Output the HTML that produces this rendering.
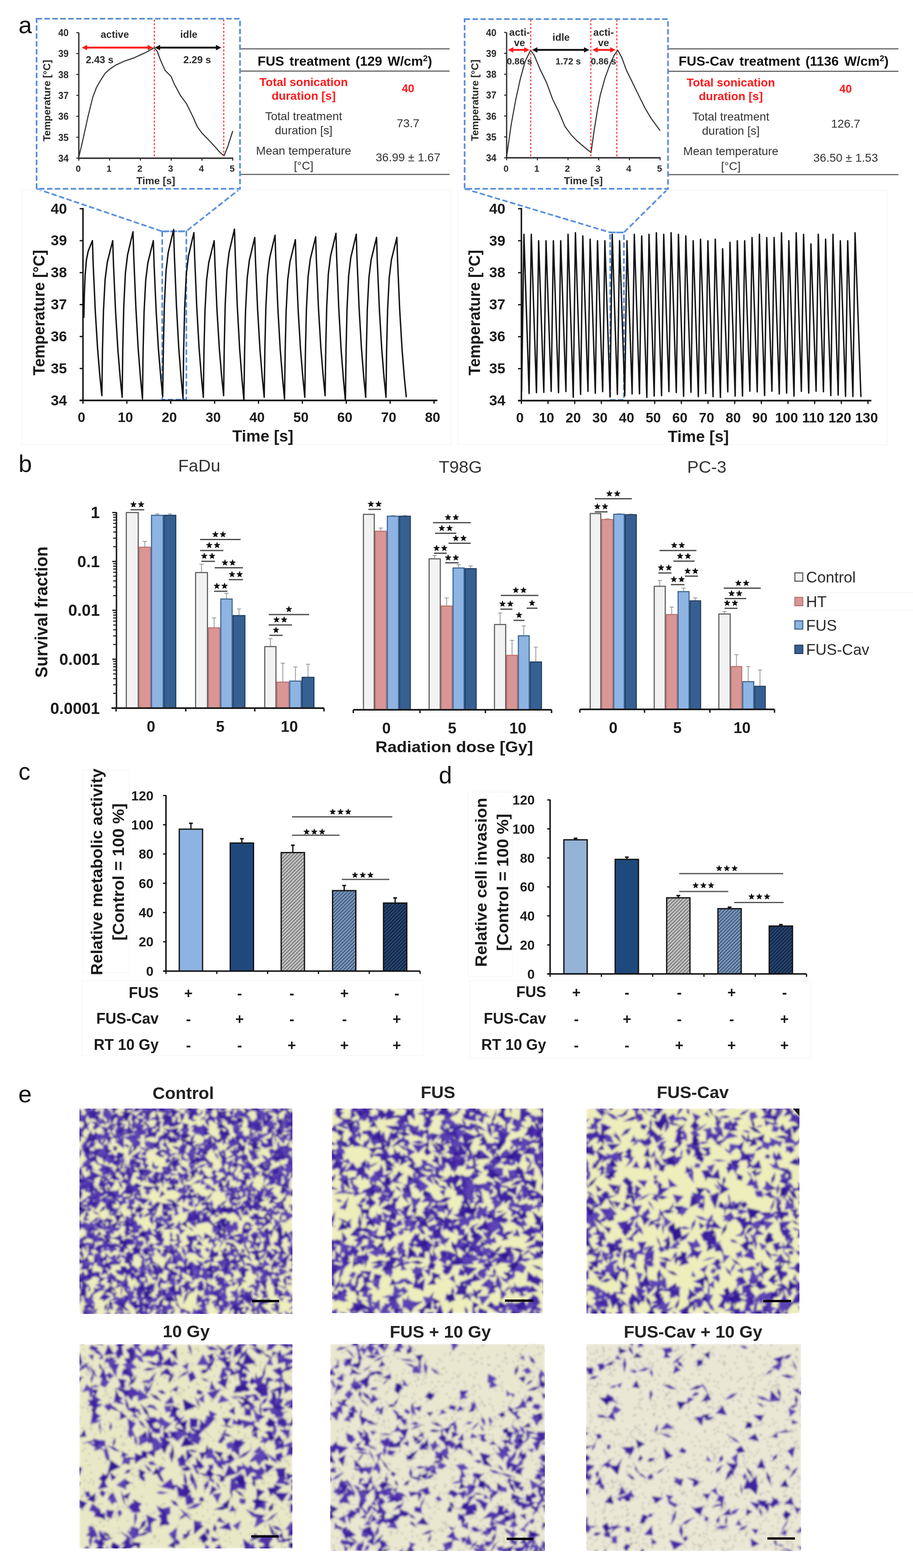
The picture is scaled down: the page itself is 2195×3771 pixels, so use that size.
<!DOCTYPE html>
<html><head><meta charset="utf-8"><title>Figure</title>
<style>html,body{margin:0;padding:0;background:#fff;} svg{display:block;} text{font-family:'Liberation Sans', Arial, sans-serif;}</style>
</head><body>
<svg width="2195" height="3771" viewBox="0 0 2195 3771">
<rect width="2195" height="3771" fill="#fff"/>
<text x="44.5" y="80.0" font-size="58" font-weight="normal" text-anchor="start" fill="#111" >a</text>
<line x1="189.5" y1="78.5" x2="189.5" y2="381.4" stroke="#2a2a2a" stroke-width="3" />
<line x1="183.5" y1="380.4" x2="189.5" y2="380.4" stroke="#2a2a2a" stroke-width="2.5" />
<text x="165.0" y="388.9" font-size="23.5" font-weight="bold" text-anchor="end" fill="#2a2a2a" textLength="25" lengthAdjust="spacingAndGlyphs">34</text>
<line x1="183.5" y1="330.1" x2="189.5" y2="330.1" stroke="#2a2a2a" stroke-width="2.5" />
<text x="165.0" y="338.6" font-size="23.5" font-weight="bold" text-anchor="end" fill="#2a2a2a" textLength="25" lengthAdjust="spacingAndGlyphs">35</text>
<line x1="183.5" y1="279.8" x2="189.5" y2="279.8" stroke="#2a2a2a" stroke-width="2.5" />
<text x="165.0" y="288.3" font-size="23.5" font-weight="bold" text-anchor="end" fill="#2a2a2a" textLength="25" lengthAdjust="spacingAndGlyphs">36</text>
<line x1="183.5" y1="229.4" x2="189.5" y2="229.4" stroke="#2a2a2a" stroke-width="2.5" />
<text x="165.0" y="237.9" font-size="23.5" font-weight="bold" text-anchor="end" fill="#2a2a2a" textLength="25" lengthAdjust="spacingAndGlyphs">37</text>
<line x1="183.5" y1="179.1" x2="189.5" y2="179.1" stroke="#2a2a2a" stroke-width="2.5" />
<text x="165.0" y="187.6" font-size="23.5" font-weight="bold" text-anchor="end" fill="#2a2a2a" textLength="25" lengthAdjust="spacingAndGlyphs">38</text>
<line x1="183.5" y1="128.8" x2="189.5" y2="128.8" stroke="#2a2a2a" stroke-width="2.5" />
<text x="165.0" y="137.3" font-size="23.5" font-weight="bold" text-anchor="end" fill="#2a2a2a" textLength="25" lengthAdjust="spacingAndGlyphs">39</text>
<line x1="183.5" y1="78.5" x2="189.5" y2="78.5" stroke="#2a2a2a" stroke-width="2.5" />
<text x="165.0" y="87.0" font-size="23.5" font-weight="bold" text-anchor="end" fill="#2a2a2a" textLength="25" lengthAdjust="spacingAndGlyphs">40</text>
<line x1="187.5" y1="380.4" x2="560.5" y2="380.4" stroke="#2a2a2a" stroke-width="3.5" />
<line x1="189.5" y1="380.4" x2="189.5" y2="386.4" stroke="#2a2a2a" stroke-width="2.5" />
<text x="188.0" y="413.4" font-size="22" font-weight="bold" text-anchor="middle" fill="#2a2a2a" >0</text>
<line x1="263.5" y1="380.4" x2="263.5" y2="386.4" stroke="#2a2a2a" stroke-width="2.5" />
<text x="262.0" y="413.4" font-size="22" font-weight="bold" text-anchor="middle" fill="#2a2a2a" >1</text>
<line x1="337.5" y1="380.4" x2="337.5" y2="386.4" stroke="#2a2a2a" stroke-width="2.5" />
<text x="336.0" y="413.4" font-size="22" font-weight="bold" text-anchor="middle" fill="#2a2a2a" >2</text>
<line x1="411.5" y1="380.4" x2="411.5" y2="386.4" stroke="#2a2a2a" stroke-width="2.5" />
<text x="410.0" y="413.4" font-size="22" font-weight="bold" text-anchor="middle" fill="#2a2a2a" >3</text>
<line x1="485.5" y1="380.4" x2="485.5" y2="386.4" stroke="#2a2a2a" stroke-width="2.5" />
<text x="484.0" y="413.4" font-size="22" font-weight="bold" text-anchor="middle" fill="#2a2a2a" >4</text>
<line x1="559.5" y1="380.4" x2="559.5" y2="386.4" stroke="#2a2a2a" stroke-width="2.5" />
<text x="558.0" y="413.4" font-size="22" font-weight="bold" text-anchor="middle" fill="#2a2a2a" >5</text>
<text x="374.5" y="443.4" font-size="24.5" font-weight="bold" text-anchor="middle" fill="#2a2a2a" >Time [s]</text>
<text x="121" y="241.95" font-size="24" font-weight="bold" text-anchor="middle" fill="#2a2a2a" transform="rotate(-90 121 241.95)" textLength="196" lengthAdjust="spacingAndGlyphs">Temperature [°C]</text>
<polyline points="189.5,377.9 198.4,340.1 211.7,279.8 222.8,234.5 232.4,209.3 242.8,191.7 252.4,176.6 263.5,166.6 278.3,156.5 300.5,146.4 322.7,138.9 344.9,128.8 359.7,121.3 370.8,114.7 378.2,123.8 385.6,143.9 396.7,169.1 411.5,184.2 418.9,201.8 433.7,229.4 448.5,249.6 463.3,279.8 474.4,304.9 485.5,320.0 500.3,335.1 518.8,355.2 529.9,367.8 538.8,374.4 548.4,350.2 559.5,315.0" fill="none" stroke="#333" stroke-width="2.6" stroke-linejoin="round" />
<line x1="371.0" y1="47.0" x2="371.0" y2="380.0" stroke="#ff1a1a" stroke-width="2.2" stroke-dasharray="5 4"/>
<line x1="538.0" y1="47.0" x2="538.0" y2="380.0" stroke="#ff1a1a" stroke-width="2.2" stroke-dasharray="5 4"/>
<line x1="208.5" y1="114.5" x2="356.0" y2="114.5" stroke="#ff1a1a" stroke-width="4.5" />
<polygon points="196.5,114.5 209.5,108.0 209.5,121.0" fill="#ff1a1a"/>
<polygon points="368,114.5 355,108.0 355,121.0" fill="#ff1a1a"/>
<line x1="384.0" y1="114.5" x2="520.0" y2="114.5" stroke="#111" stroke-width="4.5" />
<polygon points="372,114.5 385,108.0 385,121.0" fill="#111"/>
<polygon points="532,114.5 519,108.0 519,121.0" fill="#111"/>
<text x="276.0" y="91.0" font-size="24" font-weight="bold" text-anchor="middle" fill="#2a2a2a" >active</text>
<text x="454.0" y="91.0" font-size="24" font-weight="bold" text-anchor="middle" fill="#2a2a2a" >idle</text>
<text x="239.5" y="151.5" font-size="24" font-weight="bold" text-anchor="middle" fill="#2a2a2a" >2.43 s</text>
<text x="474.0" y="151.5" font-size="24" font-weight="bold" text-anchor="middle" fill="#2a2a2a" >2.29 s</text>
<line x1="1218.0" y1="78.0" x2="1218.0" y2="380.5" stroke="#2a2a2a" stroke-width="3" />
<line x1="1212.0" y1="379.5" x2="1218.0" y2="379.5" stroke="#2a2a2a" stroke-width="2.5" />
<text x="1193.5" y="388.0" font-size="23.5" font-weight="bold" text-anchor="end" fill="#2a2a2a" textLength="25" lengthAdjust="spacingAndGlyphs">34</text>
<line x1="1212.0" y1="329.2" x2="1218.0" y2="329.2" stroke="#2a2a2a" stroke-width="2.5" />
<text x="1193.5" y="337.8" font-size="23.5" font-weight="bold" text-anchor="end" fill="#2a2a2a" textLength="25" lengthAdjust="spacingAndGlyphs">35</text>
<line x1="1212.0" y1="279.0" x2="1218.0" y2="279.0" stroke="#2a2a2a" stroke-width="2.5" />
<text x="1193.5" y="287.5" font-size="23.5" font-weight="bold" text-anchor="end" fill="#2a2a2a" textLength="25" lengthAdjust="spacingAndGlyphs">36</text>
<line x1="1212.0" y1="228.8" x2="1218.0" y2="228.8" stroke="#2a2a2a" stroke-width="2.5" />
<text x="1193.5" y="237.2" font-size="23.5" font-weight="bold" text-anchor="end" fill="#2a2a2a" textLength="25" lengthAdjust="spacingAndGlyphs">37</text>
<line x1="1212.0" y1="178.5" x2="1218.0" y2="178.5" stroke="#2a2a2a" stroke-width="2.5" />
<text x="1193.5" y="187.0" font-size="23.5" font-weight="bold" text-anchor="end" fill="#2a2a2a" textLength="25" lengthAdjust="spacingAndGlyphs">38</text>
<line x1="1212.0" y1="128.2" x2="1218.0" y2="128.2" stroke="#2a2a2a" stroke-width="2.5" />
<text x="1193.5" y="136.8" font-size="23.5" font-weight="bold" text-anchor="end" fill="#2a2a2a" textLength="25" lengthAdjust="spacingAndGlyphs">39</text>
<line x1="1212.0" y1="78.0" x2="1218.0" y2="78.0" stroke="#2a2a2a" stroke-width="2.5" />
<text x="1193.5" y="86.5" font-size="23.5" font-weight="bold" text-anchor="end" fill="#2a2a2a" textLength="25" lengthAdjust="spacingAndGlyphs">40</text>
<line x1="1216.0" y1="379.5" x2="1588.0" y2="379.5" stroke="#2a2a2a" stroke-width="3.5" />
<line x1="1218.0" y1="379.5" x2="1218.0" y2="385.5" stroke="#2a2a2a" stroke-width="2.5" />
<text x="1216.5" y="412.5" font-size="22" font-weight="bold" text-anchor="middle" fill="#2a2a2a" >0</text>
<line x1="1291.8" y1="379.5" x2="1291.8" y2="385.5" stroke="#2a2a2a" stroke-width="2.5" />
<text x="1290.3" y="412.5" font-size="22" font-weight="bold" text-anchor="middle" fill="#2a2a2a" >1</text>
<line x1="1365.6" y1="379.5" x2="1365.6" y2="385.5" stroke="#2a2a2a" stroke-width="2.5" />
<text x="1364.1" y="412.5" font-size="22" font-weight="bold" text-anchor="middle" fill="#2a2a2a" >2</text>
<line x1="1439.4" y1="379.5" x2="1439.4" y2="385.5" stroke="#2a2a2a" stroke-width="2.5" />
<text x="1437.9" y="412.5" font-size="22" font-weight="bold" text-anchor="middle" fill="#2a2a2a" >3</text>
<line x1="1513.2" y1="379.5" x2="1513.2" y2="385.5" stroke="#2a2a2a" stroke-width="2.5" />
<text x="1511.7" y="412.5" font-size="22" font-weight="bold" text-anchor="middle" fill="#2a2a2a" >4</text>
<line x1="1587.0" y1="379.5" x2="1587.0" y2="385.5" stroke="#2a2a2a" stroke-width="2.5" />
<text x="1585.5" y="412.5" font-size="22" font-weight="bold" text-anchor="middle" fill="#2a2a2a" >5</text>
<text x="1402.5" y="442.5" font-size="24.5" font-weight="bold" text-anchor="middle" fill="#2a2a2a" >Time [s]</text>
<text x="1150" y="241.25" font-size="24" font-weight="bold" text-anchor="middle" fill="#2a2a2a" transform="rotate(-90 1150 241.25)" textLength="196" lengthAdjust="spacingAndGlyphs">Temperature [°C]</text>
<polyline points="1218.0,377.0 1229.1,299.1 1240.1,238.8 1251.2,188.6 1262.3,148.3 1275.6,120.7 1284.4,133.3 1299.2,168.4 1313.9,198.6 1328.7,238.8 1343.5,268.9 1358.2,304.1 1373.0,324.2 1387.7,339.3 1402.5,351.9 1421.0,366.9 1428.3,314.2 1435.7,268.9 1443.1,228.8 1454.2,188.6 1465.2,158.4 1476.3,133.3 1485.2,120.7 1494.8,138.3 1505.8,168.4 1520.6,198.6 1535.3,228.8 1550.1,258.9 1564.9,284.0 1575.9,299.1 1587.0,314.2" fill="none" stroke="#333" stroke-width="2.6" stroke-linejoin="round" />
<line x1="1276.0" y1="47.0" x2="1276.0" y2="380.0" stroke="#ff1a1a" stroke-width="2.2" stroke-dasharray="5 4"/>
<line x1="1420.5" y1="47.0" x2="1420.5" y2="380.0" stroke="#ff1a1a" stroke-width="2.2" stroke-dasharray="5 4"/>
<line x1="1483.0" y1="47.0" x2="1483.0" y2="380.0" stroke="#ff1a1a" stroke-width="2.2" stroke-dasharray="5 4"/>
<line x1="1233.0" y1="120.0" x2="1261.0" y2="120.0" stroke="#ff1a1a" stroke-width="4.5" />
<polygon points="1221,120 1234,113.5 1234,126.5" fill="#ff1a1a"/>
<polygon points="1273,120 1260,113.5 1260,126.5" fill="#ff1a1a"/>
<line x1="1291.0" y1="120.0" x2="1405.0" y2="120.0" stroke="#111" stroke-width="4.5" />
<polygon points="1279,120 1292,113.5 1292,126.5" fill="#111"/>
<polygon points="1417,120 1404,113.5 1404,126.5" fill="#111"/>
<line x1="1436.0" y1="120.0" x2="1468.0" y2="120.0" stroke="#ff1a1a" stroke-width="4.5" />
<polygon points="1424,120 1437,113.5 1437,126.5" fill="#ff1a1a"/>
<polygon points="1480,120 1467,113.5 1467,126.5" fill="#ff1a1a"/>
<text x="1249.0" y="86.0" font-size="24" font-weight="bold" text-anchor="middle" fill="#2a2a2a" >acti-</text>
<text x="1249.0" y="111.0" font-size="24" font-weight="bold" text-anchor="middle" fill="#2a2a2a" >ve</text>
<text x="1349.0" y="98.0" font-size="24" font-weight="bold" text-anchor="middle" fill="#2a2a2a" >idle</text>
<text x="1451.0" y="86.0" font-size="24" font-weight="bold" text-anchor="middle" fill="#2a2a2a" >acti-</text>
<text x="1451.0" y="111.0" font-size="24" font-weight="bold" text-anchor="middle" fill="#2a2a2a" >ve</text>
<text x="1249.0" y="155.0" font-size="22" font-weight="bold" text-anchor="middle" fill="#2a2a2a" >0.86 s</text>
<text x="1366.0" y="155.0" font-size="22" font-weight="bold" text-anchor="middle" fill="#2a2a2a" >1.72 s</text>
<text x="1451.0" y="155.0" font-size="22" font-weight="bold" text-anchor="middle" fill="#2a2a2a" >0.86 s</text>
<line x1="577.0" y1="117.5" x2="1081.0" y2="117.5" stroke="#555" stroke-width="2.5" />
<line x1="577.0" y1="171.0" x2="1081.0" y2="171.0" stroke="#555" stroke-width="2.5" />
<line x1="577.0" y1="419.5" x2="1081.0" y2="419.5" stroke="#555" stroke-width="2.5" />
<text x="829" y="157.5" font-size="32" font-weight="bold" text-anchor="middle" fill="#111" word-spacing="4">FUS treatment (129 W/cm<tspan font-size="20" dy="-11">2</tspan><tspan dy="11">)</tspan></text>
<text x="730.0" y="207.0" font-size="28" font-weight="bold" text-anchor="middle" fill="#ff1a1a" >Total sonication</text>
<text x="730.0" y="240.0" font-size="28" font-weight="bold" text-anchor="middle" fill="#ff1a1a" >duration [s]</text>
<text x="981.0" y="222.0" font-size="27" font-weight="bold" text-anchor="middle" fill="#ff1a1a" >40</text>
<text x="730.0" y="289.0" font-size="28" font-weight="normal" text-anchor="middle" fill="#333" >Total treatment</text>
<text x="730.0" y="323.0" font-size="28" font-weight="normal" text-anchor="middle" fill="#333" >duration [s]</text>
<text x="981.0" y="306.0" font-size="28" font-weight="normal" text-anchor="middle" fill="#333" >73.7</text>
<text x="730.0" y="372.0" font-size="28" font-weight="normal" text-anchor="middle" fill="#333" >Mean temperature</text>
<text x="730.0" y="408.0" font-size="28" font-weight="normal" text-anchor="middle" fill="#333" >[°C]</text>
<text x="981.0" y="388.0" font-size="28" font-weight="normal" text-anchor="middle" fill="#333" >36.99 ± 1.67</text>
<line x1="1606.0" y1="117.5" x2="2160.0" y2="117.5" stroke="#555" stroke-width="2.5" />
<line x1="1606.0" y1="171.5" x2="2160.0" y2="171.5" stroke="#555" stroke-width="2.5" />
<line x1="1606.0" y1="420.0" x2="2160.0" y2="420.0" stroke="#555" stroke-width="2.5" />
<text x="1884" y="157.5" font-size="32" font-weight="bold" text-anchor="middle" fill="#111" word-spacing="4">FUS-Cav treatment (1136 W/cm<tspan font-size="20" dy="-11">2</tspan><tspan dy="11">)</tspan></text>
<text x="1757.0" y="207.5" font-size="28" font-weight="bold" text-anchor="middle" fill="#ff1a1a" >Total sonication</text>
<text x="1757.0" y="240.5" font-size="28" font-weight="bold" text-anchor="middle" fill="#ff1a1a" >duration [s]</text>
<text x="2033.0" y="222.5" font-size="27" font-weight="bold" text-anchor="middle" fill="#ff1a1a" >40</text>
<text x="1757.0" y="289.5" font-size="28" font-weight="normal" text-anchor="middle" fill="#333" >Total treatment</text>
<text x="1757.0" y="323.5" font-size="28" font-weight="normal" text-anchor="middle" fill="#333" >duration [s]</text>
<text x="2033.0" y="306.5" font-size="28" font-weight="normal" text-anchor="middle" fill="#333" >126.7</text>
<text x="1757.0" y="372.5" font-size="28" font-weight="normal" text-anchor="middle" fill="#333" >Mean temperature</text>
<text x="1757.0" y="408.5" font-size="28" font-weight="normal" text-anchor="middle" fill="#333" >[°C]</text>
<text x="2033.0" y="388.5" font-size="28" font-weight="normal" text-anchor="middle" fill="#333" >36.50 ± 1.53</text>
<rect x="88" y="45" width="489" height="409" stroke="#5a90dc" stroke-width="4" stroke-dasharray="13 6" fill="none"/>
<polyline points="88,454 390,556.5 448,556 577,454" stroke="#5a90dc" stroke-width="4" stroke-dasharray="13 6" fill="none"/>
<rect x="390" y="556.5" width="58" height="404.5" stroke="#5a90dc" stroke-width="4" stroke-dasharray="13 6" fill="none"/>
<rect x="1117" y="46" width="489" height="408" stroke="#5a90dc" stroke-width="4" stroke-dasharray="13 6" fill="none"/>
<polyline points="1117,454 1467,559 1500,559 1606,454" stroke="#5a90dc" stroke-width="4" stroke-dasharray="13 6" fill="none"/>
<rect x="1467" y="559" width="33" height="403" stroke="#5a90dc" stroke-width="4" stroke-dasharray="13 6" fill="none"/>
<rect x="52" y="457" width="1033" height="612" fill="none" stroke="#f5f5f5" stroke-width="1.5"/>
<rect x="1101" y="458" width="1032" height="611" fill="none" stroke="#f5f5f5" stroke-width="1.5"/>
<polyline points="199.5,732.5 201.6,763.2 202.8,707.9 204.7,661.8 207.8,624.9 211.9,604.6 217.0,591.7 222.2,578.8 224.0,634.7 229.0,746.5 234.7,839.7 240.3,906.8 244.9,951.5 244.9,951.5 246.4,839.7 248.8,746.5 252.7,672.0 257.9,631.0 264.4,604.9 271.0,578.8 272.8,635.3 277.8,748.3 283.5,842.4 289.1,910.1 293.7,955.3 293.7,955.3 295.2,835.9 297.6,736.4 301.5,656.8 306.7,613.0 313.2,585.2 319.8,557.3 321.6,617.6 326.6,738.1 332.2,838.6 337.9,910.9 342.5,959.2 342.5,959.2 344.0,845.1 346.4,750.0 350.3,673.9 355.5,632.1 362.0,605.5 368.6,578.8 370.4,635.1 375.4,747.6 381.0,841.3 386.7,908.8 391.2,953.8 391.2,953.8 392.8,833.2 395.2,732.8 399.1,652.4 404.3,608.2 410.8,580.1 417.4,551.9 419.2,613.0 424.2,735.2 429.8,837.0 435.5,910.3 440.0,959.2 440.0,959.2 441.6,839.3 444.0,739.4 447.9,659.5 453.1,615.6 459.6,587.6 466.2,559.6 468.0,619.0 473.0,737.7 478.6,836.6 484.3,907.8 488.8,955.3 488.8,955.3 490.4,842.4 492.8,748.3 496.7,673.0 501.9,631.5 508.4,605.2 514.9,578.8 516.8,634.7 521.7,746.5 527.4,839.7 533.1,906.8 537.6,951.5 537.6,951.5 539.2,831.4 541.5,731.3 545.5,651.2 550.7,607.2 557.2,579.2 563.7,551.2 565.6,612.9 570.5,736.5 576.2,839.5 581.9,913.6 586.4,963.0 586.4,963.0 588.0,845.4 590.3,747.5 594.3,669.1 599.5,626.0 606.0,598.6 612.5,571.1 614.3,628.8 619.3,744.0 625.0,840.1 630.7,909.2 635.2,955.3 635.2,955.3 636.8,838.5 639.1,741.1 643.0,663.2 648.3,620.3 654.8,593.0 661.3,565.8 663.1,624.8 668.1,742.8 673.8,841.1 679.5,912.0 684.0,959.2 684.0,959.2 685.6,844.4 687.9,748.7 691.8,672.2 697.1,630.1 703.6,603.3 710.1,576.5 711.9,633.3 716.9,747.0 722.6,841.7 728.3,909.9 732.8,955.3 732.8,955.3 734.4,839.6 736.7,743.2 740.6,666.0 745.9,623.6 752.4,596.6 758.9,569.6 760.7,626.9 765.7,741.5 771.4,836.9 777.1,905.7 781.6,951.5 781.6,951.5 783.2,834.4 785.5,736.8 789.4,658.7 794.7,615.8 801.2,588.5 807.7,561.2 809.5,621.4 814.5,742.0 820.2,842.4 825.9,914.8 830.4,963.0 830.4,963.0 832.0,843.1 834.3,743.3 838.2,663.3 843.4,619.4 850.0,591.4 856.5,563.5 858.3,622.2 863.3,739.8 869.0,837.8 874.6,908.3 879.2,955.3 879.2,955.3 880.8,840.1 883.1,744.0 887.0,667.2 892.2,624.9 898.8,598.0 905.3,571.1 907.1,628.8 912.1,744.0 917.8,840.1 923.4,909.2 928.0,955.3 928.0,955.3 929.5,840.1 931.9,744.0 935.8,667.2 941.0,624.9 947.6,598.0 954.1,571.1 955.9,628.8 960.9,744.0 966.6,840.1 972.2,909.2 976.8,955.3" fill="none" stroke="#151515" stroke-width="3.4" stroke-linejoin="round" />
<line x1="199.5" y1="500.0" x2="199.5" y2="964.5" stroke="#111" stroke-width="3.5" />
<line x1="191.5" y1="963.0" x2="199.5" y2="963.0" stroke="#111" stroke-width="3" />
<text x="161.0" y="974.6" font-size="35" font-weight="bold" text-anchor="end" fill="#1a1a1a" >34</text>
<line x1="191.5" y1="886.2" x2="199.5" y2="886.2" stroke="#111" stroke-width="3" />
<text x="161.0" y="897.8" font-size="35" font-weight="bold" text-anchor="end" fill="#1a1a1a" >35</text>
<line x1="191.5" y1="809.3" x2="199.5" y2="809.3" stroke="#111" stroke-width="3" />
<text x="161.0" y="820.9" font-size="35" font-weight="bold" text-anchor="end" fill="#1a1a1a" >36</text>
<line x1="191.5" y1="732.5" x2="199.5" y2="732.5" stroke="#111" stroke-width="3" />
<text x="161.0" y="744.1" font-size="35" font-weight="bold" text-anchor="end" fill="#1a1a1a" >37</text>
<line x1="191.5" y1="655.7" x2="199.5" y2="655.7" stroke="#111" stroke-width="3" />
<text x="161.0" y="667.3" font-size="35" font-weight="bold" text-anchor="end" fill="#1a1a1a" >38</text>
<line x1="191.5" y1="578.8" x2="199.5" y2="578.8" stroke="#111" stroke-width="3" />
<text x="161.0" y="590.4" font-size="35" font-weight="bold" text-anchor="end" fill="#1a1a1a" >39</text>
<line x1="191.5" y1="502.0" x2="199.5" y2="502.0" stroke="#111" stroke-width="3" />
<text x="161.0" y="513.6" font-size="35" font-weight="bold" text-anchor="end" fill="#1a1a1a" >40</text>
<line x1="191.5" y1="963.0" x2="1051.5" y2="963.0" stroke="#111" stroke-width="4" />
<line x1="199.5" y1="963.0" x2="199.5" y2="971.0" stroke="#111" stroke-width="3" />
<text x="196.0" y="1015.0" font-size="33" font-weight="bold" text-anchor="middle" fill="#1a1a1a" >0</text>
<line x1="305.0" y1="963.0" x2="305.0" y2="971.0" stroke="#111" stroke-width="3" />
<text x="301.5" y="1015.0" font-size="33" font-weight="bold" text-anchor="middle" fill="#1a1a1a" >10</text>
<line x1="410.5" y1="963.0" x2="410.5" y2="971.0" stroke="#111" stroke-width="3" />
<text x="407.0" y="1015.0" font-size="33" font-weight="bold" text-anchor="middle" fill="#1a1a1a" >20</text>
<line x1="516.0" y1="963.0" x2="516.0" y2="971.0" stroke="#111" stroke-width="3" />
<text x="512.5" y="1015.0" font-size="33" font-weight="bold" text-anchor="middle" fill="#1a1a1a" >30</text>
<line x1="621.5" y1="963.0" x2="621.5" y2="971.0" stroke="#111" stroke-width="3" />
<text x="618.0" y="1015.0" font-size="33" font-weight="bold" text-anchor="middle" fill="#1a1a1a" >40</text>
<line x1="727.0" y1="963.0" x2="727.0" y2="971.0" stroke="#111" stroke-width="3" />
<text x="723.5" y="1015.0" font-size="33" font-weight="bold" text-anchor="middle" fill="#1a1a1a" >50</text>
<line x1="832.5" y1="963.0" x2="832.5" y2="971.0" stroke="#111" stroke-width="3" />
<text x="829.0" y="1015.0" font-size="33" font-weight="bold" text-anchor="middle" fill="#1a1a1a" >60</text>
<line x1="938.0" y1="963.0" x2="938.0" y2="971.0" stroke="#111" stroke-width="3" />
<text x="934.5" y="1015.0" font-size="33" font-weight="bold" text-anchor="middle" fill="#1a1a1a" >70</text>
<line x1="1043.5" y1="963.0" x2="1043.5" y2="971.0" stroke="#111" stroke-width="3" />
<text x="1040.0" y="1015.0" font-size="33" font-weight="bold" text-anchor="middle" fill="#1a1a1a" >80</text>
<text x="632.0" y="1062.0" font-size="38.5" font-weight="bold" text-anchor="middle" fill="#1a1a1a" >Time [s]</text>
<text x="107" y="752" font-size="38" font-weight="bold" text-anchor="middle" fill="#1a1a1a" transform="rotate(-90 107 752)" textLength="302" lengthAdjust="spacingAndGlyphs">Temperature [°C]</text>
<polyline points="1253.5,578.9 1254.1,940.4 1259.6,563.5 1272.0,946.2 1277.3,563.5 1289.7,944.4 1295.0,578.9 1307.4,943.6 1312.7,578.9 1325.1,941.3 1330.4,578.9 1342.8,944.4 1348.0,578.9 1360.5,941.6 1365.7,563.5 1378.2,955.4 1383.4,559.7 1395.9,948.6 1401.1,567.4 1413.6,941.3 1418.8,575.1 1431.2,945.8 1436.5,578.9 1448.9,941.9 1454.2,578.9 1466.6,954.1 1471.9,563.5 1484.3,948.6 1489.6,578.9 1502.0,952.0 1507.3,578.9 1519.7,947.4 1525.0,563.5 1537.4,947.0 1542.7,567.4 1555.1,955.6 1560.3,563.5 1572.8,952.5 1578.0,559.7 1590.5,951.5 1595.7,563.5 1608.2,941.7 1613.4,559.7 1625.9,944.0 1631.1,563.5 1643.5,953.4 1648.8,567.4 1661.2,943.5 1666.5,578.9 1678.9,953.7 1684.2,575.1 1696.6,946.3 1701.9,578.9 1714.3,953.9 1719.6,575.1 1732.0,955.8 1737.3,598.1 1749.7,942.4 1755.0,582.8 1767.4,952.6 1772.6,578.9 1785.1,952.5 1790.3,578.9 1802.8,940.7 1808.0,571.2 1820.5,942.4 1825.7,563.5 1838.2,951.4 1843.4,571.2 1855.8,941.0 1861.1,571.2 1873.5,947.5 1878.8,559.7 1891.2,945.4 1896.5,578.9 1908.9,952.7 1914.2,559.7 1926.6,941.3 1931.9,563.5 1944.3,945.2 1949.6,586.6 1962.0,940.9 1967.3,563.5 1979.7,942.1 1984.9,575.1 1997.4,951.2 2002.6,563.5 2015.1,950.3 2020.3,578.9 2032.8,953.3 2038.0,578.9 2050.5,953.6 2055.7,559.7 2069.8,954.8" fill="none" stroke="#151515" stroke-width="3.4" stroke-linejoin="round" />
<line x1="1253.5" y1="500.0" x2="1253.5" y2="965.0" stroke="#111" stroke-width="3.5" />
<line x1="1245.5" y1="963.5" x2="1253.5" y2="963.5" stroke="#111" stroke-width="3" />
<text x="1215.0" y="975.1" font-size="35" font-weight="bold" text-anchor="end" fill="#1a1a1a" >34</text>
<line x1="1245.5" y1="886.6" x2="1253.5" y2="886.6" stroke="#111" stroke-width="3" />
<text x="1215.0" y="898.2" font-size="35" font-weight="bold" text-anchor="end" fill="#1a1a1a" >35</text>
<line x1="1245.5" y1="809.7" x2="1253.5" y2="809.7" stroke="#111" stroke-width="3" />
<text x="1215.0" y="821.3" font-size="35" font-weight="bold" text-anchor="end" fill="#1a1a1a" >36</text>
<line x1="1245.5" y1="732.8" x2="1253.5" y2="732.8" stroke="#111" stroke-width="3" />
<text x="1215.0" y="744.4" font-size="35" font-weight="bold" text-anchor="end" fill="#1a1a1a" >37</text>
<line x1="1245.5" y1="655.8" x2="1253.5" y2="655.8" stroke="#111" stroke-width="3" />
<text x="1215.0" y="667.4" font-size="35" font-weight="bold" text-anchor="end" fill="#1a1a1a" >38</text>
<line x1="1245.5" y1="578.9" x2="1253.5" y2="578.9" stroke="#111" stroke-width="3" />
<text x="1215.0" y="590.5" font-size="35" font-weight="bold" text-anchor="end" fill="#1a1a1a" >39</text>
<line x1="1245.5" y1="502.0" x2="1253.5" y2="502.0" stroke="#111" stroke-width="3" />
<text x="1215.0" y="513.6" font-size="35" font-weight="bold" text-anchor="end" fill="#1a1a1a" >40</text>
<line x1="1245.5" y1="963.5" x2="2094.8" y2="963.5" stroke="#111" stroke-width="4" />
<line x1="1253.5" y1="963.5" x2="1253.5" y2="971.5" stroke="#111" stroke-width="3" />
<text x="1250.0" y="1015.5" font-size="33" font-weight="bold" text-anchor="middle" fill="#1a1a1a" >0</text>
<line x1="1317.6" y1="963.5" x2="1317.6" y2="971.5" stroke="#111" stroke-width="3" />
<text x="1314.1" y="1015.5" font-size="33" font-weight="bold" text-anchor="middle" fill="#1a1a1a" >10</text>
<line x1="1381.7" y1="963.5" x2="1381.7" y2="971.5" stroke="#111" stroke-width="3" />
<text x="1378.2" y="1015.5" font-size="33" font-weight="bold" text-anchor="middle" fill="#1a1a1a" >20</text>
<line x1="1445.8" y1="963.5" x2="1445.8" y2="971.5" stroke="#111" stroke-width="3" />
<text x="1442.3" y="1015.5" font-size="33" font-weight="bold" text-anchor="middle" fill="#1a1a1a" >30</text>
<line x1="1509.9" y1="963.5" x2="1509.9" y2="971.5" stroke="#111" stroke-width="3" />
<text x="1506.4" y="1015.5" font-size="33" font-weight="bold" text-anchor="middle" fill="#1a1a1a" >40</text>
<line x1="1574.0" y1="963.5" x2="1574.0" y2="971.5" stroke="#111" stroke-width="3" />
<text x="1570.5" y="1015.5" font-size="33" font-weight="bold" text-anchor="middle" fill="#1a1a1a" >50</text>
<line x1="1638.1" y1="963.5" x2="1638.1" y2="971.5" stroke="#111" stroke-width="3" />
<text x="1634.6" y="1015.5" font-size="33" font-weight="bold" text-anchor="middle" fill="#1a1a1a" >60</text>
<line x1="1702.2" y1="963.5" x2="1702.2" y2="971.5" stroke="#111" stroke-width="3" />
<text x="1698.7" y="1015.5" font-size="33" font-weight="bold" text-anchor="middle" fill="#1a1a1a" >70</text>
<line x1="1766.3" y1="963.5" x2="1766.3" y2="971.5" stroke="#111" stroke-width="3" />
<text x="1762.8" y="1015.5" font-size="33" font-weight="bold" text-anchor="middle" fill="#1a1a1a" >80</text>
<line x1="1830.4" y1="963.5" x2="1830.4" y2="971.5" stroke="#111" stroke-width="3" />
<text x="1826.9" y="1015.5" font-size="33" font-weight="bold" text-anchor="middle" fill="#1a1a1a" >90</text>
<line x1="1894.5" y1="963.5" x2="1894.5" y2="971.5" stroke="#111" stroke-width="3" />
<text x="1891.0" y="1015.5" font-size="33" font-weight="bold" text-anchor="middle" fill="#1a1a1a" >100</text>
<line x1="1958.6" y1="963.5" x2="1958.6" y2="971.5" stroke="#111" stroke-width="3" />
<text x="1955.1" y="1015.5" font-size="33" font-weight="bold" text-anchor="middle" fill="#1a1a1a" >110</text>
<line x1="2022.7" y1="963.5" x2="2022.7" y2="971.5" stroke="#111" stroke-width="3" />
<text x="2019.2" y="1015.5" font-size="33" font-weight="bold" text-anchor="middle" fill="#1a1a1a" >120</text>
<line x1="2086.8" y1="963.5" x2="2086.8" y2="971.5" stroke="#111" stroke-width="3" />
<text x="2083.3" y="1015.5" font-size="33" font-weight="bold" text-anchor="middle" fill="#1a1a1a" >130</text>
<text x="1679.0" y="1062.5" font-size="38.5" font-weight="bold" text-anchor="middle" fill="#1a1a1a" >Time [s]</text>
<text x="1153.5" y="752" font-size="38" font-weight="bold" text-anchor="middle" fill="#1a1a1a" transform="rotate(-90 1153.5 752)" textLength="302" lengthAdjust="spacingAndGlyphs">Temperature [°C]</text>
<text x="44.5" y="1134.5" font-size="58" font-weight="normal" text-anchor="start" fill="#111" >b</text>
<text x="479.0" y="1134.2" font-size="41.5" font-weight="normal" text-anchor="middle" fill="#333" >FaDu</text>
<text x="1106.8" y="1136.5" font-size="41.5" font-weight="normal" text-anchor="middle" fill="#333" >T98G</text>
<text x="1699.3" y="1136.5" font-size="41.5" font-weight="normal" text-anchor="middle" fill="#333" >PC-3</text>
<rect x="303.7" y="1232.7" width="28.6" height="470.3" fill="#f2f2f2" stroke="#5a5a5a" stroke-width="2.6"/>
<line x1="348.2" y1="1302.0" x2="348.2" y2="1316.0" stroke="#9a9a9a" stroke-width="2" />
<line x1="343.2" y1="1302.0" x2="353.2" y2="1302.0" stroke="#9a9a9a" stroke-width="2" />
<rect x="334.7" y="1316.0" width="27.1" height="387.0" fill="#d99694" stroke="#b87573" stroke-width="2.6"/>
<line x1="378.2" y1="1236.0" x2="378.2" y2="1239.3" stroke="#9a9a9a" stroke-width="2" />
<line x1="373.2" y1="1236.0" x2="383.2" y2="1236.0" stroke="#9a9a9a" stroke-width="2" />
<rect x="364.2" y="1239.3" width="28.1" height="463.7" fill="#8db4e2" stroke="#3d6591" stroke-width="2.6"/>
<line x1="408.6" y1="1236.0" x2="408.6" y2="1239.3" stroke="#9a9a9a" stroke-width="2" />
<line x1="403.6" y1="1236.0" x2="413.6" y2="1236.0" stroke="#9a9a9a" stroke-width="2" />
<rect x="394.7" y="1239.3" width="27.9" height="463.7" fill="#376092" stroke="#223f63" stroke-width="2.6"/>
<line x1="484.5" y1="1357.0" x2="484.5" y2="1377.0" stroke="#9a9a9a" stroke-width="2" />
<line x1="479.5" y1="1357.0" x2="489.5" y2="1357.0" stroke="#9a9a9a" stroke-width="2" />
<rect x="470.2" y="1377.0" width="28.6" height="326.0" fill="#f2f2f2" stroke="#5a5a5a" stroke-width="2.6"/>
<line x1="514.8" y1="1486.0" x2="514.8" y2="1510.0" stroke="#9a9a9a" stroke-width="2" />
<line x1="509.8" y1="1486.0" x2="519.8" y2="1486.0" stroke="#9a9a9a" stroke-width="2" />
<rect x="501.2" y="1510.0" width="27.2" height="193.0" fill="#d99694" stroke="#b87573" stroke-width="2.6"/>
<line x1="544.5" y1="1427.0" x2="544.5" y2="1440.6" stroke="#9a9a9a" stroke-width="2" />
<line x1="539.5" y1="1427.0" x2="549.5" y2="1427.0" stroke="#9a9a9a" stroke-width="2" />
<rect x="530.8" y="1440.6" width="27.3" height="262.4" fill="#8db4e2" stroke="#3d6591" stroke-width="2.6"/>
<line x1="574.6" y1="1464.5" x2="574.6" y2="1480.5" stroke="#9a9a9a" stroke-width="2" />
<line x1="569.6" y1="1464.5" x2="579.6" y2="1464.5" stroke="#9a9a9a" stroke-width="2" />
<rect x="560.5" y="1480.5" width="28.3" height="222.5" fill="#376092" stroke="#223f63" stroke-width="2.6"/>
<line x1="650.0" y1="1536.0" x2="650.0" y2="1555.0" stroke="#9a9a9a" stroke-width="2" />
<line x1="645.0" y1="1536.0" x2="655.0" y2="1536.0" stroke="#9a9a9a" stroke-width="2" />
<rect x="636.6" y="1555.0" width="26.8" height="148.0" fill="#f2f2f2" stroke="#5a5a5a" stroke-width="2.6"/>
<line x1="680.0" y1="1595.0" x2="680.0" y2="1640.5" stroke="#9a9a9a" stroke-width="2" />
<line x1="675.0" y1="1595.0" x2="685.0" y2="1595.0" stroke="#9a9a9a" stroke-width="2" />
<rect x="665.8" y="1640.5" width="28.4" height="62.5" fill="#d99694" stroke="#b87573" stroke-width="2.6"/>
<line x1="710.3" y1="1604.0" x2="710.3" y2="1638.0" stroke="#9a9a9a" stroke-width="2" />
<line x1="705.3" y1="1604.0" x2="715.3" y2="1604.0" stroke="#9a9a9a" stroke-width="2" />
<rect x="696.6" y="1638.0" width="27.4" height="65.0" fill="#8db4e2" stroke="#3d6591" stroke-width="2.6"/>
<line x1="740.6" y1="1597.5" x2="740.6" y2="1629.0" stroke="#9a9a9a" stroke-width="2" />
<line x1="735.6" y1="1597.5" x2="745.6" y2="1597.5" stroke="#9a9a9a" stroke-width="2" />
<rect x="726.4" y="1629.0" width="28.4" height="74.0" fill="#376092" stroke="#223f63" stroke-width="2.6"/>
<line x1="280.0" y1="1231.7" x2="280.0" y2="1703.0" stroke="#1a1a1a" stroke-width="3.5" />
<line x1="270.0" y1="1232.7" x2="280.0" y2="1232.7" stroke="#1a1a1a" stroke-width="3" />
<line x1="272.0" y1="1314.9" x2="280.0" y2="1314.9" stroke="#1a1a1a" stroke-width="2.5" />
<line x1="272.0" y1="1294.2" x2="280.0" y2="1294.2" stroke="#1a1a1a" stroke-width="2.5" />
<line x1="272.0" y1="1279.5" x2="280.0" y2="1279.5" stroke="#1a1a1a" stroke-width="2.5" />
<line x1="272.0" y1="1268.1" x2="280.0" y2="1268.1" stroke="#1a1a1a" stroke-width="2.5" />
<line x1="272.0" y1="1258.8" x2="280.0" y2="1258.8" stroke="#1a1a1a" stroke-width="2.5" />
<line x1="272.0" y1="1250.9" x2="280.0" y2="1250.9" stroke="#1a1a1a" stroke-width="2.5" />
<line x1="272.0" y1="1244.1" x2="280.0" y2="1244.1" stroke="#1a1a1a" stroke-width="2.5" />
<line x1="272.0" y1="1238.1" x2="280.0" y2="1238.1" stroke="#1a1a1a" stroke-width="2.5" />
<line x1="270.0" y1="1350.3" x2="280.0" y2="1350.3" stroke="#1a1a1a" stroke-width="3" />
<line x1="272.0" y1="1432.5" x2="280.0" y2="1432.5" stroke="#1a1a1a" stroke-width="2.5" />
<line x1="272.0" y1="1411.8" x2="280.0" y2="1411.8" stroke="#1a1a1a" stroke-width="2.5" />
<line x1="272.0" y1="1397.1" x2="280.0" y2="1397.1" stroke="#1a1a1a" stroke-width="2.5" />
<line x1="272.0" y1="1385.7" x2="280.0" y2="1385.7" stroke="#1a1a1a" stroke-width="2.5" />
<line x1="272.0" y1="1376.4" x2="280.0" y2="1376.4" stroke="#1a1a1a" stroke-width="2.5" />
<line x1="272.0" y1="1368.5" x2="280.0" y2="1368.5" stroke="#1a1a1a" stroke-width="2.5" />
<line x1="272.0" y1="1361.7" x2="280.0" y2="1361.7" stroke="#1a1a1a" stroke-width="2.5" />
<line x1="272.0" y1="1355.7" x2="280.0" y2="1355.7" stroke="#1a1a1a" stroke-width="2.5" />
<line x1="270.0" y1="1467.8" x2="280.0" y2="1467.8" stroke="#1a1a1a" stroke-width="3" />
<line x1="272.0" y1="1550.0" x2="280.0" y2="1550.0" stroke="#1a1a1a" stroke-width="2.5" />
<line x1="272.0" y1="1529.3" x2="280.0" y2="1529.3" stroke="#1a1a1a" stroke-width="2.5" />
<line x1="272.0" y1="1514.6" x2="280.0" y2="1514.6" stroke="#1a1a1a" stroke-width="2.5" />
<line x1="272.0" y1="1503.2" x2="280.0" y2="1503.2" stroke="#1a1a1a" stroke-width="2.5" />
<line x1="272.0" y1="1493.9" x2="280.0" y2="1493.9" stroke="#1a1a1a" stroke-width="2.5" />
<line x1="272.0" y1="1486.1" x2="280.0" y2="1486.1" stroke="#1a1a1a" stroke-width="2.5" />
<line x1="272.0" y1="1479.2" x2="280.0" y2="1479.2" stroke="#1a1a1a" stroke-width="2.5" />
<line x1="272.0" y1="1473.2" x2="280.0" y2="1473.2" stroke="#1a1a1a" stroke-width="2.5" />
<line x1="270.0" y1="1585.4" x2="280.0" y2="1585.4" stroke="#1a1a1a" stroke-width="3" />
<line x1="272.0" y1="1667.6" x2="280.0" y2="1667.6" stroke="#1a1a1a" stroke-width="2.5" />
<line x1="272.0" y1="1646.9" x2="280.0" y2="1646.9" stroke="#1a1a1a" stroke-width="2.5" />
<line x1="272.0" y1="1632.2" x2="280.0" y2="1632.2" stroke="#1a1a1a" stroke-width="2.5" />
<line x1="272.0" y1="1620.8" x2="280.0" y2="1620.8" stroke="#1a1a1a" stroke-width="2.5" />
<line x1="272.0" y1="1611.5" x2="280.0" y2="1611.5" stroke="#1a1a1a" stroke-width="2.5" />
<line x1="272.0" y1="1603.6" x2="280.0" y2="1603.6" stroke="#1a1a1a" stroke-width="2.5" />
<line x1="272.0" y1="1596.8" x2="280.0" y2="1596.8" stroke="#1a1a1a" stroke-width="2.5" />
<line x1="272.0" y1="1590.8" x2="280.0" y2="1590.8" stroke="#1a1a1a" stroke-width="2.5" />
<line x1="270.0" y1="1703.0" x2="280.0" y2="1703.0" stroke="#1a1a1a" stroke-width="3" />
<text x="240.0" y="1246.2" font-size="39" font-weight="bold" text-anchor="end" fill="#1a1a1a" >1</text>
<text x="240.0" y="1363.8" font-size="39" font-weight="bold" text-anchor="end" fill="#1a1a1a" >0.1</text>
<text x="240.0" y="1481.3" font-size="39" font-weight="bold" text-anchor="end" fill="#1a1a1a" >0.01</text>
<text x="240.0" y="1598.9" font-size="39" font-weight="bold" text-anchor="end" fill="#1a1a1a" >0.001</text>
<text x="240.0" y="1716.5" font-size="39" font-weight="bold" text-anchor="end" fill="#1a1a1a" >0.0001</text>
<text x="114" y="1472" font-size="42" font-weight="bold" text-anchor="middle" fill="#1a1a1a" transform="rotate(-90 114 1472)" textLength="316" lengthAdjust="spacingAndGlyphs">Survival fraction</text>
<line x1="268.0" y1="1703.0" x2="779.0" y2="1703.0" stroke="#1a1a1a" stroke-width="4" />
<line x1="279.0" y1="1703.0" x2="279.0" y2="1711.0" stroke="#1a1a1a" stroke-width="3.5" />
<line x1="446.6" y1="1703.0" x2="446.6" y2="1711.0" stroke="#1a1a1a" stroke-width="3.5" />
<line x1="612.5" y1="1703.0" x2="612.5" y2="1711.0" stroke="#1a1a1a" stroke-width="3.5" />
<line x1="779.0" y1="1703.0" x2="779.0" y2="1711.0" stroke="#1a1a1a" stroke-width="3.5" />
<text x="363.0" y="1760.0" font-size="37" font-weight="bold" text-anchor="middle" fill="#1a1a1a" >0</text>
<text x="529.5" y="1760.0" font-size="37" font-weight="bold" text-anchor="middle" fill="#1a1a1a" >5</text>
<text x="695.7" y="1760.0" font-size="37" font-weight="bold" text-anchor="middle" fill="#1a1a1a" >10</text>
<line x1="313.7" y1="1226.0" x2="346.7" y2="1226.0" stroke="#4a4a4a" stroke-width="3" />
<text x="320.9" y="1219.1" font-size="17.5" text-anchor="middle" fill="#111" stroke="#111" stroke-width="1.4" stroke-linejoin="round" style="font-family:'DejaVu Sans',sans-serif">★</text>
<text x="339.4" y="1219.1" font-size="17.5" text-anchor="middle" fill="#111" stroke="#111" stroke-width="1.4" stroke-linejoin="round" style="font-family:'DejaVu Sans',sans-serif">★</text>
<line x1="481.0" y1="1297.6" x2="578.5" y2="1297.6" stroke="#4a4a4a" stroke-width="3" />
<text x="517.8" y="1290.7" font-size="17.5" text-anchor="middle" fill="#111" stroke="#111" stroke-width="1.4" stroke-linejoin="round" style="font-family:'DejaVu Sans',sans-serif">★</text>
<text x="536.2" y="1290.7" font-size="17.5" text-anchor="middle" fill="#111" stroke="#111" stroke-width="1.4" stroke-linejoin="round" style="font-family:'DejaVu Sans',sans-serif">★</text>
<line x1="481.0" y1="1324.0" x2="537.0" y2="1324.0" stroke="#4a4a4a" stroke-width="3" />
<text x="503.2" y="1317.1" font-size="17.5" text-anchor="middle" fill="#111" stroke="#111" stroke-width="1.4" stroke-linejoin="round" style="font-family:'DejaVu Sans',sans-serif">★</text>
<text x="521.8" y="1317.1" font-size="17.5" text-anchor="middle" fill="#111" stroke="#111" stroke-width="1.4" stroke-linejoin="round" style="font-family:'DejaVu Sans',sans-serif">★</text>
<line x1="484.0" y1="1350.0" x2="517.0" y2="1350.0" stroke="#4a4a4a" stroke-width="3" />
<text x="491.2" y="1343.1" font-size="17.5" text-anchor="middle" fill="#111" stroke="#111" stroke-width="1.4" stroke-linejoin="round" style="font-family:'DejaVu Sans',sans-serif">★</text>
<text x="509.8" y="1343.1" font-size="17.5" text-anchor="middle" fill="#111" stroke="#111" stroke-width="1.4" stroke-linejoin="round" style="font-family:'DejaVu Sans',sans-serif">★</text>
<line x1="516.0" y1="1365.6" x2="584.0" y2="1365.6" stroke="#4a4a4a" stroke-width="3" />
<text x="540.8" y="1358.7" font-size="17.5" text-anchor="middle" fill="#111" stroke="#111" stroke-width="1.4" stroke-linejoin="round" style="font-family:'DejaVu Sans',sans-serif">★</text>
<text x="559.2" y="1358.7" font-size="17.5" text-anchor="middle" fill="#111" stroke="#111" stroke-width="1.4" stroke-linejoin="round" style="font-family:'DejaVu Sans',sans-serif">★</text>
<line x1="550.0" y1="1394.0" x2="584.0" y2="1394.0" stroke="#4a4a4a" stroke-width="3" />
<text x="557.8" y="1387.1" font-size="17.5" text-anchor="middle" fill="#111" stroke="#111" stroke-width="1.4" stroke-linejoin="round" style="font-family:'DejaVu Sans',sans-serif">★</text>
<text x="576.2" y="1387.1" font-size="17.5" text-anchor="middle" fill="#111" stroke="#111" stroke-width="1.4" stroke-linejoin="round" style="font-family:'DejaVu Sans',sans-serif">★</text>
<line x1="514.7" y1="1422.0" x2="546.6" y2="1422.0" stroke="#4a4a4a" stroke-width="3" />
<text x="521.4" y="1415.1" font-size="17.5" text-anchor="middle" fill="#111" stroke="#111" stroke-width="1.4" stroke-linejoin="round" style="font-family:'DejaVu Sans',sans-serif">★</text>
<text x="539.9" y="1415.1" font-size="17.5" text-anchor="middle" fill="#111" stroke="#111" stroke-width="1.4" stroke-linejoin="round" style="font-family:'DejaVu Sans',sans-serif">★</text>
<line x1="646.0" y1="1478.0" x2="743.0" y2="1478.0" stroke="#4a4a4a" stroke-width="3" />
<text x="694.5" y="1471.1" font-size="17.5" text-anchor="middle" fill="#111" stroke="#111" stroke-width="1.4" stroke-linejoin="round" style="font-family:'DejaVu Sans',sans-serif">★</text>
<line x1="646.0" y1="1503.0" x2="702.0" y2="1503.0" stroke="#4a4a4a" stroke-width="3" />
<text x="664.8" y="1496.1" font-size="17.5" text-anchor="middle" fill="#111" stroke="#111" stroke-width="1.4" stroke-linejoin="round" style="font-family:'DejaVu Sans',sans-serif">★</text>
<text x="683.2" y="1496.1" font-size="17.5" text-anchor="middle" fill="#111" stroke="#111" stroke-width="1.4" stroke-linejoin="round" style="font-family:'DejaVu Sans',sans-serif">★</text>
<line x1="647.6" y1="1528.0" x2="679.5" y2="1528.0" stroke="#4a4a4a" stroke-width="3" />
<text x="663.5" y="1521.1" font-size="17.5" text-anchor="middle" fill="#111" stroke="#111" stroke-width="1.4" stroke-linejoin="round" style="font-family:'DejaVu Sans',sans-serif">★</text>
<rect x="873.8" y="1237.0" width="26.0" height="470.0" fill="#f2f2f2" stroke="#5a5a5a" stroke-width="2.6"/>
<line x1="915.5" y1="1270.0" x2="915.5" y2="1277.7" stroke="#9a9a9a" stroke-width="2" />
<line x1="910.5" y1="1270.0" x2="920.5" y2="1270.0" stroke="#9a9a9a" stroke-width="2" />
<rect x="902.2" y="1277.7" width="26.6" height="429.3" fill="#d99694" stroke="#b87573" stroke-width="2.6"/>
<line x1="944.7" y1="1240.0" x2="944.7" y2="1241.5" stroke="#9a9a9a" stroke-width="2" />
<line x1="939.7" y1="1240.0" x2="949.7" y2="1240.0" stroke="#9a9a9a" stroke-width="2" />
<rect x="931.2" y="1241.5" width="27.0" height="465.5" fill="#8db4e2" stroke="#3d6591" stroke-width="2.6"/>
<line x1="973.5" y1="1240.0" x2="973.5" y2="1241.5" stroke="#9a9a9a" stroke-width="2" />
<line x1="968.5" y1="1240.0" x2="978.5" y2="1240.0" stroke="#9a9a9a" stroke-width="2" />
<rect x="960.6" y="1241.5" width="25.9" height="465.5" fill="#376092" stroke="#223f63" stroke-width="2.6"/>
<line x1="1045.1" y1="1336.0" x2="1045.1" y2="1344.0" stroke="#9a9a9a" stroke-width="2" />
<line x1="1040.1" y1="1336.0" x2="1050.1" y2="1336.0" stroke="#9a9a9a" stroke-width="2" />
<rect x="1031.7" y="1344.0" width="26.8" height="363.0" fill="#f2f2f2" stroke="#5a5a5a" stroke-width="2.6"/>
<line x1="1073.8" y1="1438.0" x2="1073.8" y2="1457.5" stroke="#9a9a9a" stroke-width="2" />
<line x1="1068.8" y1="1438.0" x2="1078.8" y2="1438.0" stroke="#9a9a9a" stroke-width="2" />
<rect x="1060.9" y="1457.5" width="25.9" height="249.5" fill="#d99694" stroke="#b87573" stroke-width="2.6"/>
<line x1="1102.5" y1="1358.0" x2="1102.5" y2="1366.0" stroke="#9a9a9a" stroke-width="2" />
<line x1="1097.5" y1="1358.0" x2="1107.5" y2="1358.0" stroke="#9a9a9a" stroke-width="2" />
<rect x="1089.2" y="1366.0" width="26.6" height="341.0" fill="#8db4e2" stroke="#3d6591" stroke-width="2.6"/>
<line x1="1131.5" y1="1361.0" x2="1131.5" y2="1367.6" stroke="#9a9a9a" stroke-width="2" />
<line x1="1126.5" y1="1361.0" x2="1136.5" y2="1361.0" stroke="#9a9a9a" stroke-width="2" />
<rect x="1118.2" y="1367.6" width="26.6" height="339.4" fill="#376092" stroke="#223f63" stroke-width="2.6"/>
<line x1="1202.3" y1="1474.5" x2="1202.3" y2="1502.0" stroke="#9a9a9a" stroke-width="2" />
<line x1="1197.3" y1="1474.5" x2="1207.3" y2="1474.5" stroke="#9a9a9a" stroke-width="2" />
<rect x="1188.8" y="1502.0" width="27.0" height="205.0" fill="#f2f2f2" stroke="#5a5a5a" stroke-width="2.6"/>
<line x1="1231.0" y1="1540.0" x2="1231.0" y2="1576.0" stroke="#9a9a9a" stroke-width="2" />
<line x1="1226.0" y1="1540.0" x2="1236.0" y2="1540.0" stroke="#9a9a9a" stroke-width="2" />
<rect x="1218.2" y="1576.0" width="25.6" height="131.0" fill="#d99694" stroke="#b87573" stroke-width="2.6"/>
<line x1="1259.2" y1="1505.4" x2="1259.2" y2="1529.0" stroke="#9a9a9a" stroke-width="2" />
<line x1="1254.2" y1="1505.4" x2="1264.2" y2="1505.4" stroke="#9a9a9a" stroke-width="2" />
<rect x="1246.2" y="1529.0" width="26.1" height="178.0" fill="#8db4e2" stroke="#3d6591" stroke-width="2.6"/>
<line x1="1288.2" y1="1556.5" x2="1288.2" y2="1592.0" stroke="#9a9a9a" stroke-width="2" />
<line x1="1283.2" y1="1556.5" x2="1293.2" y2="1556.5" stroke="#9a9a9a" stroke-width="2" />
<rect x="1274.7" y="1592.0" width="27.1" height="115.0" fill="#376092" stroke="#223f63" stroke-width="2.6"/>
<line x1="849.4" y1="1707.0" x2="1326.0" y2="1707.0" stroke="#1a1a1a" stroke-width="4" />
<line x1="849.4" y1="1707.0" x2="849.4" y2="1715.0" stroke="#1a1a1a" stroke-width="3.5" />
<line x1="1009.6" y1="1707.0" x2="1009.6" y2="1715.0" stroke="#1a1a1a" stroke-width="3.5" />
<line x1="1167.0" y1="1707.0" x2="1167.0" y2="1715.0" stroke="#1a1a1a" stroke-width="3.5" />
<line x1="1326.0" y1="1707.0" x2="1326.0" y2="1715.0" stroke="#1a1a1a" stroke-width="3.5" />
<text x="929.0" y="1763.5" font-size="37" font-weight="bold" text-anchor="middle" fill="#1a1a1a" >0</text>
<text x="1087.0" y="1763.5" font-size="37" font-weight="bold" text-anchor="middle" fill="#1a1a1a" >5</text>
<text x="1245.0" y="1763.5" font-size="37" font-weight="bold" text-anchor="middle" fill="#1a1a1a" >10</text>
<line x1="885.6" y1="1225.0" x2="916.0" y2="1225.0" stroke="#4a4a4a" stroke-width="3" />
<text x="891.5" y="1218.1" font-size="17.5" text-anchor="middle" fill="#111" stroke="#111" stroke-width="1.4" stroke-linejoin="round" style="font-family:'DejaVu Sans',sans-serif">★</text>
<text x="910.0" y="1218.1" font-size="17.5" text-anchor="middle" fill="#111" stroke="#111" stroke-width="1.4" stroke-linejoin="round" style="font-family:'DejaVu Sans',sans-serif">★</text>
<line x1="1041.0" y1="1257.0" x2="1132.0" y2="1257.0" stroke="#4a4a4a" stroke-width="3" />
<text x="1077.2" y="1250.1" font-size="17.5" text-anchor="middle" fill="#111" stroke="#111" stroke-width="1.4" stroke-linejoin="round" style="font-family:'DejaVu Sans',sans-serif">★</text>
<text x="1095.8" y="1250.1" font-size="17.5" text-anchor="middle" fill="#111" stroke="#111" stroke-width="1.4" stroke-linejoin="round" style="font-family:'DejaVu Sans',sans-serif">★</text>
<line x1="1046.0" y1="1282.5" x2="1097.0" y2="1282.5" stroke="#4a4a4a" stroke-width="3" />
<text x="1062.2" y="1275.6" font-size="17.5" text-anchor="middle" fill="#111" stroke="#111" stroke-width="1.4" stroke-linejoin="round" style="font-family:'DejaVu Sans',sans-serif">★</text>
<text x="1080.8" y="1275.6" font-size="17.5" text-anchor="middle" fill="#111" stroke="#111" stroke-width="1.4" stroke-linejoin="round" style="font-family:'DejaVu Sans',sans-serif">★</text>
<line x1="1078.5" y1="1306.5" x2="1131.7" y2="1306.5" stroke="#4a4a4a" stroke-width="3" />
<text x="1095.8" y="1299.6" font-size="17.5" text-anchor="middle" fill="#111" stroke="#111" stroke-width="1.4" stroke-linejoin="round" style="font-family:'DejaVu Sans',sans-serif">★</text>
<text x="1114.3" y="1299.6" font-size="17.5" text-anchor="middle" fill="#111" stroke="#111" stroke-width="1.4" stroke-linejoin="round" style="font-family:'DejaVu Sans',sans-serif">★</text>
<line x1="1043.6" y1="1330.5" x2="1074.0" y2="1330.5" stroke="#4a4a4a" stroke-width="3" />
<text x="1049.5" y="1323.6" font-size="17.5" text-anchor="middle" fill="#111" stroke="#111" stroke-width="1.4" stroke-linejoin="round" style="font-family:'DejaVu Sans',sans-serif">★</text>
<text x="1068.0" y="1323.6" font-size="17.5" text-anchor="middle" fill="#111" stroke="#111" stroke-width="1.4" stroke-linejoin="round" style="font-family:'DejaVu Sans',sans-serif">★</text>
<line x1="1070.6" y1="1353.6" x2="1102.5" y2="1353.6" stroke="#4a4a4a" stroke-width="3" />
<text x="1077.3" y="1346.7" font-size="17.5" text-anchor="middle" fill="#111" stroke="#111" stroke-width="1.4" stroke-linejoin="round" style="font-family:'DejaVu Sans',sans-serif">★</text>
<text x="1095.8" y="1346.7" font-size="17.5" text-anchor="middle" fill="#111" stroke="#111" stroke-width="1.4" stroke-linejoin="round" style="font-family:'DejaVu Sans',sans-serif">★</text>
<line x1="1204.0" y1="1432.0" x2="1294.5" y2="1432.0" stroke="#4a4a4a" stroke-width="3" />
<text x="1240.0" y="1425.1" font-size="17.5" text-anchor="middle" fill="#111" stroke="#111" stroke-width="1.4" stroke-linejoin="round" style="font-family:'DejaVu Sans',sans-serif">★</text>
<text x="1258.5" y="1425.1" font-size="17.5" text-anchor="middle" fill="#111" stroke="#111" stroke-width="1.4" stroke-linejoin="round" style="font-family:'DejaVu Sans',sans-serif">★</text>
<line x1="1203.0" y1="1465.0" x2="1232.0" y2="1465.0" stroke="#4a4a4a" stroke-width="3" />
<text x="1208.2" y="1458.1" font-size="17.5" text-anchor="middle" fill="#111" stroke="#111" stroke-width="1.4" stroke-linejoin="round" style="font-family:'DejaVu Sans',sans-serif">★</text>
<text x="1226.8" y="1458.1" font-size="17.5" text-anchor="middle" fill="#111" stroke="#111" stroke-width="1.4" stroke-linejoin="round" style="font-family:'DejaVu Sans',sans-serif">★</text>
<line x1="1266.0" y1="1462.7" x2="1292.0" y2="1462.7" stroke="#4a4a4a" stroke-width="3" />
<text x="1279.0" y="1455.8" font-size="17.5" text-anchor="middle" fill="#111" stroke="#111" stroke-width="1.4" stroke-linejoin="round" style="font-family:'DejaVu Sans',sans-serif">★</text>
<line x1="1234.7" y1="1492.0" x2="1261.0" y2="1492.0" stroke="#4a4a4a" stroke-width="3" />
<text x="1247.8" y="1485.1" font-size="17.5" text-anchor="middle" fill="#111" stroke="#111" stroke-width="1.4" stroke-linejoin="round" style="font-family:'DejaVu Sans',sans-serif">★</text>
<text x="1092.0" y="1809.0" font-size="36" font-weight="bold" text-anchor="middle" fill="#1a1a1a" textLength="379" lengthAdjust="spacingAndGlyphs">Radiation dose [Gy]</text>
<rect x="1419.0" y="1235.0" width="25.4" height="471.0" fill="#f2f2f2" stroke="#5a5a5a" stroke-width="2.6"/>
<line x1="1460.0" y1="1248.0" x2="1460.0" y2="1249.4" stroke="#9a9a9a" stroke-width="2" />
<line x1="1455.0" y1="1248.0" x2="1465.0" y2="1248.0" stroke="#9a9a9a" stroke-width="2" />
<rect x="1446.8" y="1249.4" width="26.4" height="456.6" fill="#d99694" stroke="#b87573" stroke-width="2.6"/>
<line x1="1488.2" y1="1235.5" x2="1488.2" y2="1236.7" stroke="#9a9a9a" stroke-width="2" />
<line x1="1483.2" y1="1235.5" x2="1493.2" y2="1235.5" stroke="#9a9a9a" stroke-width="2" />
<rect x="1475.6" y="1236.7" width="25.2" height="469.3" fill="#8db4e2" stroke="#3d6591" stroke-width="2.6"/>
<line x1="1516.5" y1="1236.5" x2="1516.5" y2="1237.8" stroke="#9a9a9a" stroke-width="2" />
<line x1="1511.5" y1="1236.5" x2="1521.5" y2="1236.5" stroke="#9a9a9a" stroke-width="2" />
<rect x="1503.2" y="1237.8" width="26.6" height="468.2" fill="#376092" stroke="#223f63" stroke-width="2.6"/>
<line x1="1586.2" y1="1396.0" x2="1586.2" y2="1410.0" stroke="#9a9a9a" stroke-width="2" />
<line x1="1581.2" y1="1396.0" x2="1591.2" y2="1396.0" stroke="#9a9a9a" stroke-width="2" />
<rect x="1572.9" y="1410.0" width="26.5" height="296.0" fill="#f2f2f2" stroke="#5a5a5a" stroke-width="2.6"/>
<line x1="1614.8" y1="1460.0" x2="1614.8" y2="1478.0" stroke="#9a9a9a" stroke-width="2" />
<line x1="1609.8" y1="1460.0" x2="1619.8" y2="1460.0" stroke="#9a9a9a" stroke-width="2" />
<rect x="1601.8" y="1478.0" width="26.0" height="228.0" fill="#d99694" stroke="#b87573" stroke-width="2.6"/>
<line x1="1643.4" y1="1414.4" x2="1643.4" y2="1422.8" stroke="#9a9a9a" stroke-width="2" />
<line x1="1638.4" y1="1414.4" x2="1648.4" y2="1414.4" stroke="#9a9a9a" stroke-width="2" />
<rect x="1630.2" y="1422.8" width="26.4" height="283.2" fill="#8db4e2" stroke="#3d6591" stroke-width="2.6"/>
<line x1="1671.7" y1="1437.8" x2="1671.7" y2="1445.0" stroke="#9a9a9a" stroke-width="2" />
<line x1="1666.7" y1="1437.8" x2="1676.7" y2="1437.8" stroke="#9a9a9a" stroke-width="2" />
<rect x="1659.0" y="1445.0" width="25.4" height="261.0" fill="#376092" stroke="#223f63" stroke-width="2.6"/>
<line x1="1741.8" y1="1471.0" x2="1741.8" y2="1476.7" stroke="#9a9a9a" stroke-width="2" />
<line x1="1736.8" y1="1471.0" x2="1746.8" y2="1471.0" stroke="#9a9a9a" stroke-width="2" />
<rect x="1728.2" y="1476.7" width="27.3" height="229.3" fill="#f2f2f2" stroke="#5a5a5a" stroke-width="2.6"/>
<line x1="1770.6" y1="1574.4" x2="1770.6" y2="1603.0" stroke="#9a9a9a" stroke-width="2" />
<line x1="1765.6" y1="1574.4" x2="1775.6" y2="1574.4" stroke="#9a9a9a" stroke-width="2" />
<rect x="1757.9" y="1603.0" width="25.3" height="103.0" fill="#d99694" stroke="#b87573" stroke-width="2.6"/>
<line x1="1798.8" y1="1603.0" x2="1798.8" y2="1639.4" stroke="#9a9a9a" stroke-width="2" />
<line x1="1793.8" y1="1603.0" x2="1803.8" y2="1603.0" stroke="#9a9a9a" stroke-width="2" />
<rect x="1785.6" y="1639.4" width="26.5" height="66.6" fill="#8db4e2" stroke="#3d6591" stroke-width="2.6"/>
<line x1="1827.2" y1="1611.7" x2="1827.2" y2="1650.6" stroke="#9a9a9a" stroke-width="2" />
<line x1="1822.2" y1="1611.7" x2="1832.2" y2="1611.7" stroke="#9a9a9a" stroke-width="2" />
<rect x="1814.5" y="1650.6" width="25.3" height="55.4" fill="#376092" stroke="#223f63" stroke-width="2.6"/>
<line x1="1394.0" y1="1706.0" x2="1862.0" y2="1706.0" stroke="#1a1a1a" stroke-width="4" />
<line x1="1394.0" y1="1706.0" x2="1394.0" y2="1714.0" stroke="#1a1a1a" stroke-width="3.5" />
<line x1="1549.5" y1="1706.0" x2="1549.5" y2="1714.0" stroke="#1a1a1a" stroke-width="3.5" />
<line x1="1706.7" y1="1706.0" x2="1706.7" y2="1714.0" stroke="#1a1a1a" stroke-width="3.5" />
<line x1="1862.0" y1="1706.0" x2="1862.0" y2="1714.0" stroke="#1a1a1a" stroke-width="3.5" />
<text x="1474.4" y="1763.0" font-size="37" font-weight="bold" text-anchor="middle" fill="#1a1a1a" >0</text>
<text x="1628.6" y="1763.0" font-size="37" font-weight="bold" text-anchor="middle" fill="#1a1a1a" >5</text>
<text x="1784.0" y="1763.0" font-size="37" font-weight="bold" text-anchor="middle" fill="#1a1a1a" >10</text>
<line x1="1430.0" y1="1199.4" x2="1519.0" y2="1199.4" stroke="#4a4a4a" stroke-width="3" />
<text x="1465.2" y="1192.5" font-size="17.5" text-anchor="middle" fill="#111" stroke="#111" stroke-width="1.4" stroke-linejoin="round" style="font-family:'DejaVu Sans',sans-serif">★</text>
<text x="1483.8" y="1192.5" font-size="17.5" text-anchor="middle" fill="#111" stroke="#111" stroke-width="1.4" stroke-linejoin="round" style="font-family:'DejaVu Sans',sans-serif">★</text>
<line x1="1430.0" y1="1231.0" x2="1460.6" y2="1231.0" stroke="#4a4a4a" stroke-width="3" />
<text x="1436.0" y="1224.1" font-size="17.5" text-anchor="middle" fill="#111" stroke="#111" stroke-width="1.4" stroke-linejoin="round" style="font-family:'DejaVu Sans',sans-serif">★</text>
<text x="1454.5" y="1224.1" font-size="17.5" text-anchor="middle" fill="#111" stroke="#111" stroke-width="1.4" stroke-linejoin="round" style="font-family:'DejaVu Sans',sans-serif">★</text>
<line x1="1585.6" y1="1324.0" x2="1674.4" y2="1324.0" stroke="#4a4a4a" stroke-width="3" />
<text x="1620.8" y="1317.1" font-size="17.5" text-anchor="middle" fill="#111" stroke="#111" stroke-width="1.4" stroke-linejoin="round" style="font-family:'DejaVu Sans',sans-serif">★</text>
<text x="1639.2" y="1317.1" font-size="17.5" text-anchor="middle" fill="#111" stroke="#111" stroke-width="1.4" stroke-linejoin="round" style="font-family:'DejaVu Sans',sans-serif">★</text>
<line x1="1619.0" y1="1349.4" x2="1670.0" y2="1349.4" stroke="#4a4a4a" stroke-width="3" />
<text x="1635.2" y="1342.5" font-size="17.5" text-anchor="middle" fill="#111" stroke="#111" stroke-width="1.4" stroke-linejoin="round" style="font-family:'DejaVu Sans',sans-serif">★</text>
<text x="1653.8" y="1342.5" font-size="17.5" text-anchor="middle" fill="#111" stroke="#111" stroke-width="1.4" stroke-linejoin="round" style="font-family:'DejaVu Sans',sans-serif">★</text>
<line x1="1582.8" y1="1378.0" x2="1614.4" y2="1378.0" stroke="#4a4a4a" stroke-width="3" />
<text x="1589.3" y="1371.1" font-size="17.5" text-anchor="middle" fill="#111" stroke="#111" stroke-width="1.4" stroke-linejoin="round" style="font-family:'DejaVu Sans',sans-serif">★</text>
<text x="1607.8" y="1371.1" font-size="17.5" text-anchor="middle" fill="#111" stroke="#111" stroke-width="1.4" stroke-linejoin="round" style="font-family:'DejaVu Sans',sans-serif">★</text>
<line x1="1646.7" y1="1385.6" x2="1678.0" y2="1385.6" stroke="#4a4a4a" stroke-width="3" />
<text x="1653.1" y="1378.7" font-size="17.5" text-anchor="middle" fill="#111" stroke="#111" stroke-width="1.4" stroke-linejoin="round" style="font-family:'DejaVu Sans',sans-serif">★</text>
<text x="1671.6" y="1378.7" font-size="17.5" text-anchor="middle" fill="#111" stroke="#111" stroke-width="1.4" stroke-linejoin="round" style="font-family:'DejaVu Sans',sans-serif">★</text>
<line x1="1613.0" y1="1406.0" x2="1645.6" y2="1406.0" stroke="#4a4a4a" stroke-width="3" />
<text x="1620.0" y="1399.1" font-size="17.5" text-anchor="middle" fill="#111" stroke="#111" stroke-width="1.4" stroke-linejoin="round" style="font-family:'DejaVu Sans',sans-serif">★</text>
<text x="1638.5" y="1399.1" font-size="17.5" text-anchor="middle" fill="#111" stroke="#111" stroke-width="1.4" stroke-linejoin="round" style="font-family:'DejaVu Sans',sans-serif">★</text>
<line x1="1740.0" y1="1414.4" x2="1829.0" y2="1414.4" stroke="#4a4a4a" stroke-width="3" />
<text x="1775.2" y="1407.5" font-size="17.5" text-anchor="middle" fill="#111" stroke="#111" stroke-width="1.4" stroke-linejoin="round" style="font-family:'DejaVu Sans',sans-serif">★</text>
<text x="1793.8" y="1407.5" font-size="17.5" text-anchor="middle" fill="#111" stroke="#111" stroke-width="1.4" stroke-linejoin="round" style="font-family:'DejaVu Sans',sans-serif">★</text>
<line x1="1742.0" y1="1439.4" x2="1794.0" y2="1439.4" stroke="#4a4a4a" stroke-width="3" />
<text x="1758.8" y="1432.5" font-size="17.5" text-anchor="middle" fill="#111" stroke="#111" stroke-width="1.4" stroke-linejoin="round" style="font-family:'DejaVu Sans',sans-serif">★</text>
<text x="1777.2" y="1432.5" font-size="17.5" text-anchor="middle" fill="#111" stroke="#111" stroke-width="1.4" stroke-linejoin="round" style="font-family:'DejaVu Sans',sans-serif">★</text>
<line x1="1742.0" y1="1463.0" x2="1773.0" y2="1463.0" stroke="#4a4a4a" stroke-width="3" />
<text x="1748.2" y="1456.1" font-size="17.5" text-anchor="middle" fill="#111" stroke="#111" stroke-width="1.4" stroke-linejoin="round" style="font-family:'DejaVu Sans',sans-serif">★</text>
<text x="1766.8" y="1456.1" font-size="17.5" text-anchor="middle" fill="#111" stroke="#111" stroke-width="1.4" stroke-linejoin="round" style="font-family:'DejaVu Sans',sans-serif">★</text>
<rect x="1911" y="1377.8" width="19" height="20" fill="#f2f2f2" stroke="#5a5a5a" stroke-width="2.6"/>
<text x="1938.0" y="1401.3" font-size="37" font-weight="normal" text-anchor="start" fill="#2a2a2a" >Control</text>
<rect x="1911" y="1436.7" width="19" height="20" fill="#d99694" stroke="#b87573" stroke-width="2.6"/>
<text x="1938.0" y="1460.2" font-size="37" font-weight="normal" text-anchor="start" fill="#2a2a2a" >HT</text>
<rect x="1911" y="1493.0" width="19" height="20" fill="#8db4e2" stroke="#3d6591" stroke-width="2.6"/>
<text x="1938.0" y="1516.5" font-size="37" font-weight="normal" text-anchor="start" fill="#2a2a2a" >FUS</text>
<rect x="1911" y="1551.7" width="19" height="20" fill="#376092" stroke="#223f63" stroke-width="2.6"/>
<text x="1938.0" y="1575.2" font-size="37" font-weight="normal" text-anchor="start" fill="#2a2a2a" >FUS-Cav</text>
<line x1="1935.0" y1="1425.6" x2="2195.0" y2="1425.6" stroke="#f2f2f2" stroke-width="1.5" />
<line x1="1935.0" y1="1467.0" x2="2195.0" y2="1467.0" stroke="#f4f4f4" stroke-width="1.5" />
<defs>
<pattern id="hg" patternUnits="userSpaceOnUse" width="6" height="6" patternTransform="rotate(45)"><rect width="6" height="6" fill="#c8c8c8"/><rect width="2.6" height="6" fill="#7a7a7a"/></pattern>
<pattern id="hb" patternUnits="userSpaceOnUse" width="6" height="6" patternTransform="rotate(45)"><rect width="6" height="6" fill="#7f98bb"/><rect width="2.6" height="6" fill="#3f5a80"/></pattern>
<pattern id="hn" patternUnits="userSpaceOnUse" width="6" height="6" patternTransform="rotate(45)"><rect width="6" height="6" fill="#2a4670"/><rect width="2.6" height="6" fill="#0f2445"/></pattern>
</defs>
<rect x="200" y="1852" width="111" height="487" fill="none" stroke="#f6f6f6" stroke-width="1.5"/>
<rect x="198" y="2358" width="818" height="181" fill="none" stroke="#f6f6f6" stroke-width="1.5"/>
<rect x="1126" y="1905" width="106" height="444" fill="none" stroke="#f6f6f6" stroke-width="1.5"/>
<rect x="1129" y="2359" width="820" height="186" fill="none" stroke="#f6f6f6" stroke-width="1.5"/>
<text x="44.5" y="1875.0" font-size="57" font-weight="normal" text-anchor="start" fill="#111" >c</text>
<line x1="459.0" y1="1980.0" x2="459.0" y2="1994.1" stroke="#111" stroke-width="3" />
<line x1="454.5" y1="1980.0" x2="463.5" y2="1980.0" stroke="#111" stroke-width="3.5" />
<rect x="431.0" y="1994.1" width="56.0" height="341.3" fill="#8db3e2" stroke="#111" stroke-width="3"/>
<line x1="581.5" y1="2017.0" x2="581.5" y2="2027.5" stroke="#111" stroke-width="3" />
<line x1="577.0" y1="2017.0" x2="586.0" y2="2017.0" stroke="#111" stroke-width="3.5" />
<rect x="553.5" y="2027.5" width="56.0" height="307.9" fill="#1f497d" stroke="#111" stroke-width="3"/>
<line x1="704.0" y1="2032.8" x2="704.0" y2="2050.4" stroke="#111" stroke-width="3" />
<line x1="699.5" y1="2032.8" x2="708.5" y2="2032.8" stroke="#111" stroke-width="3.5" />
<rect x="676.0" y="2050.4" width="56.0" height="285.0" fill="url(#hg)" stroke="#111" stroke-width="3"/>
<line x1="827.5" y1="2129.6" x2="827.5" y2="2141.9" stroke="#111" stroke-width="3" />
<line x1="823.0" y1="2129.6" x2="832.0" y2="2129.6" stroke="#111" stroke-width="3.5" />
<rect x="799.5" y="2141.9" width="56.0" height="193.5" fill="url(#hb)" stroke="#111" stroke-width="3"/>
<line x1="950.0" y1="2159.5" x2="950.0" y2="2171.8" stroke="#111" stroke-width="3" />
<line x1="945.5" y1="2159.5" x2="954.5" y2="2159.5" stroke="#111" stroke-width="3.5" />
<rect x="922.0" y="2171.8" width="56.0" height="163.6" fill="url(#hn)" stroke="#111" stroke-width="3"/>
<line x1="399.0" y1="1912.2" x2="399.0" y2="2336.9" stroke="#111" stroke-width="3.5" />
<line x1="392.0" y1="2335.4" x2="399.0" y2="2335.4" stroke="#111" stroke-width="3" />
<text x="369.0" y="2346.7" font-size="32" font-weight="bold" text-anchor="end" fill="#1a1a1a" >0</text>
<line x1="392.0" y1="2265.0" x2="399.0" y2="2265.0" stroke="#111" stroke-width="3" />
<text x="369.0" y="2276.3" font-size="32" font-weight="bold" text-anchor="end" fill="#1a1a1a" >20</text>
<line x1="392.0" y1="2194.7" x2="399.0" y2="2194.7" stroke="#111" stroke-width="3" />
<text x="369.0" y="2206.0" font-size="32" font-weight="bold" text-anchor="end" fill="#1a1a1a" >40</text>
<line x1="392.0" y1="2124.3" x2="399.0" y2="2124.3" stroke="#111" stroke-width="3" />
<text x="369.0" y="2135.6" font-size="32" font-weight="bold" text-anchor="end" fill="#1a1a1a" >60</text>
<line x1="392.0" y1="2053.9" x2="399.0" y2="2053.9" stroke="#111" stroke-width="3" />
<text x="369.0" y="2065.2" font-size="32" font-weight="bold" text-anchor="end" fill="#1a1a1a" >80</text>
<line x1="392.0" y1="1983.6" x2="399.0" y2="1983.6" stroke="#111" stroke-width="3" />
<text x="369.0" y="1994.9" font-size="32" font-weight="bold" text-anchor="end" fill="#1a1a1a" >100</text>
<line x1="392.0" y1="1913.2" x2="399.0" y2="1913.2" stroke="#111" stroke-width="3" />
<text x="369.0" y="1924.5" font-size="32" font-weight="bold" text-anchor="end" fill="#1a1a1a" >120</text>
<line x1="392.0" y1="2335.4" x2="1010.0" y2="2335.4" stroke="#111" stroke-width="3.5" />
<line x1="399.0" y1="2335.4" x2="399.0" y2="2342.4" stroke="#111" stroke-width="3" />
<line x1="521.2" y1="2335.4" x2="521.2" y2="2342.4" stroke="#111" stroke-width="3" />
<line x1="643.4" y1="2335.4" x2="643.4" y2="2342.4" stroke="#111" stroke-width="3" />
<line x1="765.6" y1="2335.4" x2="765.6" y2="2342.4" stroke="#111" stroke-width="3" />
<line x1="887.8" y1="2335.4" x2="887.8" y2="2342.4" stroke="#111" stroke-width="3" />
<line x1="1010.0" y1="2335.4" x2="1010.0" y2="2342.4" stroke="#111" stroke-width="3" />
<text x="246" y="2097" font-size="38" font-weight="bold" text-anchor="middle" fill="#1a1a1a" transform="rotate(-90 246 2097)" textLength="497" lengthAdjust="spacingAndGlyphs">Relative metabolic activity</text>
<text x="298" y="2097" font-size="38" font-weight="bold" text-anchor="middle" fill="#1a1a1a" transform="rotate(-90 298 2097)" textLength="330" lengthAdjust="spacingAndGlyphs">[Control = 100 %]</text>
<text x="381.5" y="2399.5" font-size="36" font-weight="bold" text-anchor="end" fill="#1a1a1a" >FUS</text>
<text x="453.0" y="2401.0" font-size="35" font-weight="bold" text-anchor="middle" fill="#1a1a1a" >+</text>
<text x="576.0" y="2401.0" font-size="35" font-weight="bold" text-anchor="middle" fill="#1a1a1a" >-</text>
<text x="701.5" y="2401.0" font-size="35" font-weight="bold" text-anchor="middle" fill="#1a1a1a" >-</text>
<text x="828.0" y="2401.0" font-size="35" font-weight="bold" text-anchor="middle" fill="#1a1a1a" >+</text>
<text x="954.0" y="2401.0" font-size="35" font-weight="bold" text-anchor="middle" fill="#1a1a1a" >-</text>
<text x="381.5" y="2461.5" font-size="36" font-weight="bold" text-anchor="end" fill="#1a1a1a" >FUS-Cav</text>
<text x="453.0" y="2463.0" font-size="35" font-weight="bold" text-anchor="middle" fill="#1a1a1a" >-</text>
<text x="576.0" y="2463.0" font-size="35" font-weight="bold" text-anchor="middle" fill="#1a1a1a" >+</text>
<text x="701.5" y="2463.0" font-size="35" font-weight="bold" text-anchor="middle" fill="#1a1a1a" >-</text>
<text x="828.0" y="2463.0" font-size="35" font-weight="bold" text-anchor="middle" fill="#1a1a1a" >-</text>
<text x="954.0" y="2463.0" font-size="35" font-weight="bold" text-anchor="middle" fill="#1a1a1a" >+</text>
<text x="381.5" y="2524.5" font-size="36" font-weight="bold" text-anchor="end" fill="#1a1a1a" >RT 10 Gy</text>
<text x="453.0" y="2526.0" font-size="35" font-weight="bold" text-anchor="middle" fill="#1a1a1a" >-</text>
<text x="576.0" y="2526.0" font-size="35" font-weight="bold" text-anchor="middle" fill="#1a1a1a" >-</text>
<text x="701.5" y="2526.0" font-size="35" font-weight="bold" text-anchor="middle" fill="#1a1a1a" >+</text>
<text x="828.0" y="2526.0" font-size="35" font-weight="bold" text-anchor="middle" fill="#1a1a1a" >+</text>
<text x="954.0" y="2526.0" font-size="35" font-weight="bold" text-anchor="middle" fill="#1a1a1a" >+</text>
<line x1="702.0" y1="1964.4" x2="943.0" y2="1964.4" stroke="#555" stroke-width="3" />
<text x="799.9" y="1957.5" font-size="17" text-anchor="middle" fill="#111" stroke="#111" stroke-width="1.4" stroke-linejoin="round" style="font-family:'DejaVu Sans',sans-serif">★</text>
<text x="818.5" y="1957.5" font-size="17" text-anchor="middle" fill="#111" stroke="#111" stroke-width="1.4" stroke-linejoin="round" style="font-family:'DejaVu Sans',sans-serif">★</text>
<text x="837.1" y="1957.5" font-size="17" text-anchor="middle" fill="#111" stroke="#111" stroke-width="1.4" stroke-linejoin="round" style="font-family:'DejaVu Sans',sans-serif">★</text>
<line x1="702.0" y1="2008.7" x2="816.4" y2="2008.7" stroke="#555" stroke-width="3" />
<text x="737.1" y="2005.5" font-size="17" text-anchor="middle" fill="#111" stroke="#111" stroke-width="1.4" stroke-linejoin="round" style="font-family:'DejaVu Sans',sans-serif">★</text>
<text x="755.7" y="2005.5" font-size="17" text-anchor="middle" fill="#111" stroke="#111" stroke-width="1.4" stroke-linejoin="round" style="font-family:'DejaVu Sans',sans-serif">★</text>
<text x="774.3" y="2005.5" font-size="17" text-anchor="middle" fill="#111" stroke="#111" stroke-width="1.4" stroke-linejoin="round" style="font-family:'DejaVu Sans',sans-serif">★</text>
<line x1="821.8" y1="2115.0" x2="936.0" y2="2115.0" stroke="#555" stroke-width="3" />
<text x="853.4" y="2109.9" font-size="17" text-anchor="middle" fill="#111" stroke="#111" stroke-width="1.4" stroke-linejoin="round" style="font-family:'DejaVu Sans',sans-serif">★</text>
<text x="872.0" y="2109.9" font-size="17" text-anchor="middle" fill="#111" stroke="#111" stroke-width="1.4" stroke-linejoin="round" style="font-family:'DejaVu Sans',sans-serif">★</text>
<text x="890.6" y="2109.9" font-size="17" text-anchor="middle" fill="#111" stroke="#111" stroke-width="1.4" stroke-linejoin="round" style="font-family:'DejaVu Sans',sans-serif">★</text>
<text x="1055.0" y="1883.5" font-size="57" font-weight="normal" text-anchor="start" fill="#111" >d</text>
<line x1="1383.7" y1="2016.2" x2="1383.7" y2="2019.7" stroke="#111" stroke-width="3" />
<line x1="1379.2" y1="2016.2" x2="1388.2" y2="2016.2" stroke="#111" stroke-width="3.5" />
<rect x="1355.7" y="2019.7" width="56.0" height="322.5" fill="#95b3d7" stroke="#111" stroke-width="3"/>
<line x1="1507.0" y1="2061.5" x2="1507.0" y2="2066.8" stroke="#111" stroke-width="3" />
<line x1="1502.5" y1="2061.5" x2="1511.5" y2="2061.5" stroke="#111" stroke-width="3.5" />
<rect x="1479.0" y="2066.8" width="56.0" height="275.4" fill="#1f497d" stroke="#111" stroke-width="3"/>
<line x1="1630.8" y1="2153.9" x2="1630.8" y2="2159.2" stroke="#111" stroke-width="3" />
<line x1="1626.3" y1="2153.9" x2="1635.3" y2="2153.9" stroke="#111" stroke-width="3.5" />
<rect x="1602.8" y="2159.2" width="56.0" height="183.0" fill="url(#hg)" stroke="#111" stroke-width="3"/>
<line x1="1754.0" y1="2181.8" x2="1754.0" y2="2185.3" stroke="#111" stroke-width="3" />
<line x1="1749.5" y1="2181.8" x2="1758.5" y2="2181.8" stroke="#111" stroke-width="3.5" />
<rect x="1726.0" y="2185.3" width="56.0" height="156.9" fill="url(#hb)" stroke="#111" stroke-width="3"/>
<line x1="1877.3" y1="2223.7" x2="1877.3" y2="2227.1" stroke="#111" stroke-width="3" />
<line x1="1872.8" y1="2223.7" x2="1881.8" y2="2223.7" stroke="#111" stroke-width="3.5" />
<rect x="1849.3" y="2227.1" width="56.0" height="115.1" fill="url(#hn)" stroke="#111" stroke-width="3"/>
<line x1="1322.5" y1="1922.8" x2="1322.5" y2="2343.7" stroke="#111" stroke-width="3.5" />
<line x1="1315.5" y1="2342.2" x2="1322.5" y2="2342.2" stroke="#111" stroke-width="3" />
<text x="1285.5" y="2353.5" font-size="32" font-weight="bold" text-anchor="end" fill="#1a1a1a" >0</text>
<line x1="1315.5" y1="2272.5" x2="1322.5" y2="2272.5" stroke="#111" stroke-width="3" />
<text x="1285.5" y="2283.8" font-size="32" font-weight="bold" text-anchor="end" fill="#1a1a1a" >20</text>
<line x1="1315.5" y1="2202.7" x2="1322.5" y2="2202.7" stroke="#111" stroke-width="3" />
<text x="1285.5" y="2214.0" font-size="32" font-weight="bold" text-anchor="end" fill="#1a1a1a" >40</text>
<line x1="1315.5" y1="2133.0" x2="1322.5" y2="2133.0" stroke="#111" stroke-width="3" />
<text x="1285.5" y="2144.3" font-size="32" font-weight="bold" text-anchor="end" fill="#1a1a1a" >60</text>
<line x1="1315.5" y1="2063.3" x2="1322.5" y2="2063.3" stroke="#111" stroke-width="3" />
<text x="1285.5" y="2074.6" font-size="32" font-weight="bold" text-anchor="end" fill="#1a1a1a" >80</text>
<line x1="1315.5" y1="1993.5" x2="1322.5" y2="1993.5" stroke="#111" stroke-width="3" />
<text x="1285.5" y="2004.8" font-size="32" font-weight="bold" text-anchor="end" fill="#1a1a1a" >100</text>
<line x1="1315.5" y1="1923.8" x2="1322.5" y2="1923.8" stroke="#111" stroke-width="3" />
<text x="1285.5" y="1935.1" font-size="32" font-weight="bold" text-anchor="end" fill="#1a1a1a" >120</text>
<line x1="1315.5" y1="2342.2" x2="1939.0" y2="2342.2" stroke="#111" stroke-width="3.5" />
<line x1="1322.5" y1="2342.2" x2="1322.5" y2="2349.2" stroke="#111" stroke-width="3" />
<line x1="1445.8" y1="2342.2" x2="1445.8" y2="2349.2" stroke="#111" stroke-width="3" />
<line x1="1569.1" y1="2342.2" x2="1569.1" y2="2349.2" stroke="#111" stroke-width="3" />
<line x1="1692.4" y1="2342.2" x2="1692.4" y2="2349.2" stroke="#111" stroke-width="3" />
<line x1="1815.7" y1="2342.2" x2="1815.7" y2="2349.2" stroke="#111" stroke-width="3" />
<line x1="1939.0" y1="2342.2" x2="1939.0" y2="2349.2" stroke="#111" stroke-width="3" />
<text x="1170" y="2122" font-size="38" font-weight="bold" text-anchor="middle" fill="#1a1a1a" transform="rotate(-90 1170 2122)" textLength="407" lengthAdjust="spacingAndGlyphs">Relative cell invasion</text>
<text x="1222" y="2122" font-size="38" font-weight="bold" text-anchor="middle" fill="#1a1a1a" transform="rotate(-90 1222 2122)" textLength="330" lengthAdjust="spacingAndGlyphs">[Control = 100 %]</text>
<text x="1313.0" y="2397.5" font-size="36" font-weight="bold" text-anchor="end" fill="#1a1a1a" >FUS</text>
<text x="1385.7" y="2399.0" font-size="35" font-weight="bold" text-anchor="middle" fill="#1a1a1a" >+</text>
<text x="1507.4" y="2399.0" font-size="35" font-weight="bold" text-anchor="middle" fill="#1a1a1a" >-</text>
<text x="1633.0" y="2399.0" font-size="35" font-weight="bold" text-anchor="middle" fill="#1a1a1a" >-</text>
<text x="1759.0" y="2399.0" font-size="35" font-weight="bold" text-anchor="middle" fill="#1a1a1a" >+</text>
<text x="1886.0" y="2399.0" font-size="35" font-weight="bold" text-anchor="middle" fill="#1a1a1a" >-</text>
<text x="1313.0" y="2461.9" font-size="36" font-weight="bold" text-anchor="end" fill="#1a1a1a" >FUS-Cav</text>
<text x="1385.7" y="2463.4" font-size="35" font-weight="bold" text-anchor="middle" fill="#1a1a1a" >-</text>
<text x="1507.4" y="2463.4" font-size="35" font-weight="bold" text-anchor="middle" fill="#1a1a1a" >+</text>
<text x="1633.0" y="2463.4" font-size="35" font-weight="bold" text-anchor="middle" fill="#1a1a1a" >-</text>
<text x="1759.0" y="2463.4" font-size="35" font-weight="bold" text-anchor="middle" fill="#1a1a1a" >-</text>
<text x="1886.0" y="2463.4" font-size="35" font-weight="bold" text-anchor="middle" fill="#1a1a1a" >+</text>
<text x="1313.0" y="2524.5" font-size="36" font-weight="bold" text-anchor="end" fill="#1a1a1a" >RT 10 Gy</text>
<text x="1385.7" y="2526.0" font-size="35" font-weight="bold" text-anchor="middle" fill="#1a1a1a" >-</text>
<text x="1507.4" y="2526.0" font-size="35" font-weight="bold" text-anchor="middle" fill="#1a1a1a" >-</text>
<text x="1633.0" y="2526.0" font-size="35" font-weight="bold" text-anchor="middle" fill="#1a1a1a" >+</text>
<text x="1759.0" y="2526.0" font-size="35" font-weight="bold" text-anchor="middle" fill="#1a1a1a" >+</text>
<text x="1886.0" y="2526.0" font-size="35" font-weight="bold" text-anchor="middle" fill="#1a1a1a" >+</text>
<line x1="1633.0" y1="2101.0" x2="1883.0" y2="2101.0" stroke="#555" stroke-width="3" />
<text x="1728.8" y="2093.9" font-size="17" text-anchor="middle" fill="#111" stroke="#111" stroke-width="1.4" stroke-linejoin="round" style="font-family:'DejaVu Sans',sans-serif">★</text>
<text x="1747.4" y="2093.9" font-size="17" text-anchor="middle" fill="#111" stroke="#111" stroke-width="1.4" stroke-linejoin="round" style="font-family:'DejaVu Sans',sans-serif">★</text>
<text x="1766.0" y="2093.9" font-size="17" text-anchor="middle" fill="#111" stroke="#111" stroke-width="1.4" stroke-linejoin="round" style="font-family:'DejaVu Sans',sans-serif">★</text>
<line x1="1633.0" y1="2144.0" x2="1750.7" y2="2144.0" stroke="#555" stroke-width="3" />
<text x="1672.4" y="2134.8" font-size="17" text-anchor="middle" fill="#111" stroke="#111" stroke-width="1.4" stroke-linejoin="round" style="font-family:'DejaVu Sans',sans-serif">★</text>
<text x="1691.0" y="2134.8" font-size="17" text-anchor="middle" fill="#111" stroke="#111" stroke-width="1.4" stroke-linejoin="round" style="font-family:'DejaVu Sans',sans-serif">★</text>
<text x="1709.6" y="2134.8" font-size="17" text-anchor="middle" fill="#111" stroke="#111" stroke-width="1.4" stroke-linejoin="round" style="font-family:'DejaVu Sans',sans-serif">★</text>
<line x1="1765.0" y1="2170.4" x2="1884.0" y2="2170.4" stroke="#555" stroke-width="3" />
<text x="1806.8" y="2161.9" font-size="17" text-anchor="middle" fill="#111" stroke="#111" stroke-width="1.4" stroke-linejoin="round" style="font-family:'DejaVu Sans',sans-serif">★</text>
<text x="1825.4" y="2161.9" font-size="17" text-anchor="middle" fill="#111" stroke="#111" stroke-width="1.4" stroke-linejoin="round" style="font-family:'DejaVu Sans',sans-serif">★</text>
<text x="1844.0" y="2161.9" font-size="17" text-anchor="middle" fill="#111" stroke="#111" stroke-width="1.4" stroke-linejoin="round" style="font-family:'DejaVu Sans',sans-serif">★</text>
<text x="44.0" y="2651.0" font-size="58" font-weight="normal" text-anchor="start" fill="#111" >e</text>
<text x="440.5" y="2643.0" font-size="41.5" font-weight="bold" text-anchor="middle" fill="#222" >Control</text>
<text x="1053.0" y="2640.5" font-size="41.5" font-weight="bold" text-anchor="middle" fill="#222" >FUS</text>
<text x="1665.6" y="2641.0" font-size="41.5" font-weight="bold" text-anchor="middle" fill="#222" >FUS-Cav</text>
<text x="447.7" y="3216.0" font-size="41.5" font-weight="bold" text-anchor="middle" fill="#222" >10 Gy</text>
<text x="1058.6" y="3217.0" font-size="41.5" font-weight="bold" text-anchor="middle" fill="#222" >FUS + 10 Gy</text>
<text x="1666.3" y="3217.0" font-size="41.5" font-weight="bold" text-anchor="middle" fill="#222" >FUS-Cav + 10 Gy</text>
<filter id="soft" x="-0.02" y="-0.02" width="1.04" height="1.04"><feGaussianBlur stdDeviation="2.5"/></filter>
<clipPath id="clip11"><rect x="191" y="2666" width="512" height="494"/></clipPath>
<g clip-path="url(#clip11)"><g filter="url(#soft)">
<rect x="191" y="2666" width="512" height="494" fill="#eeedbc"/>
<path d="M508 3062L495 3056L492 3050L500 3052ZM398 3163L389 3173L385 3165L389 3157ZM539 2976L523 2981L528 2958ZM200 2920L194 2911L194 2906L199 2911ZM590 2766L577 2763L589 2751ZM413 2808L416 2791L432 2792ZM634 2850L634 2829L639 2820L640 2833ZM258 2661L248 2663L226 2656L245 2655ZM710 3127L699 3120L714 3115ZM530 3053L530 3041L538 3027L537 3042ZM384 2861L377 2861L370 2852L380 2854ZM378 2769L390 2764L409 2767L392 2772ZM256 3084L268 3077L271 3090ZM431 2858L415 2854L406 2847L418 2850ZM205 3130L210 3125L225 3123L214 3129ZM326 3122L335 3112L343 3112L338 3119ZM529 3054L514 3054L526 3041ZM286 2974L296 2982L291 2988L282 2980ZM553 3156L552 3147L558 3140L559 3149ZM290 2715L293 2709L304 2703L298 2712ZM528 2735L532 2723L543 2732ZM328 2808L320 2793L319 2782L325 2793ZM472 3142L487 3135L497 3137L487 3143ZM294 2696L279 2694L290 2686ZM242 3059L238 3074L226 3069L227 3058ZM551 2870L554 2855L560 2850L559 2859ZM564 3127L564 3108L571 3095L572 3111ZM266 3075L280 3068L276 3083ZM233 2833L228 2820L244 2827ZM638 2749L650 2753L637 2761ZM354 3144L364 3140L371 3143L364 3154ZM589 3113L606 3102L605 3123ZM318 3028L303 3029L287 3022L304 3022ZM508 2935L513 2943L501 2941ZM657 2772L650 2771L649 2762L658 2763ZM396 2979L389 2996L375 2977ZM183 2930L189 2938L182 2944L174 2938ZM570 3000L559 3000L540 2987L560 2990ZM220 2852L222 2839L230 2826L227 2840ZM539 3034L542 3023L547 3019L545 3026ZM309 2940L296 2941L278 2937L295 2937ZM321 2675L329 2667L335 2667L330 2673ZM537 2687L534 2672L548 2672ZM564 2902L573 2891L581 2888L576 2896ZM282 2743L272 2734L262 2716L275 2729ZM282 2880L271 2875L264 2863L276 2869ZM281 2836L274 2842L271 2830ZM522 3099L526 3120L506 3114ZM448 2779L462 2763L471 2784ZM255 3099L266 3109L253 3110ZM549 3038L533 3039L524 3036L535 3035ZM671 3048L677 3040L685 3042L680 3049ZM185 2811L199 2817L179 2831ZM189 3114L199 3109L210 3111L200 3116ZM596 2853L581 2849L577 2841L587 2843ZM372 2839L367 2832L374 2825L382 2834ZM290 2842L294 2837L306 2833L298 2840ZM182 2993L181 2980L188 2972L189 2983ZM466 2982L460 3003L443 2997ZM220 3077L197 3073L219 3057ZM196 2819L187 2832L183 2817ZM238 3033L256 3017L258 3032ZM720 2693L704 2700L696 2684ZM251 2795L264 2787L279 2786L266 2794ZM632 3049L612 3063L610 3046ZM559 2675L558 2661L562 2645L563 2661ZM393 3099L405 3114L389 3119ZM318 2951L338 2945L331 2964ZM627 2987L622 2978L622 2970L626 2977ZM301 3039L309 3025L318 3039ZM268 3047L243 3051L256 3033ZM700 3077L712 3071L716 3080ZM471 2907L476 2930L451 2918ZM413 2815L422 2809L428 2812L423 2817ZM436 2795L437 2779L443 2766L442 2780ZM538 2721L553 2731L534 2737ZM506 2682L496 2666L495 2657L502 2666ZM279 2898L264 2893L278 2882ZM559 2710L577 2716L573 2725L562 2725ZM235 2861L245 2850L256 2844L247 2854ZM296 2737L315 2729L329 2728L315 2735ZM309 3117L298 3102L297 3087L306 3100ZM366 2848L353 2839L368 2835ZM578 2776L591 2779L583 2790ZM313 3030L319 3042L304 3038ZM399 3055L385 3052L374 3045L387 3048ZM186 3119L193 3111L210 3102L198 3114ZM385 2733L399 2727L413 2725L400 2731ZM265 2870L258 2861L257 2851L264 2859ZM421 2913L404 2904L393 2893L408 2901ZM259 2860L276 2867L265 2877ZM535 2837L545 2834L542 2844ZM311 3006L297 3001L293 2993L304 2995ZM529 3080L522 3081L515 3071L525 3072ZM575 3096L575 3086L580 3079L581 3088ZM201 3076L187 3087L182 3064ZM635 3068L631 3059L629 3037L635 3055ZM308 3080L308 3093L296 3091L297 3077ZM547 3009L539 3011L536 3004L544 3000ZM455 2715L441 2714L445 2704ZM619 3067L608 3064L605 3058L613 3059ZM195 3099L204 3097L209 3109L193 3112ZM372 3112L391 3115L381 3124ZM517 2745L524 2766L497 2758ZM586 2666L607 2668L592 2680ZM653 2939L639 2948L636 2929ZM309 2669L310 2659L318 2645L315 2659ZM458 2695L464 2692L474 2694L465 2697ZM614 2886L627 2905L607 2903ZM234 2938L243 2928L249 2946ZM199 2747L211 2741L219 2744L211 2750ZM355 3044L344 3044L340 3040L347 3039ZM679 2894L681 2880L688 2876L688 2885ZM378 3144L383 3129L397 3117L391 3134ZM434 3119L428 3101L431 3089L437 3102ZM256 2738L244 2733L255 2721L265 2728ZM482 2717L461 2723L470 2702ZM582 3064L580 3045L601 3054ZM529 2713L544 2724L525 2730ZM603 2878L610 2892L594 2885ZM406 3163L412 3153L422 3150L417 3159ZM702 2714L688 2700L714 2691ZM385 2980L373 2975L388 2965ZM200 2838L203 2832L216 2828L208 2837ZM217 2959L218 2951L225 2946L224 2955ZM571 2861L558 2859L567 2852ZM663 2754L660 2738L661 2728L664 2739ZM606 2974L619 2961L621 2978ZM193 3113L201 3100L215 3087L206 3102ZM306 2939L309 2951L290 2947ZM438 2722L454 2734L436 2738ZM200 3037L179 3043L187 3020ZM489 2916L487 2905L497 2905ZM465 3065L456 3052L472 3051ZM629 2884L624 2872L627 2858L632 2871ZM427 3115L418 3109L414 3101L422 3106ZM261 2713L277 2710L269 2722ZM635 2912L624 2901L619 2889L628 2899ZM555 2916L552 2909L559 2899L561 2910ZM503 2710L496 2704L489 2688L499 2699ZM624 3141L619 3130L634 3123L638 3136ZM313 2866L317 2853L327 2845L324 2858ZM217 2799L224 2805L217 2816L207 2807ZM235 2778L225 2762L246 2763ZM359 2678L349 2679L347 2669L355 2670ZM336 3120L325 3101L349 3100ZM318 2987L302 2989L294 2985L305 2982ZM367 2854L383 2852L380 2869ZM311 3101L299 3094L286 3080L301 3089ZM303 3167L307 3160L315 3155L311 3163ZM548 3183L548 3167L553 3155L554 3169ZM476 2892L475 2868L496 2887ZM222 2835L228 2827L235 2827L231 2834ZM609 2735L628 2733L621 2748ZM536 2940L530 2943L520 2939L529 2937ZM468 2846L474 2840L487 2839L477 2846ZM430 3062L409 3070L410 3053ZM348 2814L343 2794L359 2802ZM424 2866L432 2862L443 2865L433 2868ZM586 2735L596 2744L589 2751L583 2744ZM385 2780L373 2773L388 2765ZM682 3130L675 3128L669 3120L677 3124ZM313 2739L307 2741L296 2734L307 2733ZM652 2757L638 2740L657 2734ZM632 2719L617 2723L626 2708ZM273 2934L262 2948L255 2928ZM254 3031L243 3032L233 3027L244 3026ZM674 3026L671 3015L676 3000L679 3014ZM524 3008L526 3021L509 3019ZM546 2860L556 2856L577 2856L559 2861ZM277 2725L284 2708L293 2698L288 2712ZM267 3029L256 3021L251 3011L260 3018ZM375 2759L360 2753L349 2741L364 2747ZM655 2740L657 2758L641 2760ZM605 2887L601 2905L585 2893ZM667 2707L653 2706L662 2697ZM235 2853L243 2831L252 2849ZM520 2949L509 2947L502 2939L512 2942ZM244 2844L248 2852L239 2856ZM252 2818L255 2810L269 2813L259 2826ZM416 2953L428 2944L440 2941L430 2950ZM523 2853L531 2836L537 2851ZM364 2831L369 2841L358 2846L354 2833ZM498 3023L510 3018L524 3021L511 3026ZM323 2967L322 2979L311 2973ZM584 3023L580 3029L571 3023L579 3016ZM553 2952L536 2957L535 2943L554 2940ZM616 2804L634 2794L637 2819ZM329 2712L344 2713L341 2727ZM466 2961L458 2958L451 2950L461 2954ZM434 3147L425 3141L420 3131L429 3137ZM254 3044L265 3032L284 3041ZM321 3115L320 3101L324 3087L325 3101ZM338 2839L329 2836L326 2828L334 2831ZM523 2689L508 2690L499 2686L510 2684ZM556 3139L566 3130L573 3142L564 3151ZM693 2875L704 2870L711 2873L703 2877ZM284 2911L272 2913L258 2905L273 2904ZM548 2885L556 2870L567 2883L556 2891ZM499 2863L495 2855L499 2845L503 2854ZM241 3025L253 3028L246 3038L239 3034ZM695 3062L684 3059L674 3051L686 3054ZM447 2671L459 2656L464 2674ZM498 2675L506 2667L515 2667L508 2674ZM386 3017L378 3010L379 3001L387 3007ZM543 2701L538 2684L540 2668L545 2684ZM624 2751L614 2758L609 2746ZM564 2780L570 2768L585 2756L576 2772ZM690 2834L687 2825L693 2814L696 2825ZM551 2748L559 2733L575 2752ZM535 2754L536 2742L543 2739L543 2748ZM517 2671L509 2665L498 2648L510 2660ZM230 2872L226 2863L231 2853L235 2863ZM542 3089L542 3102L529 3099ZM177 3071L183 3059L191 3051L187 3062ZM359 2923L364 2905L374 2893L370 2908ZM399 2677L378 2674L392 2661ZM434 2779L436 2768L446 2762L444 2773ZM211 3089L194 3082L186 3073L198 3078ZM240 2736L225 2747L217 2734ZM373 3146L381 3137L392 3135L384 3143ZM364 3061L358 3053L354 3035L363 3049ZM660 2723L668 2712L684 2704L673 2717ZM633 3059L643 3072L626 3082ZM370 2813L365 2805L368 2792L373 2803ZM616 2723L622 2712L633 2705L627 2717ZM241 2663L249 2658L266 2659L252 2666ZM196 2742L179 2734L171 2723L185 2728ZM619 3126L608 3141L605 3124ZM475 2825L468 2814L469 2806L476 2813ZM328 2936L334 2952L318 2949ZM526 3096L524 3086L530 3078L532 3088ZM567 2708L570 2700L578 2695L574 2703ZM584 2992L576 2994L566 2985L578 2985ZM375 3156L381 3150L397 3148L385 3156ZM681 2891L687 2912L668 2907ZM237 2700L252 2698L267 2700L252 2702ZM687 2783L676 2779L664 2763L680 2771ZM363 3113L364 3100L371 3091L370 3103ZM526 2957L512 2962L511 2945ZM332 3088L328 3079L329 3059L333 3076ZM360 2665L370 2672L361 2679L350 2672ZM230 2687L216 2681L222 2669L235 2673ZM461 2732L452 2735L434 2728L450 2727ZM327 2935L315 2936L305 2929L317 2928ZM500 2662L484 2662L492 2649ZM362 2965L350 2966L340 2962L351 2960ZM535 2862L544 2845L555 2835L548 2850ZM578 2748L587 2760L570 2760ZM233 2779L243 2771L242 2786ZM620 3169L617 3161L623 3145L625 3160ZM361 3028L376 3038L360 3041ZM356 2767L357 2756L364 2749L363 2759ZM686 2668L688 2661L701 2652L695 2664ZM542 2768L545 2759L559 2751L552 2764ZM419 2886L439 2878L451 2878L438 2884ZM390 3142L375 3153L373 3139ZM214 2846L192 2848L200 2826ZM383 2881L388 2862L397 2872ZM299 2833L296 2825L298 2817L301 2825ZM573 2821L582 2812L599 2804L586 2816ZM320 3074L305 3061L319 3060ZM536 2953L539 2945L550 2941L544 2950ZM578 3083L577 3072L594 3083ZM448 3066L435 3048L454 3042ZM267 2914L278 2906L294 2903L281 2911ZM669 2883L659 2887L656 2877L664 2876ZM645 2931L632 2933L637 2922ZM641 3174L634 3173L623 3165L634 3168ZM450 2941L451 2929L462 2932ZM656 2946L641 2938L635 2926L647 2933ZM361 3160L359 3172L348 3168L350 3157ZM262 2969L258 2988L246 2969ZM522 2750L522 2741L531 2736L533 2746ZM662 2893L645 2895L652 2879ZM449 3040L436 3035L429 3028L439 3031ZM479 2685L481 2676L488 2668L486 2678ZM326 2902L348 2905L335 2920ZM306 3073L297 3054L313 3054ZM420 2790L437 2800L422 2805ZM606 3002L609 2988L618 2973L615 2990ZM419 2847L404 2848L409 2833L420 2837ZM385 2970L375 2967L365 2955L379 2960ZM508 3098L496 3091L492 3082L502 3087ZM485 2733L491 2712L506 2728ZM202 2690L201 2683L209 2675L209 2686ZM362 2847L367 2838L372 2836L370 2842ZM203 2683L207 2693L198 2694L196 2687ZM216 2768L201 2764L194 2756L206 2758ZM395 3057L393 3047L402 3027L402 3046ZM430 3027L426 3042L413 3036L414 3026ZM474 3111L484 3118L474 3124ZM572 2873L561 2875L549 2871L561 2869ZM605 2785L598 2771L598 2759L605 2770ZM623 2971L633 2962L654 2958L639 2970ZM405 2688L394 2693L386 2688L395 2684ZM661 2960L664 2953L676 2947L670 2957ZM696 2775L700 2782L696 2788L689 2785ZM364 2725L357 2718L361 2711L368 2714ZM538 2962L547 2983L530 2975ZM335 3015L324 3018L316 3013L325 3010ZM477 2883L455 2879L469 2870ZM323 2726L302 2729L309 2705ZM702 3019L698 3004L702 2991L706 3004ZM263 3009L268 3002L281 2994L272 3005ZM390 2931L373 2940L380 2926ZM483 3070L475 3077L463 3064L478 3055ZM659 2677L666 2662L675 2677ZM702 2753L706 2737L717 2744ZM668 2677L652 2676L637 2671L653 2672ZM489 2822L507 2834L486 2837ZM600 2968L623 2970L610 2986ZM373 2739L362 2724L379 2719ZM597 2788L584 2794L579 2777L595 2777ZM345 2739L350 2730L367 2724L357 2736ZM680 2897L671 2895L679 2883ZM547 2706L544 2688L562 2695ZM475 2757L485 2749L492 2749L486 2756ZM292 2882L306 2876L300 2891ZM266 2880L258 2879L260 2870L269 2871ZM431 2971L433 2985L421 2985ZM615 2677L634 2681L620 2694ZM312 2758L306 2760L297 2753L307 2752ZM694 2833L700 2829L716 2825L704 2832ZM662 2832L649 2846L644 2822ZM357 2914L364 2908L378 2907L368 2915ZM525 2749L515 2745L506 2729L520 2737ZM614 2899L602 2915L588 2897ZM568 3168L561 3159L562 3153L568 3158ZM305 2909L308 2899L320 2906ZM676 2733L660 2719L679 2711ZM369 2863L351 2859L344 2852L355 2853ZM432 3092L448 3087L459 3092L447 3096ZM219 2788L219 2776L223 2766L223 2777ZM660 3118L659 3099L666 3091L668 3103ZM381 2694L373 2685L375 2676L382 2683ZM391 3113L379 3114L379 3103L395 3102ZM389 2913L404 2913L405 2925L392 2926ZM699 2722L707 2710L719 2701L711 2714ZM472 3131L472 3120L480 3115L480 3124ZM668 2821L658 2810L676 2802ZM174 2715L186 2704L196 2720ZM677 2736L665 2734L650 2724L666 2729ZM655 2904L670 2899L677 2902L669 2906ZM625 3009L636 3000L646 2998L638 3006ZM226 2907L228 2897L241 2888L236 2902ZM639 3092L626 3082L624 3074L633 3079ZM380 3051L370 3055L363 3043L374 3040ZM654 3021L640 3017L650 3008ZM298 2884L308 2877L320 2876L310 2883ZM379 3131L366 3131L361 3125L370 3123ZM507 3083L504 3074L506 3058L509 3072ZM194 2860L199 2871L186 2881L180 2863ZM568 3043L567 3058L557 3052ZM370 2993L366 3003L359 2989ZM415 2795L413 2783L425 2782ZM398 3162L393 3153L393 3140L398 3151ZM471 2994L479 2982L489 2996ZM218 3067L210 3061L216 3053L224 3059ZM211 2672L209 2660L214 2656L216 2663ZM208 2789L214 2779L220 2789ZM235 2666L244 2649L255 2663ZM593 2837L592 2854L576 2839ZM291 3125L308 3126L300 3141ZM335 2827L349 2834L339 2844ZM402 3110L406 3098L413 3097L412 3105ZM325 3047L330 3056L323 3062L318 3051ZM461 2695L453 2677L452 2668L458 2678ZM337 2859L339 2879L324 2871ZM269 2797L284 2786L285 2809ZM225 3147L199 3144L217 3129ZM385 2696L385 2715L371 2703ZM307 2951L325 2937L325 2951ZM309 2944L328 2935L321 2957ZM373 2960L375 2936L398 2946ZM237 2702L221 2684L238 2682ZM300 2737L280 2727L275 2717L288 2722ZM221 2983L211 2969L227 2961ZM371 3125L351 3131L353 3110ZM592 2685L582 2684L573 2678L584 2679ZM676 2861L683 2854L691 2864Z" fill="#3c1e9e"/>
<path d="M463 2691L461 2681L468 2658L469 2678ZM457 2750L458 2737L468 2727L466 2740ZM667 2811L666 2826L654 2828L653 2810ZM579 3167L586 3155L593 3152L590 3161ZM663 3037L660 3046L652 3045L656 3035ZM705 2695L682 2684L699 2677ZM537 2792L528 2781L525 2764L535 2777ZM402 3046L409 3051L404 3058L397 3052ZM219 2860L210 2855L207 2846L215 2851ZM229 2668L224 2689L206 2675ZM671 2685L659 2676L659 2667L668 2672ZM330 2716L318 2710L312 2702L322 2707ZM321 3013L320 3036L301 3020ZM276 2976L285 2972L300 2974L287 2979ZM646 2998L641 2992L641 2981L647 2989ZM404 2828L386 2821L396 2813ZM364 2713L352 2708L341 2695L355 2702ZM418 2813L414 2795L430 2802ZM198 2841L184 2830L181 2820L191 2827ZM558 3182L553 3175L550 3156L557 3171ZM422 2890L408 2891L398 2885L410 2884ZM531 3019L546 3016L542 3032ZM698 2675L690 2679L685 2670L691 2668ZM318 2932L312 2921L321 2920L325 2927ZM496 2698L503 2677L518 2691ZM624 3110L633 3107L645 3109L634 3112ZM675 2772L685 2790L664 2789ZM388 3150L379 3147L369 3133L382 3140ZM231 3176L209 3172L224 3155ZM527 2790L518 2781L515 2770L523 2778ZM307 2952L310 2928L323 2937ZM238 2774L222 2774L211 2768L224 2767ZM230 2814L219 2814L200 2805L219 2807ZM621 2870L628 2879L615 2887L608 2878ZM314 3006L332 2990L332 3009ZM368 2751L379 2744L386 2761L372 2762ZM194 3104L186 3091L187 3079L195 3090ZM463 2991L450 2983L453 2973L467 2977ZM223 2884L225 2903L205 2891ZM551 2768L575 2763L567 2785ZM330 2954L339 2944L344 2956ZM529 2953L532 2941L543 2935L540 2947ZM431 2917L420 2924L422 2910ZM307 3037L303 3028L302 3012L307 3026ZM420 2894L428 2886L440 2881L431 2890ZM449 2753L464 2741L466 2761ZM541 2933L555 2937L548 2950ZM465 3040L457 3049L450 3043L457 3033ZM320 3004L339 2999L337 3020ZM294 2808L293 2799L298 2787L298 2799ZM441 2895L437 2874L451 2877ZM190 2930L181 2917L198 2915ZM397 3164L390 3152L391 3136L398 3150ZM689 2760L690 2752L696 2744L695 2754ZM690 2822L675 2808L674 2798L683 2806ZM696 2684L706 2669L716 2667L710 2677ZM222 3160L225 3153L237 3145L230 3156ZM678 2741L689 2727L698 2725L692 2734ZM317 2812L309 2800L321 2804ZM665 2734L663 2724L670 2724L671 2734ZM211 3033L204 3035L196 3032L204 3030ZM636 3098L625 3085L645 3074ZM215 2694L216 2681L225 2670L224 2684ZM294 3150L284 3137L299 3132ZM463 3106L447 3099L458 3093ZM600 2922L581 2923L593 2907ZM453 2862L463 2857L469 2867L458 2870ZM207 2911L215 2922L202 2931ZM274 2714L271 2707L275 2699L277 2707ZM422 2672L416 2673L404 2665L416 2667ZM662 2849L655 2839L654 2818L662 2835ZM330 3145L320 3141L317 3132L326 3135ZM319 2676L313 2662L315 2652L320 2662ZM339 3109L344 3101L363 3090L350 3103ZM674 2761L691 2755L684 2770ZM431 2842L437 2835L451 2831L441 2840ZM641 3122L630 3122L634 3109L646 3115ZM482 3055L470 3043L487 3039ZM706 2688L697 2682L697 2672L705 2677ZM667 3126L678 3121L684 3122L678 3126ZM257 2959L258 2949L268 2943L265 2954ZM637 2741L630 2732L627 2723L634 2731ZM356 2999L351 2990L348 2971L355 2987ZM632 2711L629 2725L620 2712ZM549 2674L563 2667L559 2687ZM631 2713L622 2711L614 2697L627 2703ZM342 2897L331 2880L352 2882ZM287 2676L299 2673L305 2675L298 2678ZM293 2901L279 2887L274 2875L285 2885ZM205 2802L220 2802L213 2813ZM221 2834L206 2837L212 2826ZM545 2822L527 2818L541 2808ZM389 2999L396 2995L411 2995L399 3001ZM253 2792L251 2780L256 2772L259 2782ZM493 3097L499 3084L510 3094ZM318 2697L316 2678L332 2685ZM215 3092L196 3102L197 3080ZM570 3086L559 3095L557 3081ZM645 2729L649 2719L662 2706L654 2721ZM283 2790L279 2784L283 2771L287 2782ZM558 2910L541 2915L547 2901ZM508 2947L525 2935L536 2933L526 2941ZM401 3048L404 3028L412 3018L411 3032ZM356 2890L340 2897L343 2880ZM213 3057L236 3063L217 3075ZM446 2677L436 2699L431 2678ZM403 2952L412 2941L421 2941L416 2950ZM351 3022L339 3005L366 3002ZM321 3054L314 3063L305 3052L314 3048ZM348 3039L349 3030L357 3023L355 3033ZM544 3080L554 3093L539 3099ZM370 2818L386 2819L380 2835ZM334 3150L346 3135L356 3127L348 3139ZM247 2999L238 3014L226 3004L236 2993ZM341 2807L350 2818L337 2819ZM588 3139L570 3128L585 3123ZM417 2811L409 2796L428 2797ZM513 3063L514 3049L527 3056ZM508 3073L498 3076L483 3070L498 3067ZM322 2672L325 2659L337 2665ZM545 2981L557 2969L570 2984ZM278 2946L290 2939L291 2949ZM334 3061L322 3062L320 3052L331 3050ZM551 3147L568 3133L580 3132L570 3143ZM231 2817L244 2807L254 2805L245 2812ZM486 2769L481 2778L471 2776L476 2767ZM340 3168L344 3157L351 3151L348 3160ZM264 2758L250 2766L247 2751ZM612 2898L609 2883L611 2875L614 2885ZM693 2966L704 2958L705 2975ZM343 3094L341 3087L348 3077L348 3088ZM244 2682L265 2677L262 2692ZM697 2745L689 2741L678 2727L691 2736ZM555 2758L562 2745L575 2732L567 2748ZM392 2704L394 2689L403 2692L405 2706ZM321 2995L307 2993L307 2977L324 2981ZM672 2874L684 2858L693 2853L686 2863ZM686 2658L672 2660L663 2656L674 2654ZM442 3054L450 3057L448 3065L440 3061ZM402 2805L394 2819L388 2807ZM678 2770L661 2781L656 2765ZM702 2967L712 2971L700 2981ZM350 3128L345 3118L349 3107L353 3118ZM401 2742L401 2721L406 2712L408 2725ZM590 2730L587 2744L571 2732ZM689 2801L693 2787L705 2787L704 2802ZM194 3085L181 3089L169 3085L181 3081ZM434 2970L428 2955L446 2958ZM339 2659L356 2650L355 2663ZM421 3091L424 3108L399 3097ZM501 2989L511 2980L522 2977L513 2985ZM707 3088L694 3090L688 3087L696 3085ZM404 3080L422 3069L419 3089ZM318 3043L327 3047L321 3056L314 3051ZM607 2734L613 2739L612 2748L601 2744ZM298 3014L285 3011L289 2996L301 3003ZM343 3075L341 3064L346 3055L348 3065ZM583 3148L582 3164L571 3149ZM701 2712L709 2718L702 2727L689 2719ZM288 2686L280 2690L272 2680L281 2676ZM323 2816L315 2838L300 2814ZM296 2857L288 2850L281 2836L292 2846ZM393 2702L398 2693L419 2681L406 2696ZM651 2690L645 2707L630 2695ZM379 2652L386 2648L393 2658L382 2666ZM243 2679L234 2682L230 2675L240 2669ZM658 2721L643 2730L642 2714ZM322 2863L307 2859L301 2852L311 2854ZM462 2760L471 2752L482 2749L474 2757ZM470 2913L488 2910L485 2921ZM486 3078L491 3095L474 3086ZM574 2765L571 2751L575 2743L578 2753ZM700 3066L699 3080L682 3071ZM576 2752L554 2759L554 2743ZM609 2738L601 2731L599 2713L609 2726ZM639 3123L631 3114L625 3098L635 3110ZM489 3102L477 3106L472 3094L482 3085ZM277 3080L264 3074L256 3063L269 3068ZM396 2842L401 2834L413 2828L405 2838ZM265 3016L266 2995L281 3002ZM455 2934L450 2916L475 2920ZM267 3118L248 3131L249 3109ZM323 2742L341 2748L322 2756ZM648 2879L656 2872L664 2877L658 2886ZM701 2805L696 2793L710 2799ZM246 3124L250 3110L261 3124ZM215 3108L212 3103L214 3090L218 3101ZM666 2837L678 2840L673 2850ZM414 3019L433 3031L417 3043ZM594 2876L595 2865L600 2857L599 2867ZM205 3137L200 3118L216 3122ZM597 2744L609 2755L595 2754ZM554 2962L548 2950L567 2950ZM412 2981L408 2970L411 2961L415 2970ZM414 2937L408 2931L408 2922L414 2928ZM356 2996L364 2990L372 2993L365 2999ZM262 2821L250 2819L238 2811L252 2814ZM423 2985L407 2986L410 2976ZM429 2836L430 2848L413 2850L411 2837ZM195 2745L174 2740L192 2723ZM684 2770L686 2753L708 2764ZM269 3114L262 3108L261 3091L270 3103ZM229 2985L217 2970L228 2964ZM655 3059L651 3049L653 3040L658 3049ZM347 2685L328 2683L338 2672ZM589 2837L595 2819L605 2837ZM602 2741L589 2740L594 2732ZM179 3064L198 3084L171 3087ZM608 2959L599 2953L596 2945L603 2950ZM235 2833L226 2825L224 2817L231 2823ZM299 3165L288 3161L276 3148L290 3155ZM291 2836L282 2838L266 2831L282 2830ZM267 2794L256 2774L282 2780ZM308 3115L308 3104L313 3099L314 3107ZM679 3115L691 3101L703 3121ZM657 2751L645 2761L642 2747ZM579 2886L573 2882L570 2867L579 2877ZM222 2659L238 2658L225 2675ZM307 3132L331 3127L325 3149ZM222 2873L219 2858L225 2844L228 2859ZM571 2957L556 2960L546 2955L558 2952ZM602 3119L592 3125L583 3115L594 3103ZM247 3059L260 3055L258 3066ZM268 3000L254 3001L258 2986ZM295 2776L284 2779L279 2774L287 2770ZM566 2890L572 2879L580 2877L576 2886ZM705 3024L698 3017L693 3004L702 3014ZM554 2731L544 2722L538 2705L550 2717ZM238 3009L248 3029L224 3026ZM265 3156L266 3167L255 3159ZM552 3052L564 3040L563 3056ZM373 3084L373 3071L380 3066L381 3075ZM654 3164L647 3160L637 3146L649 3155ZM686 2645L696 2661L676 2661ZM422 2899L411 2900L390 2894L409 2894ZM606 2956L593 2971L585 2952ZM575 2954L554 2955L562 2936ZM670 2659L684 2649L687 2666ZM598 2777L609 2764L618 2758L611 2768ZM239 2957L241 2943L254 2954ZM652 3035L637 3012L664 3018ZM585 2771L596 2782L585 2794ZM217 2908L225 2895L241 2884L231 2899ZM518 2823L508 2823L511 2814L521 2814ZM271 2993L256 2983L253 2975L263 2980ZM371 2993L379 2988L395 2992L381 2997ZM345 2917L339 2932L331 2922ZM200 3022L188 3014L176 3001L190 3010ZM480 2684L458 2682L469 2666ZM556 2696L550 2697L540 2694L550 2692ZM424 2741L425 2725L432 2719L433 2729ZM401 3074L403 3061L417 3068ZM399 2746L403 2757L394 2758L390 2752ZM482 3161L466 3158L479 3146ZM183 2736L189 2713L203 2734ZM353 3128L363 3117L374 3128L360 3136ZM215 2831L223 2824L229 2825L225 2831ZM574 2810L563 2804L557 2792L568 2799ZM661 2666L654 2660L650 2650L658 2657ZM536 2817L532 2795L537 2785L541 2798ZM255 3049L265 3040L265 3054ZM657 3019L663 3004L673 3014ZM522 3166L531 3155L537 3154L533 3162ZM303 3058L294 3069L284 3063L291 3051ZM468 3008L482 3002L484 3012L472 3017ZM489 2656L499 2647L510 2653L502 2664ZM237 2881L243 2872L263 2862L250 2876ZM232 3164L225 3151L224 3142L230 3151ZM337 3106L336 3090L352 3095ZM634 2985L641 2976L650 2975L645 2983ZM294 2740L279 2739L273 2732L284 2731ZM563 2804L550 2805L546 2799L554 2797ZM453 3038L464 3033L466 3043L457 3046ZM320 2677L332 2690L314 2693ZM457 2692L452 2682L460 2676L465 2687ZM405 3112L407 3095L417 3108ZM636 2862L626 2866L629 2854ZM554 2865L546 2863L542 2853L552 2856ZM611 2935L609 2916L630 2927ZM552 2919L567 2904L577 2901L569 2912ZM650 3089L654 3082L667 3079L659 3088ZM256 3084L265 3059L279 3071ZM302 3006L294 3003L279 2992L294 2998ZM344 3104L337 3125L325 3111ZM505 3107L491 3105L498 3092ZM620 2724L612 2713L609 2694L619 2709ZM258 3158L255 3178L244 3162ZM254 2725L246 2714L252 2709L262 2717ZM350 3073L334 3074L341 3056ZM246 3014L229 3003L242 2993ZM520 3034L543 3027L535 3050ZM623 3092L611 3085L617 3075L626 3081ZM384 2731L398 2740L380 2743ZM450 2819L439 2816L431 2803L444 2808ZM649 2785L653 2802L636 2795ZM181 2896L194 2888L200 2894L194 2904ZM503 2993L500 2985L505 2977L508 2985ZM209 3139L217 3161L199 3158ZM349 3113L364 3104L375 3101L365 3109ZM253 2717L265 2703L275 2703L268 2712ZM348 2831L351 2810L365 2822ZM630 2745L643 2752L635 2761L626 2755ZM566 3028L558 3018L573 3017ZM431 3049L425 3056L417 3048L425 3042ZM677 2857L691 2861L681 2873L673 2867ZM431 2672L418 2686L406 2670ZM317 2917L312 2907L314 2891L320 2905ZM409 2957L391 2957L410 2942ZM626 3119L613 3116L607 3109L617 3110ZM259 3028L273 3018L282 3019L274 3026ZM199 2766L216 2772L210 2793ZM382 2841L386 2822L403 2836ZM522 2916L534 2907L535 2923ZM492 2892L501 2876L512 2866L505 2880ZM363 3069L378 3073L368 3079ZM457 2831L441 2827L447 2815ZM200 2765L217 2763L218 2775L204 2781ZM367 2940L374 2930L383 2927L378 2936ZM201 2759L213 2756L230 2758L214 2762ZM483 2781L464 2771L456 2762L469 2768ZM681 3085L680 3076L686 3073L690 3082ZM490 2664L503 2655L513 2652L504 2660ZM499 3108L481 3097L475 3088L487 3094ZM698 2782L687 2779L673 2765L690 2772ZM539 2716L525 2710L519 2700L531 2704ZM362 3096L367 3087L375 3085L371 3093ZM405 3066L420 3063L431 3066L419 3070ZM624 2805L647 2800L657 2802L644 2806ZM305 3149L293 3143L288 3132L299 3137ZM632 2944L647 2932L660 2928L648 2938ZM559 3075L554 3070L557 3058L563 3068ZM342 2706L354 2690L362 2685L356 2695ZM280 2882L278 2871L286 2856L286 2871ZM270 3132L295 3126L289 3144ZM482 2935L493 2915L506 2934ZM687 3099L683 3085L685 3067L689 3084ZM627 2913L616 2912L598 2900L617 2905ZM568 3052L565 3036L577 3042ZM265 2825L254 2824L241 2817L255 2819ZM605 2750L599 2744L598 2730L605 2741ZM257 2912L251 2888L268 2899ZM461 2781L474 2800L453 2801ZM316 2843L305 2831L305 2821L313 2829ZM421 2851L406 2846L422 2831ZM559 2823L564 2811L570 2807L568 2816ZM315 2870L290 2872L309 2851ZM502 3023L507 3004L513 2997L511 3009ZM305 2791L289 2794L274 2790L289 2788ZM587 3049L582 3035L582 3021L588 3034ZM487 2702L504 2717L484 2728ZM332 3003L341 2991L347 2988L343 2996ZM517 2702L507 2694L517 2689ZM470 2930L471 2953L453 2939ZM692 3101L682 3099L663 3089L681 3094ZM318 3119L306 3115L318 3102ZM231 2699L241 2708L228 2718L222 2713ZM212 3125L218 3113L232 3101L224 3116ZM202 3064L211 3081L193 3079ZM588 2690L579 2683L572 2663L584 2677ZM630 2957L629 2951L636 2941L635 2951ZM339 3054L340 3032L346 3022L347 3036ZM261 3144L265 3139L274 3144L269 3151ZM256 2971L252 2962L258 2958L270 2966ZM493 2823L475 2824L484 2810ZM289 2842L309 2834L308 2850Z" fill="#4626a8"/>
<path d="M260 3141L264 3125L273 3139ZM434 2765L422 2764L413 2756L425 2757ZM226 3096L241 3104L227 3112ZM288 2690L300 2674L308 2689ZM198 2856L184 2835L205 2834ZM544 2802L534 2792L527 2774L539 2787ZM498 2672L505 2657L514 2666ZM420 2725L403 2722L391 2713L406 2716ZM281 3110L267 3099L262 3088L273 3096ZM488 2768L500 2769L498 2778L490 2777ZM294 2862L287 2851L286 2844L291 2851ZM618 3044L639 3045L625 3060ZM590 3123L571 3121L583 3108ZM305 2874L305 2863L314 2859L318 2870ZM570 2685L580 2670L597 2687ZM669 3069L676 3083L658 3081ZM527 2930L546 2929L534 2948ZM341 3104L342 3087L347 3079L347 3090ZM685 3115L668 3121L668 3099ZM362 2689L350 2683L339 2667L355 2675ZM585 2792L573 2783L569 2777L577 2781ZM331 2975L335 2965L348 2955L341 2968ZM663 2961L679 2953L679 2975ZM332 2757L323 2769L317 2750ZM286 2995L287 2983L295 2980L301 2991ZM580 3002L591 3008L581 3015ZM423 3130L398 3130L412 3115ZM295 2687L310 2684L303 2698ZM520 2714L533 2699L542 2714ZM623 3034L612 3029L613 3015L625 3020ZM282 2942L274 2921L295 2922ZM211 3011L215 2987L228 3002ZM207 2742L216 2725L224 2746ZM266 2946L283 2937L276 2959ZM417 3116L412 3104L415 3090L420 3103ZM672 2788L667 2778L668 2769L673 2777ZM346 2870L351 2864L363 2861L355 2869ZM536 3131L546 3138L533 3147ZM416 3115L420 3109L432 3102L424 3112ZM414 2906L412 2885L433 2901ZM356 2814L337 2833L331 2810ZM358 2682L353 2690L346 2685L351 2678ZM338 2714L323 2707L335 2697ZM256 2805L258 2822L246 2820ZM396 3129L397 3115L410 3122ZM476 2669L471 2659L473 2647L479 2657ZM526 3056L553 3042L549 3063ZM301 2942L302 2926L317 2930L313 2946ZM178 3085L185 3080L196 3079L187 3085ZM505 2923L513 2907L521 2923ZM194 2999L196 2986L211 2992L205 3000ZM233 3006L241 2999L253 2997L244 3004ZM608 2763L602 2754L605 2748L610 2754ZM243 2882L259 2874L253 2889ZM298 3036L301 3027L309 3031L307 3038ZM717 3013L703 3028L701 3010ZM288 3054L285 3067L276 3055ZM290 2980L279 2981L261 2976L278 2976ZM461 2793L475 2780L477 2796ZM605 2766L611 2750L629 2763ZM457 2932L467 2923L468 2941ZM257 2684L251 2682L245 2674L253 2678ZM616 3008L607 3001L607 2995L613 2998ZM356 3123L365 3115L368 3126ZM594 3134L593 3112L617 3127ZM397 2726L400 2737L390 2741L386 2731ZM515 2898L498 2898L486 2891L500 2890ZM450 3053L434 3062L433 3042ZM281 2712L293 2730L277 2733ZM373 2836L378 2853L361 2845ZM303 3125L318 3118L329 3119L318 3125ZM447 2935L451 2953L435 2944ZM225 2877L218 2874L215 2863L224 2869ZM200 3085L176 3077L200 3063ZM412 2798L414 2787L424 2792L421 2801ZM211 2857L216 2840L228 2853ZM295 2674L318 2674L304 2698ZM275 2820L285 2836L262 2836ZM348 3094L337 3096L341 3082ZM465 2775L458 2763L477 2760ZM201 2782L209 2773L215 2772L210 2778ZM190 2918L183 2903L202 2901ZM679 3003L691 3018L670 3015ZM639 2864L633 2856L632 2847L638 2854ZM454 2775L441 2773L425 2763L442 2767ZM196 2766L216 2754L214 2773ZM525 2915L507 2921L510 2901ZM448 2722L430 2719L447 2707ZM618 2714L605 2706L600 2695L612 2701ZM531 2981L534 2967L546 2953L541 2970ZM583 2988L578 2984L577 2974L584 2981ZM636 2962L635 2957L644 2952L647 2963ZM200 2706L209 2698L215 2722ZM637 2887L614 2898L621 2876ZM282 3091L277 3074L295 3081ZM215 3035L202 3029L210 3020ZM265 2875L277 2867L283 2875L275 2885ZM581 2970L583 2951L595 2965ZM212 2738L211 2730L221 2717L219 2731ZM472 2811L468 2833L454 2819ZM276 2688L265 2684L280 2676ZM325 2905L316 2909L302 2902L315 2899ZM206 2885L209 2878L219 2873L214 2882ZM579 2661L560 2662L579 2649ZM338 2679L344 2663L352 2676ZM488 2775L479 2767L492 2760ZM533 2843L540 2857L523 2855ZM513 2954L527 2938L538 2962ZM238 2916L246 2903L255 2899L251 2909ZM568 2686L583 2688L586 2698L571 2703ZM294 2834L291 2825L297 2815L299 2826ZM457 2991L447 2973L478 2971ZM659 3022L650 3021L640 3010L653 3013ZM672 2830L665 2823L663 2810L671 2819ZM511 2760L494 2775L497 2749ZM408 2860L418 2846L424 2864ZM693 2756L691 2765L683 2764L683 2756ZM358 3088L365 3102L356 3108L349 3097ZM199 3148L214 3155L200 3167ZM279 2769L272 2765L272 2756L283 2758ZM424 2734L408 2719L429 2711ZM211 3118L193 3117L193 3100ZM404 3171L386 3181L387 3161ZM397 2782L386 2783L372 2775L387 2775ZM644 2914L625 2913L639 2900ZM334 3128L343 3119L351 3119L346 3126ZM550 2913L553 2900L567 2909ZM653 2966L657 2950L665 2941L662 2954ZM228 3017L244 3035L224 3038ZM589 2748L579 2738L593 2739ZM435 3001L427 3000L419 2991L429 2994ZM518 3083L520 3069L531 3074L527 3082ZM630 3064L643 3050L647 3070ZM332 3091L342 3099L329 3103ZM576 3062L592 3055L585 3073ZM301 2840L292 2826L289 2811L298 2824ZM630 2816L650 2828L628 2829ZM210 2946L203 2957L191 2947L202 2939ZM253 2754L269 2771L251 2773ZM423 2865L430 2858L437 2856L432 2862ZM553 2918L530 2916L541 2899ZM216 2841L213 2834L218 2825L221 2834ZM222 3125L219 3136L208 3134L212 3122ZM666 2980L676 2976L679 2990L667 2988ZM410 3100L413 3091L421 3088L419 3097ZM641 3169L634 3160L632 3151L639 3158ZM692 2714L678 2698L688 2687ZM663 2695L680 2689L678 2713ZM453 3060L463 3056L471 3068L457 3071ZM618 2933L626 2927L644 2926L630 2934ZM482 3075L482 3068L490 3059L489 3070ZM702 2786L683 2787L676 2781L687 2779ZM421 3021L401 3012L418 2997ZM361 3084L371 3093L360 3098ZM473 3055L461 3051L472 3042ZM497 2897L486 2900L482 2895L489 2891ZM299 3167L293 3156L293 3144L298 3155ZM299 3135L291 3148L290 3132ZM290 3098L297 3090L305 3089L299 3095ZM513 2804L507 2802L501 2792L511 2796ZM714 3066L708 3058L708 3049L713 3056ZM210 3060L209 3039L215 3030L217 3043ZM606 2700L626 2697L621 2714ZM272 2888L268 2900L252 2893L258 2881ZM327 2844L342 2852L321 2864ZM543 2719L554 2729L532 2731ZM432 3116L419 3109L433 3102ZM300 2977L314 2991L291 3004ZM251 2800L243 2779L247 2769L253 2781ZM584 2806L573 2804L566 2797L576 2799ZM326 2952L324 2968L311 2960ZM286 2902L287 2888L300 2894ZM639 2889L646 2876L652 2871L648 2880ZM382 2986L383 2973L392 2960L390 2975ZM347 2960L356 2979L332 2974ZM548 3021L537 3017L527 3004L540 3011ZM678 2714L681 2725L674 2729L669 2721ZM591 2673L597 2687L578 2683ZM334 3143L348 3147L337 3156ZM278 2687L269 2704L258 2683ZM657 3096L656 3084L668 3081L670 3094ZM258 2815L247 2811L250 2802L261 2804ZM531 3016L548 3011L545 3029ZM290 3119L290 3103L294 3092L294 3105ZM642 3138L632 3128L642 3125ZM300 2935L291 2922L289 2911L296 2921ZM333 2713L316 2714L319 2694ZM247 3111L258 3098L271 3094L262 3106ZM390 3006L405 3001L402 3019ZM312 2881L314 2866L323 2856L321 2869ZM537 3124L553 3132L543 3140ZM564 2867L556 2867L550 2861L558 2860ZM706 2859L713 2869L698 2874ZM495 3074L498 3066L510 3063L504 3073ZM299 2863L306 2842L321 2852ZM480 2666L469 2663L465 2658L472 2659ZM512 2919L490 2909L500 2895ZM319 3081L312 3070L314 3061L321 3069ZM334 3097L340 3089L349 3089L343 3096ZM541 2971L536 2963L537 2948L543 2961ZM596 2867L586 2857L599 2852ZM540 2939L556 2954L534 2951ZM341 2860L358 2853L375 2854L359 2861ZM585 2777L577 2764L590 2759ZM525 3134L522 3120L539 3121ZM573 3096L573 3083L584 3087ZM295 2831L303 2815L311 2811L308 2822ZM340 3147L343 3163L326 3154ZM351 3120L342 3112L353 3103L361 3109ZM441 2758L435 2738L438 2728L444 2740ZM643 3121L653 3128L641 3136ZM570 2728L580 2738L573 2747L563 2736ZM343 2928L351 2919L368 2913L356 2924ZM226 2732L209 2735L218 2721ZM637 3162L625 3153L635 3146L643 3152ZM283 2863L276 2873L274 2864ZM400 2691L409 2707L389 2704ZM257 3001L244 2985L264 2981ZM272 3099L284 3090L296 3088L286 3096ZM593 2668L579 2662L574 2652L586 2656ZM429 3136L420 3124L416 3106L425 3121ZM653 2716L634 2705L628 2697L640 2702ZM622 2789L612 2782L608 2771L617 2778ZM547 2695L525 2688L538 2676ZM208 2681L212 2673L228 2665L218 2677ZM454 2867L465 2878L460 2888L447 2881ZM456 3049L463 3041L469 3047L463 3053ZM692 3177L693 3158L709 3166ZM586 3156L582 3163L574 3159L577 3154ZM683 2667L697 2658L709 2659L698 2667ZM655 3051L654 3041L663 3027L663 3042ZM207 2835L193 2824L187 2813L198 2821ZM333 3001L334 3011L320 3014L319 3002ZM308 2779L310 2765L319 2748L315 2765ZM644 3158L628 3158L635 3144ZM200 3031L193 3019L194 3001L201 3016ZM268 2884L270 2871L280 2874L281 2885ZM637 3091L627 3085L628 3079L635 3081ZM649 3140L660 3135L674 3134L662 3139ZM486 2776L493 2792L478 2796ZM461 2838L458 2831L461 2822L464 2830ZM690 2693L698 2683L713 2677L703 2689ZM208 2840L212 2830L220 2824L216 2834ZM526 2837L540 2828L543 2843ZM600 2874L605 2870L616 2872L607 2877ZM564 3001L564 3018L547 3011ZM381 2844L372 2845L365 2839L374 2838ZM506 3135L515 3127L527 3124L518 3132ZM509 2746L486 2751L492 2737ZM560 2888L563 2874L574 2881ZM580 3019L588 3014L594 3023L585 3026ZM576 2721L569 2722L561 2715L571 2715ZM334 2997L337 2987L345 2980L342 2990ZM343 2975L342 2965L354 2965L352 2974ZM687 2741L680 2738L679 2728L689 2728ZM537 2772L546 2789L534 2795ZM514 3060L494 3059L507 3036ZM683 2852L669 2853L664 2846L673 2844ZM455 2751L465 2745L472 2744L466 2750ZM664 3136L672 3139L670 3155L659 3146ZM681 2693L685 2676L697 2687ZM546 3045L546 3034L551 3025L552 3035ZM307 3056L292 3056L289 3045L303 3045ZM405 2665L410 2679L395 2673ZM418 2956L409 2957L395 2952L409 2951ZM359 2654L361 2671L348 2661ZM417 2930L407 2940L402 2929ZM605 3014L621 3007L637 3009L622 3015ZM463 3044L459 3058L450 3053L451 3042ZM233 3044L245 3036L252 3051ZM550 2696L551 2683L561 2687ZM542 2683L527 2678L523 2672L533 2673ZM448 2754L441 2739L460 2746ZM236 2902L218 2890L211 2880L224 2888ZM413 2805L426 2792L436 2787L427 2796ZM529 3068L545 3081L524 3085ZM359 2697L353 2689L351 2674L358 2686ZM337 3017L354 3007L367 3005L355 3013ZM214 2969L207 2951L228 2954ZM598 2773L610 2768L630 2766L613 2772ZM661 2797L659 2776L679 2786ZM359 2737L354 2721L367 2722ZM300 2718L309 2711L315 2718L307 2726ZM682 2869L676 2857L678 2851L684 2857ZM252 3154L251 3141L257 3134L258 3144ZM560 3020L553 3009L553 2994L561 3006ZM350 3115L356 3101L365 3112ZM299 2774L295 2786L280 2783L285 2771ZM543 2987L554 2988L544 2998ZM386 2751L362 2766L358 2745ZM498 2878L487 2889L477 2875ZM259 2860L247 2863L238 2860L248 2857ZM412 3114L411 3135L399 3128ZM260 2835L247 2835L239 2828L250 2828ZM578 3044L591 3061L573 3059ZM408 2813L401 2813L393 2805L403 2807ZM524 2911L541 2897L534 2918ZM337 3121L329 3111L323 3094L333 3108ZM310 2821L315 2805L333 2819ZM245 2970L233 2973L234 2965L241 2962ZM368 2948L359 2935L361 2924L368 2934ZM698 3003L712 2997L716 3019ZM666 2721L673 2701L687 2713ZM391 2915L389 2892L405 2900ZM369 2898L378 2890L387 2892L380 2905ZM276 2821L285 2805L290 2819ZM594 2903L587 2895L586 2888L592 2894ZM503 2667L497 2659L508 2653L515 2665ZM587 2763L571 2763L561 2760L573 2759ZM326 2919L324 2907L344 2908ZM349 2706L340 2709L325 2705L339 2703ZM490 2785L473 2803L476 2783ZM482 3108L482 3098L490 3087L489 3100ZM577 3136L570 3164L557 3144ZM536 2686L519 2689L524 2669ZM582 2920L574 2900L595 2900ZM556 3037L547 3037L536 3027L549 3030ZM621 3171L610 3164L605 3153L615 3160ZM647 2817L642 2808L645 2795L650 2807ZM374 2977L378 2962L388 2956L385 2968ZM388 2845L379 2835L394 2836ZM313 2805L323 2808L323 2816L313 2816ZM210 2907L196 2921L191 2903ZM658 2995L666 2989L674 2993L667 2998ZM551 3121L567 3113L580 3111L567 3118ZM342 3107L336 3105L329 3095L338 3100ZM266 2694L274 2684L284 2677L277 2687ZM225 2685L224 2677L228 2670L229 2678ZM563 3152L577 3143L590 3143L579 3151ZM666 2760L677 2755L691 2756L679 2761ZM411 2693L415 2671L422 2662L420 2676ZM185 3106L183 3093L192 3075L192 3093ZM341 3139L324 3152L323 3134ZM624 2870L631 2862L646 2855L635 2866ZM347 3120L345 3108L347 3086L349 3106ZM368 2766L352 2753L372 2747ZM231 2791L218 2797L220 2783ZM556 3044L535 3042L549 3022ZM264 2783L270 2772L280 2785ZM261 2952L274 2948L272 2962ZM261 2924L263 2908L272 2895L271 2911ZM470 3015L454 3012L458 2993ZM408 2729L416 2740L407 2747L401 2740ZM448 2740L440 2736L446 2723L456 2729ZM332 3171L326 3159L328 3151L332 3159ZM438 2676L426 2675L406 2668L425 2670ZM440 3138L444 3116L451 3106L450 3121Z" fill="#331895"/>
<path d="M355 2763L350 2781L337 2776ZM592 2835L580 2819L602 2819ZM700 2725L704 2712L709 2705L707 2715ZM416 2998L428 2986L439 2983L431 2993ZM447 3027L437 3009L438 2995L446 3008ZM249 2871L231 2884L232 2860ZM660 2912L654 2900L668 2899ZM280 2708L283 2695L293 2690L290 2701ZM301 2819L306 2801L319 2817ZM403 2941L414 2946L406 2956L401 2948ZM683 2758L686 2772L670 2766ZM242 2773L247 2760L256 2753L252 2764ZM573 2932L581 2924L581 2937ZM635 2762L639 2754L654 2749L646 2760ZM710 2879L699 2865L714 2859ZM266 2950L279 2950L268 2965ZM262 2952L280 2953L270 2967ZM213 2944L207 2947L197 2941L207 2939ZM593 2860L602 2845L610 2842L606 2852ZM215 2745L208 2743L202 2735L211 2738ZM172 2911L179 2900L194 2894L184 2906ZM696 2732L710 2736L697 2747ZM500 3138L495 3139L484 3135L494 3134ZM497 2783L477 2780L466 2775L480 2776ZM192 2811L203 2797L214 2793L207 2805ZM529 3141L536 3153L523 3151ZM288 2964L294 2978L285 2978ZM527 2796L538 2787L555 2780L541 2790ZM447 2763L429 2759L442 2748ZM221 2734L230 2720L240 2736ZM218 2761L224 2750L232 2745L228 2755ZM613 2872L607 2863L607 2850L613 2860ZM489 3039L498 3027L504 3036ZM612 3109L614 3091L622 3085L622 3096ZM206 3001L215 2995L232 2993L218 3001ZM716 2731L701 2728L709 2716ZM228 2949L234 2958L220 2959ZM251 3089L253 3098L241 3099L242 3090ZM181 3009L180 2998L189 2982L189 2998ZM467 3037L482 3059L461 3055ZM406 2722L409 2715L423 2713L414 2722ZM497 3034L512 3021L516 3036ZM320 2949L338 2960L318 2963ZM272 3040L269 3024L286 3033ZM680 2771L668 2762L665 2754L674 2759ZM232 2844L217 2846L203 2843L217 2841ZM394 3051L391 3064L378 3062L380 3049ZM400 2924L414 2918L411 2934ZM260 2783L280 2792L260 2801ZM521 2985L507 2988L506 2976ZM608 2701L594 2685L590 2676L600 2685ZM505 2922L508 2943L486 2934ZM193 2854L180 2863L183 2844ZM726 2866L709 2867L694 2861L710 2860ZM688 3008L699 3005L716 3008L701 3011ZM510 2820L525 2828L515 2843ZM354 2898L363 2885L368 2902ZM592 3007L586 2998L586 2983L592 2995ZM700 2907L693 2898L705 2897ZM479 3167L469 3159L465 3145L475 3154ZM216 2836L215 2811L237 2826ZM673 2942L671 2930L677 2912L678 2929ZM423 2998L431 3014L416 3016ZM515 2990L515 2978L520 2969L520 2980ZM641 3152L631 3159L626 3149ZM319 2965L302 2976L298 2960ZM403 2844L388 2831L384 2819L396 2827ZM193 2871L189 2860L196 2839L198 2858ZM665 2714L641 2721L651 2701ZM199 2710L200 2725L187 2718ZM389 3104L397 3099L404 3102L398 3107ZM193 2721L180 2722L169 2715L182 2714ZM656 2660L644 2669L642 2656ZM338 2796L323 2800L313 2795L325 2791ZM225 2789L212 2804L212 2788ZM396 2912L402 2893L415 2913ZM687 2825L670 2833L673 2814ZM714 3006L695 3018L691 2996ZM614 3045L595 3045L585 3039L599 3037ZM664 2767L651 2780L645 2765ZM238 2992L225 2985L220 2978L229 2982ZM201 2938L201 2925L216 2933ZM436 2958L421 2955L431 2934ZM646 2982L629 2975L648 2962ZM558 2691L562 2704L549 2705ZM580 2845L588 2848L587 2854L578 2853ZM317 2931L304 2934L305 2925ZM458 2820L442 2811L436 2803L447 2808ZM449 2714L443 2724L436 2713ZM535 3056L521 3055L513 3048L524 3049ZM286 2733L280 2729L277 2718L285 2725ZM323 2881L325 2894L316 2899L310 2884ZM298 3127L283 3125L267 3116L284 3119ZM212 2956L199 2941L223 2944ZM507 3039L507 3031L512 3023L513 3032ZM456 3160L439 3155L430 3145L444 3148ZM560 3091L540 3094L530 3089L543 3085ZM721 2962L714 2972L705 2963L712 2953ZM616 2958L619 2953L631 2952L623 2959ZM467 2784L459 2767L460 2757L466 2767ZM219 2858L193 2863L207 2836ZM251 2895L239 2886L258 2877ZM640 2975L628 2977L627 2966L641 2966ZM668 2836L659 2840L653 2831L666 2824ZM569 2788L562 2779L562 2756L571 2774ZM205 2945L191 2960L184 2938ZM241 3088L238 3082L240 3068L243 3080ZM279 2699L287 2681L300 2696ZM492 3046L480 3042L471 3030L485 3035ZM235 2768L238 2760L245 2764L243 2771ZM347 2729L328 2733L332 2715ZM658 3063L666 3058L671 3064L662 3071ZM195 3029L204 3029L208 3034L197 3042ZM696 2806L699 2799L710 2798L704 2806ZM224 2822L226 2839L214 2841ZM624 2867L610 2863L596 2850L613 2856ZM448 2848L463 2852L449 2865ZM485 3073L499 3071L499 3083ZM705 3023L708 3038L693 3030ZM186 2820L194 2805L199 2819ZM474 2677L468 2662L468 2652L474 2662ZM606 3062L601 3041L619 3047ZM490 3064L498 3074L482 3074ZM651 2738L654 2728L661 2720L658 2730ZM341 2821L344 2841L328 2835ZM450 2779L463 2772L466 2783L458 2788ZM350 2963L363 2959L365 2971L354 2972ZM470 2792L450 2789L461 2776ZM447 3052L434 3065L427 3042ZM704 2824L679 2814L702 2800ZM177 2806L175 2786L191 2793ZM336 3133L333 3117L339 3109L342 3120ZM479 3127L500 3120L490 3139ZM640 2858L660 2870L634 2882ZM261 2753L258 2744L260 2726L263 2741ZM360 2977L353 2992L347 2977ZM409 3143L397 3147L377 3141L396 3138ZM492 3118L490 3101L511 3113ZM564 2967L554 2957L551 2946L560 2954ZM659 2678L655 2669L659 2653L663 2667ZM537 3140L550 3135L545 3149ZM208 2711L197 2727L192 2713ZM314 2900L308 2891L309 2885L313 2890ZM467 2906L469 2894L479 2897ZM426 2844L407 2840L419 2832ZM275 2725L294 2721L295 2737ZM339 3140L345 3152L332 3151ZM297 2693L282 2700L291 2681ZM395 3040L411 3034L428 3035L412 3040ZM360 2987L354 2981L354 2968L361 2977ZM310 2729L332 2731L316 2748ZM297 2817L299 2804L304 2795L303 2806ZM455 3083L457 3094L445 3098L443 3084ZM451 3164L449 3151L461 3157ZM489 3113L491 3103L503 3117ZM369 3021L366 3015L368 3003L371 3013ZM687 3046L668 3029L693 3023ZM632 3084L616 3081L610 3076L620 3077ZM212 2886L219 2870L231 2888ZM647 2971L652 2998L630 2989ZM650 2933L645 2923L653 2919L657 2928ZM440 3111L446 3095L457 3084L452 3099ZM625 2677L634 2665L649 2654L638 2668ZM654 2992L662 2986L670 2987L664 2992ZM247 2961L249 2953L261 2945L256 2957ZM354 3010L343 3001L361 2997ZM437 3147L443 3152L440 3161L431 3156ZM327 2947L336 2954L332 2966L322 2965ZM569 2746L576 2736L583 2732L578 2740ZM347 2782L355 2787L349 2796L342 2791ZM481 2729L465 2710L490 2707ZM537 3153L521 3141L544 3134ZM632 3013L633 2995L646 3009ZM352 2730L341 2728L351 2716ZM613 2912L607 2899L610 2888L615 2899ZM228 3036L225 3046L215 3038ZM214 2980L206 2976L211 2964L220 2970ZM300 3016L312 3007L318 3022ZM301 2810L308 2805L316 2810L308 2818ZM356 2770L348 2752L347 2740L354 2753ZM414 3078L405 3058L406 3048L412 3059ZM405 2736L394 2729L392 2720L402 2725ZM500 3141L497 3128L501 3116L504 3128ZM598 2867L603 2845L609 2837L607 2850ZM690 3049L681 3050L672 3044L682 3043ZM285 2824L290 2818L299 2820L293 2826ZM455 2795L440 2790L431 2780L444 2784ZM359 2951L370 2972L348 2968ZM298 2763L276 2745L298 2734ZM233 3164L219 3166L200 3163L218 3161ZM211 2762L196 2761L198 2749L210 2749ZM485 3129L496 3140L481 3146ZM398 2709L401 2700L414 2688L407 2702ZM676 2796L666 2793L663 2788L670 2789ZM599 2897L593 2886L593 2878L598 2886ZM222 2868L243 2868L227 2885ZM263 2705L257 2697L253 2676L262 2692ZM614 2865L607 2866L594 2861L606 2861ZM501 3108L514 3097L516 3115ZM627 2719L623 2701L626 2690L629 2702ZM492 2911L494 2899L503 2891L501 2903ZM354 3089L349 3082L351 3067L356 3079ZM585 2869L594 2876L578 2884ZM566 2999L575 3008L570 3016L561 3005ZM647 2669L657 2665L669 2668L658 2672ZM258 2770L237 2773L225 2767L240 2764ZM635 2868L631 2880L614 2877L620 2862ZM260 2818L252 2829L243 2824L250 2812ZM694 2743L697 2724L708 2732ZM272 2893L273 2880L279 2869L279 2882ZM352 2726L342 2724L339 2716L348 2717ZM243 2758L248 2741L255 2735L253 2746ZM583 2844L588 2867L571 2857ZM205 2971L208 2964L219 2957L213 2967ZM584 2911L571 2904L586 2892ZM674 2852L661 2849L673 2834ZM256 2699L248 2700L238 2696L248 2695ZM598 3121L583 3127L582 3114ZM539 2692L536 2676L539 2662L542 2677ZM328 2756L324 2745L335 2741L338 2756ZM431 2838L426 2818L450 2826ZM617 2701L598 2715L594 2692ZM543 3074L528 3078L515 3074L529 3070ZM385 3070L404 3087L380 3087ZM266 2661L286 2663L272 2680ZM613 2911L622 2904L640 2899L626 2908ZM708 2705L702 2697L699 2686L705 2695ZM659 2893L675 2889L672 2909ZM252 2869L233 2883L227 2867ZM572 2963L551 2950L571 2937ZM189 2664L199 2676L179 2682ZM711 3159L707 3168L698 3160L704 3152ZM509 3116L499 3114L492 3107L502 3109ZM711 2738L697 2743L703 2729ZM538 2803L539 2793L545 2785L545 2795ZM214 2867L203 2866L209 2853ZM580 3097L591 3104L580 3113ZM552 3138L553 3127L566 3128L561 3141ZM243 3008L254 3002L263 3004L254 3009ZM652 2797L634 2787L628 2776L641 2782ZM304 3120L292 3145L282 3124ZM548 2657L565 2653L559 2667ZM450 2668L443 2646L462 2657ZM279 2784L272 2783L265 2775L274 2778ZM206 2707L200 2701L201 2686L208 2697ZM340 3109L329 3105L322 3095L333 3099ZM355 3061L334 3075L335 3052ZM179 2725L184 2717L201 2713L190 2724ZM209 2682L206 2699L194 2694ZM679 2923L691 2917L703 2920L692 2926ZM234 2692L214 2688L207 2680L220 2681ZM264 2844L252 2855L246 2843ZM397 3145L385 3140L381 3134L390 3137ZM583 2746L588 2735L596 2730L592 2739ZM620 3147L606 3143L590 3131L607 3137ZM267 2753L256 2738L255 2723L265 2736ZM284 3044L287 3032L292 3028L291 3036ZM212 2753L222 2742L228 2750L221 2759ZM627 2899L615 2895L610 2887L620 2889ZM447 3019L451 3003L463 2990L458 3007ZM367 2730L358 2728L350 2715L362 2721ZM273 2962L280 2952L292 2950L285 2960ZM241 3007L245 2995L256 2982L250 2997ZM489 2986L479 2976L475 2966L483 2974ZM620 2968L613 2975L605 2967L612 2961ZM599 2886L603 2908L588 2903ZM649 3074L641 3056L661 3060ZM284 3031L281 3023L287 3013L290 3023ZM376 2652L380 2672L366 2665ZM314 2801L315 2789L320 2785L321 2793ZM669 2921L661 2923L651 2915L663 2914ZM612 2746L611 2733L614 2724L616 2735ZM674 2939L684 2930L686 2940ZM723 2911L703 2916L710 2894ZM419 2704L420 2694L429 2682L427 2696ZM359 3069L351 3050L369 3054ZM443 2665L431 2668L434 2652L445 2657ZM340 2695L353 2678L364 2672L356 2685ZM454 2681L446 2676L442 2667L450 2672ZM429 2763L450 2757L444 2774ZM234 3173L226 3169L221 3162L229 3166ZM339 3051L339 3041L348 3043L350 3048ZM554 2866L535 2867L527 2862L538 2861ZM546 2667L528 2673L537 2657ZM535 3140L546 3127L554 3143ZM313 2802L314 2786L333 2801ZM583 2662L564 2668L567 2649ZM339 2785L322 2785L315 2780L326 2778ZM213 2841L229 2853L210 2857ZM178 2989L191 2983L201 2983L191 2988ZM320 2778L340 2766L330 2788ZM228 2667L222 2661L222 2650L228 2658ZM620 2712L614 2697L617 2686L622 2697ZM264 2926L267 2919L278 2911L272 2922ZM450 2747L449 2760L437 2758ZM261 2778L253 2777L243 2764L256 2769ZM607 3137L610 3126L619 3119L615 3129ZM494 2770L487 2750L512 2753ZM573 3060L577 3051L590 3043L583 3055ZM494 3119L508 3124L497 3133ZM558 2790L569 2781L586 2777L573 2786ZM245 2712L232 2708L218 2696L234 2702ZM531 3110L519 3101L536 3100ZM680 2858L684 2839L691 2830L690 2843ZM358 3033L341 3027L331 3019L345 3023ZM631 2936L637 2948L622 2947ZM633 2925L643 2913L655 2908L646 2918ZM531 3099L531 3081L550 3096ZM247 2756L236 2748L232 2734L243 2743ZM520 3162L530 3152L549 3144L535 3156ZM477 2776L476 2757L501 2764ZM521 2701L527 2694L539 2694L531 2701ZM249 3067L245 3051L258 3053ZM442 2843L451 2837L464 2835L453 2841ZM597 3164L605 3167L605 3176L596 3175ZM523 3114L519 3107L531 3102L535 3110ZM250 2828L264 2837L248 2844ZM417 2814L399 2830L403 2802ZM423 2699L425 2707L417 2709L415 2703ZM275 2706L291 2700L300 2703L290 2708ZM209 3122L217 3119L230 3119L219 3123ZM406 3108L410 3119L401 3123L395 3114ZM461 2930L451 2917L470 2915ZM686 2814L708 2807L718 2810L706 2816ZM679 2834L672 2847L661 2836L668 2826ZM470 2968L476 2984L457 2985ZM673 2658L690 2667L672 2677ZM536 3139L532 3128L536 3120L541 3129ZM324 2868L316 2855L328 2850L335 2864ZM193 2934L178 2941L176 2926ZM533 2739L539 2728L548 2735L541 2744ZM232 3056L234 3071L224 3071ZM444 2856L452 2867L439 2876ZM582 2990L573 2978L587 2971L593 2979ZM436 3123L432 3105L435 3095L438 3107ZM675 2917L660 2922L667 2909ZM352 2692L339 2694L329 2690L340 2689ZM334 2886L349 2884L348 2899ZM301 2924L312 2926L306 2937ZM471 3072L464 3084L459 3070ZM294 2872L286 2884L277 2874ZM603 2766L622 2777L606 2784ZM714 2714L713 2725L700 2721L701 2711ZM362 2769L342 2765L333 2758L346 2760ZM603 2701L613 2692L626 2692L616 2700ZM594 3097L606 3088L613 3089L607 3096ZM388 2833L397 2814L407 2809L402 2821ZM192 2977L208 2978L193 2993ZM540 2865L533 2863L528 2853L537 2858ZM558 2765L549 2748L549 2735L556 2747ZM542 2838L541 2827L547 2820L549 2830ZM250 3037L240 3041L232 3037L241 3032ZM617 2820L606 2817L591 2807L607 2812ZM708 3168L709 3158L713 3150L713 3160ZM525 3080L539 3071L541 3089ZM562 3139L565 3122L573 3109L571 3125ZM254 2721L245 2715L244 2708L251 2711ZM495 2747L509 2742L508 2757ZM280 2823L262 2829L267 2808ZM643 2788L661 2773L660 2792ZM243 2984L231 2987L227 2975L239 2975ZM593 2887L595 2869L605 2856L603 2873ZM568 3147L569 3130L584 3135ZM378 2832L370 2836L365 2831L368 2825ZM395 2677L405 2660L413 2654L409 2666ZM634 2872L650 2857L661 2855L652 2865ZM297 3155L290 3154L283 3143L294 3147ZM233 2728L245 2726L245 2738L237 2740ZM493 3028L479 3024L466 3011L483 3017ZM423 3077L434 3074L437 3083L427 3090ZM281 3075L284 3081L272 3083L271 3074ZM324 2812L313 2804L322 2799ZM356 2733L353 2720L355 2708L358 2720ZM222 2897L211 2905L208 2890ZM255 2765L247 2755L261 2749ZM235 2996L260 2985L256 3006ZM539 3101L546 3117L533 3116ZM484 3016L471 3008L463 2995L476 3003Z" fill="#5232ae"/>
<path d="M614 2713L593 2712L598 2697ZM607 2786L612 2780L625 2782L615 2789ZM233 2691L220 2682L213 2670L225 2678ZM582 2861L573 2872L567 2862ZM263 2906L262 2896L269 2891L270 2900ZM366 2903L369 2914L359 2916L352 2908ZM350 3137L352 3118L360 3106L359 3122ZM610 2825L597 2808L617 2806ZM222 2991L223 2983L231 2973L228 2984ZM438 2715L440 2700L454 2704L451 2713ZM196 3133L192 3125L192 3111L197 3123ZM542 2689L547 2683L557 2684L550 2690ZM322 3060L327 3067L320 3075L314 3064ZM410 2713L392 2690L416 2690ZM193 2814L199 2826L186 2827ZM569 2914L574 2905L588 2894L579 2907ZM460 3097L472 3094L465 3110ZM611 2755L605 2748L614 2741L620 2748ZM529 2731L547 2731L533 2744ZM699 3061L694 3056L698 3049L707 3054ZM567 2799L562 2787L575 2789ZM380 3074L370 3063L368 3047L378 3059ZM242 2950L234 2957L227 2940L241 2938ZM414 2770L401 2763L389 2749L404 2758ZM377 2723L374 2716L383 2712L385 2722ZM379 2677L368 2672L359 2659L373 2665ZM602 3139L598 3130L600 3116L605 3128ZM458 3070L440 3058L435 3049L446 3055ZM206 2699L188 2697L174 2688L191 2689ZM394 2751L396 2730L402 2722L402 2735ZM192 3065L201 3056L206 3071ZM670 2682L660 2676L672 2670ZM298 2665L310 2666L300 2681ZM186 2913L185 2897L187 2888L189 2899ZM634 2714L631 2696L637 2681L640 2698ZM240 2820L240 2812L251 2804L248 2815ZM638 2933L652 2937L634 2951ZM477 2790L490 2769L496 2793ZM531 3020L542 3015L556 3019L543 3024ZM319 2877L313 2867L313 2850L319 2864ZM315 2944L304 2960L301 2946ZM223 3009L221 2991L226 2982L229 2994ZM658 2686L647 2698L639 2687L647 2678ZM273 3120L269 3107L282 3111ZM565 3043L551 3036L563 3025L571 3031ZM336 2808L330 2810L319 2803L330 2803ZM452 2886L462 2875L478 2867L466 2879ZM519 2923L506 2919L501 2910L511 2913ZM241 2923L229 2919L223 2913L232 2915ZM326 2691L321 2703L315 2691ZM366 2931L370 2917L380 2903L375 2919ZM428 2782L429 2766L438 2754L437 2769ZM561 2916L546 2921L549 2908ZM348 3027L341 3024L337 3015L345 3020ZM272 2875L259 2872L253 2863L265 2865ZM213 2897L230 2890L233 2908ZM632 2806L648 2808L642 2819L634 2817ZM470 3139L476 3125L490 3114L483 3130ZM379 2911L366 2903L374 2895ZM515 2847L504 2830L522 2828ZM686 2942L688 2924L695 2918L695 2929ZM575 3043L595 3056L583 3061ZM620 2890L617 2881L622 2863L624 2879ZM319 3028L308 3023L310 3012L323 3014ZM290 3041L280 3040L264 3027L282 3031ZM611 2950L593 2946L587 2939L599 2939ZM472 2759L469 2773L461 2760ZM331 2889L323 2876L322 2866L329 2875ZM520 3124L524 3111L535 3117L532 3127ZM318 2674L330 2666L343 2666L332 2673ZM658 3134L664 3130L673 3130L666 3134ZM514 2968L529 2958L533 2975ZM364 2845L374 2828L386 2846ZM409 2654L418 2662L411 2669L400 2663ZM239 2893L229 2888L223 2874L235 2882ZM686 2959L700 2975L679 2978ZM444 3053L440 3036L445 3027L449 3038ZM442 2883L437 2871L458 2876ZM504 2710L497 2700L493 2684L501 2697ZM602 3025L594 3011L592 2996L599 3009ZM483 3041L483 3057L469 3051ZM291 3002L276 2998L271 2989L283 2991ZM523 2766L517 2757L515 2744L522 2755ZM348 2795L341 2792L339 2780L348 2786ZM193 3139L184 3125L183 3115L190 3124ZM204 2790L213 2798L202 2801ZM555 2973L576 2966L587 2970L574 2976ZM295 2783L283 2791L283 2778ZM663 3113L665 3101L675 3107ZM290 2733L299 2720L304 2729ZM287 2723L283 2711L285 2695L290 2710ZM370 3041L360 3030L356 3015L367 3026ZM641 2732L645 2720L656 2708L650 2722ZM341 3137L364 3131L353 3155ZM459 2677L452 2668L465 2666L467 2673ZM364 2831L371 2821L379 2816L374 2825ZM573 2797L569 2808L559 2808L560 2795ZM445 2940L454 2915L465 2936ZM617 2694L627 2690L639 2691L628 2695ZM198 2717L200 2706L206 2701L205 2710ZM360 2864L351 2862L343 2854L354 2857ZM252 2856L261 2874L245 2869ZM594 3118L599 3127L592 3133L584 3123ZM391 2858L389 2845L391 2828L394 2844ZM465 2682L464 2693L452 2693L453 2682ZM335 2824L342 2816L357 2813L347 2823ZM635 2924L646 2916L649 2924ZM614 2903L597 2901L585 2894L600 2894ZM304 2944L314 2948L307 2958ZM689 2974L669 2991L668 2965ZM548 3083L555 3077L565 3076L557 3082ZM204 3165L203 3152L206 3146L208 3154ZM557 2875L561 2862L573 2854L569 2868ZM191 2990L200 2993L200 3004L187 3003ZM213 2903L204 2904L195 2896L207 2896ZM258 3045L270 3048L262 3057ZM545 3043L545 3054L536 3052L538 3043ZM254 2810L265 2810L263 2821L253 2823ZM455 2826L449 2840L440 2831ZM546 2786L556 2778L565 2778L557 2784ZM336 2986L338 2996L326 2998L326 2984ZM679 2780L690 2767L702 2761L693 2772ZM593 2806L581 2792L580 2783L588 2791ZM544 3047L547 3038L559 3026L553 3040ZM320 3057L310 3045L306 3028L316 3041ZM692 3127L700 3124L713 3127L701 3130ZM645 3108L635 3111L624 3105L636 3103ZM478 3149L504 3162L484 3172ZM249 2667L261 2667L248 2681ZM483 2942L488 2922L509 2937ZM580 2737L569 2726L578 2722ZM636 3040L622 3044L623 3033ZM467 3087L455 3086L442 3079L456 3081ZM486 3057L498 3057L498 3069L488 3068ZM640 3106L633 3091L635 3079L641 3091ZM379 2984L365 2969L383 2967ZM549 2862L544 2847L548 2835L553 2848ZM253 2868L245 2855L247 2847L253 2855ZM260 2889L269 2895L258 2905ZM234 2796L212 2787L232 2776ZM453 3114L457 3103L463 3100L461 3108ZM450 3104L435 3094L451 3082ZM646 3007L658 3019L637 3027ZM408 3168L381 3169L393 3151ZM337 2876L345 2888L335 2891ZM192 3054L203 3033L215 3053ZM343 2912L333 2902L332 2894L339 2900ZM661 2989L681 2987L672 3003ZM204 2851L198 2847L195 2834L203 2842ZM398 3082L409 3063L422 3084ZM329 2717L322 2704L331 2701L336 2712ZM232 3025L227 3015L239 3013ZM680 2709L681 2696L690 2684L688 2698ZM666 2830L672 2826L682 2829L673 2832ZM542 2989L537 2970L539 2955L543 2971ZM427 2739L420 2751L413 2739ZM439 2700L421 2710L423 2697ZM305 3083L300 3078L300 3065L306 3075ZM597 2907L589 2901L585 2887L595 2896ZM408 3065L411 3053L417 3048L415 3057ZM415 2793L430 2783L428 2801ZM295 3116L318 3114L307 3131ZM384 3105L378 3089L381 3080L387 3090ZM670 3162L661 3148L660 3135L668 3146ZM504 2718L493 2716L489 2710L497 2710ZM581 2893L590 2886L604 2884L593 2891ZM257 3159L258 3146L263 3141L263 3149ZM370 2726L363 2736L357 2718ZM539 3069L533 3048L551 3057ZM315 2959L303 2966L300 2953L308 2947ZM375 2983L382 2970L395 2980L385 2988ZM710 2671L698 2662L712 2648ZM521 2865L511 2865L501 2855L514 2856ZM277 2844L267 2860L255 2837ZM346 3058L352 3073L337 3069ZM237 2988L241 2973L254 2981ZM388 3055L381 3069L369 3056ZM697 2912L709 2896L720 2909ZM218 2835L228 2819L234 2832ZM382 2717L375 2698L388 2695ZM511 2975L489 2981L492 2965ZM484 2924L496 2915L503 2915L497 2921ZM654 2738L652 2731L658 2719L659 2730ZM573 2734L560 2722L575 2713ZM325 2798L339 2794L338 2809ZM662 2765L674 2758L679 2764L669 2777ZM275 2808L262 2811L243 2807L261 2805ZM353 2732L364 2726L379 2728L366 2735ZM323 3063L313 3065L294 3056L312 3056ZM454 2682L456 2675L467 2669L462 2680ZM383 2757L379 2742L382 2734L385 2743ZM467 3164L478 3160L478 3179ZM556 2815L557 2830L536 2821ZM556 2692L573 2694L568 2708L557 2708ZM661 2921L646 2922L654 2910ZM483 2939L459 2931L480 2913ZM187 2783L189 2770L195 2767L195 2776ZM243 3069L246 3054L255 3048L253 3059ZM318 2824L299 2817L318 2805ZM260 2895L253 2890L250 2880L257 2887ZM567 3040L571 3031L588 3021L579 3035ZM359 3070L371 3054L381 3051L375 3062ZM453 3119L446 3102L446 3086L452 3102ZM197 2861L203 2846L213 2837L208 2850ZM181 2767L184 2755L194 2767ZM291 2942L298 2936L312 2933L301 2940ZM434 2860L447 2847L446 2864ZM519 3089L524 3084L536 3085L527 3091ZM202 3083L211 3075L223 3072L213 3080ZM313 3154L302 3152L289 3141L304 3145ZM254 2907L260 2903L272 2907L262 2910ZM544 2783L536 2770L535 2762L542 2770ZM247 3081L237 3073L235 3064L242 3070ZM382 2671L377 2660L391 2662ZM632 2993L646 2984L641 3005ZM522 2905L535 2891L548 2885L538 2897ZM416 3082L429 3076L449 3073L432 3080ZM524 2840L533 2835L540 2836L533 2840ZM672 3034L690 3022L690 3044ZM350 2845L347 2835L349 2824L352 2835ZM628 2674L600 2671L614 2653ZM641 2828L648 2817L661 2809L653 2821ZM222 3047L223 3064L207 3058ZM325 3010L321 3001L326 2993L330 3002ZM337 3063L336 3085L321 3072ZM555 2826L562 2815L566 2831ZM340 2895L347 2886L361 2881L352 2892ZM696 2860L673 2850L694 2840ZM591 2739L595 2731L605 2722L599 2733ZM211 2689L221 2678L228 2692ZM425 2688L416 2686L410 2680L419 2682ZM401 2654L396 2672L376 2658ZM428 3078L433 3070L439 3073L435 3082ZM516 2687L533 2690L527 2704ZM378 2699L369 2689L378 2683L386 2690ZM626 2721L605 2718L613 2703ZM603 2819L623 2821L610 2836ZM362 2684L354 2677L354 2667L362 2673ZM443 2884L427 2883L436 2873ZM230 2785L220 2770L239 2767ZM348 3135L335 3150L333 3124ZM336 3140L346 3146L337 3156ZM620 3007L617 2995L619 2989L623 2996ZM512 3001L513 2995L523 2990L518 2999ZM610 2700L603 2700L595 2694L604 2695ZM344 2791L327 2788L321 2781L332 2781ZM330 2921L322 2931L314 2914ZM217 3155L220 3142L228 3136L227 3146ZM498 3040L486 3037L497 3029ZM674 3015L659 3012L650 3003L663 3005ZM254 2708L247 2700L245 2686L253 2697ZM314 2810L320 2818L311 2821L307 2811ZM382 2950L383 2932L389 2923L389 2935ZM292 2716L280 2708L278 2699L288 2704ZM330 2795L309 2802L314 2785ZM261 3003L261 2990L276 2993L274 3006ZM576 2929L560 2915L571 2910ZM603 2903L617 2893L620 2909ZM618 3005L624 3025L598 3011ZM205 2971L209 2982L193 2979ZM609 2879L595 2888L595 2876ZM401 3181L390 3169L389 3157L399 3166ZM357 2668L342 2668L343 2652ZM568 3018L573 3013L583 3014L576 3019ZM296 3153L279 3150L285 3142ZM676 3036L661 3053L657 3031ZM418 3029L413 3018L415 3002L420 3016ZM204 2685L192 2682L179 2673L193 2678ZM561 2827L549 2827L552 2815ZM581 3087L573 3086L563 3079L574 3081ZM363 2677L348 2672L369 2665ZM711 2687L705 2673L708 2661L713 2673ZM505 2808L493 2792L493 2781L502 2791ZM313 2714L308 2702L308 2687L313 2700ZM687 2710L690 2697L697 2686L694 2699ZM211 3149L218 3168L198 3159ZM647 2671L644 2689L631 2676ZM418 2730L428 2748L404 2749ZM442 2853L434 2844L435 2838L441 2843ZM594 2789L612 2804L594 2812ZM300 3149L289 3138L287 3125L296 3135ZM248 3045L233 3033L225 3019L239 3029ZM283 2971L292 2975L288 2985L279 2981ZM215 2846L207 2849L195 2846L206 2844ZM621 3034L629 3019L640 3011L634 3024ZM254 2777L263 2766L269 2765L265 2772ZM435 2697L436 2690L444 2682L441 2692ZM513 3077L499 3065L514 3058ZM300 2718L292 2728L280 2721L291 2710ZM210 2743L222 2730L237 2725L226 2737ZM630 2985L623 3001L607 2991ZM237 2701L227 2703L219 2699L228 2697ZM208 3012L203 3004L203 2993L208 3002ZM622 2916L619 2936L606 2923ZM583 3076L583 3067L591 3059L591 3070ZM331 2778L332 2787L324 2786L324 2778ZM240 2804L231 2798L220 2780L234 2792ZM188 2889L189 2880L199 2868L196 2881ZM307 2781L312 2771L326 2759L317 2773ZM316 2670L306 2670L301 2664L312 2658ZM411 2792L399 2799L397 2788L406 2785ZM426 2978L422 2969L429 2967L431 2975ZM524 3125L529 3141L513 3140ZM299 2867L308 2850L321 2862ZM268 2733L267 2743L258 2744L257 2732ZM638 2805L635 2796L641 2786L644 2797ZM435 3115L423 3114L414 3107L426 3107ZM694 2715L686 2714L686 2704L698 2704ZM293 2800L296 2810L286 2813ZM602 2722L604 2709L612 2696L610 2711ZM599 2835L589 2840L584 2832L590 2824ZM439 2664L453 2660L468 2662L454 2666ZM675 3029L700 3013L689 3034ZM238 3124L247 3112L255 3127ZM295 2984L307 2977L313 2996ZM456 3051L470 3064L455 3068ZM302 2795L293 2797L276 2793L292 2792ZM548 2819L548 2807L556 2794L555 2808ZM395 2700L390 2678L416 2684ZM593 2839L574 2842L562 2838L576 2835ZM502 3022L509 3002L521 3015ZM634 3103L633 3091L638 3085L640 3094ZM714 3034L720 3046L707 3052L700 3041ZM245 2944L255 2939L254 2953ZM395 2848L405 2833L414 2826L408 2838ZM599 3143L598 3152L590 3152L590 3142ZM350 2833L344 2829L343 2819L350 2825ZM212 2980L221 2972L242 2968L226 2979ZM404 2816L403 2806L412 2785L411 2805ZM275 2815L282 2807L290 2818ZM293 2803L270 2801L285 2790ZM351 3097L360 3094L379 3095L363 3099ZM491 2747L507 2729L512 2755ZM335 2797L338 2807L327 2809L327 2802ZM439 2742L423 2743L412 2737L426 2736ZM575 2913L578 2927L565 2919ZM366 2715L369 2708L379 2706L374 2714ZM462 2981L454 2980L448 2969L459 2973ZM390 3150L399 3144L422 3144L404 3152ZM683 2672L673 2667L670 2657L679 2662ZM211 2900L230 2887L242 2886L230 2895ZM627 3151L622 3141L630 3140L636 3146ZM558 2898L566 2893L575 2895L567 2901ZM383 2803L376 2814L369 2806ZM271 3172L279 3153L288 3170ZM398 3148L406 3157L392 3164L389 3154ZM539 2913L516 2912L526 2896ZM492 3050L513 3043L524 3045L511 3052ZM332 3051L338 3044L349 3046L341 3053ZM334 3166L343 3153L351 3164ZM661 2960L676 2943L678 2959ZM232 2862L211 2869L218 2846ZM238 2937L257 2931L269 2934L256 2939ZM651 2852L645 2837L667 2842ZM658 2958L653 2976L644 2960ZM394 3062L382 3052L375 3036L388 3047ZM533 3054L547 3045L556 3044L547 3051ZM315 3127L313 3117L321 3103L322 3117ZM594 2990L568 2988L583 2970ZM233 3083L245 3072L253 3073L247 3081ZM346 2696L336 2704L330 2689ZM216 2807L210 2819L204 2813ZM387 3182L394 3166L404 3156L398 3170ZM667 3167L668 3160L680 3155L675 3165ZM431 3104L424 3118L412 3105ZM412 2697L421 2700L420 2711L407 2710ZM609 2938L598 2926L611 2923ZM356 3162L360 3154L372 3145L365 3156ZM409 2853L412 2862L402 2864L400 2856ZM470 2945L477 2929L487 2941ZM555 2874L555 2852L567 2867ZM602 3153L607 3143L616 3148L612 3156Z" fill="#3f22a2"/>
<path d="M355 2810L369 2818L356 2823ZM265 2676L253 2683L248 2671L257 2663ZM429 3088L412 3090L402 3086L414 3083ZM515 2668L522 2652L535 2668ZM566 3076L583 3069L581 3086ZM659 3103L675 3103L664 3117ZM604 2832L611 2822L617 2822L614 2829ZM620 2969L625 2953L634 2966ZM628 2966L637 2958L639 2972ZM308 2793L323 2787L341 2785L325 2791ZM457 3017L450 3005L450 2993L456 3004ZM471 3078L462 3063L481 3062ZM397 3026L385 3019L393 3010L402 3017ZM688 2858L703 2868L685 2880ZM239 2983L229 2980L226 2972L235 2974ZM614 2988L604 2990L587 2984L603 2983ZM612 2794L602 2787L611 2779ZM483 2730L470 2727L458 2716L473 2720ZM368 2844L356 2835L351 2825L361 2831ZM273 2698L261 2691L257 2684L266 2688ZM671 3003L676 2996L683 3003L680 3010ZM341 2894L325 2885L319 2873L332 2879ZM350 2767L359 2755L377 2747L365 2761ZM720 2929L709 2930L703 2926L711 2924ZM524 3039L538 3033L552 3035L539 3041ZM273 3133L283 3123L299 3117L287 3128ZM603 3109L608 3120L592 3114ZM204 3041L211 3036L231 3036L216 3043ZM383 2939L384 2921L395 2929ZM358 2694L369 2686L377 2687L370 2694ZM583 2700L582 2713L572 2708ZM652 2836L641 2836L631 2827L643 2828ZM526 3099L546 3091L543 3110ZM585 2730L570 2734L568 2720L585 2720ZM627 2694L622 2678L626 2662L631 2678ZM183 2818L192 2821L189 2830L181 2825ZM313 2990L325 2987L335 2990L324 2992ZM457 2712L464 2705L472 2706L467 2712ZM643 3076L621 3073L633 3062ZM674 2757L692 2761L684 2776ZM675 3052L667 3045L657 3028L670 3040ZM366 2663L371 2658L384 2660L374 2666ZM272 2925L268 2910L289 2913ZM248 2790L261 2775L268 2794ZM572 2691L560 2689L564 2675L572 2678ZM699 2803L686 2804L681 2800L689 2799ZM187 2739L194 2742L185 2752L181 2745ZM426 3092L412 3083L407 3071L419 3078ZM363 2845L357 2836L355 2827L362 2835ZM214 2937L234 2947L224 2953ZM427 2918L421 2907L421 2897L426 2906ZM219 3136L206 3126L223 3118ZM417 3122L409 3118L404 3102L416 3112ZM173 3147L183 3135L192 3129L185 3139ZM355 2922L366 2912L372 2925ZM470 2810L482 2801L502 2798L486 2808ZM275 2883L256 2895L249 2880ZM436 2964L422 2951L434 2947ZM434 3011L440 3034L413 3024ZM701 3116L711 3101L724 3120ZM475 2899L476 2886L485 2877L484 2889ZM587 2994L581 2972L596 2972ZM573 2926L567 2913L566 2896L573 2911ZM284 2874L294 2870L298 2880L288 2881ZM364 3037L352 3026L367 3020ZM538 2989L526 2986L515 2977L528 2981ZM719 2781L704 2778L698 2773L708 2773ZM189 2778L192 2769L200 2760L196 2770ZM406 3131L421 3148L394 3153ZM215 2943L230 2929L241 2926L233 2937ZM671 2769L666 2752L669 2743L673 2753ZM353 3128L366 3123L378 3126L366 3131ZM632 3047L634 3026L651 3043ZM430 2871L432 2856L447 2858L441 2870ZM523 3152L515 3143L509 3125L519 3139ZM227 3020L209 3020L216 3004ZM452 2899L453 2889L466 2888L464 2903ZM552 3106L571 3103L570 3127ZM420 2916L417 2902L429 2907ZM207 3140L218 3117L229 3135ZM562 3107L572 3108L571 3118L563 3116ZM704 3121L699 3136L690 3128ZM221 2879L224 2870L236 2862L230 2874ZM305 2896L281 2891L302 2882ZM699 3011L697 2993L702 2979L703 2994ZM578 2866L592 2854L591 2875ZM485 2833L497 2849L482 2849ZM543 2885L542 2876L547 2868L548 2877ZM611 2944L617 2931L632 2941L621 2950ZM255 2777L242 2786L241 2767ZM318 2723L320 2705L328 2693L327 2708ZM371 2920L368 2935L358 2929ZM222 3048L217 3038L219 3032L224 3038ZM625 2748L623 2741L631 2741L634 2748ZM637 2695L624 2685L634 2680ZM713 2829L697 2828L710 2815ZM188 2898L202 2883L212 2881L205 2891ZM622 2733L637 2725L649 2726L638 2733ZM429 2826L414 2827L400 2822L415 2821ZM472 2785L460 2784L442 2770L462 2775ZM632 2683L645 2671L648 2683ZM403 3001L410 2989L417 2996L412 3005ZM468 2937L465 2949L458 2945L461 2934ZM349 3132L331 3127L325 3119L337 3121ZM491 3164L485 3150L485 3138L491 3150ZM503 3103L507 3088L520 3097ZM697 2798L697 2789L704 2774L703 2789ZM582 2955L586 2944L597 2937L592 2949ZM200 2947L225 2944L207 2964ZM249 3100L228 3091L242 3084ZM412 2678L398 2684L394 2664ZM267 3023L284 3025L276 3037L269 3034ZM267 2727L255 2727L243 2720L257 2720ZM538 2984L533 2968L549 2970ZM579 2815L579 2797L598 2808ZM318 2851L304 2852L310 2835ZM633 2711L650 2696L661 2692L651 2703ZM490 3046L496 3054L490 3063L482 3052ZM510 2953L522 2951L528 2961L511 2966ZM536 2823L542 2814L545 2830ZM302 3158L314 3160L303 3174ZM459 2849L475 2838L483 2836L475 2843ZM387 2712L395 2703L411 2695L400 2707ZM202 2694L190 2692L199 2682ZM452 2802L470 2801L462 2820ZM442 3035L428 3033L439 3023ZM313 2660L317 2649L328 2652L327 2664ZM552 2896L550 2885L558 2866L557 2884ZM183 2861L180 2850L184 2845L187 2852ZM563 2786L576 2781L582 2784L574 2789ZM514 2928L522 2921L529 2921L523 2927ZM403 2757L414 2784L394 2775ZM563 3065L544 3066L549 3048ZM298 3101L303 3093L310 3095L306 3104ZM625 3070L641 3078L626 3085ZM598 2969L598 2988L585 2976ZM211 2960L226 2957L243 2959L227 2961ZM376 3148L364 3153L365 3144ZM354 2805L341 2801L349 2790ZM638 3052L640 3065L625 3062L626 3051ZM252 3042L232 3043L234 3026ZM682 2686L695 2673L703 2684ZM237 2706L239 2686L252 2701ZM226 3177L226 3169L236 3159L234 3171ZM590 2745L583 2737L584 2729L591 2735ZM694 2676L687 2668L682 2651L691 2664ZM503 2862L491 2858L497 2848L508 2851ZM247 3024L230 3028L237 3014ZM333 2676L352 2667L365 2669L352 2676ZM675 2906L666 2897L675 2891ZM332 2737L325 2761L312 2739ZM547 2943L568 2948L554 2958ZM377 2946L372 2938L375 2921L380 2935ZM436 2772L428 2767L425 2757L433 2763ZM680 2779L695 2766L695 2784ZM266 2982L258 2976L258 2961L267 2971ZM626 2669L629 2652L640 2661ZM255 3006L267 3001L285 3005L269 3010ZM624 2692L626 2684L637 2677L632 2688ZM264 3127L276 3120L284 3122L276 3128ZM512 2771L508 2751L527 2759ZM259 2731L257 2743L248 2729ZM489 2710L488 2722L477 2719ZM421 3009L403 3006L390 2998L406 3000ZM246 2838L255 2828L262 2827L257 2833ZM253 2737L241 2743L236 2735L245 2726ZM595 2815L589 2798L593 2789L598 2799ZM183 2943L190 2936L199 2936L193 2942ZM505 3011L498 3008L495 2998L503 3003ZM622 2798L641 2790L653 2790L641 2797ZM286 3081L306 3080L293 3098ZM481 2694L486 2687L495 2684L490 2692ZM691 2831L682 2839L681 2823ZM566 2687L569 2667L586 2678ZM597 2827L615 2817L629 2818L616 2826ZM387 3115L385 3105L390 3094L393 3105ZM364 3121L386 3119L371 3134ZM321 2812L316 2823L309 2816L316 2806ZM467 2730L469 2722L478 2717L475 2726ZM661 2947L658 2929L675 2940ZM688 2714L675 2699L692 2690ZM318 2944L338 2946L328 2961ZM247 2979L229 2977L217 2969L232 2971ZM383 2767L376 2763L378 2753L387 2758ZM522 2776L533 2767L545 2766L535 2774ZM316 3171L295 3172L283 3167L298 3165ZM340 3153L353 3150L360 3164L345 3167ZM706 2740L697 2724L713 2727ZM266 2739L276 2730L288 2728L279 2736ZM311 3102L323 3116L307 3122ZM260 2828L251 2820L244 2805L255 2816ZM532 2704L525 2695L521 2676L531 2691ZM682 2752L668 2736L690 2730ZM566 3137L567 3127L575 3114L572 3128ZM337 3076L348 3087L337 3091ZM342 2876L327 2870L335 2863ZM650 2712L642 2706L653 2695L663 2705ZM574 3109L585 3096L590 3110ZM328 2985L319 2981L325 2972L332 2979ZM636 2689L613 2674L634 2671ZM307 2884L326 2892L310 2906ZM255 3103L242 3105L223 3099L241 3097ZM274 2872L270 2863L280 2863L282 2872ZM650 3078L662 3072L667 3082L658 3089ZM636 2855L642 2846L658 2836L648 2850ZM331 2940L331 2959L318 2945ZM401 2790L403 2781L410 2775L408 2784ZM694 2686L708 2689L696 2697ZM437 2901L459 2911L440 2917ZM241 2878L242 2894L224 2886ZM644 2666L658 2655L666 2654L659 2662ZM481 2923L490 2915L498 2916L492 2922ZM523 2680L520 2671L521 2657L525 2669ZM655 3086L650 3079L651 3067L656 3077ZM567 2938L573 2949L567 2956L558 2946ZM542 2822L522 2819L531 2806ZM360 2699L348 2691L346 2683L354 2688ZM326 2983L320 2969L338 2974ZM617 3112L605 3092L627 3090ZM359 2658L352 2675L336 2664ZM703 2985L692 2989L691 2977L698 2974ZM274 2971L260 2958L273 2950ZM470 2888L453 2885L445 2879L457 2880ZM560 2989L573 2979L583 2976L574 2984ZM336 3094L333 3082L337 3076L339 3084ZM483 2752L494 2742L509 2739L498 2749ZM607 3036L594 3026L592 3018L601 3023ZM682 3018L677 3033L665 3028L671 3016ZM570 2850L568 2837L572 2823L573 2837ZM478 2829L481 2823L494 2817L486 2826ZM257 2809L246 2808L237 2798L250 2800ZM385 2999L382 2988L386 2981L390 2989ZM339 2721L332 2704L347 2709ZM705 2797L702 2823L683 2803ZM599 2740L603 2730L612 2724L608 2734ZM566 3047L582 3051L573 3057ZM315 3137L307 3123L322 3116ZM304 3027L294 3023L289 3016L298 3018ZM224 2914L232 2897L242 2889L236 2902ZM280 2803L289 2789L302 2782L294 2795ZM379 3138L362 3151L363 3136ZM322 2734L317 2750L302 2735ZM349 2989L329 3000L326 2979ZM599 2840L597 2829L600 2817L602 2829ZM438 3031L423 3033L427 3021L440 3021ZM514 3077L517 3069L529 3061L523 3072ZM440 3026L453 3026L449 3042ZM200 3067L192 3079L184 3064ZM390 3169L395 3149L402 3143L400 3155ZM682 2707L683 2723L668 2713ZM529 3109L545 3112L532 3119ZM547 2945L551 2959L538 2952ZM487 3061L506 3061L498 3080ZM205 2715L208 2706L219 2693L213 2707ZM678 2823L667 2822L670 2807L683 2811ZM479 3151L494 3137L499 3157ZM329 2762L322 2753L316 2734L326 2749ZM673 2941L672 2949L662 2951L663 2941ZM298 2724L294 2711L313 2719ZM188 3012L187 3034L167 3026ZM249 2688L269 2673L269 2693ZM557 2805L541 2797L560 2788ZM605 2731L613 2721L624 2714L616 2724ZM513 2811L497 2807L507 2797ZM229 2956L221 2952L213 2939L224 2947ZM218 2660L221 2672L209 2678L201 2668ZM626 2829L614 2822L607 2810L619 2817ZM381 3166L371 3159L377 3153L388 3158ZM407 2928L402 2948L383 2931ZM615 3062L615 3048L620 3039L620 3050ZM664 3155L654 3151L651 3144L659 3146ZM600 2695L591 2690L580 2674L594 2684ZM611 2719L600 2714L612 2705ZM517 3001L509 2990L511 2981L517 2989ZM433 3077L428 3067L436 3062L441 3074ZM664 3071L676 3053L688 3063ZM215 2784L217 2803L196 2800ZM277 2717L281 2711L293 2709L285 2716ZM568 2891L559 2903L550 2889ZM691 2907L691 2927L673 2920ZM428 2740L430 2730L438 2726L437 2735ZM679 2721L691 2717L704 2720L692 2724ZM210 3164L201 3143L227 3154ZM465 3174L462 3159L466 3144L469 3159ZM214 2785L207 2775L221 2773ZM616 3159L615 3145L624 3129L624 3146ZM494 2667L513 2677L493 2683ZM405 2676L392 2670L407 2660ZM277 2741L286 2725L297 2733ZM332 2713L335 2731L317 2724ZM206 3136L202 3127L205 3115L209 3126ZM469 3057L482 3057L478 3069ZM695 3168L687 3162L684 3151L693 3158ZM620 2723L636 2732L628 2740L616 2738ZM491 3112L493 3103L499 3097L497 3106ZM627 3054L631 3044L636 3040L634 3047ZM312 2946L305 2926L319 2932ZM500 3013L491 3004L502 3001ZM526 3005L531 2990L540 2975L535 2991ZM693 2935L690 2914L708 2922ZM183 2713L192 2710L193 2721L184 2722ZM353 3056L339 3060L335 3049L348 3047ZM317 2709L329 2703L341 2704L330 2710ZM538 2872L548 2867L566 2871L550 2876ZM461 3040L482 3056L461 3060ZM681 2833L699 2834L693 2854ZM599 3003L605 2983L614 3002ZM719 2698L707 2699L693 2693L708 2692ZM634 2673L639 2689L626 2687ZM258 2774L240 2777L246 2761ZM684 3103L700 3110L686 3120ZM618 3078L617 3067L622 3052L622 3067ZM337 2729L339 2739L325 2739L324 2727ZM376 3019L359 3020L349 3016L361 3014ZM692 2770L693 2761L701 2759L703 2771ZM241 3025L229 3019L244 3004ZM188 2849L203 2843L217 2844L203 2850ZM651 2903L661 2913L653 2919L641 2910ZM577 2711L570 2711L563 2703L573 2705ZM571 2752L553 2754L541 2750L555 2748ZM676 3065L667 3053L680 3049ZM350 2858L363 2868L353 2876ZM266 2667L263 2687L250 2678ZM476 2726L488 2716L491 2737ZM559 2718L566 2694L580 2718ZM566 2752L560 2748L570 2739L577 2745ZM209 3048L199 3039L208 3032L216 3040ZM213 2915L207 2908L215 2903L221 2910ZM395 2738L380 2751L380 2733ZM298 3102L306 3088L316 3099ZM431 2920L418 2925L421 2911ZM179 2779L198 2772L189 2787ZM567 3023L544 3018L555 3005ZM534 2871L527 2862L527 2855L533 2861ZM200 2992L208 2987L224 2990L210 2996ZM379 3003L361 3013L360 2997ZM669 3100L681 3106L670 3115ZM693 3150L706 3139L718 3136L708 3146ZM456 2715L449 2730L437 2722L440 2712ZM251 3075L261 3067L270 3068L263 3075ZM220 2845L200 2837L191 2827L206 2832ZM185 3049L172 3040L178 3029L190 3036ZM559 2866L567 2855L572 2869ZM457 2762L469 2763L468 2776L452 2774ZM344 2717L353 2711L371 2710L357 2717ZM543 3111L548 3122L536 3130L530 3118ZM508 2910L504 2895L509 2884L513 2896ZM345 3058L349 3048L363 3033L355 3049ZM512 2851L512 2831L532 2843ZM672 2698L664 2689L665 2683L671 2687ZM211 2685L195 2685L181 2681L196 2680ZM550 2977L541 2950L562 2957ZM347 2751L356 2744L367 2750L359 2760ZM185 2681L195 2677L197 2689L183 2693ZM404 2778L417 2773L428 2774L417 2779ZM557 2830L565 2826L571 2834L560 2841ZM479 2785L486 2779L497 2780L489 2786Z" fill="#5c42b4"/>
</g></g>
<line x1="606.0" y1="3129.0" x2="671.0" y2="3129.0" stroke="#000" stroke-width="5.5" />
<clipPath id="clip12"><rect x="798" y="2666" width="508" height="492"/></clipPath>
<g clip-path="url(#clip12)"><g filter="url(#soft)">
<rect x="798" y="2666" width="508" height="492" fill="#eeedbc"/>
<path d="M1229 2680L1224 2664L1225 2652L1230 2664ZM964 2783L982 2792L961 2804ZM1224 3169L1233 3140L1251 3160ZM1168 2827L1180 2811L1190 2821L1188 2838ZM1064 2723L1077 2739L1059 2752ZM1240 2874L1221 2862L1214 2850L1228 2857ZM943 3074L954 3086L936 3093ZM1027 3049L1033 3036L1048 3039L1043 3054ZM1066 2709L1073 2719L1064 2722L1060 2713ZM824 2784L812 2758L811 2742L820 2759ZM929 2893L937 2870L950 2859L945 2877ZM937 3130L955 3116L972 3111L957 3123ZM1152 2954L1168 2932L1181 2964ZM1062 2671L1053 2651L1074 2652ZM1051 2743L1059 2727L1068 2722L1064 2733ZM930 2767L932 2749L940 2738L939 2753ZM937 2847L946 2832L971 2820L955 2839ZM926 2679L937 2662L941 2686ZM839 3130L818 3125L802 3111L823 3116ZM1269 3057L1290 3075L1266 3083ZM994 2794L999 2818L979 2804ZM917 3059L920 3048L934 3034L927 3050ZM1200 2946L1183 2935L1179 2921L1193 2928ZM1087 3036L1073 3029L1077 3016L1091 3015ZM1140 3062L1158 3078L1129 3085ZM851 3156L847 3132L876 3137ZM922 2853L924 2841L935 2822L930 2841ZM1126 2963L1125 2988L1104 2982ZM1086 2752L1098 2756L1089 2771L1078 2766ZM890 3124L884 3119L888 3110L897 3114ZM802 2764L804 2789L779 2781ZM1010 2943L1021 2930L1027 2939L1016 2953ZM844 2756L833 2760L812 2754L831 2750ZM1028 2748L1023 2731L1035 2729ZM1238 2794L1232 2771L1252 2773L1252 2794ZM1074 3109L1084 3126L1070 3127ZM860 2949L865 2976L841 2971ZM1262 2964L1253 2952L1253 2944L1259 2951ZM1216 2694L1193 2682L1212 2665ZM833 2938L844 2943L844 2955L830 2950ZM1040 2979L1048 2969L1065 2968L1054 2979ZM1289 2716L1267 2717L1279 2703ZM1261 2990L1276 2973L1289 2971L1281 2984ZM897 2775L885 2762L912 2758ZM1258 3107L1258 3094L1269 3094L1270 3105ZM843 3006L851 3011L845 3022L834 3016ZM1042 2694L1030 2712L1018 2697ZM1008 3082L999 3063L1002 3049L1010 3063ZM900 2953L881 2939L901 2928ZM1285 2776L1255 2776L1274 2756ZM1250 2827L1236 2818L1245 2803L1259 2816ZM1060 3130L1043 3139L1038 3120ZM1011 2937L1020 2931L1040 2926L1024 2935ZM1290 2682L1311 2692L1293 2708ZM1092 2858L1082 2830L1111 2827ZM1300 2727L1298 2714L1307 2706L1309 2718ZM872 3013L865 2998L885 2993ZM1313 2665L1299 2668L1276 2660L1298 2657ZM1060 2679L1061 2657L1072 2640L1071 2660ZM1266 2818L1268 2807L1282 2788L1275 2807ZM903 2841L888 2834L903 2824ZM1123 2866L1124 2846L1143 2865ZM1172 3050L1177 3031L1187 3044ZM850 2695L834 2702L835 2689ZM907 2709L887 2712L895 2698ZM1067 2755L1074 2737L1090 2725L1082 2743ZM1095 2994L1107 2981L1116 2993ZM843 3161L841 3149L848 3141L850 3152ZM1185 2729L1189 2708L1199 2695L1196 2712ZM879 3084L875 3071L888 3068L889 3077ZM1287 2971L1277 2961L1274 2945L1284 2956ZM1076 2945L1060 2939L1045 2920L1065 2930ZM1045 2895L1070 2879L1086 2880L1071 2892ZM1010 2965L1005 2987L991 2975ZM1088 2731L1067 2730L1074 2708ZM975 3148L974 3137L983 3127L983 3140ZM1307 2842L1298 2819L1300 2802L1308 2819ZM1092 3015L1114 3028L1099 3040ZM855 3019L878 3019L870 3037ZM1045 2996L1019 3004L1025 2982ZM798 2815L800 2798L815 2808ZM1181 2954L1186 2928L1203 2942ZM1145 2653L1145 2679L1121 2672ZM1143 2793L1148 2783L1163 2768L1154 2785ZM1219 2719L1214 2708L1215 2699L1220 2707ZM1074 2725L1101 2713L1104 2743ZM1070 2922L1064 2909L1064 2895L1070 2907ZM1038 3061L1060 3065L1040 3081ZM1008 2994L1021 2974L1033 3004ZM1136 2912L1143 2892L1157 2876L1149 2896ZM1027 2813L1014 2812L1015 2797ZM1225 3152L1218 3133L1237 3137ZM1252 2974L1231 2972L1242 2961ZM928 3069L925 3057L934 3044L936 3059ZM892 2778L912 2772L924 2776L910 2782ZM1030 3013L1021 3004L1026 2993L1037 3000ZM1128 2834L1110 2848L1108 2824ZM1254 3171L1244 3162L1237 3144L1249 3157ZM989 2895L977 2922L967 2904ZM1161 2806L1170 2798L1176 2810L1165 2816ZM1138 2744L1126 2770L1108 2752ZM1223 2786L1235 2764L1247 2783ZM898 2816L921 2826L904 2843ZM1172 2992L1157 3000L1155 2983ZM914 3100L900 3095L894 3084L907 3087ZM868 2908L856 2896L874 2896ZM950 2949L941 2949L933 2938L946 2939ZM1195 3098L1191 3083L1197 3064L1201 3083ZM1005 2863L1004 2850L1025 2848L1024 2861ZM1088 2945L1111 2943L1104 2967ZM1290 2689L1287 2699L1276 2698L1279 2688ZM855 3078L858 3067L877 3055L868 3073ZM1068 2771L1058 2764L1057 2751L1068 2758ZM1061 2901L1076 2892L1081 2916ZM816 2754L817 2738L825 2726L824 2741ZM1231 2698L1238 2689L1248 2696L1240 2705ZM932 2766L914 2766L897 2759L915 2759ZM1166 2921L1186 2915L1186 2929L1174 2934ZM1289 2741L1281 2709L1306 2726ZM925 2779L915 2756L919 2741L927 2756ZM1263 2853L1254 2836L1254 2819L1263 2834ZM1075 3067L1064 3060L1070 3048L1082 3054ZM1192 2916L1198 2912L1212 2912L1201 2917ZM1161 3007L1162 3024L1142 3020ZM879 2877L880 2864L893 2864L893 2878ZM1300 2973L1316 2966L1328 2972L1316 2978ZM1212 2738L1195 2729L1213 2715ZM1011 2952L1005 2934L1009 2925L1015 2936ZM958 3026L945 3041L943 3022ZM1225 2857L1210 2856L1197 2850L1212 2851ZM967 3051L962 3042L968 3026L973 3041ZM1101 2908L1120 2909L1113 2930ZM1256 2911L1273 2903L1297 2902L1276 2910ZM1231 3063L1236 3039L1254 3051ZM1242 2932L1252 2926L1271 2925L1256 2933ZM856 3095L851 3108L837 3097ZM894 2731L914 2716L919 2744ZM1068 2974L1044 2982L1049 2963ZM1295 2798L1314 2781L1329 2775L1316 2788ZM932 2927L945 2911L955 2919L951 2937ZM1123 3034L1114 3029L1122 3013L1132 3024ZM1240 3143L1248 3134L1259 3143L1253 3153ZM1010 2735L985 2724L1001 2712ZM1009 2862L993 2853L1012 2848ZM1247 3154L1232 3135L1253 3132ZM1273 2748L1294 2741L1308 2744L1293 2750ZM810 3022L820 3039L804 3034ZM1194 2873L1191 2890L1176 2882ZM946 2801L936 2803L922 2798L935 2796ZM1166 2739L1174 2754L1149 2755ZM911 2872L897 2864L887 2838L905 2854ZM1107 2901L1123 2909L1104 2918ZM1042 3072L1049 3089L1027 3090ZM1001 2731L980 2716L1007 2706ZM929 3128L949 3114L962 3113L950 3124ZM1056 2681L1069 2674L1087 2676L1072 2684ZM1163 2851L1145 2872L1140 2846ZM1126 2745L1137 2734L1153 2726L1141 2739ZM1008 3011L1022 3014L1022 3026L1004 3024ZM1115 2992L1095 2999L1102 2977ZM963 3025L970 3007L979 3023ZM1000 2845L1003 2830L1011 2822L1009 2834ZM1314 2803L1301 2806L1283 2799L1301 2796ZM925 2694L934 2676L953 2688ZM1038 2773L1026 2780L1019 2770L1026 2757ZM1117 2754L1108 2724L1136 2735ZM1113 2991L1126 2987L1128 3000L1113 3003ZM934 3117L948 3117L945 3133ZM1170 2721L1151 2715L1137 2703L1155 2708ZM1262 2943L1239 2943L1224 2934L1243 2933ZM1208 2856L1192 2850L1186 2837L1200 2842ZM1210 2866L1236 2878L1213 2896ZM1017 3002L988 2995L1010 2988ZM939 2761L958 2740L974 2735L962 2750ZM942 3058L923 3061L922 3045L935 3044ZM1209 3110L1219 3097L1230 3091L1222 3102Z" fill="#3c1e9e"/>
<path d="M1284 2855L1276 2843L1279 2831L1286 2842ZM1252 2948L1242 2947L1232 2933L1247 2937ZM1114 2988L1116 3013L1090 2993ZM1266 2970L1283 2958L1306 2955L1287 2967ZM1183 2829L1178 2820L1178 2800L1185 2816ZM1143 2996L1126 2991L1119 2982L1132 2984ZM1020 3021L1011 3001L1014 2986L1022 3001ZM848 2993L864 3010L835 3017ZM848 2795L863 2817L832 2815ZM1316 2816L1329 2833L1302 2828ZM1124 3026L1141 3040L1111 3043ZM1303 3107L1318 3093L1328 3108L1314 3121ZM996 2954L983 2935L1006 2934ZM1222 2795L1207 2771L1233 2781ZM870 2992L850 2983L878 2965ZM1139 2718L1131 2707L1132 2698L1139 2706ZM800 2812L797 2804L808 2799L812 2809ZM933 2900L952 2888L952 2918ZM995 3071L1004 3063L1014 3073L1002 3081ZM788 2849L798 2829L808 2824L804 2837ZM1286 3150L1302 3160L1292 3171ZM924 3134L944 3137L926 3155ZM1161 2703L1147 2692L1165 2682ZM874 3068L898 3084L873 3086ZM1289 3118L1301 3135L1286 3137ZM1215 2826L1230 2840L1205 2848ZM1131 2721L1129 2702L1148 2703ZM1262 2758L1274 2744L1292 2737L1279 2751ZM1210 2746L1195 2729L1228 2724ZM1248 2924L1225 2911L1218 2902L1232 2908ZM912 2904L911 2893L919 2878L918 2893ZM934 2904L948 2885L965 2873L953 2891ZM1117 2805L1100 2805L1077 2797L1100 2798ZM1038 3039L1032 3030L1033 3007L1040 3025ZM1302 2880L1287 2886L1290 2864ZM1187 2845L1177 2858L1171 2839ZM895 3163L878 3145L906 3141ZM893 2678L871 2682L877 2659ZM804 3066L795 3037L826 3045ZM842 2731L853 2736L844 2746L834 2743ZM1121 2747L1114 2719L1143 2732ZM1034 3035L1037 3016L1052 3030ZM1051 2905L1059 2899L1075 2896L1062 2904ZM1298 2713L1302 2689L1310 2680L1310 2695ZM901 2722L918 2739L898 2748ZM943 2723L943 2715L952 2704L949 2716ZM1091 3065L1095 3086L1079 3075ZM1023 2969L1014 2968L1004 2953L1019 2958ZM910 2717L897 2703L887 2682L902 2699ZM838 2692L828 2707L820 2688ZM1101 2931L1120 2930L1122 2944L1108 2950ZM1012 2983L985 2987L999 2965ZM1188 2757L1200 2744L1211 2741L1203 2751ZM1099 3017L1086 3029L1072 3006ZM865 2872L875 2861L891 2856L880 2868ZM1219 3003L1238 3018L1208 3028ZM1026 2715L1016 2707L1025 2696L1037 2706ZM1077 2858L1066 2860L1053 2852L1067 2851ZM1272 2740L1273 2724L1286 2711L1284 2729ZM1076 3044L1095 3025L1108 3042ZM1013 2998L997 2984L1015 2981ZM941 2913L952 2907L967 2907L954 2914ZM1032 2745L1031 2760L1011 2754ZM967 2868L954 2860L950 2851L960 2856ZM878 3051L875 3022L881 3008L885 3026ZM935 2779L963 2769L958 2800ZM1211 2969L1201 2959L1199 2938L1211 2953ZM798 3008L783 2979L809 2983ZM959 2888L948 2892L941 2885L950 2879ZM1211 2804L1211 2792L1225 2797ZM920 2977L903 2980L895 2974L906 2971ZM1035 2690L1023 2672L1043 2667L1047 2681ZM966 2791L970 2773L980 2784ZM1122 2813L1132 2804L1153 2799L1137 2811ZM1089 2842L1070 2838L1085 2824ZM1060 2957L1066 2950L1080 2944L1070 2954ZM840 3087L861 3095L843 3107ZM1027 2828L1044 2822L1044 2833ZM865 3056L894 3057L889 3071ZM1058 2661L1028 2665L1031 2645ZM930 3025L933 3010L950 2994L944 3014ZM1226 3100L1233 3094L1250 3095L1237 3102ZM1117 2715L1124 2707L1138 2706L1128 2715ZM1140 2999L1135 2986L1142 2975L1147 2987ZM1246 2697L1255 2682L1267 2697ZM978 2693L961 2722L954 2693ZM886 3032L871 3033L870 3017L888 3019ZM969 3175L958 3158L988 3160ZM919 3014L931 3010L948 3012L933 3017ZM804 2781L820 2754L827 2792ZM823 2993L822 2961L836 2980ZM934 3024L940 3014L951 3009L945 3019ZM803 3131L814 3101L837 3116ZM792 2954L794 2932L806 2913L804 2935ZM955 2790L947 2782L947 2759L957 2776ZM1294 2803L1287 2797L1284 2778L1295 2791ZM1190 2870L1166 2864L1157 2856L1172 2858ZM1033 2682L1039 2700L1017 2693ZM1200 2801L1174 2796L1191 2779ZM1149 2964L1162 2975L1146 2993L1133 2974ZM883 2681L906 2686L888 2703ZM1082 3025L1069 3038L1060 3007ZM940 2804L958 2784L968 2777L959 2790ZM1133 3073L1133 3093L1104 3085ZM1034 3172L1023 3157L1044 3154ZM1059 2731L1078 2738L1061 2749ZM1007 2714L985 2713L965 2703L987 2704ZM1281 2712L1281 2732L1268 2719ZM865 3007L853 3026L842 2997ZM1204 2682L1203 2665L1218 2668ZM1221 3060L1234 3040L1247 3057ZM864 3145L859 3130L859 3116L865 3129ZM1101 3067L1106 3050L1119 3058L1116 3069ZM948 2868L934 2871L906 2866L931 2864ZM1112 2867L1134 2855L1131 2882ZM1005 3096L999 3078L998 3056L1005 3076ZM1084 2687L1095 2673L1109 2666L1100 2679ZM1219 2762L1231 2787L1201 2787ZM988 3158L974 3142L999 3138ZM907 2731L919 2731L919 2743L910 2745ZM1206 2897L1185 2889L1178 2877L1193 2881ZM858 2870L842 2872L818 2868L840 2866ZM816 2862L792 2860L777 2852L796 2852ZM1252 3024L1266 3008L1277 3002L1268 3014ZM1118 2668L1131 2666L1130 2683L1118 2681ZM1284 2724L1267 2730L1268 2709ZM1296 2773L1293 2756L1297 2747L1300 2758ZM1150 2831L1140 2818L1138 2799L1149 2814ZM1188 2745L1205 2754L1185 2757ZM1257 2755L1258 2766L1242 2767ZM1021 2917L1032 2891L1042 2880L1037 2897ZM1330 2676L1314 2704L1304 2668ZM886 2674L883 2658L903 2662ZM984 2705L959 2688L979 2676ZM1057 2729L1038 2748L1036 2724ZM838 2720L842 2710L858 2716L853 2730ZM846 3048L856 3032L878 3020L865 3039ZM913 2667L925 2673L917 2687L906 2681ZM1252 3008L1259 3030L1237 3042ZM846 2715L831 2715L804 2705L829 2708ZM999 2896L1002 2883L1011 2879L1010 2889ZM1093 2966L1080 2962L1071 2948L1086 2954ZM1016 2803L1013 2788L1029 2792ZM1284 2849L1263 2845L1250 2834L1268 2837ZM1176 2854L1159 2855L1150 2849L1162 2846ZM1114 3014L1121 3038L1101 3043ZM1002 2805L981 2791L976 2778L991 2785ZM940 2889L930 2890L910 2883L928 2883ZM872 2827L879 2819L888 2827L884 2839ZM1257 3116L1238 3101L1260 3092ZM956 2973L940 2967L933 2956L947 2960ZM1223 3039L1203 3036L1217 3019ZM1264 2714L1243 2705L1229 2689L1249 2698ZM1060 2778L1083 2789L1062 2807ZM933 3059L925 3041L952 3046ZM1059 2773L1048 2768L1040 2753L1054 2761ZM1048 3033L1042 3023L1040 3002L1049 3019ZM1303 3079L1314 3074L1326 3076L1315 3081ZM802 2680L818 2672L827 2676L817 2683ZM1311 2880L1284 2881L1291 2864ZM1147 2895L1153 2879L1165 2893ZM1008 3164L1009 3154L1017 3151L1021 3163ZM915 2828L912 2812L917 2798L920 2813ZM1291 3007L1307 3024L1280 3030ZM842 3030L816 3035L831 3013ZM1148 3050L1124 3070L1109 3043ZM803 3064L790 3065L777 3057L792 3056ZM1299 3133L1286 3127L1278 3111L1293 3119ZM1134 3024L1119 3030L1114 3019L1127 3008ZM981 2882L971 2871L989 2866L990 2878ZM852 3108L854 3084L863 3066L862 3087ZM1027 2946L1014 2933L1012 2923L1022 2931Z" fill="#4626a8"/>
<path d="M1031 2699L1020 2688L1010 2667L1024 2683ZM1057 2852L1048 2848L1039 2831L1053 2841ZM1129 3000L1156 2993L1142 3013ZM911 2744L924 2732L932 2751ZM1133 2905L1149 2904L1140 2921ZM947 3051L955 3040L976 3028L962 3044ZM1245 2871L1256 2853L1269 2843L1261 2859ZM1145 2789L1162 2770L1180 2786ZM1178 2835L1186 2810L1211 2827ZM999 3002L1018 2986L1033 2983L1021 2996ZM1186 3018L1193 3003L1207 2995L1200 3009ZM1218 3045L1247 3029L1247 3059ZM1295 2664L1308 2639L1318 2665ZM1287 2862L1265 2843L1291 2837ZM1296 2967L1296 2949L1307 2935L1307 2953ZM995 2683L989 2664L990 2643L996 2663ZM1207 2791L1182 2799L1197 2773ZM890 3038L913 3030L928 3034L912 3040ZM895 2880L886 2857L914 2850ZM944 2960L931 2956L932 2947L945 2943ZM1108 2891L1124 2881L1128 2902ZM847 2732L844 2719L852 2705L854 2720ZM1058 2993L1067 2979L1082 2976L1074 2989ZM940 3046L928 3033L943 3028ZM922 2963L934 2951L950 2950L939 2961ZM920 2980L905 2980L884 2968L906 2970ZM1137 3130L1153 3138L1135 3151ZM841 2944L827 2940L812 2929L829 2934ZM1270 2893L1263 2911L1250 2898ZM1303 2864L1316 2849L1327 2848L1320 2859ZM1128 2894L1142 2925L1110 2915ZM926 3020L918 3008L920 2994L928 3006ZM1159 2961L1143 2956L1157 2945ZM851 3162L860 3143L875 3136L868 3152ZM1121 2828L1140 2844L1117 2852ZM1138 2813L1136 2784L1140 2770L1143 2788ZM1210 2954L1182 2953L1194 2927ZM1208 2733L1215 2747L1203 2753L1198 2740ZM1238 2753L1247 2744L1264 2744L1252 2754ZM906 3151L897 3136L897 3128L904 3136ZM1180 3034L1157 3033L1142 3027L1160 3027ZM832 2703L858 2693L843 2718ZM1203 2652L1221 2654L1209 2677ZM979 3030L983 2997L1002 3015ZM944 2748L946 2729L956 2716L955 2733ZM1115 2903L1121 2924L1097 2921ZM1061 2841L1047 2826L1045 2813L1056 2823ZM970 2827L950 2829L959 2815ZM864 3119L856 3114L852 3097L863 3107ZM940 2801L945 2816L927 2817L929 2801ZM1130 2975L1143 2959L1151 2978ZM977 2667L955 2662L974 2650ZM1182 2705L1183 2691L1194 2667L1191 2690ZM1151 2898L1169 2913L1148 2921ZM1040 2961L1056 2966L1037 2979ZM1053 2760L1045 2759L1035 2748L1047 2753ZM1285 2697L1291 2688L1311 2678L1298 2692ZM888 2920L875 2919L871 2908L888 2907ZM1315 2840L1332 2862L1299 2860ZM842 2861L813 2836L835 2825ZM863 2949L876 2959L857 2966ZM1191 3045L1195 3031L1214 3017L1205 3036ZM1235 2793L1205 2780L1237 2771ZM869 3148L881 3141L889 3144L881 3150ZM1261 3009L1247 3012L1227 3002L1247 3001ZM823 2937L836 2955L811 2960ZM1119 3007L1113 2986L1130 2993ZM1014 2913L1038 2913L1027 2936ZM814 2828L816 2815L836 2798L827 2819ZM938 3153L941 3142L959 3128L950 3145ZM1005 2839L978 2856L980 2825ZM951 2808L930 2800L918 2784L937 2791ZM1122 3106L1094 3114L1110 3080ZM1076 2943L1092 2931L1105 2933L1094 2942ZM856 2719L847 2724L843 2713L851 2708ZM1173 3029L1179 3020L1197 3014L1186 3027ZM954 3121L954 3136L935 3133L940 3118ZM1021 3073L1005 3068L985 3049L1008 3059ZM1071 2771L1100 2758L1100 2783ZM840 3096L830 3095L832 3086L840 3086ZM880 2951L881 2939L894 2927L891 2944ZM1109 3126L1116 3117L1137 3106L1123 3120ZM1056 2802L1037 2791L1055 2781ZM987 2729L974 2733L951 2724L973 2721ZM1191 2758L1199 2749L1210 2754L1200 2769ZM1175 3091L1199 3090L1186 3102ZM1035 2868L1027 2885L1016 2874L1019 2862ZM1059 2943L1073 2932L1084 2932L1075 2941ZM1235 3072L1217 3069L1209 3059L1224 3060ZM820 2732L812 2729L812 2714L829 2721ZM802 2798L782 2798L774 2792L786 2791ZM957 2785L962 2776L971 2783L966 2793ZM1298 2898L1300 2873L1322 2886ZM1101 3021L1085 2998L1086 2984L1097 2997ZM1180 3130L1189 3138L1184 3149L1170 3141ZM1095 3114L1108 3103L1114 3114ZM1311 3160L1308 3176L1297 3165ZM1124 2953L1120 2945L1123 2930L1127 2943ZM866 2690L850 2668L880 2665ZM925 2805L932 2799L944 2796L935 2804ZM1018 3037L1005 3041L986 3035L1004 3031ZM1294 3021L1299 3004L1315 3014ZM1172 2985L1162 2963L1186 2964ZM1314 2987L1299 3005L1286 2981ZM1257 2907L1245 2902L1239 2893L1250 2897ZM1231 2844L1223 2819L1241 2820ZM791 3024L784 3007L801 3008ZM1197 2775L1184 2777L1173 2769L1186 2767ZM1073 2674L1061 2648L1085 2648ZM1280 2913L1302 2930L1288 2937ZM916 2906L936 2893L946 2918ZM1204 2760L1207 2741L1217 2733L1216 2747ZM849 3052L848 3038L854 3009L854 3035ZM854 2736L851 2754L840 2754L840 2737ZM984 2896L969 2881L965 2870L976 2879ZM926 2832L939 2830L940 2852L922 2848ZM1184 2996L1169 2991L1158 2979L1174 2984ZM885 3143L858 3154L862 3128ZM1245 2660L1233 2662L1219 2653L1235 2651ZM977 2685L958 2689L937 2685L957 2681ZM1329 3100L1320 3102L1301 3095L1318 3095ZM1148 3126L1138 3116L1138 3098L1149 3111ZM1103 2834L1093 2838L1093 2824L1103 2825ZM1048 2939L1042 2923L1060 2928ZM1264 2906L1267 2930L1247 2928ZM900 3021L898 3001L917 3005ZM1075 2794L1096 2796L1085 2808ZM973 2717L951 2719L932 2710L953 2707ZM1083 3036L1106 3033L1126 3036L1105 3040ZM1087 2861L1075 2852L1069 2834L1082 2846ZM878 3085L887 3107L860 3108ZM1177 2825L1173 2813L1180 2802L1183 2814ZM878 2652L884 2669L863 2662ZM927 3033L944 3030L946 3046L930 3049ZM1039 3122L1037 3150L1015 3146ZM1267 3143L1252 3147L1248 3132L1260 3125ZM912 2873L913 2858L919 2851L919 2862ZM1096 2714L1078 2717L1084 2695ZM881 2755L878 2748L887 2736L888 2749ZM993 2668L989 2683L973 2684L977 2666ZM1079 3133L1071 3115L1090 3110L1095 3127ZM1006 2938L994 2926L1009 2923ZM1304 2922L1301 2949L1284 2943ZM1003 2824L988 2809L1012 2805ZM1143 2777L1150 2764L1161 2775L1154 2788ZM1222 3142L1194 3150L1201 3129ZM955 3119L949 3135L932 3128L940 3115ZM1290 3067L1290 3087L1272 3083ZM1036 2957L1017 2948L1013 2937L1026 2941ZM1238 2668L1249 2658L1257 2655L1250 2663ZM903 3004L914 2989L924 2989L919 3000ZM1133 2781L1145 2775L1159 2779L1146 2785ZM1133 2719L1119 2717L1098 2700L1121 2707ZM1167 2913L1168 2933L1155 2920ZM915 2726L918 2751L888 2739ZM1090 3173L1072 3164L1087 3144ZM1228 2941L1236 2926L1246 2926L1242 2936ZM1221 3171L1214 3164L1212 3148L1221 3160ZM1062 3078L1046 3070L1039 3059L1052 3064ZM1106 2853L1125 2839L1128 2864ZM1226 3008L1217 3038L1193 3016Z" fill="#331895"/>
<path d="M1156 2991L1158 3013L1141 3003ZM1176 2759L1197 2763L1185 2784ZM1141 2815L1137 2801L1141 2783L1145 2800ZM1140 3012L1145 3001L1159 3010L1153 3020ZM1208 2953L1213 2978L1190 2967ZM1201 2942L1188 2941L1193 2927L1208 2931ZM1122 2847L1135 2821L1146 2810L1139 2828ZM1303 2761L1306 2787L1287 2786ZM1124 2717L1112 2700L1110 2688L1119 2699ZM922 2808L921 2834L898 2820ZM1073 3044L1053 3029L1074 3017ZM1084 2739L1068 2741L1067 2720L1079 2722ZM1123 2951L1114 2928L1115 2914L1122 2929ZM1316 2952L1322 2964L1310 2970L1305 2960ZM920 2866L929 2845L947 2871ZM919 2748L915 2733L923 2719L926 2734ZM1118 2972L1100 2971L1105 2954L1118 2955ZM871 2839L867 2827L876 2809L879 2827ZM936 2779L922 2784L917 2767L929 2765ZM1034 2911L1025 2914L1018 2907L1027 2899ZM801 3085L796 3068L799 3047L804 3067ZM1023 2944L1032 2933L1056 2920L1039 2937ZM1309 3095L1304 3085L1310 3075L1315 3085ZM830 3032L823 2995L847 3013ZM1300 2852L1308 2846L1316 2856L1304 2861ZM1032 2956L1036 2946L1049 2944L1043 2955ZM824 2891L814 2891L806 2884L816 2884ZM1003 2843L992 2828L993 2818L1001 2827ZM873 3028L860 3036L853 3028L860 3020ZM806 3006L823 3022L805 3029ZM967 3041L979 3054L963 3055ZM1026 3138L1033 3118L1044 3105L1039 3122ZM896 2936L878 2931L881 2915ZM1259 2821L1285 2807L1284 2830ZM909 3139L887 3133L875 3126L891 3129ZM840 2819L816 2813L805 2803L822 2806ZM1127 3121L1134 3112L1155 3101L1140 3115ZM1083 2780L1077 2754L1097 2768ZM883 3152L905 3159L892 3173ZM1119 3123L1111 3110L1111 3099L1118 3109ZM970 2662L959 2665L950 2662L960 2659ZM1246 2975L1239 2966L1241 2954L1249 2964ZM1155 2729L1142 2719L1138 2706L1149 2714ZM1081 2795L1104 2801L1093 2822ZM839 3035L825 3056L818 3018ZM1249 2719L1229 2702L1257 2691ZM1206 2794L1185 2807L1186 2783ZM1294 2784L1312 2765L1314 2794ZM852 2958L869 2968L856 2974ZM1235 3058L1242 3046L1251 3046L1247 3055ZM999 2770L981 2782L976 2757ZM887 2847L894 2832L917 2819L904 2839ZM1181 2894L1189 2877L1203 2894ZM1020 2747L1008 2752L990 2747L1007 2742ZM1204 2893L1204 2874L1213 2861L1213 2878ZM1307 2870L1328 2884L1310 2895ZM1029 2929L1023 2917L1025 2902L1031 2915ZM1220 2818L1231 2813L1245 2813L1233 2819ZM1138 2842L1122 2843L1098 2835L1121 2835ZM1100 2770L1123 2765L1119 2781ZM1220 3012L1229 3005L1236 3021L1227 3027ZM1196 2750L1170 2770L1165 2748ZM1192 2904L1190 2926L1171 2915ZM1165 3014L1187 3018L1175 3034ZM1090 3114L1084 3108L1087 3094L1093 3105ZM1005 3025L991 3024L996 3007ZM916 2890L916 2868L940 2876ZM913 2834L922 2826L947 2817L929 2831ZM931 3160L932 3175L912 3174L914 3162ZM1311 2900L1296 2905L1282 2900L1296 2896ZM1201 2871L1182 2851L1207 2843ZM894 2718L893 2743L874 2720ZM1100 2669L1090 2649L1110 2648L1117 2662ZM795 3050L783 3027L809 3028ZM930 2944L935 2931L944 2927L941 2937ZM866 2676L842 2674L853 2648ZM997 2695L988 2686L987 2669L998 2681ZM1083 2937L1077 2960L1063 2944ZM1246 3112L1239 3103L1235 3082L1244 3098ZM1087 2775L1086 2764L1095 2752L1095 2766ZM1121 2930L1102 2929L1087 2920L1105 2920ZM982 2939L959 2911L978 2910ZM862 2896L871 2881L881 2880L877 2891ZM1182 2736L1172 2721L1171 2697L1183 2716ZM1074 3000L1063 2991L1051 2970L1066 2986ZM1091 3008L1097 2990L1110 2983L1106 2998ZM1031 3044L1046 3025L1056 3020L1048 3032ZM1196 2958L1172 2971L1173 2938ZM1259 2917L1247 2908L1262 2898L1274 2912ZM1245 2765L1226 2743L1251 2734ZM1143 2893L1130 2889L1118 2875L1135 2881ZM1250 2864L1254 2889L1238 2882ZM1132 2844L1116 2856L1114 2835ZM816 2909L820 2901L836 2892L827 2905ZM960 2694L958 2685L967 2681L974 2692ZM1247 3179L1263 3159L1276 3156L1268 3170ZM801 2872L818 2864L841 2861L821 2870ZM816 3028L818 3005L826 2991L825 3009ZM1155 3093L1174 3075L1179 3098ZM1218 2945L1199 2938L1185 2925L1203 2931ZM1002 2679L1018 2673L1036 2677L1019 2683ZM1115 2691L1145 2676L1145 2698ZM981 2748L965 2748L968 2729ZM1212 3164L1187 3152L1178 3138L1196 3145ZM1237 3040L1215 3037L1196 3026L1218 3029ZM934 3138L939 3123L949 3127L948 3145ZM889 2772L901 2778L891 2787ZM932 2768L940 2785L925 2789L920 2770ZM811 2680L817 2659L824 2651L822 2665ZM1276 2743L1280 2728L1295 2709L1288 2730ZM1195 3156L1188 3139L1206 3140ZM837 2786L844 2800L823 2794ZM1203 3100L1219 3112L1204 3127ZM1019 3055L1036 3050L1033 3070ZM941 3073L938 3048L940 3036L944 3051ZM977 3010L958 3019L956 2987ZM1134 2870L1150 2854L1167 2850L1154 2863ZM1056 2930L1067 2949L1044 2951ZM814 3027L790 3050L783 3031ZM985 2967L986 2945L999 2955ZM1100 2795L1080 2786L1095 2775ZM1225 3088L1210 3081L1202 3069L1216 3076ZM796 3009L799 2996L811 2997L806 3008ZM1059 2695L1077 2690L1069 2712ZM1051 2888L1012 2892L1030 2871ZM1054 3144L1048 3151L1040 3145L1046 3137ZM1012 2836L1013 2858L990 2843ZM873 3106L879 3091L896 3101ZM930 2881L920 2895L907 2882L921 2872ZM1306 2778L1285 2798L1281 2770ZM1314 2782L1305 2767L1306 2740L1316 2762ZM1259 2647L1277 2655L1257 2667ZM965 3003L957 2991L972 2991ZM1091 2673L1084 2689L1072 2678ZM1290 2789L1297 2774L1307 2768L1303 2780ZM892 2691L877 2687L872 2680L883 2681ZM966 3120L954 3119L940 3111L955 3113ZM1176 2876L1175 2864L1185 2857L1186 2869ZM1145 2977L1148 3007L1126 3000ZM1049 2930L1040 2924L1045 2912L1055 2920ZM1225 2768L1227 2758L1237 2751L1233 2762ZM1195 2720L1185 2701L1211 2707ZM1203 2798L1224 2784L1232 2804ZM1049 2945L1048 2964L1031 2961L1026 2949ZM877 2742L885 2761L870 2759ZM1262 3002L1279 2992L1303 2990L1283 3002ZM831 2948L833 2939L846 2930L841 2943ZM1181 2688L1165 2686L1151 2676L1168 2678ZM1004 2813L1030 2829L1003 2835ZM1315 2800L1297 2814L1287 2798ZM969 2945L954 2951L953 2938L963 2932ZM859 2699L866 2684L878 2676L872 2690ZM1242 2898L1249 2880L1259 2868L1254 2884ZM987 2859L977 2858L968 2848L980 2851ZM1011 3019L1018 3001L1037 2988L1028 3008ZM1296 2869L1277 2871L1264 2862L1280 2860ZM1067 2807L1051 2825L1045 2805ZM814 3048L830 3035L845 3034L833 3046ZM856 3034L869 3021L873 3044ZM991 2957L977 2960L955 2956L975 2953ZM1302 2684L1299 2660L1304 2646L1307 2663ZM1185 2696L1190 2708L1171 2710ZM1095 2779L1121 2782L1100 2805ZM1126 2881L1098 2863L1129 2851ZM1280 2756L1291 2766L1278 2779L1272 2769ZM850 2859L842 2844L843 2830L850 2843ZM869 2695L875 2681L884 2683L880 2696ZM1113 2875L1137 2854L1139 2882ZM1056 2865L1071 2860L1068 2878ZM1194 2990L1177 2985L1189 2973ZM1024 2754L1005 2774L990 2752ZM868 2871L851 2878L851 2857ZM824 3060L811 3052L810 3044L819 3048ZM1296 3139L1275 3145L1279 3116ZM793 3155L811 3146L810 3167ZM892 3047L912 3039L929 3039L912 3046ZM1193 3107L1171 3115L1179 3089ZM1001 2729L1012 2715L1022 2723L1015 2738ZM1152 2785L1155 2763L1169 2778ZM1273 2856L1256 2880L1252 2848ZM1107 2783L1122 2790L1113 2804L1102 2798ZM1232 2906L1250 2915L1228 2928ZM1008 3137L992 3137L984 3129L996 3129ZM939 2721L955 2732L929 2748Z" fill="#5232ae"/>
<path d="M1011 3101L992 3097L999 3075ZM820 2672L821 2693L807 2684ZM986 2853L988 2868L971 2872L966 2857ZM1300 2885L1276 2880L1266 2871L1282 2873ZM941 2726L954 2722L960 2737L942 2741ZM1247 2801L1233 2784L1258 2774ZM807 2953L790 2943L781 2931L795 2939ZM1266 2886L1276 2876L1302 2872L1283 2886ZM989 2716L1008 2724L993 2732ZM1034 2648L1024 2680L1006 2655ZM900 3063L919 3067L912 3081L897 3079ZM1070 2797L1068 2788L1072 2777L1074 2788ZM1098 2869L1094 2861L1106 2852L1112 2863ZM884 2719L880 2728L871 2728L872 2719ZM902 2923L906 2942L892 2935ZM872 2937L867 2911L869 2896L874 2913ZM904 2846L900 2866L887 2856ZM1119 2990L1122 3018L1106 3002ZM1053 2781L1057 2759L1068 2746L1066 2764ZM927 2937L953 2943L925 2961ZM1117 3119L1101 3093L1125 3090ZM1096 2769L1086 2766L1073 2752L1088 2759ZM916 2949L891 2939L912 2924ZM1273 2761L1265 2752L1265 2739L1273 2749ZM979 3144L1001 3131L1019 3129L1002 3140ZM980 2991L996 2985L993 3004ZM1291 2950L1302 2967L1280 2964ZM866 2959L860 2941L864 2920L870 2940ZM885 3095L875 3080L867 3056L879 3076ZM1172 2746L1152 2744L1162 2729ZM980 2759L973 2746L979 2739L985 2747ZM1073 2765L1055 2760L1043 2746L1061 2751ZM1042 2880L1029 2874L1026 2866L1035 2869ZM1159 3043L1181 3031L1177 3058ZM1100 2761L1084 2743L1081 2727L1094 2740ZM1079 3016L1061 3026L1057 3010L1069 3006ZM808 3127L795 3123L804 3110L812 3117ZM1080 2805L1082 2794L1093 2782L1089 2796ZM1082 2806L1068 2788L1085 2782ZM1176 3012L1197 3007L1184 3028ZM941 3044L936 3022L961 3025ZM1124 2907L1106 2919L1111 2891ZM1296 3071L1305 3081L1291 3090L1286 3079ZM1048 2683L1067 2655L1083 2678ZM1227 2851L1242 2839L1260 2838L1246 2850ZM1101 2954L1089 2959L1063 2952L1086 2947ZM1145 3032L1131 3027L1114 3015L1132 3021ZM1249 2696L1251 2663L1279 2678ZM1204 2884L1194 2867L1195 2847L1205 2864ZM1165 2887L1148 2881L1141 2871L1154 2875ZM1309 2742L1294 2743L1299 2722ZM958 2715L944 2718L925 2708L944 2707ZM1304 2938L1317 2940L1316 2955L1304 2954ZM1155 2826L1134 2841L1134 2822ZM1011 2815L1032 2810L1049 2814L1031 2819ZM1112 2873L1133 2878L1116 2896ZM940 2756L923 2758L931 2744ZM1071 2832L1055 2835L1032 2825L1054 2824ZM852 3169L826 3162L813 3154L831 3158ZM1246 3115L1255 3111L1267 3114L1256 3118ZM982 2768L970 2765L954 2751L971 2758ZM807 2980L822 2983L819 2996L806 2994ZM796 2795L799 2769L815 2783ZM1000 2920L988 2914L996 2899L1003 2907ZM925 2962L951 2970L936 2987ZM1287 3144L1269 3125L1284 3114ZM1211 3081L1222 3069L1233 3069L1226 3079ZM1142 3113L1149 3102L1160 3101L1154 3111ZM1268 3141L1268 3155L1250 3150L1255 3134ZM844 2670L857 2682L842 2693ZM906 2921L918 2920L919 2937L905 2937ZM1301 2724L1287 2711L1284 2696L1296 2707ZM900 2739L885 2727L884 2715L896 2723ZM1201 2876L1211 2866L1231 2860L1216 2872ZM899 2751L905 2733L914 2750ZM1101 2792L1086 2818L1076 2788ZM1057 2996L1041 3005L1048 2982ZM1087 2750L1067 2753L1074 2740ZM1184 2940L1195 2925L1220 2914L1203 2933ZM1276 2838L1265 2852L1252 2839ZM964 2933L979 2924L1003 2919L983 2930ZM1309 3056L1292 3052L1278 3042L1295 3045ZM883 2810L866 2800L879 2788ZM865 2743L860 2728L864 2720L869 2729ZM1080 3064L1060 3042L1090 3045ZM1164 2693L1152 2681L1148 2663L1160 2676ZM1253 2965L1280 2948L1277 2976ZM1105 2854L1116 2876L1095 2875ZM1121 3118L1104 3108L1094 3087L1112 3099ZM1249 2831L1229 2839L1237 2817ZM885 2874L891 2856L900 2847L897 2861ZM855 2831L860 2807L878 2821ZM906 2668L935 2681L916 2694ZM919 2866L901 2870L901 2844ZM1198 2815L1211 2823L1194 2834ZM851 2705L868 2714L851 2727ZM859 2810L874 2800L879 2816L862 2824ZM1095 2845L1076 2847L1059 2838L1078 2836ZM1136 2921L1129 2942L1123 2927ZM1317 2798L1305 2811L1302 2792ZM1091 2863L1094 2853L1110 2848L1103 2861ZM928 2772L933 2787L917 2793L911 2778ZM896 2887L894 2899L879 2897L881 2886ZM1023 2996L1036 3006L1017 3013ZM1155 3052L1166 3057L1159 3073L1146 3063ZM1299 2983L1305 2993L1291 3001L1284 2987ZM1099 2730L1102 2747L1088 2750ZM1137 2735L1149 2726L1164 2727L1152 2736ZM815 2756L808 2751L811 2739L822 2748ZM995 3058L1011 3046L1019 3071ZM1104 2855L1117 2835L1133 2825L1123 2843ZM1171 3069L1183 3065L1194 3069L1183 3072ZM1257 2887L1262 2857L1283 2868ZM1124 3166L1117 3152L1118 3141L1125 3151ZM1190 2805L1177 2830L1169 2803ZM1116 2712L1088 2723L1088 2698ZM872 2813L897 2799L911 2795L896 2805ZM1128 3114L1114 3111L1093 3093L1116 3102ZM1017 2957L1000 2949L1012 2942ZM954 3183L949 3168L951 3151L956 3167ZM1066 2962L1067 2946L1081 2928L1078 2949ZM1202 2973L1220 2961L1237 2961L1222 2971ZM935 2969L920 2988L909 2973ZM1164 3168L1161 3156L1169 3149L1172 3159ZM1212 2755L1196 2738L1215 2737ZM1262 2832L1246 2835L1257 2812ZM909 2736L898 2739L888 2730L901 2727ZM999 2930L982 2934L973 2930L984 2926ZM1194 2795L1206 2773L1217 2763L1209 2778ZM809 2753L799 2754L781 2745L799 2746ZM898 2961L878 2964L862 2955L881 2952ZM939 2693L924 2680L934 2667L951 2674ZM1018 2929L1011 2932L998 2928L1010 2925ZM811 3055L798 3071L792 3044ZM1298 3094L1274 3083L1291 3065ZM1260 2732L1272 2711L1282 2730ZM1064 2939L1088 2934L1101 2937L1086 2941ZM793 2718L806 2704L813 2725ZM805 3096L787 3087L805 3074ZM1219 2929L1222 2939L1205 2940L1205 2928ZM1058 2910L1036 2906L1050 2893ZM1133 3130L1123 3121L1123 3112L1131 3118ZM1088 2933L1069 2941L1068 2925ZM1046 3162L1059 3135L1068 3166ZM802 3109L807 3091L820 3073L815 3094ZM1110 2782L1119 2801L1099 2803ZM1226 3112L1240 3101L1249 3099L1241 3107ZM854 2742L872 2756L849 2758ZM1222 3022L1212 3000L1231 2998ZM905 2893L887 2908L885 2874ZM998 2824L995 2810L1005 2807L1011 2819ZM1161 2822L1150 2820L1135 2807L1151 2813ZM1233 2686L1221 2705L1200 2685ZM1164 2810L1175 2801L1189 2797L1178 2806ZM890 2686L878 2679L871 2664L885 2673ZM970 2715L954 2723L964 2698ZM1241 2899L1222 2885L1215 2866L1232 2878ZM1310 2683L1297 2666L1310 2659ZM834 3043L823 3025L839 3019ZM874 2863L887 2856L915 2855L892 2865ZM1226 2723L1208 2728L1186 2720L1207 2716ZM883 3005L885 2981L907 2999ZM1297 2767L1296 2744L1314 2749ZM1066 2692L1072 2677L1084 2688ZM963 3150L957 3160L945 3156L949 3138ZM829 3097L836 3106L829 3115L819 3107ZM1281 3134L1299 3148L1276 3153ZM1057 2803L1044 2786L1044 2775L1053 2785ZM819 2811L801 2801L808 2785L826 2796ZM925 3025L931 3014L942 3012L937 3022ZM1142 2966L1132 2967L1129 2955L1140 2953ZM894 2981L875 2980L866 2970L881 2970ZM1279 3091L1294 3106L1267 3110ZM817 2901L836 2898L829 2911ZM915 3020L894 3000L888 2987L903 2998ZM1248 2928L1242 2919L1248 2908L1253 2919ZM1249 2767L1242 2778L1234 2771L1240 2762ZM1127 2679L1132 2690L1115 2692L1112 2679ZM805 2679L809 2650L827 2666ZM1004 3151L1025 3142L1018 3160ZM1295 2753L1308 2746L1324 2747L1310 2755ZM1139 2674L1153 2663L1151 2686ZM1159 3161L1148 3157L1152 3145L1165 3150ZM940 2937L923 2940L906 2936L923 2933ZM1078 3052L1077 3066L1068 3064L1063 3053ZM996 3089L979 3089L968 3079L983 3078ZM1134 2791L1127 2778L1127 2755L1136 2774ZM1243 2852L1241 2876L1216 2862ZM1204 2896L1192 2869L1220 2878ZM1096 2743L1087 2757L1082 2739ZM834 2836L851 2830L861 2833L850 2838ZM839 2752L849 2735L857 2744ZM1190 3071L1184 3058L1188 3049L1193 3058ZM1061 2946L1060 2982L1039 2965ZM837 2749L820 2758L819 2741ZM1124 3009L1130 2994L1143 3003L1135 3013ZM974 3152L977 3124L983 3113L982 3129ZM858 3039L870 3033L879 3036L870 3041ZM1223 2980L1206 2984L1215 2968ZM1290 2963L1303 2955L1313 2954L1304 2962ZM778 2791L786 2766L804 2783ZM1031 2715L1031 2732L1014 2720ZM1135 2845L1126 2847L1113 2838L1127 2837ZM1284 2890L1277 2886L1271 2873L1281 2881ZM1018 3106L996 3094L1022 3074ZM1032 2902L1047 2897L1066 2897L1049 2903ZM1042 2932L1023 2917L1018 2908L1030 2915ZM928 3039L939 3026L951 3025L943 3035ZM1045 2911L1044 2922L1030 2921L1033 2904ZM1103 2746L1124 2775L1099 2782ZM942 2866L921 2853L911 2836L929 2846ZM931 3057L926 3036L952 3035Z" fill="#3f22a2"/>
<path d="M1073 2929L1077 2914L1089 2902L1085 2918ZM815 2987L847 2997L822 3014ZM949 3125L964 3142L947 3148ZM887 3145L883 3121L891 3108L895 3125ZM1207 2896L1189 2910L1185 2892ZM959 2840L952 2837L945 2824L955 2831ZM1313 2981L1303 2977L1300 2964L1311 2970ZM982 3106L971 3114L962 3100L971 3094ZM969 2756L973 2748L988 2749L978 2758ZM905 2697L893 2691L901 2680L914 2685ZM1256 2899L1282 2896L1276 2916ZM844 2858L851 2847L864 2858L857 2870ZM899 3160L889 3147L890 3132L900 3144ZM904 2819L905 2848L885 2835ZM1119 2813L1122 2797L1135 2810ZM1155 3056L1172 3063L1163 3077L1149 3068ZM969 3160L960 3155L959 3143L969 3149ZM1170 2925L1152 2912L1172 2898ZM912 3001L909 3024L884 3012ZM1152 2904L1163 2921L1143 2920ZM914 3074L911 3093L893 3079ZM966 3040L977 3033L990 3035L979 3041ZM1296 3027L1279 3020L1269 3009L1284 3014ZM933 2949L952 2945L960 2949L949 2953ZM1171 3041L1192 3024L1208 3021L1194 3034ZM816 3077L815 3063L826 3041L825 3063ZM1288 2948L1307 2939L1327 2937L1308 2946ZM909 3106L900 3087L904 3071L912 3086ZM1159 3140L1150 3117L1179 3116ZM1253 2717L1241 2723L1225 2717L1240 2711ZM1129 2932L1130 2919L1142 2921L1142 2934ZM1108 2954L1099 2945L1113 2934L1118 2943ZM1151 2698L1158 2682L1173 2670L1165 2687ZM805 2783L809 2764L825 2747L820 2769ZM1243 3144L1219 3153L1229 3128ZM1012 3052L998 3067L990 3059L1000 3044ZM1137 2864L1123 2849L1114 2828L1129 2844ZM881 2964L903 2959L891 2979ZM1030 2745L1024 2736L1035 2725L1041 2736ZM1041 2678L1048 2664L1057 2659L1053 2670ZM806 2707L822 2697L840 2699L824 2708ZM833 3096L839 3080L848 3072L844 3084ZM900 2758L888 2742L914 2741ZM857 2708L862 2722L851 2727L847 2714ZM967 2925L950 2920L930 2902L953 2911ZM1239 2783L1239 2802L1224 2803ZM1278 2745L1254 2763L1254 2734ZM1297 2962L1287 2961L1280 2950L1292 2953ZM884 3106L885 3121L869 3118L873 3108ZM865 2714L857 2705L855 2690L865 2701ZM921 2889L925 2880L940 2866L931 2882ZM1046 2846L1036 2823L1034 2805L1042 2823ZM886 2989L898 3003L879 3007ZM1304 3151L1296 3155L1284 3147L1297 3144ZM1260 3156L1242 3158L1221 3147L1243 3146ZM781 3088L795 3071L807 3084ZM856 3122L872 3128L860 3142ZM1193 2895L1177 2881L1197 2876ZM1276 2799L1264 2792L1263 2780L1274 2786ZM915 2949L907 2935L904 2914L914 2931ZM829 3104L830 3132L806 3125ZM1100 2999L1105 2992L1122 2989L1110 2998ZM994 3071L1003 3058L1025 3043L1010 3062ZM1025 2890L1052 2886L1069 2890L1050 2894ZM896 2981L901 2960L910 2950L907 2965ZM1192 2957L1174 2939L1192 2934L1203 2944ZM921 3005L922 3020L902 3014L913 3001ZM908 2924L918 2940L896 2941ZM817 2819L838 2833L822 2843ZM826 2874L818 2855L822 2841L829 2855ZM900 2849L919 2857L901 2869ZM1142 2675L1125 2664L1116 2649L1131 2659ZM1092 2764L1089 2739L1117 2748ZM994 2910L986 2877L1011 2887ZM1204 3105L1196 3094L1197 3066L1207 3088ZM1006 2726L986 2714L1007 2708ZM968 3106L944 3120L947 3089ZM887 2817L881 2805L884 2789L891 2803ZM939 3003L954 3011L941 3023ZM1189 2928L1182 2922L1182 2908L1191 2918ZM1257 3063L1237 3053L1250 3036L1266 3047ZM819 2786L820 2794L809 2792L812 2780ZM946 2813L934 2808L929 2798L939 2803ZM1258 2756L1243 2757L1226 2749L1244 2749ZM969 3146L979 3129L988 3123L983 3135ZM1269 2947L1246 2951L1258 2930ZM986 2872L980 2882L968 2872L975 2864ZM1256 2750L1269 2761L1259 2770L1246 2767ZM1099 2953L1083 2949L1086 2936ZM870 2677L866 2666L871 2655L874 2667ZM1180 2861L1150 2859L1173 2840ZM1151 3039L1156 3029L1172 3027L1163 3038ZM1113 2929L1129 2930L1129 2947L1107 2945ZM1014 2806L1024 2791L1034 2804ZM1305 2785L1305 2795L1294 2792L1294 2781ZM946 3058L938 3073L926 3054ZM983 2960L989 2939L1001 2954ZM1127 2839L1150 2856L1120 2871ZM1279 3141L1288 3164L1267 3168ZM962 2972L955 2963L968 2957L972 2966ZM1262 2680L1260 2667L1268 2638L1268 2664ZM1050 2813L1034 2807L1025 2795L1039 2800ZM1221 2812L1248 2824L1224 2838ZM831 3092L824 3099L814 3093L823 3083ZM943 3091L966 3075L982 3074L967 3087ZM1102 2715L1086 2704L1077 2687L1093 2698ZM1231 3078L1227 3069L1236 3054L1239 3069ZM894 3051L905 3044L923 3043L908 3051ZM1312 2780L1306 2774L1308 2756L1315 2770ZM895 3170L877 3162L866 3147L884 3154ZM877 2873L883 2869L896 2872L885 2876ZM827 2769L800 2770L785 2765L803 2764ZM924 3154L932 3136L943 3126L937 3141ZM1205 2956L1185 2958L1183 2940L1197 2938ZM1084 2691L1093 2712L1069 2701ZM1210 2741L1191 2741L1185 2735L1196 2734ZM1295 2916L1290 2897L1295 2883L1300 2898ZM975 2726L957 2712L980 2704ZM830 2777L821 2772L817 2757L828 2765ZM1008 2869L1008 2835L1032 2853ZM1159 2998L1188 3007L1160 3023ZM911 2676L903 2666L901 2652L909 2663ZM1122 3020L1133 3032L1120 3045L1110 3029ZM1316 2848L1316 2860L1305 2864L1301 2848ZM977 2707L961 2706L947 2699L963 2700ZM1262 3153L1272 3121L1288 3140ZM973 2852L985 2839L1001 2834L990 2847ZM1161 2887L1149 2865L1149 2852L1158 2865ZM966 3016L971 3040L954 3034ZM1202 2783L1211 2773L1233 2767L1218 2780ZM1171 2968L1190 2989L1167 2993ZM1242 2720L1245 2701L1254 2688L1252 2704ZM1253 2709L1237 2697L1253 2690ZM1155 3029L1125 3038L1133 3013ZM1122 2777L1141 2782L1124 2796ZM1144 3179L1135 3156L1137 3141L1145 3157ZM886 2976L903 2985L888 3000ZM1176 2956L1183 2941L1200 2952L1187 2964ZM844 2728L866 2725L851 2745ZM800 3024L789 3017L784 3001L797 3010ZM1154 3053L1178 3046L1163 3067ZM836 2820L821 2812L815 2802L827 2807ZM914 3156L897 3136L913 3124ZM1190 3086L1171 3102L1175 3074ZM1175 2976L1165 2974L1160 2961L1172 2966ZM919 2845L908 2840L899 2825L914 2832ZM805 3112L793 3114L784 3108L795 3106ZM1157 3023L1169 3039L1147 3039ZM1074 2802L1064 2819L1051 2800ZM1275 3094L1270 3109L1261 3102L1263 3091ZM1188 2821L1191 2807L1210 2809L1209 2826ZM970 2846L948 2845L936 2839L952 2839ZM1212 2848L1193 2832L1213 2829ZM1126 2958L1133 2949L1153 2940L1139 2953ZM1179 3000L1175 3013L1162 3013L1165 3002ZM1088 2712L1076 2696L1071 2675L1084 2692ZM967 3148L968 3121L989 3135ZM1141 2890L1130 2897L1125 2878ZM1300 2853L1310 2833L1326 2823L1317 2841ZM1059 2719L1057 2711L1064 2698L1065 2711ZM1211 2696L1227 2686L1228 2701ZM1039 2986L1027 2971L1044 2969ZM857 3061L850 3075L838 3069L847 3058ZM970 2983L971 3000L956 2993ZM1302 3011L1317 2991L1327 2985L1319 2998ZM912 3159L921 3139L944 3159ZM1158 2922L1155 2934L1142 2929L1148 2915ZM1224 2908L1224 2900L1237 2891L1232 2904ZM1250 2907L1220 2899L1232 2885ZM1078 2989L1063 2983L1055 2970L1069 2976ZM1016 3118L1042 3121L1025 3140ZM942 3128L953 3118L961 3117L955 3124ZM1095 2729L1077 2749L1070 2734ZM925 2936L918 2913L937 2923ZM1112 2789L1103 2789L1093 2780L1106 2781ZM1206 2711L1220 2713L1218 2727L1204 2724ZM1251 3033L1261 3025L1279 3027L1265 3035ZM850 3006L858 2990L876 2976L866 2995ZM952 2998L974 3004L959 3021ZM1119 2717L1103 2744L1095 2717ZM1144 2933L1126 2937L1132 2924ZM1221 3030L1227 3018L1239 3025L1232 3038ZM841 3076L850 3095L834 3095ZM785 3087L785 3075L799 3056L794 3076ZM1203 2817L1187 2815L1163 2804L1187 2808ZM1196 2806L1185 2806L1167 2797L1185 2799ZM863 3169L851 3164L831 3144L852 3157ZM1205 3163L1206 3149L1225 3126L1218 3151ZM1119 2882L1127 2862L1144 2884ZM1302 2697L1276 2691L1267 2681L1284 2682ZM1065 2898L1068 2916L1046 2914ZM1038 2988L1053 2984L1061 2987L1051 2991ZM917 3120L936 3114L945 3117L934 3122ZM1023 2836L1033 2824L1043 2849ZM1008 2821L1011 2803L1020 2797L1018 2809ZM823 2908L826 2894L839 2878L834 2896ZM1078 2748L1062 2735L1057 2723L1069 2732ZM988 3126L1002 3141L987 3149L976 3138ZM1235 3116L1226 3105L1227 3097L1234 3103ZM1071 2777L1057 2776L1037 2767L1057 2769ZM1016 2951L1006 2957L1002 2952L1007 2942ZM1136 2872L1124 2881L1123 2863ZM1274 2880L1262 2875L1252 2857L1268 2866ZM970 2936L986 2927L990 2946L975 2954Z" fill="#5c42b4"/>
</g></g>
<line x1="1214.0" y1="3128.0" x2="1282.0" y2="3128.0" stroke="#000" stroke-width="5.5" />
<clipPath id="clip13"><rect x="1410" y="2666" width="512" height="493"/></clipPath>
<g clip-path="url(#clip13)"><g filter="url(#soft)">
<rect x="1410" y="2666" width="512" height="493" fill="#eeedbc"/>
<path d="M1434 2947L1416 2928L1413 2914L1425 2926ZM1446 3142L1439 3127L1454 3127ZM1426 2907L1423 2896L1427 2878L1429 2894ZM1555 3069L1547 3048L1550 3034L1557 3049ZM1631 3153L1657 3138L1655 3166ZM1565 3118L1580 3101L1598 3094L1585 3110ZM1579 2751L1569 2734L1593 2727ZM1801 2688L1803 2675L1817 2674L1819 2690ZM1714 2686L1705 2671L1701 2650L1711 2668ZM1436 3051L1414 3036L1441 3029ZM1459 2926L1475 2918L1477 2934L1462 2938ZM1525 2901L1518 2890L1517 2863L1527 2884ZM1882 2703L1889 2718L1879 2722L1874 2712ZM1469 2816L1480 2830L1468 2834L1462 2827ZM1797 2750L1795 2739L1800 2724L1802 2739ZM1862 3102L1880 3094L1892 3098L1880 3105ZM1639 2708L1616 2706L1604 2700L1620 2700ZM1749 3125L1761 3105L1774 3097L1765 3112ZM1755 3126L1760 3117L1771 3113L1765 3122ZM1609 2701L1577 2705L1598 2675ZM1887 2822L1896 2852L1873 2842ZM1659 2709L1670 2694L1682 2707L1671 2720ZM1531 2698L1526 2673L1530 2657L1534 2675ZM1747 2941L1752 2927L1763 2922L1760 2934ZM1756 2910L1767 2895L1786 2887L1773 2903ZM1731 3041L1718 3046L1719 3029L1730 3028ZM1432 3124L1452 3135L1435 3154ZM1626 2744L1642 2745L1633 2760ZM1776 3167L1754 3149L1780 3146ZM1741 2923L1741 2907L1748 2889L1747 2907ZM1657 2681L1651 2676L1651 2663L1658 2672ZM1693 2785L1689 2797L1672 2786L1680 2772ZM1434 2732L1453 2723L1453 2741ZM1632 2754L1621 2775L1607 2764ZM1939 3168L1928 3160L1915 3136L1932 3153ZM1400 3095L1411 3099L1410 3114L1393 3109ZM1852 2914L1853 2901L1864 2879L1860 2901ZM1930 3064L1915 3060L1905 3047L1921 3051ZM1445 2728L1445 2701L1471 2711ZM1835 3123L1865 3113L1851 3143ZM1557 2950L1566 2933L1575 2943ZM1943 2793L1926 2793L1912 2788L1927 2787ZM1472 2830L1464 2812L1485 2814ZM1590 2715L1580 2713L1572 2700L1586 2704ZM1510 2876L1511 2863L1523 2853L1521 2868ZM1590 2816L1579 2798L1579 2784L1588 2797ZM1844 3172L1834 3153L1832 3136L1842 3152ZM1910 2901L1897 2886L1895 2873L1905 2884ZM1786 2944L1766 2928L1781 2924ZM1800 3100L1800 3111L1784 3108L1787 3094ZM1683 2755L1682 2777L1664 2763ZM1645 3021L1657 3038L1632 3045ZM1497 2697L1521 2685L1537 2685L1521 2695ZM1658 2904L1662 2873L1685 2892ZM1725 2888L1704 2877L1729 2866ZM1798 2897L1788 2907L1778 2896L1791 2889ZM1411 2798L1404 2817L1396 2802ZM1859 3065L1863 3092L1846 3079ZM1873 2938L1891 2948L1876 2961ZM1450 2949L1470 2953L1464 2967ZM1434 3093L1420 3096L1397 3092L1418 3089ZM1656 3160L1643 3183L1637 3157ZM1454 3122L1433 3127L1423 3122L1435 3117ZM1494 2962L1504 2954L1513 2963L1503 2974ZM1882 2888L1882 2869L1888 2858L1889 2872ZM1443 3083L1458 3074L1471 3076L1459 3084ZM1489 3078L1512 3092L1495 3104ZM1412 2918L1406 2898L1421 2903ZM1587 2859L1579 2853L1585 2842L1593 2850ZM1581 2881L1591 2875L1606 2879L1592 2885ZM1504 3046L1506 3062L1484 3055ZM1423 2811L1427 2795L1437 2808ZM1853 2684L1877 2676L1864 2701ZM1456 2683L1446 2676L1442 2664L1453 2671ZM1920 3118L1913 3104L1910 3078L1918 3100ZM1835 2749L1814 2738L1838 2727ZM1786 3180L1773 3159L1798 3164ZM1592 3090L1578 3106L1579 3088ZM1452 2830L1465 2823L1470 2841ZM1553 3115L1547 3134L1530 3112ZM1891 3171L1883 3165L1888 3154L1897 3159ZM1470 3005L1484 2999L1492 3001L1484 3007ZM1841 2870L1855 2864L1855 2884ZM1675 3135L1681 3127L1695 3126L1686 3136ZM1773 3169L1756 3175L1757 3154ZM1512 3017L1515 3007L1524 3006L1524 3019ZM1912 2702L1926 2695L1942 2699L1927 2706ZM1630 2741L1633 2727L1646 2741ZM1932 2897L1922 2881L1922 2869L1930 2881ZM1816 3094L1798 3099L1783 3093L1799 3088ZM1727 3086L1723 3078L1727 3061L1731 3076ZM1860 2679L1877 2666L1875 2682ZM1457 2811L1435 2816L1447 2802ZM1478 2878L1484 2859L1494 2846L1489 2863ZM1774 2719L1754 2721L1761 2703ZM1896 3049L1894 3036L1897 3016L1899 3035ZM1867 3065L1870 3053L1886 3036L1878 3055ZM1417 3056L1414 3044L1428 3043L1426 3055ZM1867 2859L1842 2865L1840 2840ZM1698 3167L1689 3151L1708 3157ZM1463 2930L1460 2914L1464 2904L1468 2916ZM1592 2914L1603 2908L1622 2914L1605 2919ZM1865 3052L1893 3059L1877 3085ZM1454 3176L1451 3163L1455 3136L1458 3159ZM1434 2700L1420 2715L1420 2703ZM1734 2847L1754 2860L1730 2874ZM1416 2839L1411 2823L1414 2810L1420 2823ZM1735 2758L1724 2752L1716 2737L1729 2746ZM1430 2780L1404 2773L1424 2752ZM1703 2976L1687 2976L1690 2961L1706 2960ZM1492 3121L1472 3148L1467 3122ZM1837 3150L1816 3179L1814 3151ZM1690 2915L1688 2902L1693 2874L1694 2899ZM1486 3130L1464 3117L1481 3106ZM1496 2840L1505 2830L1522 2844L1512 2856ZM1493 2892L1484 2905L1472 2888ZM1913 2922L1901 2911L1919 2906ZM1439 3148L1458 3148L1448 3165ZM1759 3069L1749 3061L1743 3046L1754 3056ZM1908 2912L1895 2898L1884 2878L1899 2894ZM1397 2971L1410 2954L1429 2946L1416 2962ZM1869 2881L1854 2881L1830 2870L1854 2872ZM1767 2800L1765 2814L1751 2813L1749 2796ZM1500 2890L1519 2899L1499 2910ZM1560 3086L1540 3102L1534 3080ZM1906 2855L1890 2864L1898 2844ZM1871 3062L1871 3043L1878 3023L1877 3044ZM1803 2988L1795 3012L1778 2993ZM1902 2818L1887 2819L1862 2808L1886 2809ZM1913 2701L1907 2690L1911 2680L1917 2690ZM1920 3135L1911 3113L1936 3109ZM1782 3045L1767 3038L1757 3026L1772 3033ZM1439 3156L1421 3166L1419 3153L1429 3146ZM1656 3098L1676 3116L1656 3123ZM1858 2667L1853 2682L1840 2676L1850 2664ZM1683 2967L1701 2967L1693 2987ZM1732 2864L1724 2859L1716 2846L1727 2854ZM1624 3042L1621 3030L1627 3017L1630 3031ZM1815 3018L1800 3011L1797 3001L1808 3005ZM1904 2839L1893 2824L1892 2807L1903 2821ZM1857 3003L1870 2996L1887 2998L1872 3006ZM1500 3110L1493 3107L1488 3095L1497 3102ZM1582 3088L1579 3063L1586 3051L1590 3067Z" fill="#3c1e9e"/>
<path d="M1637 2691L1640 2684L1652 2691L1650 2698ZM1767 3135L1769 3115L1783 3131ZM1923 2710L1910 2698L1925 2691ZM1511 2935L1503 2959L1484 2940ZM1408 3127L1414 3150L1394 3144ZM1593 2874L1580 2875L1583 2857ZM1720 2712L1727 2695L1738 2682L1731 2698ZM1580 2958L1572 2942L1590 2943ZM1549 2948L1539 2922L1564 2930ZM1466 3113L1482 3123L1461 3126ZM1514 3145L1496 3134L1488 3123L1501 3130ZM1882 2788L1862 2792L1872 2769ZM1494 2750L1484 2740L1476 2719L1489 2735ZM1568 2748L1558 2757L1545 2746L1561 2733ZM1690 2779L1702 2769L1710 2772L1704 2780ZM1824 2930L1813 2929L1806 2922L1816 2923ZM1900 3004L1884 3003L1898 2981ZM1626 2746L1630 2739L1644 2737L1635 2746ZM1907 3050L1916 3036L1930 3040L1920 3058ZM1515 2747L1524 2730L1531 2746ZM1554 2760L1541 2749L1541 2737L1552 2744ZM1566 2818L1556 2805L1553 2783L1565 2800ZM1557 2681L1544 2671L1533 2654L1548 2666ZM1526 3034L1531 3054L1512 3045ZM1857 2664L1878 2663L1872 2677ZM1444 2734L1425 2739L1433 2713ZM1466 3181L1464 3155L1482 3169ZM1779 2803L1769 2819L1764 2800ZM1440 2795L1434 2766L1458 2781ZM1702 2958L1695 2942L1713 2945ZM1539 2672L1522 2669L1531 2655ZM1676 3029L1663 3012L1689 3007ZM1442 3125L1433 3120L1430 3105L1441 3114ZM1402 3153L1408 3144L1416 3152L1408 3160ZM1829 3132L1821 3118L1830 3110L1840 3121ZM1586 2876L1582 2856L1611 2857ZM1812 3128L1807 3125L1802 3111L1811 3120ZM1805 3101L1806 3124L1788 3117ZM1765 3147L1765 3127L1772 3114L1772 3130ZM1425 3154L1440 3163L1421 3174ZM1756 3136L1776 3123L1791 3122L1777 3132ZM1877 3021L1862 3021L1848 3016L1863 3016ZM1520 2808L1530 2791L1538 2809ZM1770 3179L1760 3165L1767 3156L1783 3165ZM1852 2671L1861 2693L1828 2689ZM1442 2829L1445 2814L1452 2812L1453 2822ZM1463 2709L1452 2710L1441 2703L1454 2703ZM1559 2905L1564 2920L1544 2919ZM1857 3163L1872 3142L1881 3167ZM1586 2788L1592 2769L1602 2754L1598 2772ZM1467 3015L1454 3026L1449 3011ZM1447 3019L1431 3022L1414 3015L1432 3012ZM1479 2991L1471 3004L1455 2998L1462 2987ZM1419 2722L1432 2735L1413 2751ZM1769 2694L1776 2706L1766 2711L1761 2703ZM1877 2814L1860 2809L1848 2798L1864 2802ZM1633 2899L1649 2919L1628 2920ZM1437 2978L1441 2971L1454 2971L1446 2980ZM1741 3140L1734 3114L1757 3109ZM1741 3028L1733 3007L1733 2994L1739 3008ZM1392 2706L1402 2696L1420 2689L1407 2701ZM1446 3033L1455 3025L1481 3016L1461 3029ZM1877 3141L1903 3130L1916 3130L1902 3138ZM1517 3157L1511 3130L1514 3118L1520 3133ZM1845 2947L1830 2948L1822 2943L1832 2941ZM1729 2686L1746 2682L1756 2686L1744 2690ZM1817 3007L1813 2993L1815 2969L1820 2990ZM1472 3001L1480 2980L1490 2999ZM1832 3054L1828 3046L1831 3030L1835 3044ZM1854 3085L1861 3078L1873 3078L1864 3085ZM1465 3040L1477 3030L1488 3032L1479 3040ZM1799 3114L1792 3104L1800 3096L1808 3107ZM1464 3144L1441 3144L1459 3121ZM1744 3149L1725 3143L1737 3125ZM1452 3048L1471 3033L1478 3050ZM1529 2887L1525 2873L1532 2864L1536 2876ZM1583 2891L1566 2883L1578 2871ZM1913 2789L1929 2782L1937 2798L1921 2801ZM1453 2997L1444 3000L1429 2989L1445 2989ZM1531 2889L1546 2877L1566 2869L1549 2882ZM1406 2742L1414 2729L1437 2718L1423 2736ZM1809 2833L1801 2827L1795 2816L1804 2823ZM1878 3059L1894 3059L1892 3069L1879 3073ZM1865 3041L1875 3047L1872 3056L1860 3055ZM1517 2770L1520 2791L1498 2782ZM1521 3125L1520 3137L1510 3136L1512 3123ZM1627 2691L1614 2702L1605 2687L1619 2678ZM1458 3056L1456 3070L1443 3067L1446 3052ZM1697 3121L1704 3111L1712 3124L1702 3128ZM1511 2980L1528 2958L1541 2952L1532 2967ZM1903 3019L1893 3013L1902 3006L1909 3012ZM1922 2667L1911 2658L1911 2648L1920 2654ZM1508 3112L1494 3113L1471 3107L1493 3107ZM1663 2738L1671 2721L1685 2731ZM1785 3069L1796 3085L1780 3092L1767 3078ZM1426 2900L1409 2894L1418 2875L1427 2882ZM1503 3013L1509 3004L1527 3002L1516 3013ZM1406 2907L1409 2888L1419 2867L1415 2889ZM1939 2970L1916 2978L1921 2958ZM1631 2988L1641 2972L1659 2963L1649 2980ZM1699 2963L1697 2950L1703 2928L1704 2948ZM1886 2865L1881 2856L1892 2847L1899 2854ZM1926 2866L1910 2860L1928 2849ZM1911 2766L1901 2775L1890 2763L1902 2754ZM1595 3117L1594 3138L1564 3134ZM1550 3016L1562 2998L1573 2995L1567 3008ZM1601 2801L1595 2819L1583 2814L1587 2800ZM1663 3158L1661 3175L1641 3168ZM1417 2812L1405 2815L1383 2804L1405 2803ZM1787 2766L1800 2790L1777 2792ZM1828 2662L1847 2657L1839 2681ZM1838 2946L1818 2941L1839 2925ZM1837 3118L1851 3107L1859 3120L1851 3130ZM1923 2860L1905 2868L1906 2856ZM1467 2999L1491 3003L1463 3019ZM1425 3013L1431 3004L1441 2999L1435 3008ZM1768 3017L1783 3007L1785 3026ZM1550 2750L1535 2746L1528 2739L1539 2741ZM1818 3083L1832 3078L1832 3097L1818 3095ZM1679 2749L1688 2745L1705 2747L1691 2752ZM1886 3109L1896 3132L1874 3132ZM1719 2753L1729 2743L1750 2737L1735 2750ZM1777 2683L1784 2674L1803 2667L1790 2680ZM1677 2903L1683 2891L1695 2895L1685 2908ZM1583 3103L1603 3099L1614 3102L1601 3106ZM1570 3187L1563 3173L1560 3149L1569 3169ZM1924 2688L1898 2697L1904 2677ZM1392 3065L1408 3061L1417 3072L1404 3085ZM1527 2849L1542 2858L1526 2875ZM1869 3103L1873 3118L1864 3121L1853 3109ZM1895 2975L1909 2976L1902 2994ZM1694 2875L1676 2897L1663 2867ZM1918 2843L1934 2852L1923 2867ZM1760 2778L1746 2769L1741 2761L1751 2766ZM1424 3142L1400 3155L1404 3131ZM1596 3160L1609 3147L1622 3141L1611 3152ZM1594 2667L1578 2670L1565 2666L1579 2663ZM1905 2969L1891 2988L1883 2966ZM1443 2798L1456 2781L1470 2775L1461 2789ZM1543 3013L1532 2987L1555 2986Z" fill="#4626a8"/>
<path d="M1882 2686L1896 2675L1911 2670L1898 2681ZM1478 3003L1497 2998L1493 3016ZM1412 2855L1402 2845L1402 2835L1410 2843ZM1565 3146L1553 3129L1555 3118L1564 3128ZM1814 3090L1833 3085L1829 3104ZM1606 3009L1600 2993L1607 2969L1612 2991ZM1547 2780L1558 2758L1564 2784ZM1737 2853L1737 2835L1743 2829L1745 2840ZM1562 2938L1546 2932L1532 2920L1549 2926ZM1499 3044L1497 3016L1503 3003L1507 3021ZM1703 3109L1709 3139L1684 3123ZM1813 2983L1809 2997L1797 2988ZM1907 3038L1880 3038L1867 3031L1885 3029ZM1491 2743L1478 2735L1472 2726L1483 2732ZM1630 2793L1621 2806L1615 2798L1622 2786ZM1704 2985L1715 3002L1698 3010ZM1531 2871L1520 2873L1503 2868L1519 2867ZM1899 2750L1888 2746L1884 2738L1894 2740ZM1703 3087L1694 3077L1693 3061L1703 3073ZM1861 2913L1895 2914L1879 2936ZM1593 2698L1588 2688L1592 2677L1597 2687ZM1797 3092L1805 3081L1828 3070L1812 3086ZM1457 2810L1472 2785L1485 2806ZM1624 2776L1623 2807L1595 2789ZM1830 2912L1803 2935L1795 2904ZM1494 2688L1497 2678L1513 2664L1505 2681ZM1642 2975L1619 2987L1614 2961ZM1767 3095L1783 3125L1760 3127ZM1748 3126L1759 3118L1771 3120L1761 3128ZM1717 2964L1712 2986L1700 2970ZM1816 2828L1820 2820L1832 2814L1826 2825ZM1426 2768L1412 2763L1407 2755L1417 2758ZM1566 2716L1561 2703L1562 2693L1566 2703ZM1758 3156L1754 3145L1761 3135L1765 3146ZM1823 2745L1810 2748L1786 2742L1808 2740ZM1651 3010L1649 3032L1628 3024ZM1600 2802L1608 2785L1622 2802ZM1555 3016L1568 3010L1570 3030ZM1466 3137L1473 3128L1489 3122L1479 3134ZM1573 3119L1576 3109L1592 3112L1584 3130ZM1850 2981L1840 2976L1847 2963L1859 2969ZM1875 3118L1872 3107L1876 3098L1879 3108ZM1502 2772L1512 2760L1520 2767L1513 2777ZM1540 3089L1554 3064L1566 3095ZM1813 2774L1796 2792L1789 2775ZM1912 2785L1921 2804L1897 2797ZM1692 2679L1701 2673L1706 2688ZM1816 3039L1828 3034L1822 3049ZM1783 3129L1796 3123L1807 3125L1796 3131ZM1750 3095L1757 3113L1745 3115L1739 3102ZM1526 2877L1504 2887L1505 2872ZM1461 2837L1465 2812L1475 2798L1473 2817ZM1717 2681L1729 2688L1723 2700ZM1514 3139L1527 3144L1514 3158ZM1780 3070L1782 3079L1775 3082L1772 3072ZM1404 2777L1402 2757L1422 2757ZM1854 2971L1862 2984L1842 2992L1837 2980ZM1482 3005L1468 3012L1467 2990ZM1930 2695L1920 2694L1911 2680L1925 2685ZM1429 2906L1427 2924L1408 2923L1410 2908ZM1410 2859L1419 2843L1437 2829L1426 2848ZM1402 2736L1407 2728L1422 2723L1413 2733ZM1601 2698L1589 2721L1571 2695ZM1513 2659L1524 2652L1533 2655L1525 2662ZM1757 3115L1766 3124L1751 3133L1745 3125ZM1418 3156L1438 3157L1432 3171ZM1451 2950L1431 2936L1424 2924L1439 2932ZM1650 2766L1653 2757L1664 2747L1658 2759ZM1428 2810L1432 2793L1442 2785L1440 2799ZM1665 2733L1684 2752L1662 2766ZM1734 2972L1738 2953L1748 2943L1746 2958ZM1756 3148L1756 3126L1766 3111L1766 3130ZM1682 2744L1668 2750L1668 2724ZM1697 2832L1704 2816L1717 2833ZM1477 2783L1489 2771L1500 2770L1492 2780ZM1855 2848L1854 2835L1864 2818L1863 2836ZM1391 2791L1405 2769L1409 2793ZM1694 3108L1681 3104L1679 3098L1687 3099ZM1851 3083L1855 3071L1869 3061L1863 3076ZM1621 2940L1625 2960L1607 2963L1606 2950ZM1915 3170L1901 3174L1893 3168L1903 3163ZM1902 2735L1881 2739L1863 2734L1882 2730ZM1918 2885L1904 2878L1895 2858L1912 2869ZM1832 2727L1813 2722L1799 2709L1818 2713ZM1882 3133L1907 3135L1890 3156ZM1520 2667L1530 2654L1544 2649L1535 2661ZM1771 2836L1773 2823L1786 2828L1784 2840ZM1902 2860L1875 2881L1877 2855ZM1440 2901L1427 2893L1417 2878L1431 2888ZM1832 3067L1831 3041L1853 3052ZM1480 2909L1465 2893L1460 2880L1472 2891ZM1656 3147L1656 3127L1672 3136ZM1868 2874L1866 2858L1872 2847L1874 2860ZM1624 3150L1623 3139L1633 3122L1632 3139ZM1414 3020L1414 3004L1430 3008ZM1815 2722L1807 2704L1806 2684L1814 2702ZM1595 3150L1602 3158L1592 3163L1587 3155ZM1841 3182L1827 3163L1823 3151L1833 3162ZM1866 3168L1865 3159L1871 3148L1871 3160ZM1461 3171L1446 3172L1428 3167L1446 3166ZM1680 2877L1673 2856L1697 2858ZM1430 3037L1433 3019L1445 3003L1442 3022ZM1635 2949L1640 2976L1609 2965ZM1724 2994L1696 2994L1721 2967ZM1788 2961L1775 2933L1805 2939ZM1897 2653L1894 2673L1879 2662ZM1764 2896L1782 2902L1766 2910ZM1702 3181L1709 3167L1728 3153L1716 3171ZM1902 2707L1926 2707L1909 2728ZM1783 2781L1779 2770L1782 2760L1785 2770ZM1630 3067L1617 3066L1602 3055L1619 3058ZM1665 2782L1680 2764L1693 2778ZM1442 3081L1434 3068L1453 3070ZM1463 3064L1492 3056L1482 3084ZM1643 3022L1637 3035L1628 3029L1632 3019ZM1814 3015L1805 3014L1792 3002L1807 3007ZM1712 2954L1722 2967L1701 2967ZM1622 2724L1632 2711L1648 2703L1638 2717ZM1618 2901L1642 2900L1642 2925ZM1791 2971L1798 2955L1807 2949L1804 2961ZM1448 2752L1453 2765L1435 2767ZM1524 3143L1517 3134L1517 3121L1525 3131ZM1637 3027L1637 3009L1652 3014ZM1673 3079L1695 3070L1692 3098ZM1799 2966L1803 2956L1816 2946L1808 2959ZM1923 2947L1911 2943L1902 2934L1914 2938ZM1604 3095L1595 3082L1588 3059L1600 3078ZM1611 3105L1628 3111L1611 3125ZM1683 2957L1680 2939L1695 2948ZM1889 3093L1873 3094L1866 3090L1876 3088ZM1540 2713L1540 2703L1557 2706L1549 2718ZM1917 3094L1894 3108L1897 3077ZM1869 3118L1853 3123L1853 3105ZM1467 2672L1460 2655L1468 2645L1479 2662ZM1785 2991L1795 2984L1807 2988L1796 2995ZM1568 3144L1577 3164L1553 3161Z" fill="#331895"/>
<path d="M1510 2956L1498 2953L1492 2944L1503 2946ZM1781 2976L1780 2965L1792 2948L1790 2966ZM1580 2836L1583 2844L1576 2850L1570 2842ZM1736 2862L1727 2851L1723 2837L1733 2848ZM1623 3122L1607 3116L1624 3106ZM1473 3121L1457 3121L1462 3104ZM1814 3063L1824 3082L1811 3090L1798 3080ZM1406 3103L1420 3094L1441 3097L1423 3106ZM1921 2972L1929 2953L1940 2967ZM1897 3147L1884 3145L1866 3127L1887 3135ZM1499 3172L1477 3160L1497 3147ZM1905 3134L1912 3115L1927 3103L1920 3122ZM1888 3033L1859 3037L1878 3014ZM1794 2851L1806 2831L1823 2853ZM1432 3036L1433 3020L1438 3008L1438 3022ZM1422 2905L1433 2894L1445 2896L1436 2905ZM1686 2685L1671 2699L1664 2676ZM1409 2659L1421 2644L1437 2664ZM1571 3034L1548 3017L1573 3006ZM1465 2675L1450 2668L1445 2662L1455 2665ZM1683 3146L1673 3143L1681 3127L1691 3136ZM1603 2800L1594 2795L1591 2784L1601 2790ZM1651 2985L1674 2989L1661 3003ZM1603 3035L1601 3053L1587 3044L1586 3033ZM1686 3086L1677 3087L1665 3080L1678 3080ZM1614 2784L1642 2780L1628 2802ZM1895 2969L1882 2963L1891 2951L1902 2961ZM1822 2978L1813 2976L1796 2965L1813 2971ZM1821 2991L1807 2980L1803 2971L1813 2977ZM1641 3179L1629 3172L1615 3152L1633 3164ZM1917 2678L1917 2700L1894 2696ZM1529 3016L1541 3001L1551 3018ZM1589 2996L1600 3007L1589 3013L1582 3003ZM1391 2797L1405 2778L1417 2802ZM1435 2940L1451 2927L1465 2927L1453 2938ZM1788 3172L1784 3160L1791 3151L1795 3162ZM1506 3164L1521 3158L1540 3158L1523 3165ZM1447 3108L1428 3100L1415 3089L1432 3096ZM1571 3025L1548 3034L1552 3010ZM1534 3123L1526 3092L1554 3104ZM1820 2955L1838 2969L1810 2972ZM1397 3095L1398 3084L1407 3071L1405 3085ZM1821 2995L1809 2984L1809 2974L1818 2981ZM1895 2656L1909 2682L1888 2680ZM1903 2937L1886 2955L1877 2937ZM1793 3128L1795 3119L1810 3106L1804 3122ZM1462 2744L1450 2738L1455 2726L1466 2730ZM1446 2883L1455 2876L1481 2875L1461 2884ZM1691 3133L1672 3138L1680 3119ZM1613 3031L1621 3014L1629 3010L1625 3021ZM1915 3051L1905 3053L1893 3050L1905 3047ZM1698 2713L1719 2729L1697 2746ZM1523 2987L1503 2979L1522 2973ZM1594 2971L1591 2952L1594 2939L1597 2953ZM1485 2774L1485 2797L1465 2783ZM1829 3155L1853 3166L1837 3182ZM1928 2900L1919 2893L1927 2882L1936 2887ZM1661 2961L1663 2942L1673 2931L1671 2946ZM1472 2907L1454 2925L1440 2906ZM1660 2954L1646 2957L1633 2953L1646 2949ZM1449 2677L1437 2675L1431 2666L1442 2667ZM1819 3129L1805 3116L1804 3105L1814 3113ZM1513 2935L1517 2926L1529 2923L1523 2934ZM1503 3136L1487 3156L1480 3130ZM1673 2894L1678 2874L1697 2880ZM1703 2947L1705 2928L1714 2919L1713 2932ZM1669 3094L1689 3095L1681 3110L1668 3107ZM1665 3114L1676 3106L1685 3105L1677 3111ZM1755 3063L1759 3047L1769 3035L1765 3050ZM1486 2693L1473 2691L1454 2674L1475 2680ZM1569 3048L1554 3042L1547 3030L1561 3035ZM1841 2935L1852 2919L1868 2913L1858 2928ZM1549 2856L1531 2838L1557 2839ZM1889 2756L1907 2757L1890 2772ZM1594 2987L1600 2978L1613 2977L1605 2986ZM1450 3067L1431 3065L1425 3057L1438 3056ZM1900 3129L1883 3134L1886 3119ZM1517 2901L1544 2898L1533 2922ZM1775 2990L1760 2988L1754 2981L1765 2981ZM1571 2826L1583 2828L1573 2839ZM1452 2961L1458 2985L1434 2979ZM1532 3098L1537 3087L1544 3083L1542 3092ZM1738 2925L1758 2916L1757 2940ZM1582 2945L1581 2933L1587 2909L1587 2931ZM1720 2747L1700 2725L1733 2727ZM1564 2716L1562 2704L1566 2689L1568 2703ZM1553 3094L1573 3099L1557 3115ZM1844 2840L1859 2858L1837 2856ZM1757 2913L1768 2932L1737 2937ZM1590 3005L1580 2984L1579 2973L1586 2985ZM1937 2711L1915 2692L1910 2678L1925 2689ZM1757 2699L1756 2720L1739 2715L1742 2698ZM1566 2787L1566 2777L1575 2766L1574 2779ZM1423 2968L1441 2960L1451 2964L1440 2971ZM1424 2975L1407 2983L1412 2965ZM1567 3030L1573 3044L1558 3047L1555 3031ZM1760 2710L1752 2705L1752 2691L1762 2700ZM1558 2941L1578 2932L1596 2930L1579 2938ZM1696 2989L1712 2984L1722 2985L1711 2990ZM1895 2728L1916 2750L1885 2750ZM1808 3001L1816 3031L1786 3021ZM1673 3109L1680 3100L1696 3095L1685 3106ZM1627 2896L1617 2872L1644 2877ZM1785 3153L1801 3137L1810 3156ZM1915 3077L1937 3099L1914 3108ZM1445 2939L1459 2921L1472 2914L1462 2928ZM1505 2960L1515 2939L1526 2931L1521 2947ZM1548 2693L1534 2699L1531 2679L1543 2678ZM1676 2759L1658 2761L1647 2753L1662 2750ZM1864 2792L1857 2783L1860 2768L1867 2780ZM1508 2913L1495 2910L1491 2905L1499 2905ZM1609 2856L1606 2833L1629 2853ZM1835 2880L1819 2878L1814 2864L1832 2863ZM1816 3137L1789 3147L1798 3117ZM1599 2737L1582 2748L1578 2733ZM1928 2962L1912 2959L1903 2952L1915 2954ZM1398 3130L1411 3130L1408 3146L1396 3141ZM1598 2724L1599 2705L1608 2697L1609 2711ZM1719 2704L1722 2694L1735 2697L1728 2710ZM1438 2754L1437 2734L1441 2720L1442 2736ZM1428 2709L1427 2687L1450 2691ZM1703 3041L1694 3062L1682 3053ZM1784 3092L1808 3100L1784 3114ZM1772 2919L1778 2911L1796 2911L1783 2921ZM1887 3121L1878 3100L1878 3087L1885 3101ZM1668 2724L1679 2713L1701 2701L1684 2717ZM1753 2666L1767 2651L1786 2647L1772 2661ZM1507 2967L1492 2955L1482 2938L1497 2950ZM1577 2812L1573 2796L1575 2772L1579 2794ZM1481 2996L1480 2983L1493 2977L1497 2989ZM1938 3026L1917 3017L1912 3007L1926 3010ZM1917 2970L1928 2952L1937 2962ZM1435 3145L1427 3137L1434 3126L1444 3134ZM1484 3040L1494 3052L1480 3054Z" fill="#5232ae"/>
<path d="M1855 2700L1841 2709L1837 2692ZM1460 3039L1450 3023L1450 3010L1459 3022ZM1698 2841L1686 2815L1706 2813ZM1465 3133L1469 3119L1481 3111L1477 3125ZM1624 2737L1631 2712L1645 2725ZM1677 2782L1669 2774L1671 2762L1679 2771ZM1576 2676L1580 2693L1563 2684ZM1588 3177L1600 3149L1614 3173ZM1415 3068L1405 3065L1406 3055L1416 3057ZM1519 3109L1545 3130L1511 3132ZM1506 3086L1503 3063L1509 3050L1512 3066ZM1521 2862L1508 2869L1506 2856L1520 2849ZM1648 2766L1660 2762L1661 2773L1655 2780ZM1491 2858L1487 2873L1475 2868ZM1785 3056L1802 3046L1811 3048L1802 3056ZM1903 2918L1924 2921L1914 2934ZM1758 3113L1766 3105L1779 3103L1770 3112ZM1912 3009L1899 3001L1896 2993L1905 2997ZM1939 3091L1930 3090L1923 3081L1933 3083ZM1464 3125L1453 3117L1448 3101L1460 3111ZM1867 3014L1857 2991L1876 2987ZM1814 3157L1811 3147L1818 3129L1820 3146ZM1456 2885L1444 2902L1434 2872ZM1653 3138L1671 3123L1683 3123L1673 3133ZM1561 2736L1560 2708L1583 2730ZM1466 2869L1459 2884L1446 2882L1452 2865ZM1451 2688L1440 2678L1440 2667L1449 2675ZM1708 3041L1718 3035L1740 3034L1722 3042ZM1546 2811L1554 2792L1564 2808ZM1626 2685L1631 2670L1646 2653L1638 2673ZM1628 2723L1647 2739L1621 2749ZM1819 2812L1817 2832L1806 2818ZM1661 3027L1661 2999L1678 3010ZM1767 2801L1751 2823L1745 2807ZM1879 2926L1866 2907L1867 2892L1878 2905ZM1823 2916L1853 2915L1848 2932ZM1740 2737L1723 2724L1735 2711ZM1583 2676L1569 2689L1573 2669ZM1917 2978L1927 2967L1942 2962L1932 2974ZM1781 2788L1765 2816L1756 2790ZM1752 3138L1728 3112L1756 3117ZM1732 2836L1708 2833L1727 2810ZM1490 3149L1485 3138L1487 3123L1493 3136ZM1607 2917L1609 2907L1621 2889L1616 2907ZM1898 3108L1885 3100L1876 3083L1891 3093ZM1811 2949L1789 2944L1806 2932ZM1612 2999L1604 3008L1593 2999L1604 2994ZM1561 3148L1571 3138L1592 3135L1577 3147ZM1555 3100L1544 3083L1564 3081ZM1902 2915L1900 2903L1908 2877L1908 2900ZM1720 2908L1707 2882L1729 2873ZM1944 3002L1931 3003L1916 2996L1931 2996ZM1476 3027L1464 3012L1462 2996L1473 3008ZM1845 3094L1832 3102L1827 3082ZM1647 2822L1650 2804L1666 2817ZM1870 2904L1869 2894L1878 2882L1878 2896ZM1813 2733L1821 2753L1800 2758ZM1755 2886L1765 2911L1746 2907ZM1654 3114L1664 3113L1662 3125L1652 3126ZM1590 2683L1603 2678L1603 2698ZM1741 2909L1726 2903L1731 2889L1742 2897ZM1884 2924L1884 2914L1896 2914L1895 2926ZM1440 2973L1433 2961L1434 2948L1441 2959ZM1489 2851L1476 2868L1461 2847ZM1668 3154L1665 3147L1670 3134L1673 3146ZM1544 3126L1535 3141L1529 3132ZM1852 3162L1831 3144L1857 3129ZM1438 2775L1413 2766L1402 2753L1420 2759ZM1436 2867L1432 2849L1449 2862ZM1829 3141L1825 3127L1826 3108L1830 3126ZM1637 2782L1635 2775L1640 2762L1641 2774ZM1893 2843L1891 2834L1900 2822L1901 2836ZM1824 2685L1802 2696L1809 2676ZM1471 2768L1458 2751L1492 2751ZM1433 2750L1446 2734L1461 2729L1451 2743ZM1447 2972L1448 2997L1434 2991ZM1554 2733L1557 2720L1564 2714L1563 2724ZM1796 2799L1799 2777L1810 2793ZM1797 2749L1784 2737L1782 2727L1792 2734ZM1875 2827L1884 2820L1907 2816L1889 2825ZM1430 3013L1420 3007L1416 2995L1427 3001ZM1439 2880L1452 2866L1462 2863L1454 2873ZM1444 2714L1422 2716L1406 2712L1424 2710ZM1710 2964L1713 2995L1688 2980ZM1798 3138L1804 3119L1815 3131ZM1398 3159L1411 3154L1418 3171L1401 3173ZM1924 3134L1902 3136L1912 3115ZM1519 3159L1513 3147L1524 3144L1529 3154ZM1800 2795L1811 2803L1795 2811ZM1499 2949L1513 2941L1520 2958L1500 2965ZM1616 3033L1603 3034L1583 3024L1603 3024ZM1884 2683L1889 2676L1905 2669L1894 2680ZM1814 2769L1822 2759L1841 2752L1828 2765ZM1587 2771L1579 2756L1594 2748L1598 2760ZM1736 2955L1708 2953L1716 2935ZM1896 2965L1882 2973L1875 2957L1888 2956ZM1454 2754L1441 2744L1438 2731L1451 2739ZM1449 3135L1444 3121L1450 3108L1455 3122ZM1804 2810L1825 2789L1831 2811ZM1856 3031L1843 3017L1838 3001L1851 3013ZM1901 2710L1905 2736L1882 2723ZM1888 2884L1889 2863L1896 2848L1896 2866ZM1492 2733L1503 2717L1518 2712L1509 2726ZM1791 3115L1775 3116L1755 3108L1775 3108ZM1589 2879L1580 2879L1566 2871L1580 2873ZM1597 3104L1625 3085L1631 3110ZM1634 3121L1607 3107L1634 3092ZM1430 2878L1416 2872L1409 2864L1420 2868ZM1423 3000L1397 2994L1414 2975ZM1768 2759L1789 2744L1783 2770ZM1737 3009L1719 3010L1718 2994L1732 2991ZM1684 2760L1708 2759L1704 2775ZM1395 2988L1398 2978L1411 2974L1405 2985ZM1667 2836L1661 2821L1660 2800L1667 2819ZM1390 3142L1398 3123L1412 3109L1404 3127ZM1839 2785L1841 2776L1851 2777L1850 2787ZM1795 2928L1789 2952L1768 2931ZM1581 2683L1575 2656L1595 2668Z" fill="#3f22a2"/>
<path d="M1577 3083L1601 3073L1603 3103ZM1828 3115L1853 3106L1854 3126ZM1687 3033L1703 3025L1721 3023L1704 3030ZM1520 2937L1531 2922L1539 2919L1534 2929ZM1447 3101L1435 3127L1426 3105ZM1685 2799L1682 2809L1668 2808L1672 2797ZM1714 3065L1707 3057L1716 3048L1723 3056ZM1673 2978L1686 2998L1658 3005ZM1424 3176L1421 3148L1424 3135L1427 3152ZM1411 3082L1397 3074L1396 3065L1406 3069ZM1891 3106L1900 3102L1906 3110L1897 3120ZM1773 3101L1771 3088L1777 3072L1779 3088ZM1486 2767L1483 2788L1466 2779ZM1740 3153L1756 3145L1765 3147L1756 3153ZM1887 2841L1874 2829L1890 2821ZM1818 2857L1814 2847L1817 2833L1822 2846ZM1839 3148L1853 3142L1869 3147L1854 3153ZM1840 3104L1840 3128L1817 3119ZM1719 2935L1709 2938L1695 2934L1708 2932ZM1805 2943L1823 2934L1829 2952L1817 2958ZM1832 2743L1852 2750L1848 2766L1832 2759ZM1906 2761L1913 2747L1928 2737L1919 2752ZM1766 2972L1778 2967L1788 2968L1778 2973ZM1775 2733L1738 2741L1752 2721ZM1850 2735L1875 2745L1857 2759ZM1417 2810L1405 2807L1401 2797L1412 2800ZM1820 3051L1801 3059L1807 3043ZM1893 2887L1914 2905L1885 2910ZM1873 2687L1866 2673L1862 2651L1871 2670ZM1778 3163L1778 3152L1789 3153L1789 3166ZM1861 2940L1841 2961L1836 2935ZM1648 3033L1655 3018L1672 3001L1661 3020ZM1748 2792L1727 2794L1713 2790L1729 2788ZM1450 3057L1468 3034L1484 3068ZM1578 2759L1589 2746L1603 2743L1594 2755ZM1615 2939L1598 2952L1595 2924ZM1412 2797L1415 2824L1395 2810ZM1713 2730L1688 2717L1710 2711ZM1846 3137L1832 3134L1826 3128L1836 3129ZM1455 2746L1458 2729L1469 2731L1476 2749ZM1705 3117L1701 3106L1703 3081L1707 3102ZM1496 2778L1496 2793L1489 2794L1483 2783ZM1518 2666L1533 2659L1533 2679ZM1717 3079L1717 3100L1702 3090ZM1596 3127L1608 3153L1579 3149ZM1764 2931L1750 2934L1735 2925L1752 2923ZM1832 2935L1837 2924L1852 2919L1845 2932ZM1704 3006L1719 2990L1735 2983L1723 2997ZM1587 3083L1567 3104L1562 3077ZM1404 2825L1420 2830L1407 2842ZM1734 3043L1734 3054L1723 3054L1719 3043ZM1774 2832L1759 2808L1756 2795L1767 2808ZM1885 3011L1881 3000L1882 2985L1887 2998ZM1448 2679L1442 2659L1443 2645L1448 2659ZM1609 2693L1628 2686L1647 2688L1629 2695ZM1421 3017L1407 3018L1387 3010L1406 3011ZM1868 2895L1865 2884L1871 2876L1874 2886ZM1900 3129L1894 3154L1878 3128ZM1711 3073L1727 3063L1725 3082ZM1529 2957L1525 2948L1531 2934L1535 2948ZM1448 2926L1456 2919L1465 2917L1458 2924ZM1463 3131L1451 3127L1444 3119L1455 3122ZM1802 2992L1790 2979L1789 2967L1799 2976ZM1444 2922L1434 2934L1417 2926L1433 2913ZM1863 2757L1842 2756L1853 2743ZM1698 2805L1719 2799L1711 2822ZM1818 3181L1799 3163L1816 3147ZM1836 3078L1827 3068L1824 3054L1834 3065ZM1411 2944L1408 2924L1412 2910L1415 2925ZM1786 3047L1788 3065L1771 3056ZM1801 2917L1783 2917L1766 2908L1785 2908ZM1544 2877L1527 2884L1533 2865ZM1456 3119L1441 3106L1434 3092L1447 3102ZM1407 2954L1425 2972L1393 2976ZM1466 2900L1484 2920L1460 2933ZM1803 3076L1826 3062L1838 3060L1825 3070ZM1632 3003L1610 3003L1621 2988ZM1596 3148L1598 3137L1612 3128L1607 3143ZM1905 2754L1909 2748L1922 2741L1914 2751ZM1596 2930L1586 2921L1585 2907L1595 2917ZM1420 2954L1414 2935L1428 2933L1436 2949ZM1418 2922L1426 2938L1412 2944L1405 2933ZM1863 2748L1882 2743L1876 2760ZM1756 3020L1738 3039L1738 3017ZM1433 3146L1442 3139L1455 3138L1445 3146ZM1705 2937L1683 2933L1671 2923L1688 2926ZM1465 2791L1456 2773L1475 2778ZM1901 2905L1887 2896L1895 2883ZM1546 3009L1550 3001L1564 2994L1556 3005ZM1869 3136L1892 3138L1882 3162ZM1669 2734L1659 2725L1668 2717L1680 2725ZM1773 3029L1769 3011L1782 3015ZM1876 2919L1869 2938L1859 2925ZM1528 3058L1546 3063L1536 3086ZM1669 2846L1655 2829L1653 2815L1665 2826ZM1805 2723L1796 2725L1783 2719L1796 2718ZM1464 3038L1466 3020L1473 3012L1474 3025ZM1703 3109L1704 3123L1689 3113ZM1931 2812L1919 2793L1914 2776L1924 2792ZM1856 2809L1866 2789L1876 2814ZM1652 2747L1642 2734L1641 2713L1652 2729ZM1761 2901L1759 2890L1766 2888L1771 2898ZM1455 2827L1459 2795L1477 2811ZM1535 3007L1529 3035L1507 3021ZM1696 3114L1715 3113L1705 3134ZM1448 3026L1448 3041L1435 3034ZM1755 2901L1750 2881L1751 2869L1756 2882ZM1806 2696L1801 2683L1810 2674L1821 2686ZM1808 3050L1825 3080L1802 3077ZM1869 2704L1859 2706L1842 2700L1858 2700ZM1639 2901L1656 2906L1639 2925L1633 2913ZM1518 2756L1527 2747L1537 2743L1530 2752ZM1636 2994L1621 2997L1627 2980ZM1804 3140L1814 3125L1830 3113L1819 3129ZM1759 2691L1774 2686L1785 2690L1773 2695ZM1721 2674L1739 2662L1750 2663L1740 2672ZM1469 3035L1484 3030L1477 3042ZM1493 3017L1489 3026L1480 3021L1483 3011ZM1553 2931L1542 2924L1547 2914L1561 2916ZM1922 3025L1925 3007L1936 2985L1931 3007ZM1850 3168L1850 3156L1857 3148L1857 3159ZM1396 2757L1405 2738L1418 2752ZM1612 3101L1625 3097L1640 3098L1626 3103ZM1816 2711L1826 2706L1835 2706L1827 2711ZM1754 2750L1779 2754L1753 2776ZM1812 2789L1797 2777L1816 2772ZM1447 3006L1464 3020L1447 3026ZM1710 2874L1700 2868L1694 2856L1706 2862ZM1439 3109L1424 3109L1426 3099ZM1875 2688L1878 2666L1885 2652L1883 2669ZM1901 3026L1891 3021L1879 3006L1893 3015ZM1868 2723L1855 2721L1858 2706L1875 2711ZM1936 2725L1941 2742L1928 2749L1922 2736ZM1820 3142L1818 3128L1823 3117L1825 3129ZM1719 3154L1707 3148L1695 3125L1713 3139ZM1570 2673L1558 2672L1541 2655L1561 2661ZM1503 2808L1515 2786L1525 2780L1520 2794ZM1573 2911L1560 2896L1558 2887L1566 2895ZM1731 2707L1734 2721L1722 2725L1715 2712ZM1435 3116L1454 3110L1450 3129ZM1478 2686L1492 2680L1510 2680L1494 2686ZM1841 3119L1856 3126L1848 3142L1836 3134ZM1851 2849L1849 2866L1831 2858ZM1916 3082L1904 3079L1912 3063ZM1547 2971L1536 2962L1528 2939L1543 2955ZM1424 2717L1424 2705L1436 2703L1438 2714ZM1853 2706L1864 2695L1871 2705ZM1832 3008L1824 2988L1845 2996ZM1910 2863L1897 2853L1894 2840L1905 2849ZM1811 2858L1812 2848L1823 2850L1824 2862ZM1674 3071L1662 3070L1665 3056Z" fill="#5c42b4"/>
</g></g>
<line x1="1835.0" y1="3129.0" x2="1902.0" y2="3129.0" stroke="#000" stroke-width="5.5" />
<polygon points="1906,2666 1922,2666 1922,2684" fill="#1a1a22"/>
<clipPath id="clip14"><rect x="191" y="3233" width="512" height="491"/></clipPath>
<g clip-path="url(#clip14)"><g filter="url(#soft)">
<rect x="191" y="3233" width="512" height="491" fill="#e9e8c6"/>
<path d="M246 3578h3v3h-3zM525 3695h3v3h-3zM330 3359h3v3h-3zM567 3556h3v3h-3zM346 3569h3v3h-3zM394 3615h3v3h-3zM252 3343h3v3h-3zM653 3409h3v3h-3zM324 3628h3v3h-3zM514 3307h3v3h-3zM473 3559h3v3h-3zM275 3553h3v3h-3zM254 3398h3v3h-3zM234 3333h3v3h-3zM692 3431h3v3h-3zM698 3448h3v3h-3zM502 3661h3v3h-3zM543 3288h3v3h-3zM493 3544h3v3h-3zM284 3279h3v3h-3zM639 3485h3v3h-3zM290 3455h3v3h-3zM303 3625h3v3h-3zM447 3283h3v3h-3zM610 3277h3v3h-3zM335 3247h3v3h-3zM570 3289h3v3h-3zM460 3279h3v3h-3zM437 3570h3v3h-3zM465 3456h3v3h-3zM439 3448h3v3h-3zM496 3280h3v3h-3zM434 3349h3v3h-3zM634 3694h3v3h-3zM225 3303h3v3h-3zM551 3514h3v3h-3zM201 3579h3v3h-3zM674 3441h3v3h-3zM369 3513h3v3h-3zM672 3362h3v3h-3zM346 3326h3v3h-3zM513 3463h3v3h-3zM322 3423h3v3h-3zM209 3386h3v3h-3zM694 3521h3v3h-3zM336 3693h3v3h-3zM374 3357h3v3h-3zM209 3305h3v3h-3zM293 3346h3v3h-3zM638 3363h3v3h-3zM318 3530h3v3h-3zM661 3376h3v3h-3zM581 3414h3v3h-3zM478 3526h3v3h-3zM673 3605h3v3h-3zM451 3646h3v3h-3zM379 3422h3v3h-3zM683 3501h3v3h-3zM587 3387h3v3h-3zM660 3534h3v3h-3zM318 3691h3v3h-3zM431 3400h3v3h-3zM326 3284h3v3h-3zM294 3573h3v3h-3zM263 3360h3v3h-3zM420 3500h3v3h-3zM386 3618h3v3h-3zM322 3414h3v3h-3zM409 3296h3v3h-3zM305 3305h3v3h-3zM562 3305h3v3h-3zM533 3342h3v3h-3zM522 3555h3v3h-3zM372 3691h3v3h-3zM527 3507h3v3h-3zM215 3433h3v3h-3zM327 3464h3v3h-3zM669 3657h3v3h-3zM223 3567h3v3h-3zM669 3499h3v3h-3zM241 3659h3v3h-3zM409 3714h3v3h-3zM639 3640h3v3h-3zM668 3266h3v3h-3zM597 3383h3v3h-3zM260 3419h3v3h-3zM493 3235h3v3h-3zM421 3618h3v3h-3zM445 3492h3v3h-3zM343 3710h3v3h-3zM318 3567h3v3h-3zM522 3233h3v3h-3zM701 3349h3v3h-3zM697 3689h3v3h-3zM652 3653h3v3h-3zM395 3452h3v3h-3zM368 3693h3v3h-3zM206 3300h3v3h-3zM681 3629h3v3h-3zM552 3708h3v3h-3zM459 3643h3v3h-3zM418 3675h3v3h-3zM227 3448h3v3h-3zM486 3623h3v3h-3zM407 3567h3v3h-3zM687 3439h3v3h-3zM293 3248h3v3h-3zM632 3467h3v3h-3zM390 3488h3v3h-3zM253 3342h3v3h-3zM312 3358h3v3h-3zM631 3354h3v3h-3zM237 3659h3v3h-3zM477 3247h3v3h-3zM537 3570h3v3h-3zM524 3613h3v3h-3zM408 3343h3v3h-3zM572 3540h3v3h-3zM551 3323h3v3h-3zM382 3572h3v3h-3zM388 3529h3v3h-3zM433 3603h3v3h-3zM369 3477h3v3h-3zM615 3386h3v3h-3zM281 3546h3v3h-3zM259 3654h3v3h-3zM332 3677h3v3h-3zM464 3309h3v3h-3zM458 3568h3v3h-3zM440 3545h3v3h-3zM380 3704h3v3h-3zM280 3625h3v3h-3zM203 3482h3v3h-3zM225 3298h3v3h-3zM492 3677h3v3h-3zM349 3431h3v3h-3zM435 3530h3v3h-3zM370 3406h3v3h-3zM628 3506h3v3h-3zM371 3635h3v3h-3zM702 3445h3v3h-3zM199 3383h3v3h-3zM651 3317h3v3h-3zM293 3622h3v3h-3zM250 3650h3v3h-3zM307 3423h3v3h-3zM495 3288h3v3h-3zM588 3448h3v3h-3zM585 3608h3v3h-3zM230 3637h3v3h-3zM611 3352h3v3h-3zM494 3334h3v3h-3zM467 3602h3v3h-3zM384 3495h3v3h-3zM258 3657h3v3h-3zM512 3641h3v3h-3zM232 3599h3v3h-3zM237 3506h3v3h-3zM309 3676h3v3h-3zM245 3465h3v3h-3zM432 3422h3v3h-3zM224 3560h3v3h-3zM689 3410h3v3h-3zM651 3399h3v3h-3zM331 3456h3v3h-3zM689 3616h3v3h-3zM515 3252h3v3h-3zM422 3240h3v3h-3zM223 3418h3v3h-3zM316 3284h3v3h-3zM453 3617h3v3h-3zM665 3683h3v3h-3zM409 3321h3v3h-3zM684 3441h3v3h-3zM367 3638h3v3h-3zM477 3701h3v3h-3zM550 3697h3v3h-3zM269 3696h3v3h-3zM468 3575h3v3h-3zM345 3353h3v3h-3zM343 3316h3v3h-3zM683 3292h3v3h-3zM315 3544h3v3h-3zM296 3338h3v3h-3zM321 3348h3v3h-3zM196 3596h3v3h-3zM529 3385h3v3h-3zM651 3508h3v3h-3zM304 3707h3v3h-3zM309 3630h3v3h-3zM609 3234h3v3h-3zM625 3440h3v3h-3zM448 3697h3v3h-3zM422 3352h3v3h-3zM216 3668h3v3h-3zM424 3582h3v3h-3zM519 3714h3v3h-3zM670 3692h3v3h-3zM449 3680h3v3h-3zM348 3294h3v3h-3zM518 3247h3v3h-3zM689 3393h3v3h-3zM408 3376h3v3h-3zM356 3497h3v3h-3zM601 3240h3v3h-3zM367 3354h3v3h-3zM682 3449h3v3h-3zM418 3693h3v3h-3zM389 3422h3v3h-3zM395 3349h3v3h-3zM551 3374h3v3h-3zM452 3514h3v3h-3zM584 3596h3v3h-3zM437 3699h3v3h-3zM675 3693h3v3h-3zM557 3456h3v3h-3zM375 3655h3v3h-3zM433 3600h3v3h-3zM389 3412h3v3h-3zM200 3592h3v3h-3zM339 3476h3v3h-3zM563 3641h3v3h-3zM675 3559h3v3h-3zM310 3689h3v3h-3zM219 3436h3v3h-3zM665 3648h3v3h-3zM495 3659h3v3h-3zM282 3252h3v3h-3zM343 3690h3v3h-3zM211 3393h3v3h-3zM451 3334h3v3h-3zM637 3285h3v3h-3zM235 3723h3v3h-3zM197 3342h3v3h-3zM400 3665h3v3h-3zM363 3513h3v3h-3zM603 3537h3v3h-3zM616 3241h3v3h-3zM468 3243h3v3h-3zM628 3245h3v3h-3zM239 3444h3v3h-3zM509 3240h3v3h-3zM519 3283h3v3h-3zM357 3254h3v3h-3zM563 3641h3v3h-3zM585 3391h3v3h-3zM319 3706h3v3h-3zM609 3709h3v3h-3zM403 3665h3v3h-3zM538 3619h3v3h-3zM453 3618h3v3h-3zM446 3367h3v3h-3zM436 3253h3v3h-3zM536 3397h3v3h-3zM283 3622h3v3h-3zM460 3388h3v3h-3zM664 3693h3v3h-3zM409 3501h3v3h-3zM191 3408h3v3h-3zM697 3484h3v3h-3zM700 3247h3v3h-3zM200 3263h3v3h-3zM230 3604h3v3h-3zM697 3607h3v3h-3zM501 3420h3v3h-3zM386 3297h3v3h-3zM394 3293h3v3h-3zM606 3497h3v3h-3zM384 3651h3v3h-3zM345 3661h3v3h-3zM558 3541h3v3h-3zM495 3544h3v3h-3zM653 3722h3v3h-3zM477 3705h3v3h-3zM316 3688h3v3h-3zM643 3546h3v3h-3zM247 3669h3v3h-3zM385 3397h3v3h-3zM678 3276h3v3h-3zM521 3344h3v3h-3zM636 3339h3v3h-3zM245 3472h3v3h-3zM425 3602h3v3h-3zM335 3376h3v3h-3zM341 3503h3v3h-3zM258 3508h3v3h-3zM611 3571h3v3h-3zM322 3469h3v3h-3zM239 3465h3v3h-3zM580 3233h3v3h-3zM522 3685h3v3h-3zM334 3389h3v3h-3zM540 3309h3v3h-3zM329 3536h3v3h-3zM456 3315h3v3h-3zM293 3474h3v3h-3zM635 3332h3v3h-3zM542 3494h3v3h-3zM333 3436h3v3h-3zM612 3283h3v3h-3zM471 3468h3v3h-3zM247 3436h3v3h-3zM278 3431h3v3h-3zM206 3511h3v3h-3zM603 3662h3v3h-3zM669 3357h3v3h-3zM601 3409h3v3h-3zM557 3464h3v3h-3zM571 3429h3v3h-3zM682 3462h3v3h-3zM600 3321h3v3h-3zM564 3336h3v3h-3zM400 3419h3v3h-3zM532 3517h3v3h-3zM332 3691h3v3h-3zM212 3467h3v3h-3zM258 3286h3v3h-3zM303 3697h3v3h-3zM202 3586h3v3h-3zM487 3644h3v3h-3zM626 3293h3v3h-3zM664 3303h3v3h-3zM253 3350h3v3h-3zM549 3515h3v3h-3zM544 3339h3v3h-3zM434 3393h3v3h-3zM684 3512h3v3h-3zM549 3453h3v3h-3zM250 3280h3v3h-3zM306 3595h3v3h-3zM295 3469h3v3h-3zM366 3298h3v3h-3zM381 3474h3v3h-3zM661 3616h3v3h-3zM413 3377h3v3h-3zM313 3406h3v3h-3zM463 3710h3v3h-3zM229 3327h3v3h-3zM394 3511h3v3h-3zM225 3244h3v3h-3zM474 3241h3v3h-3zM612 3562h3v3h-3zM431 3723h3v3h-3zM438 3697h3v3h-3zM303 3271h3v3h-3zM405 3494h3v3h-3zM532 3295h3v3h-3zM554 3376h3v3h-3zM675 3624h3v3h-3zM587 3255h3v3h-3zM221 3249h3v3h-3zM418 3250h3v3h-3zM264 3261h3v3h-3zM700 3462h3v3h-3zM325 3307h3v3h-3zM334 3286h3v3h-3zM599 3687h3v3h-3zM608 3270h3v3h-3zM502 3652h3v3h-3zM393 3616h3v3h-3zM197 3488h3v3h-3zM572 3444h3v3h-3zM242 3710h3v3h-3zM607 3373h3v3h-3zM565 3315h3v3h-3zM506 3582h3v3h-3zM498 3448h3v3h-3zM613 3435h3v3h-3zM227 3308h3v3h-3zM268 3616h3v3h-3zM224 3707h3v3h-3zM486 3267h3v3h-3zM675 3719h3v3h-3zM311 3509h3v3h-3zM310 3299h3v3h-3zM230 3668h3v3h-3zM305 3333h3v3h-3zM281 3373h3v3h-3zM675 3336h3v3h-3zM285 3261h3v3h-3zM553 3284h3v3h-3zM611 3695h3v3h-3zM333 3463h3v3h-3zM602 3472h3v3h-3zM353 3682h3v3h-3zM703 3350h3v3h-3zM623 3251h3v3h-3zM614 3402h3v3h-3zM696 3246h3v3h-3zM298 3432h3v3h-3zM449 3613h3v3h-3zM259 3262h3v3h-3zM315 3282h3v3h-3zM676 3486h3v3h-3zM294 3391h3v3h-3zM326 3455h3v3h-3zM356 3541h3v3h-3zM301 3570h3v3h-3zM659 3603h3v3h-3zM233 3469h3v3h-3zM611 3268h3v3h-3zM672 3287h3v3h-3zM246 3237h3v3h-3zM631 3246h3v3h-3zM432 3523h3v3h-3zM439 3721h3v3h-3zM497 3235h3v3h-3zM394 3311h3v3h-3zM648 3345h3v3h-3zM531 3450h3v3h-3zM415 3497h3v3h-3zM321 3550h3v3h-3zM498 3631h3v3h-3zM609 3281h3v3h-3zM611 3391h3v3h-3zM689 3514h3v3h-3zM292 3488h3v3h-3zM470 3484h3v3h-3zM388 3520h3v3h-3zM468 3624h3v3h-3zM367 3457h3v3h-3zM196 3599h3v3h-3zM221 3662h3v3h-3zM456 3513h3v3h-3zM390 3504h3v3h-3zM242 3310h3v3h-3zM465 3380h3v3h-3zM449 3476h3v3h-3zM692 3552h3v3h-3zM201 3559h3v3h-3zM354 3323h3v3h-3zM378 3672h3v3h-3zM596 3458h3v3h-3zM632 3486h3v3h-3zM267 3580h3v3h-3zM633 3567h3v3h-3zM342 3467h3v3h-3zM258 3354h3v3h-3zM225 3707h3v3h-3zM560 3471h3v3h-3zM541 3574h3v3h-3zM432 3357h3v3h-3zM443 3498h3v3h-3zM385 3343h3v3h-3zM490 3552h3v3h-3zM309 3296h3v3h-3zM578 3717h3v3h-3zM565 3636h3v3h-3zM562 3424h3v3h-3zM488 3459h3v3h-3zM691 3288h3v3h-3zM700 3297h3v3h-3zM347 3513h3v3h-3zM673 3665h3v3h-3zM580 3548h3v3h-3zM577 3384h3v3h-3zM214 3522h3v3h-3zM302 3456h3v3h-3zM584 3713h3v3h-3zM257 3686h3v3h-3zM310 3487h3v3h-3zM601 3566h3v3h-3zM386 3672h3v3h-3zM278 3638h3v3h-3zM696 3647h3v3h-3zM250 3424h3v3h-3zM241 3403h3v3h-3zM396 3311h3v3h-3zM427 3642h3v3h-3zM530 3381h3v3h-3zM252 3288h3v3h-3zM608 3360h3v3h-3zM476 3328h3v3h-3zM549 3275h3v3h-3zM433 3449h3v3h-3zM453 3336h3v3h-3zM541 3704h3v3h-3zM299 3269h3v3h-3zM333 3400h3v3h-3zM633 3249h3v3h-3zM213 3495h3v3h-3zM430 3337h3v3h-3zM542 3427h3v3h-3zM687 3340h3v3h-3zM460 3296h3v3h-3zM243 3702h3v3h-3zM645 3599h3v3h-3zM448 3563h3v3h-3zM307 3323h3v3h-3zM303 3365h3v3h-3zM395 3480h3v3h-3zM329 3406h3v3h-3zM600 3625h3v3h-3zM320 3510h3v3h-3zM246 3541h3v3h-3zM509 3321h3v3h-3zM622 3533h3v3h-3zM686 3365h3v3h-3zM269 3615h3v3h-3zM575 3346h3v3h-3zM418 3319h3v3h-3zM428 3714h3v3h-3zM326 3409h3v3h-3zM634 3718h3v3h-3zM454 3504h3v3h-3zM450 3578h3v3h-3zM657 3683h3v3h-3zM481 3459h3v3h-3zM628 3564h3v3h-3zM698 3283h3v3h-3zM568 3626h3v3h-3zM371 3238h3v3h-3zM363 3710h3v3h-3zM580 3399h3v3h-3zM626 3275h3v3h-3zM569 3504h3v3h-3zM696 3378h3v3h-3zM369 3406h3v3h-3zM416 3460h3v3h-3zM289 3452h3v3h-3zM218 3540h3v3h-3zM619 3392h3v3h-3zM421 3708h3v3h-3zM619 3571h3v3h-3zM487 3707h3v3h-3zM434 3537h3v3h-3zM644 3409h3v3h-3zM410 3557h3v3h-3zM557 3577h3v3h-3zM399 3370h3v3h-3zM585 3587h3v3h-3zM457 3359h3v3h-3zM227 3487h3v3h-3zM656 3659h3v3h-3zM573 3441h3v3h-3zM636 3665h3v3h-3zM348 3496h3v3h-3zM378 3328h3v3h-3zM442 3343h3v3h-3zM676 3713h3v3h-3zM323 3315h3v3h-3zM292 3684h3v3h-3zM360 3638h3v3h-3zM701 3402h3v3h-3zM623 3284h3v3h-3zM213 3564h3v3h-3zM350 3347h3v3h-3zM450 3622h3v3h-3zM417 3504h3v3h-3zM579 3278h3v3h-3zM451 3251h3v3h-3zM295 3294h3v3h-3zM283 3685h3v3h-3zM200 3471h3v3h-3zM230 3238h3v3h-3zM665 3480h3v3h-3zM630 3542h3v3h-3zM485 3610h3v3h-3zM194 3335h3v3h-3zM539 3721h3v3h-3zM289 3427h3v3h-3zM539 3514h3v3h-3zM566 3256h3v3h-3zM315 3565h3v3h-3zM571 3559h3v3h-3zM603 3627h3v3h-3zM191 3382h3v3h-3zM228 3294h3v3h-3zM562 3423h3v3h-3zM642 3246h3v3h-3zM424 3712h3v3h-3zM378 3569h3v3h-3zM636 3628h3v3h-3zM357 3452h3v3h-3zM586 3493h3v3h-3zM409 3697h3v3h-3zM322 3575h3v3h-3zM372 3540h3v3h-3zM578 3670h3v3h-3zM603 3479h3v3h-3zM488 3571h3v3h-3zM577 3686h3v3h-3zM199 3244h3v3h-3zM683 3548h3v3h-3zM240 3381h3v3h-3zM263 3387h3v3h-3zM263 3590h3v3h-3zM268 3456h3v3h-3zM220 3427h3v3h-3zM324 3498h3v3h-3zM326 3339h3v3h-3zM371 3697h3v3h-3zM698 3311h3v3h-3zM570 3261h3v3h-3zM351 3616h3v3h-3zM564 3574h3v3h-3zM443 3451h3v3h-3zM217 3557h3v3h-3zM519 3416h3v3h-3zM266 3360h3v3h-3zM603 3277h3v3h-3zM497 3610h3v3h-3zM575 3415h3v3h-3zM542 3337h3v3h-3zM330 3547h3v3h-3zM248 3485h3v3h-3zM542 3252h3v3h-3zM214 3632h3v3h-3zM598 3708h3v3h-3zM248 3646h3v3h-3zM481 3505h3v3h-3zM283 3412h3v3h-3zM288 3243h3v3h-3zM551 3281h3v3h-3zM236 3617h3v3h-3zM615 3283h3v3h-3zM418 3308h3v3h-3zM366 3458h3v3h-3zM336 3400h3v3h-3zM426 3585h3v3h-3zM294 3315h3v3h-3zM428 3377h3v3h-3zM312 3309h3v3h-3zM609 3628h3v3h-3zM251 3554h3v3h-3zM417 3265h3v3h-3zM230 3724h3v3h-3zM245 3487h3v3h-3zM551 3601h3v3h-3zM554 3270h3v3h-3zM386 3287h3v3h-3zM559 3622h3v3h-3zM310 3520h3v3h-3zM318 3414h3v3h-3zM287 3394h3v3h-3zM268 3240h3v3h-3zM394 3639h3v3h-3zM513 3558h3v3h-3zM429 3316h3v3h-3zM322 3281h3v3h-3zM501 3312h3v3h-3zM532 3247h3v3h-3zM564 3354h3v3h-3zM274 3458h3v3h-3zM304 3619h3v3h-3zM527 3457h3v3h-3zM464 3609h3v3h-3zM525 3443h3v3h-3zM476 3448h3v3h-3zM515 3630h3v3h-3zM585 3701h3v3h-3zM203 3267h3v3h-3zM249 3699h3v3h-3zM382 3476h3v3h-3zM421 3462h3v3h-3zM535 3539h3v3h-3zM298 3473h3v3h-3zM625 3457h3v3h-3zM427 3375h3v3h-3zM400 3423h3v3h-3zM287 3528h3v3h-3zM226 3354h3v3h-3zM199 3630h3v3h-3zM411 3420h3v3h-3zM635 3602h3v3h-3zM318 3543h3v3h-3zM331 3411h3v3h-3zM242 3484h3v3h-3zM519 3359h3v3h-3zM375 3355h3v3h-3zM541 3687h3v3h-3zM629 3607h3v3h-3zM601 3431h3v3h-3zM350 3670h3v3h-3zM692 3585h3v3h-3zM320 3264h3v3h-3zM518 3271h3v3h-3zM627 3322h3v3h-3zM334 3287h3v3h-3zM589 3321h3v3h-3zM278 3409h3v3h-3zM254 3267h3v3h-3zM660 3435h3v3h-3zM318 3319h3v3h-3zM569 3248h3v3h-3zM453 3447h3v3h-3zM467 3406h3v3h-3zM660 3260h3v3h-3zM579 3307h3v3h-3zM219 3283h3v3h-3zM331 3470h3v3h-3zM312 3318h3v3h-3zM259 3631h3v3h-3zM651 3374h3v3h-3zM581 3561h3v3h-3zM627 3683h3v3h-3zM486 3349h3v3h-3zM397 3487h3v3h-3zM225 3378h3v3h-3zM244 3587h3v3h-3zM312 3310h3v3h-3zM336 3535h3v3h-3zM549 3413h3v3h-3zM385 3250h3v3h-3zM434 3544h3v3h-3zM474 3544h3v3h-3zM472 3638h3v3h-3zM634 3478h3v3h-3zM628 3314h3v3h-3zM284 3674h3v3h-3zM358 3418h3v3h-3zM251 3516h3v3h-3zM560 3271h3v3h-3zM340 3258h3v3h-3zM409 3346h3v3h-3zM492 3567h3v3h-3zM408 3475h3v3h-3zM689 3564h3v3h-3zM243 3615h3v3h-3zM427 3668h3v3h-3zM264 3467h3v3h-3zM691 3621h3v3h-3zM619 3681h3v3h-3zM633 3561h3v3h-3zM221 3595h3v3h-3zM444 3272h3v3h-3zM261 3690h3v3h-3zM193 3342h3v3h-3zM604 3707h3v3h-3zM311 3710h3v3h-3zM504 3454h3v3h-3zM443 3458h3v3h-3zM479 3294h3v3h-3zM612 3429h3v3h-3zM377 3326h3v3h-3zM291 3522h3v3h-3zM661 3319h3v3h-3zM575 3658h3v3h-3zM472 3666h3v3h-3zM651 3547h3v3h-3zM588 3455h3v3h-3zM252 3442h3v3h-3zM427 3350h3v3h-3zM299 3440h3v3h-3zM684 3720h3v3h-3zM276 3646h3v3h-3zM342 3433h3v3h-3zM643 3565h3v3h-3zM637 3284h3v3h-3zM438 3341h3v3h-3zM569 3249h3v3h-3zM412 3580h3v3h-3zM526 3517h3v3h-3zM703 3321h3v3h-3zM471 3325h3v3h-3zM333 3547h3v3h-3zM493 3442h3v3h-3zM237 3465h3v3h-3zM476 3551h3v3h-3zM510 3369h3v3h-3zM488 3561h3v3h-3zM343 3646h3v3h-3zM269 3720h3v3h-3zM682 3723h3v3h-3zM197 3433h3v3h-3zM238 3588h3v3h-3zM490 3588h3v3h-3zM559 3239h3v3h-3zM628 3700h3v3h-3zM505 3367h3v3h-3zM677 3498h3v3h-3zM653 3535h3v3h-3zM694 3497h3v3h-3zM317 3241h3v3h-3zM248 3356h3v3h-3zM346 3682h3v3h-3zM260 3369h3v3h-3zM483 3465h3v3h-3zM420 3247h3v3h-3zM258 3377h3v3h-3zM631 3545h3v3h-3zM591 3310h3v3h-3zM687 3640h3v3h-3zM414 3705h3v3h-3zM435 3393h3v3h-3zM563 3308h3v3h-3zM550 3321h3v3h-3zM665 3546h3v3h-3zM636 3670h3v3h-3zM534 3519h3v3h-3zM306 3609h3v3h-3zM606 3453h3v3h-3zM205 3373h3v3h-3zM495 3554h3v3h-3zM629 3238h3v3h-3zM527 3367h3v3h-3zM340 3598h3v3h-3zM407 3458h3v3h-3zM529 3649h3v3h-3zM686 3395h3v3h-3zM431 3299h3v3h-3zM337 3526h3v3h-3zM430 3389h3v3h-3zM524 3650h3v3h-3zM350 3431h3v3h-3zM482 3698h3v3h-3zM507 3329h3v3h-3zM406 3362h3v3h-3zM391 3506h3v3h-3zM399 3379h3v3h-3zM288 3339h3v3h-3zM448 3291h3v3h-3zM306 3657h3v3h-3zM281 3654h3v3h-3zM476 3387h3v3h-3zM386 3302h3v3h-3zM593 3365h3v3h-3zM455 3641h3v3h-3zM493 3421h3v3h-3zM541 3654h3v3h-3zM451 3453h3v3h-3zM483 3306h3v3h-3zM591 3523h3v3h-3zM271 3309h3v3h-3zM603 3692h3v3h-3zM394 3239h3v3h-3zM688 3253h3v3h-3zM690 3482h3v3h-3zM646 3334h3v3h-3zM465 3505h3v3h-3zM640 3717h3v3h-3zM258 3587h3v3h-3zM238 3679h3v3h-3zM687 3459h3v3h-3zM443 3412h3v3h-3zM474 3384h3v3h-3zM352 3301h3v3h-3z" fill="#6e6a80" opacity="0.7"/>
<path d="M575 3551L595 3567L569 3576ZM529 3583L521 3573L520 3564L527 3572ZM682 3486L660 3475L683 3467ZM638 3546L613 3544L603 3534L619 3533ZM465 3573L456 3558L459 3540L468 3556ZM308 3334L314 3320L330 3310L322 3326ZM392 3442L404 3445L408 3459L392 3461ZM640 3544L636 3519L660 3526ZM592 3251L616 3279L582 3283ZM325 3221L342 3220L335 3236ZM197 3729L210 3717L218 3729L209 3738ZM452 3580L437 3597L429 3580ZM439 3416L417 3419L421 3399ZM395 3565L387 3563L379 3550L391 3556ZM658 3591L676 3589L675 3611ZM462 3535L444 3535L451 3524ZM653 3245L660 3226L669 3221L666 3233ZM643 3694L640 3712L628 3702ZM288 3395L273 3391L252 3374L275 3383ZM647 3714L651 3696L657 3690L656 3701ZM487 3441L478 3453L468 3447L472 3436ZM324 3694L346 3685L360 3685L346 3693ZM650 3720L630 3747L623 3719ZM678 3684L683 3703L669 3695ZM371 3505L353 3493L376 3481ZM487 3346L484 3355L472 3352L474 3341ZM618 3334L613 3313L615 3301L619 3314ZM334 3681L341 3660L352 3655L349 3669ZM617 3605L616 3579L637 3587ZM357 3469L331 3459L351 3441ZM610 3634L613 3615L629 3623ZM589 3316L578 3309L588 3299L595 3307ZM307 3607L295 3598L314 3588ZM571 3578L577 3571L593 3571L582 3580ZM393 3558L382 3553L371 3536L386 3546ZM623 3362L613 3363L603 3353L616 3353ZM478 3493L498 3492L486 3512ZM601 3370L586 3368L562 3355L586 3361ZM573 3411L584 3417L580 3429L566 3426ZM664 3258L674 3246L680 3267ZM387 3293L380 3264L384 3251L391 3268ZM657 3268L641 3263L634 3256L645 3258ZM356 3471L356 3456L366 3438L365 3457ZM275 3257L250 3260L260 3233ZM288 3717L304 3700L317 3697L308 3710ZM448 3485L464 3501L448 3515ZM290 3726L314 3712L330 3714L315 3724ZM466 3691L466 3655L490 3670ZM240 3334L229 3337L218 3334L229 3331ZM257 3739L254 3730L258 3715L261 3729ZM479 3534L471 3518L472 3502L480 3517ZM510 3297L501 3292L495 3279L505 3287ZM384 3285L368 3284L351 3273L370 3275ZM297 3306L308 3274L318 3312ZM253 3274L268 3262L274 3283ZM648 3345L671 3335L685 3338L670 3346ZM290 3341L313 3345L302 3362ZM459 3689L443 3703L439 3689ZM305 3280L315 3266L333 3258L321 3273ZM236 3342L230 3358L219 3340ZM387 3282L408 3263L419 3288ZM604 3448L610 3426L625 3437ZM404 3581L416 3571L428 3571L419 3581ZM318 3326L307 3306L306 3287L317 3304ZM437 3569L456 3573L442 3585ZM599 3547L584 3528L603 3529ZM389 3370L371 3364L360 3351L377 3357ZM563 3243L579 3254L561 3266ZM584 3338L595 3334L602 3343L592 3348ZM228 3736L237 3714L256 3733ZM380 3468L356 3472L358 3446ZM324 3494L349 3504L324 3521ZM577 3386L585 3370L598 3367L592 3380ZM630 3258L619 3256L602 3240L621 3247ZM431 3586L451 3574L460 3588L445 3602ZM664 3420L649 3434L637 3425L648 3410ZM276 3598L280 3607L267 3609L264 3599ZM655 3736L634 3731L627 3722L640 3725ZM712 3692L692 3695L694 3677ZM271 3482L271 3467L277 3457L278 3469ZM575 3321L573 3303L593 3303ZM234 3384L227 3406L218 3389ZM618 3707L637 3691L641 3715ZM693 3245L669 3232L693 3220ZM537 3469L527 3472L524 3465L532 3458Z" fill="#3c1e9e"/>
<path d="M298 3544L306 3534L316 3534L310 3543ZM182 3302L199 3283L215 3276L203 3291ZM503 3500L498 3489L508 3481L514 3493ZM501 3694L493 3684L498 3674L505 3682ZM577 3317L596 3320L586 3338ZM576 3483L576 3504L559 3488ZM234 3314L222 3302L212 3282L227 3297ZM554 3559L582 3541L577 3565ZM449 3535L439 3515L439 3505L446 3516ZM350 3434L338 3427L332 3414L344 3421ZM543 3526L525 3519L535 3503ZM681 3683L663 3679L653 3669L668 3671ZM249 3485L228 3481L211 3470L231 3473ZM294 3312L293 3299L301 3287L301 3301ZM549 3394L564 3382L565 3404ZM715 3574L696 3562L712 3554ZM448 3579L441 3559L443 3539L450 3558ZM672 3712L661 3695L662 3684L670 3694ZM260 3276L287 3281L275 3307ZM424 3408L405 3409L413 3392L425 3396ZM495 3404L519 3410L498 3434ZM302 3623L294 3606L290 3582L299 3603ZM611 3395L600 3385L599 3369L611 3379ZM290 3222L300 3231L288 3246L278 3235ZM295 3343L328 3341L317 3370ZM398 3645L382 3636L376 3621L391 3628ZM251 3278L263 3267L279 3264L267 3275ZM689 3608L703 3598L725 3597L707 3608ZM644 3344L645 3357L626 3360L626 3340ZM381 3291L375 3282L379 3270L385 3281ZM315 3638L330 3611L339 3637ZM686 3440L678 3427L678 3410L686 3424ZM211 3381L224 3363L234 3383ZM664 3464L680 3482L661 3488ZM254 3467L229 3482L223 3459ZM682 3261L701 3246L717 3246L704 3258ZM669 3506L666 3496L677 3492L682 3507ZM269 3273L250 3275L256 3264ZM676 3287L680 3315L654 3295ZM290 3492L275 3489L256 3476L276 3481ZM620 3550L608 3566L604 3549ZM701 3276L688 3276L662 3262L687 3265ZM509 3572L523 3582L503 3597ZM257 3315L238 3313L249 3289ZM173 3425L178 3414L191 3415L185 3430ZM597 3233L608 3219L611 3236ZM528 3252L540 3249L543 3259L529 3261ZM538 3536L523 3527L514 3505L532 3518ZM433 3464L442 3440L450 3430L445 3446ZM243 3716L241 3697L244 3687L247 3700ZM617 3223L616 3244L597 3227ZM268 3653L256 3648L255 3631L275 3633ZM246 3573L255 3547L265 3535L260 3553ZM396 3273L380 3260L375 3247L389 3255ZM318 3613L330 3623L319 3636L307 3624ZM624 3724L648 3707L649 3736ZM451 3305L464 3298L472 3314L457 3325ZM656 3439L657 3423L661 3417L662 3426ZM248 3652L225 3647L240 3628ZM379 3645L402 3632L403 3670ZM432 3470L411 3454L405 3439L421 3449ZM717 3594L726 3606L709 3617L701 3600ZM599 3323L578 3351L576 3319ZM605 3451L618 3441L620 3461ZM474 3445L463 3443L456 3433L468 3435ZM229 3250L214 3244L219 3234L237 3242ZM414 3520L407 3502L410 3492L415 3503ZM691 3419L684 3430L676 3422L682 3409ZM667 3371L646 3377L660 3342ZM353 3334L362 3313L377 3299L368 3318ZM594 3583L577 3581L581 3565ZM593 3554L587 3529L610 3536ZM327 3248L321 3236L318 3212L326 3232ZM697 3641L697 3614L717 3626ZM385 3435L386 3448L370 3447L371 3433ZM637 3662L653 3645L669 3637L656 3651ZM297 3364L273 3375L277 3351ZM552 3478L563 3466L587 3460L570 3474ZM697 3438L695 3460L672 3438ZM278 3262L283 3250L293 3258L286 3269ZM691 3487L701 3484L707 3498L697 3501ZM686 3327L676 3323L671 3311L682 3317ZM557 3681L526 3675L551 3660ZM570 3544L538 3553L550 3522ZM604 3391L604 3406L587 3404L590 3385ZM246 3298L238 3288L238 3278L245 3286ZM572 3274L578 3258L597 3241L587 3262ZM226 3649L228 3639L240 3626L235 3641ZM696 3474L712 3485L687 3504ZM520 3524L509 3504L508 3492L516 3505ZM482 3386L474 3376L467 3356L478 3372ZM656 3383L645 3368L667 3364ZM283 3337L300 3324L301 3339ZM372 3262L339 3263L355 3243ZM634 3558L624 3558L612 3542L628 3547ZM217 3427L223 3391L242 3406ZM356 3670L351 3642L377 3654ZM707 3338L684 3352L681 3322ZM449 3453L456 3439L468 3461ZM593 3392L575 3375L571 3365L582 3374ZM430 3655L435 3646L455 3636L442 3650ZM666 3708L682 3700L696 3702L683 3710ZM676 3517L662 3511L663 3496L675 3499ZM323 3633L320 3605L342 3617ZM258 3610L262 3597L274 3587L269 3602ZM469 3538L461 3521L478 3524ZM248 3556L260 3577L235 3582Z" fill="#4626a8"/>
<path d="M609 3340L632 3324L628 3356ZM543 3253L532 3249L518 3234L534 3242ZM549 3298L534 3271L556 3274ZM313 3512L310 3523L301 3520L303 3510ZM666 3577L651 3599L642 3578ZM315 3566L304 3573L296 3567L302 3558ZM482 3301L487 3293L503 3294L492 3304ZM693 3381L682 3382L690 3368ZM289 3366L279 3353L275 3338L284 3351ZM662 3700L651 3686L645 3662L658 3681ZM261 3552L251 3566L237 3557L248 3544ZM241 3701L253 3712L241 3725L231 3712ZM264 3515L253 3505L248 3484L262 3498ZM655 3402L673 3395L688 3396L673 3403ZM600 3707L613 3687L625 3699ZM421 3705L421 3724L403 3718ZM645 3514L636 3511L636 3495L646 3504ZM677 3377L665 3366L682 3363ZM271 3708L289 3718L283 3731L265 3722ZM228 3614L208 3607L230 3590ZM432 3387L422 3398L410 3396L416 3380ZM349 3384L360 3379L373 3380L361 3386ZM461 3262L453 3242L453 3229L460 3243ZM494 3541L503 3531L515 3546L506 3555ZM384 3311L390 3301L405 3290L395 3304ZM193 3214L207 3224L199 3234L190 3227ZM638 3644L622 3661L612 3640ZM196 3632L188 3606L210 3614ZM427 3272L408 3251L424 3242ZM591 3734L601 3724L618 3723L606 3734ZM515 3630L533 3622L551 3625L534 3632ZM558 3606L553 3588L554 3568L559 3587ZM320 3675L334 3676L333 3689L321 3690ZM414 3514L410 3496L415 3473L419 3495ZM475 3492L464 3493L448 3487L464 3486ZM674 3380L665 3376L662 3362L673 3369ZM530 3508L513 3489L537 3493ZM253 3638L252 3657L236 3642ZM585 3348L577 3339L588 3329L598 3338ZM341 3488L354 3491L354 3508L339 3505ZM257 3701L245 3698L235 3685L249 3690ZM365 3547L376 3529L388 3544ZM348 3359L353 3342L369 3321L360 3344ZM269 3703L253 3692L247 3682L259 3688ZM616 3603L646 3612L620 3621ZM456 3538L441 3538L437 3530L447 3529ZM533 3619L553 3604L548 3629ZM502 3702L489 3713L478 3697L492 3685ZM584 3308L562 3301L584 3288ZM326 3403L305 3388L326 3382ZM627 3410L623 3391L626 3370L629 3391ZM581 3618L577 3606L591 3604L590 3616ZM647 3636L645 3626L657 3613L657 3629ZM445 3454L469 3475L434 3480ZM671 3368L668 3346L676 3327L678 3348ZM658 3388L655 3378L659 3368L663 3379ZM667 3433L642 3430L648 3415ZM439 3364L474 3382L444 3394ZM266 3511L290 3528L258 3543ZM632 3318L631 3302L638 3282L638 3302ZM703 3588L700 3576L710 3559L711 3577ZM517 3685L511 3678L516 3664L522 3676ZM556 3516L544 3505L554 3495L565 3509ZM580 3330L582 3348L561 3350L567 3333ZM603 3534L585 3534L576 3528L589 3527ZM563 3480L570 3474L587 3475L574 3482ZM562 3432L550 3433L528 3428L548 3428ZM499 3510L493 3492L498 3473L504 3491ZM598 3517L606 3508L620 3506L610 3515ZM539 3551L530 3553L515 3546L530 3546ZM206 3693L226 3674L236 3698ZM672 3433L687 3424L708 3420L690 3429ZM456 3452L435 3447L419 3432L440 3437ZM264 3540L280 3553L268 3562ZM640 3258L625 3252L604 3234L626 3245ZM612 3428L599 3429L584 3421L600 3420ZM653 3264L655 3250L667 3252ZM588 3600L576 3596L562 3581L579 3589ZM433 3452L453 3446L468 3447L452 3452ZM339 3710L335 3726L315 3708ZM621 3624L605 3609L623 3602ZM695 3709L711 3711L710 3725L693 3722ZM612 3577L606 3569L609 3556L615 3567ZM335 3558L334 3532L351 3541ZM566 3562L586 3545L592 3577ZM208 3455L190 3457L203 3437ZM664 3371L653 3354L652 3343L660 3354ZM679 3563L676 3552L685 3531L686 3550ZM396 3497L383 3474L404 3474ZM604 3383L592 3378L580 3356L598 3369ZM576 3270L580 3289L563 3280ZM313 3349L290 3347L276 3338L294 3339ZM405 3327L405 3315L419 3299L414 3317ZM450 3461L462 3450L484 3438L467 3453ZM669 3408L648 3395L671 3379ZM451 3415L445 3442L429 3422ZM652 3444L661 3459L651 3468L642 3450ZM377 3416L360 3433L348 3413ZM675 3298L691 3286L709 3285L695 3296ZM310 3248L325 3259L310 3270ZM514 3274L497 3261L512 3254ZM616 3322L606 3331L599 3324L606 3311ZM638 3348L639 3322L645 3309L646 3326ZM360 3408L347 3398L338 3376L354 3391ZM657 3466L671 3451L683 3469Z" fill="#331895"/>
<path d="M250 3263L230 3255L223 3243L238 3248ZM329 3478L322 3463L324 3453L330 3463ZM394 3377L413 3356L419 3375ZM502 3391L522 3401L504 3414ZM649 3210L678 3228L647 3241ZM325 3316L307 3299L301 3283L316 3294ZM526 3315L536 3287L549 3310ZM366 3541L356 3537L345 3520L360 3530ZM658 3470L668 3461L675 3476L667 3482ZM378 3524L361 3524L355 3516L366 3514ZM667 3419L667 3401L674 3389L675 3404ZM253 3464L254 3478L239 3480L241 3463ZM689 3557L678 3563L676 3551L685 3549ZM634 3306L626 3343L608 3320ZM586 3436L581 3414L614 3421ZM459 3593L466 3616L447 3620L445 3600ZM392 3472L383 3461L386 3452L393 3460ZM323 3672L322 3646L328 3635L330 3651ZM240 3704L250 3698L270 3700L253 3707ZM313 3273L330 3291L302 3293ZM512 3367L497 3349L533 3339ZM528 3648L543 3664L520 3659ZM719 3237L705 3242L678 3235L702 3230ZM197 3626L184 3626L169 3615L186 3616ZM263 3300L273 3308L265 3318L254 3307ZM183 3313L201 3310L188 3328ZM214 3632L222 3615L238 3628L233 3640ZM415 3284L417 3270L430 3282ZM668 3400L665 3380L669 3370L673 3382ZM491 3586L491 3570L502 3558L502 3574ZM646 3392L651 3386L667 3382L655 3391ZM341 3403L325 3394L321 3384L333 3389ZM526 3246L505 3248L496 3240L509 3237ZM608 3370L614 3356L628 3368ZM590 3319L572 3304L562 3288L578 3300ZM619 3651L607 3648L590 3629L610 3637ZM367 3485L363 3460L381 3461ZM189 3284L188 3262L192 3251L194 3265ZM472 3586L466 3576L468 3556L474 3573ZM500 3523L513 3521L513 3534L503 3536ZM384 3444L384 3421L389 3408L390 3424ZM597 3422L613 3415L611 3433ZM518 3739L515 3725L528 3712L538 3733ZM306 3410L327 3423L311 3449ZM286 3650L282 3635L289 3630L294 3639ZM670 3432L665 3420L671 3412L677 3421ZM596 3743L596 3722L619 3733ZM716 3347L709 3349L696 3343L709 3342ZM600 3550L585 3531L581 3515L593 3529ZM641 3247L645 3229L658 3231L655 3246ZM222 3373L220 3351L245 3368ZM555 3554L581 3577L552 3589ZM394 3648L390 3628L409 3623L410 3641ZM602 3302L586 3293L578 3278L593 3286ZM627 3550L613 3543L628 3526L639 3538ZM662 3568L675 3546L690 3570ZM550 3636L558 3619L569 3634ZM556 3493L556 3472L580 3482ZM359 3245L390 3251L363 3266ZM572 3509L582 3497L607 3484L590 3502ZM217 3723L213 3705L219 3688L222 3706ZM435 3459L407 3458L424 3441ZM412 3555L420 3584L385 3576ZM310 3396L302 3382L300 3360L310 3378ZM530 3521L551 3508L566 3509L553 3520ZM611 3355L593 3367L587 3354ZM220 3383L231 3375L248 3377L234 3386ZM669 3521L654 3513L641 3494L659 3506ZM236 3715L224 3709L230 3699L241 3705ZM683 3379L694 3368L710 3363L699 3375ZM335 3409L322 3409L316 3403L325 3401ZM427 3507L441 3502L443 3526L430 3527ZM469 3449L485 3457L477 3475L456 3465ZM530 3329L530 3317L538 3306L538 3319ZM346 3260L331 3248L323 3232L337 3243ZM582 3241L583 3230L594 3222L592 3234ZM260 3394L249 3381L267 3374L272 3386ZM238 3697L239 3680L254 3693ZM569 3545L569 3524L591 3527ZM699 3570L686 3573L679 3565L690 3562ZM505 3427L493 3429L492 3414L503 3413ZM319 3703L305 3698L287 3683L307 3692ZM647 3341L623 3335L610 3325L628 3329ZM212 3259L226 3257L223 3273ZM265 3442L262 3432L267 3419L270 3432ZM230 3724L242 3712L251 3725L238 3735ZM234 3691L219 3702L212 3686L229 3679ZM672 3481L698 3468L711 3470L697 3479ZM383 3472L360 3467L349 3458L366 3459ZM308 3362L314 3333L342 3354ZM375 3449L367 3443L362 3423L373 3437ZM478 3426L503 3428L480 3449ZM419 3433L427 3417L444 3403L434 3422ZM316 3460L308 3453L307 3438L317 3448ZM671 3382L684 3405L659 3410ZM483 3460L472 3453L465 3439L477 3448ZM572 3422L558 3427L561 3411ZM591 3543L601 3522L620 3541ZM639 3723L622 3693L655 3693ZM312 3294L307 3286L307 3273L313 3284ZM286 3365L299 3378L279 3375ZM197 3471L221 3464L234 3464L219 3470ZM686 3289L683 3264L711 3271ZM236 3269L245 3258L249 3269ZM357 3469L355 3448L358 3429L361 3449ZM508 3321L520 3343L503 3343ZM517 3568L504 3561L500 3552L511 3556Z" fill="#5232ae"/>
<path d="M581 3257L564 3245L583 3237ZM680 3706L693 3699L707 3699L695 3707ZM584 3227L574 3231L557 3222L573 3220ZM657 3239L654 3227L656 3213L659 3226ZM705 3406L718 3422L694 3432ZM390 3421L369 3420L351 3407L373 3409ZM349 3563L340 3560L335 3543L348 3552ZM428 3332L426 3348L412 3343ZM318 3238L324 3252L312 3260L302 3246ZM425 3315L443 3300L457 3296L445 3307ZM659 3569L679 3576L657 3596ZM611 3720L590 3736L584 3700ZM507 3695L529 3703L510 3710ZM423 3717L420 3706L427 3701L434 3711ZM476 3412L474 3433L456 3433L456 3410ZM554 3288L569 3304L553 3309ZM323 3234L327 3225L341 3222L333 3233ZM575 3299L578 3279L597 3289ZM513 3554L489 3549L477 3542L494 3544ZM290 3729L300 3713L320 3701L307 3719ZM370 3248L379 3233L388 3247ZM637 3621L629 3629L621 3622L631 3613ZM243 3583L255 3589L248 3601L240 3594ZM647 3392L634 3397L630 3387L644 3385ZM483 3435L480 3412L497 3428ZM527 3563L530 3550L543 3550L538 3564ZM422 3443L423 3458L412 3457L413 3442ZM694 3590L678 3614L668 3590ZM542 3339L521 3324L549 3312ZM664 3306L674 3295L687 3294L678 3304ZM295 3508L310 3504L333 3507L312 3511ZM664 3448L644 3451L635 3444L648 3440ZM543 3279L538 3270L540 3257L545 3268ZM288 3415L289 3393L306 3407ZM425 3513L439 3496L449 3516ZM357 3426L361 3409L375 3422ZM504 3323L491 3321L483 3314L494 3316ZM194 3289L190 3279L193 3256L198 3276ZM662 3531L689 3530L671 3560ZM668 3281L667 3259L686 3275ZM398 3215L426 3219L404 3238ZM403 3649L392 3642L380 3622L396 3635ZM446 3591L441 3602L427 3596L431 3585ZM395 3245L395 3235L403 3220L402 3235ZM638 3406L615 3422L620 3400ZM227 3393L210 3366L238 3367ZM676 3434L671 3418L677 3401L682 3418ZM667 3370L686 3389L655 3395ZM564 3484L563 3460L592 3469ZM708 3379L703 3370L709 3355L714 3369ZM626 3354L631 3344L649 3334L639 3348ZM191 3550L175 3539L183 3526L198 3530ZM558 3454L545 3455L531 3448L546 3447ZM449 3611L459 3602L469 3603L462 3611ZM636 3325L644 3344L624 3346L618 3335ZM623 3469L635 3458L652 3456L640 3468ZM292 3230L297 3261L275 3256ZM430 3623L417 3619L410 3607L423 3611ZM305 3319L291 3336L283 3315ZM696 3686L704 3669L716 3690ZM399 3352L389 3353L378 3345L391 3343ZM321 3268L316 3250L322 3242L327 3253ZM344 3295L355 3289L378 3290L359 3297ZM496 3296L501 3279L518 3264L511 3284ZM429 3602L424 3571L445 3584ZM439 3702L451 3683L460 3677L454 3689ZM360 3494L380 3482L391 3481L380 3489ZM690 3385L703 3373L714 3391ZM536 3250L549 3235L562 3233L553 3245ZM479 3602L487 3599L492 3609L479 3612ZM385 3473L394 3458L411 3469L399 3483ZM660 3320L647 3323L635 3316L648 3312ZM177 3567L194 3565L184 3584ZM627 3380L633 3366L644 3359L640 3372ZM305 3280L299 3266L312 3266L313 3281ZM391 3638L409 3666L383 3670ZM214 3586L219 3600L207 3601L204 3588ZM310 3499L290 3505L294 3491ZM707 3548L690 3562L688 3542ZM534 3465L531 3455L539 3451L542 3463ZM544 3430L534 3410L557 3410ZM561 3245L573 3232L591 3225L578 3239ZM326 3238L313 3218L332 3222ZM387 3302L402 3289L418 3312ZM261 3327L248 3322L240 3306L255 3313ZM371 3444L360 3434L359 3420L370 3429ZM516 3264L502 3276L503 3261ZM623 3726L638 3720L661 3719L641 3726ZM521 3270L537 3263L556 3265L539 3273ZM471 3526L480 3512L492 3528L481 3534Z" fill="#3f22a2"/>
<path d="M225 3682L213 3684L212 3671L225 3670ZM219 3328L217 3316L224 3297L225 3315ZM381 3393L364 3387L357 3376L371 3380ZM364 3662L365 3687L344 3680ZM216 3364L213 3344L221 3332L225 3348ZM632 3744L629 3733L634 3716L637 3732ZM280 3314L271 3295L273 3283L281 3295ZM572 3681L559 3669L580 3656ZM256 3269L282 3271L265 3292ZM319 3438L326 3456L307 3450ZM217 3424L227 3416L246 3413L231 3423ZM501 3483L524 3509L494 3507ZM320 3275L316 3297L293 3281ZM678 3311L676 3331L661 3317ZM336 3451L363 3463L334 3477ZM447 3630L469 3616L487 3615L471 3627ZM320 3703L304 3681L340 3690ZM598 3390L602 3382L616 3381L608 3391ZM442 3457L439 3446L443 3434L446 3446ZM224 3487L233 3479L246 3480L237 3488ZM297 3499L315 3517L293 3522ZM338 3325L351 3318L376 3318L355 3326ZM635 3635L630 3621L635 3608L640 3621ZM347 3329L364 3343L346 3347ZM574 3364L563 3364L553 3358L565 3359ZM333 3340L359 3361L331 3371ZM533 3590L523 3615L510 3593ZM326 3697L311 3690L315 3670L330 3674ZM650 3461L635 3474L628 3453ZM624 3423L613 3412L609 3386L623 3405ZM347 3277L335 3274L319 3252L340 3263ZM318 3250L326 3234L346 3221L334 3239ZM399 3530L381 3545L382 3525ZM633 3516L611 3498L643 3495ZM697 3675L698 3666L709 3654L705 3668ZM405 3689L426 3673L423 3711ZM478 3546L471 3543L466 3527L477 3536ZM219 3306L205 3286L202 3275L212 3286ZM248 3235L228 3232L247 3216ZM492 3713L506 3721L494 3729ZM675 3394L653 3402L645 3383ZM491 3353L491 3375L475 3366ZM557 3247L555 3262L544 3252ZM437 3286L454 3276L451 3296ZM257 3516L250 3490L255 3477L261 3493ZM475 3672L470 3657L487 3660ZM450 3442L428 3466L421 3441ZM387 3250L392 3228L407 3244ZM563 3481L547 3486L543 3472L556 3466ZM623 3527L609 3505L636 3505ZM240 3331L245 3314L264 3322L253 3338ZM513 3518L526 3512L547 3512L529 3519ZM626 3546L628 3555L614 3561L615 3543ZM373 3455L388 3472L367 3473ZM727 3717L711 3730L709 3709ZM445 3459L465 3447L466 3463ZM414 3396L397 3396L406 3378ZM715 3380L688 3377L711 3363ZM618 3644L638 3658L611 3675ZM657 3284L639 3282L650 3263ZM366 3496L369 3461L394 3474ZM222 3342L198 3349L208 3328ZM646 3249L643 3236L652 3210L653 3234ZM676 3237L669 3226L673 3216L679 3225ZM374 3590L385 3586L406 3590L388 3594ZM626 3514L602 3510L618 3493ZM660 3456L655 3444L660 3421L666 3441ZM413 3424L392 3443L394 3415ZM625 3477L635 3498L608 3493ZM559 3294L550 3299L531 3291L548 3287ZM504 3284L473 3283L488 3256ZM462 3657L443 3644L431 3627L449 3639ZM273 3590L283 3614L262 3611ZM552 3369L523 3375L532 3354ZM658 3326L670 3314L682 3310L673 3320ZM395 3431L379 3422L385 3406L396 3414ZM243 3448L237 3432L239 3417L243 3431ZM659 3381L663 3365L675 3356L671 3371ZM399 3399L394 3382L416 3381ZM690 3463L686 3449L688 3436L692 3449ZM268 3605L277 3608L273 3617L265 3615ZM302 3554L304 3583L279 3572ZM685 3679L700 3659L711 3680ZM545 3283L529 3272L518 3255L534 3267ZM534 3453L538 3441L545 3436L542 3446ZM297 3744L290 3722L304 3724ZM576 3616L575 3604L584 3603L589 3614ZM621 3503L622 3487L638 3490L633 3502ZM616 3737L586 3728L610 3710ZM699 3590L712 3603L693 3611ZM668 3262L686 3256L677 3279Z" fill="#5c42b4"/>
</g></g>
<line x1="604.0" y1="3695.0" x2="670.0" y2="3695.0" stroke="#000" stroke-width="5.5" />
<clipPath id="clip15"><rect x="794" y="3232" width="516" height="498"/></clipPath>
<g clip-path="url(#clip15)"><g filter="url(#soft)">
<rect x="794" y="3232" width="516" height="498" fill="#e9e7d0"/>
<path d="M1292 3238h3v3h-3zM1174 3311h3v3h-3zM1303 3240h3v3h-3zM1248 3571h3v3h-3zM1236 3730h3v3h-3zM918 3400h3v3h-3zM1159 3372h3v3h-3zM930 3346h3v3h-3zM1237 3668h3v3h-3zM1206 3343h3v3h-3zM1271 3487h3v3h-3zM913 3459h3v3h-3zM1011 3271h3v3h-3zM1085 3411h3v3h-3zM1088 3695h3v3h-3zM1127 3434h3v3h-3zM1240 3728h3v3h-3zM1047 3703h3v3h-3zM804 3302h3v3h-3zM883 3699h3v3h-3zM1150 3590h3v3h-3zM942 3479h3v3h-3zM1252 3282h3v3h-3zM854 3256h3v3h-3zM1036 3651h3v3h-3zM1080 3432h3v3h-3zM1053 3321h3v3h-3zM1283 3408h3v3h-3zM915 3387h3v3h-3zM1220 3390h3v3h-3zM1261 3399h3v3h-3zM1022 3269h3v3h-3zM1262 3628h3v3h-3zM1039 3289h3v3h-3zM1048 3419h3v3h-3zM1227 3694h3v3h-3zM1176 3375h3v3h-3zM815 3677h3v3h-3zM1281 3311h3v3h-3zM1052 3472h3v3h-3zM1298 3253h3v3h-3zM826 3652h3v3h-3zM1088 3462h3v3h-3zM1195 3527h3v3h-3zM1151 3359h3v3h-3zM838 3236h3v3h-3zM966 3555h3v3h-3zM990 3405h3v3h-3zM1113 3583h3v3h-3zM1101 3387h3v3h-3zM1218 3631h3v3h-3zM1255 3677h3v3h-3zM802 3565h3v3h-3zM974 3425h3v3h-3zM1061 3304h3v3h-3zM923 3723h3v3h-3zM965 3687h3v3h-3zM1147 3389h3v3h-3zM958 3533h3v3h-3zM1156 3401h3v3h-3zM824 3318h3v3h-3zM1238 3595h3v3h-3zM850 3648h3v3h-3zM1091 3399h3v3h-3zM1255 3296h3v3h-3zM845 3403h3v3h-3zM1175 3505h3v3h-3zM1044 3684h3v3h-3zM997 3624h3v3h-3zM796 3622h3v3h-3zM874 3559h3v3h-3zM1227 3559h3v3h-3zM1093 3506h3v3h-3zM1182 3416h3v3h-3zM915 3509h3v3h-3zM1063 3290h3v3h-3zM1068 3465h3v3h-3zM875 3584h3v3h-3zM1196 3401h3v3h-3zM1241 3724h3v3h-3zM1136 3435h3v3h-3zM935 3297h3v3h-3zM935 3729h3v3h-3zM825 3688h3v3h-3zM1154 3622h3v3h-3zM845 3554h3v3h-3zM900 3569h3v3h-3zM1204 3591h3v3h-3zM1070 3673h3v3h-3zM912 3310h3v3h-3zM1241 3260h3v3h-3zM1010 3441h3v3h-3zM1247 3417h3v3h-3zM1088 3482h3v3h-3zM1041 3468h3v3h-3zM1036 3529h3v3h-3zM1017 3443h3v3h-3zM1271 3718h3v3h-3zM921 3704h3v3h-3zM806 3398h3v3h-3zM1258 3316h3v3h-3zM1139 3727h3v3h-3zM1110 3461h3v3h-3zM810 3457h3v3h-3zM1033 3625h3v3h-3zM995 3633h3v3h-3zM1003 3548h3v3h-3zM1186 3315h3v3h-3zM1286 3456h3v3h-3zM1041 3716h3v3h-3zM1089 3491h3v3h-3zM904 3342h3v3h-3zM1186 3484h3v3h-3zM1134 3578h3v3h-3zM1146 3393h3v3h-3zM1239 3456h3v3h-3zM885 3664h3v3h-3zM1259 3292h3v3h-3zM1251 3575h3v3h-3zM933 3518h3v3h-3zM1270 3308h3v3h-3zM1135 3352h3v3h-3zM871 3705h3v3h-3zM1308 3558h3v3h-3zM1203 3429h3v3h-3zM1015 3538h3v3h-3zM1214 3581h3v3h-3zM1036 3545h3v3h-3zM1002 3635h3v3h-3zM1242 3617h3v3h-3zM960 3422h3v3h-3zM1300 3420h3v3h-3zM1137 3280h3v3h-3zM862 3344h3v3h-3zM1141 3345h3v3h-3zM1133 3268h3v3h-3zM1151 3582h3v3h-3zM926 3351h3v3h-3zM923 3478h3v3h-3zM889 3349h3v3h-3zM1209 3698h3v3h-3zM877 3491h3v3h-3zM1134 3705h3v3h-3zM1083 3497h3v3h-3zM1192 3625h3v3h-3zM1161 3542h3v3h-3zM1213 3253h3v3h-3zM1190 3343h3v3h-3zM976 3428h3v3h-3zM1062 3526h3v3h-3zM1097 3390h3v3h-3zM980 3559h3v3h-3zM1275 3422h3v3h-3zM798 3657h3v3h-3zM1252 3651h3v3h-3zM1122 3440h3v3h-3zM828 3691h3v3h-3zM1019 3293h3v3h-3zM1116 3254h3v3h-3zM995 3532h3v3h-3zM1208 3411h3v3h-3zM895 3403h3v3h-3zM1217 3277h3v3h-3zM866 3405h3v3h-3zM1285 3672h3v3h-3zM1293 3256h3v3h-3zM1053 3304h3v3h-3zM1096 3627h3v3h-3zM1043 3576h3v3h-3zM1146 3484h3v3h-3zM995 3351h3v3h-3zM1166 3721h3v3h-3zM1294 3692h3v3h-3zM1232 3559h3v3h-3zM1050 3292h3v3h-3zM1206 3323h3v3h-3zM1274 3659h3v3h-3zM940 3683h3v3h-3zM1184 3636h3v3h-3zM850 3367h3v3h-3zM874 3701h3v3h-3zM920 3453h3v3h-3zM1182 3430h3v3h-3zM1120 3543h3v3h-3zM990 3694h3v3h-3zM1139 3600h3v3h-3zM1171 3541h3v3h-3zM881 3687h3v3h-3zM1280 3283h3v3h-3zM984 3325h3v3h-3zM862 3520h3v3h-3zM1018 3298h3v3h-3zM1043 3578h3v3h-3zM864 3554h3v3h-3zM1134 3646h3v3h-3zM1309 3671h3v3h-3zM987 3273h3v3h-3zM966 3316h3v3h-3zM1234 3414h3v3h-3zM1083 3594h3v3h-3zM1032 3729h3v3h-3zM1134 3529h3v3h-3zM880 3352h3v3h-3zM1149 3451h3v3h-3zM1093 3670h3v3h-3zM1143 3649h3v3h-3zM983 3266h3v3h-3zM937 3683h3v3h-3zM918 3293h3v3h-3zM829 3730h3v3h-3zM902 3270h3v3h-3zM979 3254h3v3h-3zM1171 3575h3v3h-3zM1012 3593h3v3h-3zM803 3629h3v3h-3zM1125 3607h3v3h-3zM868 3706h3v3h-3zM1303 3471h3v3h-3zM959 3489h3v3h-3zM1160 3462h3v3h-3zM1075 3707h3v3h-3zM1160 3425h3v3h-3zM1263 3624h3v3h-3zM805 3478h3v3h-3zM949 3384h3v3h-3zM985 3648h3v3h-3zM1109 3355h3v3h-3zM829 3307h3v3h-3zM988 3502h3v3h-3zM1051 3444h3v3h-3zM1067 3386h3v3h-3zM1285 3341h3v3h-3zM984 3560h3v3h-3zM1227 3433h3v3h-3zM1121 3358h3v3h-3zM800 3715h3v3h-3zM829 3612h3v3h-3zM810 3381h3v3h-3zM1060 3680h3v3h-3zM1209 3381h3v3h-3zM798 3607h3v3h-3zM1179 3697h3v3h-3zM863 3565h3v3h-3zM1113 3669h3v3h-3zM1231 3614h3v3h-3zM1233 3273h3v3h-3zM1303 3533h3v3h-3zM1256 3307h3v3h-3zM1060 3674h3v3h-3zM1292 3537h3v3h-3zM1255 3244h3v3h-3zM848 3359h3v3h-3zM1245 3587h3v3h-3zM1014 3688h3v3h-3zM1060 3304h3v3h-3zM1280 3600h3v3h-3zM1307 3621h3v3h-3zM1054 3678h3v3h-3zM862 3236h3v3h-3zM930 3706h3v3h-3zM839 3609h3v3h-3zM1072 3298h3v3h-3zM902 3590h3v3h-3zM995 3670h3v3h-3zM820 3518h3v3h-3zM1233 3351h3v3h-3zM937 3520h3v3h-3zM884 3554h3v3h-3zM1270 3391h3v3h-3zM882 3670h3v3h-3zM822 3656h3v3h-3zM1011 3630h3v3h-3zM988 3710h3v3h-3zM1133 3529h3v3h-3zM832 3521h3v3h-3zM916 3586h3v3h-3zM958 3346h3v3h-3zM867 3359h3v3h-3zM858 3371h3v3h-3zM1071 3659h3v3h-3zM1195 3412h3v3h-3zM1271 3407h3v3h-3zM1014 3504h3v3h-3zM1103 3477h3v3h-3zM1136 3330h3v3h-3zM904 3399h3v3h-3zM1021 3358h3v3h-3zM1087 3269h3v3h-3zM1012 3460h3v3h-3zM1106 3303h3v3h-3zM1132 3462h3v3h-3zM1271 3301h3v3h-3zM1001 3622h3v3h-3zM1277 3636h3v3h-3zM1253 3450h3v3h-3zM910 3360h3v3h-3zM1122 3562h3v3h-3zM1013 3327h3v3h-3zM1245 3394h3v3h-3zM918 3647h3v3h-3zM1195 3566h3v3h-3zM1204 3541h3v3h-3zM1115 3427h3v3h-3zM884 3695h3v3h-3zM849 3617h3v3h-3zM958 3605h3v3h-3zM1258 3622h3v3h-3zM806 3667h3v3h-3zM913 3364h3v3h-3zM1303 3652h3v3h-3zM877 3656h3v3h-3zM928 3544h3v3h-3zM1215 3267h3v3h-3zM889 3295h3v3h-3zM868 3683h3v3h-3zM810 3390h3v3h-3zM1232 3243h3v3h-3zM1031 3647h3v3h-3zM1266 3642h3v3h-3zM822 3252h3v3h-3zM1176 3461h3v3h-3zM1047 3570h3v3h-3zM1209 3370h3v3h-3zM1289 3381h3v3h-3zM1244 3271h3v3h-3zM813 3531h3v3h-3zM1180 3549h3v3h-3zM827 3696h3v3h-3zM1270 3682h3v3h-3zM1158 3235h3v3h-3zM1022 3325h3v3h-3zM912 3470h3v3h-3zM1235 3553h3v3h-3zM1299 3407h3v3h-3zM842 3630h3v3h-3zM1249 3484h3v3h-3zM914 3551h3v3h-3zM925 3431h3v3h-3zM1099 3592h3v3h-3zM1175 3281h3v3h-3zM1000 3487h3v3h-3zM954 3265h3v3h-3zM929 3450h3v3h-3zM1120 3720h3v3h-3zM899 3515h3v3h-3zM902 3298h3v3h-3zM940 3443h3v3h-3zM1231 3387h3v3h-3zM1283 3621h3v3h-3zM1001 3669h3v3h-3zM935 3240h3v3h-3zM1030 3542h3v3h-3zM1148 3240h3v3h-3zM801 3573h3v3h-3zM1270 3476h3v3h-3zM1190 3319h3v3h-3zM868 3464h3v3h-3zM1290 3290h3v3h-3zM1069 3574h3v3h-3zM806 3634h3v3h-3zM894 3645h3v3h-3zM1104 3258h3v3h-3zM903 3443h3v3h-3zM823 3599h3v3h-3zM1013 3297h3v3h-3zM906 3572h3v3h-3zM1017 3494h3v3h-3zM896 3370h3v3h-3zM915 3453h3v3h-3zM866 3246h3v3h-3zM1285 3715h3v3h-3zM814 3677h3v3h-3zM946 3499h3v3h-3zM1059 3272h3v3h-3zM970 3444h3v3h-3zM1077 3503h3v3h-3zM982 3489h3v3h-3zM855 3581h3v3h-3zM1098 3325h3v3h-3zM1030 3483h3v3h-3zM1049 3346h3v3h-3zM1045 3510h3v3h-3zM1303 3662h3v3h-3zM1189 3410h3v3h-3zM1062 3394h3v3h-3zM1102 3625h3v3h-3zM1198 3704h3v3h-3zM1189 3622h3v3h-3zM1032 3345h3v3h-3zM988 3492h3v3h-3zM1041 3480h3v3h-3zM800 3720h3v3h-3zM990 3396h3v3h-3zM1231 3427h3v3h-3zM1196 3283h3v3h-3zM1068 3255h3v3h-3zM1054 3627h3v3h-3zM932 3554h3v3h-3zM1175 3436h3v3h-3zM887 3586h3v3h-3zM1243 3699h3v3h-3zM1302 3668h3v3h-3zM980 3607h3v3h-3zM1203 3455h3v3h-3zM1256 3296h3v3h-3zM1179 3582h3v3h-3zM913 3296h3v3h-3zM1145 3275h3v3h-3zM952 3685h3v3h-3zM1175 3426h3v3h-3zM1023 3370h3v3h-3zM1178 3511h3v3h-3zM1116 3348h3v3h-3zM1273 3362h3v3h-3zM1152 3722h3v3h-3zM1251 3256h3v3h-3zM1074 3589h3v3h-3zM1027 3366h3v3h-3zM909 3410h3v3h-3zM1132 3501h3v3h-3zM1229 3368h3v3h-3zM1136 3716h3v3h-3zM971 3423h3v3h-3zM966 3269h3v3h-3zM893 3621h3v3h-3zM957 3359h3v3h-3zM1222 3234h3v3h-3zM962 3321h3v3h-3zM982 3300h3v3h-3zM1156 3368h3v3h-3zM1143 3300h3v3h-3zM1235 3289h3v3h-3zM1199 3308h3v3h-3zM1019 3533h3v3h-3zM841 3501h3v3h-3zM1120 3441h3v3h-3zM1176 3500h3v3h-3zM816 3613h3v3h-3zM1296 3305h3v3h-3zM880 3523h3v3h-3zM1121 3458h3v3h-3zM886 3477h3v3h-3zM973 3496h3v3h-3zM1273 3449h3v3h-3zM1308 3695h3v3h-3zM902 3480h3v3h-3zM859 3304h3v3h-3zM1081 3256h3v3h-3zM1188 3584h3v3h-3zM1299 3607h3v3h-3zM1227 3395h3v3h-3zM1302 3344h3v3h-3zM1266 3691h3v3h-3zM1183 3629h3v3h-3zM898 3635h3v3h-3zM903 3342h3v3h-3zM840 3633h3v3h-3zM1183 3450h3v3h-3zM816 3303h3v3h-3zM1214 3558h3v3h-3zM938 3690h3v3h-3zM1081 3251h3v3h-3zM1304 3401h3v3h-3zM1031 3678h3v3h-3zM1273 3365h3v3h-3zM1253 3363h3v3h-3zM806 3268h3v3h-3zM877 3519h3v3h-3zM932 3651h3v3h-3zM994 3268h3v3h-3zM1049 3279h3v3h-3zM798 3694h3v3h-3zM846 3289h3v3h-3zM928 3292h3v3h-3zM1018 3565h3v3h-3zM996 3504h3v3h-3zM821 3313h3v3h-3zM930 3544h3v3h-3zM1178 3711h3v3h-3zM1037 3323h3v3h-3zM977 3421h3v3h-3zM1262 3567h3v3h-3zM1045 3472h3v3h-3zM1172 3584h3v3h-3zM1266 3484h3v3h-3zM1184 3712h3v3h-3zM1261 3310h3v3h-3zM1295 3506h3v3h-3zM1258 3679h3v3h-3zM1234 3629h3v3h-3zM1173 3730h3v3h-3zM1095 3362h3v3h-3zM1089 3533h3v3h-3zM1230 3539h3v3h-3zM1011 3602h3v3h-3zM1042 3348h3v3h-3zM1293 3564h3v3h-3zM1103 3627h3v3h-3zM1081 3462h3v3h-3zM823 3544h3v3h-3zM936 3534h3v3h-3zM1260 3582h3v3h-3zM1172 3281h3v3h-3zM1130 3684h3v3h-3zM1069 3569h3v3h-3zM946 3580h3v3h-3zM926 3492h3v3h-3zM1191 3493h3v3h-3zM1115 3323h3v3h-3zM1086 3552h3v3h-3zM1150 3330h3v3h-3zM1067 3491h3v3h-3zM1080 3323h3v3h-3zM1231 3531h3v3h-3zM951 3723h3v3h-3zM1111 3392h3v3h-3zM1005 3408h3v3h-3zM917 3306h3v3h-3zM841 3267h3v3h-3zM1148 3411h3v3h-3zM985 3425h3v3h-3zM1287 3692h3v3h-3zM930 3573h3v3h-3zM1292 3658h3v3h-3zM1043 3637h3v3h-3zM905 3591h3v3h-3zM927 3593h3v3h-3zM955 3680h3v3h-3zM858 3393h3v3h-3zM899 3476h3v3h-3zM825 3312h3v3h-3zM920 3249h3v3h-3zM1158 3653h3v3h-3zM1291 3453h3v3h-3zM980 3525h3v3h-3zM973 3237h3v3h-3zM996 3626h3v3h-3zM926 3370h3v3h-3zM972 3638h3v3h-3zM976 3393h3v3h-3zM917 3310h3v3h-3zM1246 3702h3v3h-3zM1209 3513h3v3h-3zM954 3543h3v3h-3zM1081 3360h3v3h-3zM1147 3668h3v3h-3zM1138 3400h3v3h-3zM1286 3679h3v3h-3zM1125 3382h3v3h-3zM904 3674h3v3h-3zM938 3274h3v3h-3zM937 3650h3v3h-3zM1215 3683h3v3h-3zM1255 3592h3v3h-3zM1106 3631h3v3h-3zM1085 3716h3v3h-3zM948 3253h3v3h-3zM1184 3496h3v3h-3zM1261 3462h3v3h-3zM1099 3307h3v3h-3zM1016 3317h3v3h-3zM800 3284h3v3h-3zM1155 3673h3v3h-3zM826 3638h3v3h-3zM1073 3460h3v3h-3zM814 3727h3v3h-3zM1128 3305h3v3h-3zM1053 3402h3v3h-3zM973 3271h3v3h-3zM1290 3458h3v3h-3zM859 3340h3v3h-3zM973 3728h3v3h-3zM1092 3433h3v3h-3zM1238 3237h3v3h-3zM1139 3255h3v3h-3zM1085 3558h3v3h-3zM1160 3545h3v3h-3zM1015 3723h3v3h-3zM1214 3263h3v3h-3zM799 3291h3v3h-3zM1002 3309h3v3h-3zM945 3258h3v3h-3zM947 3337h3v3h-3zM883 3682h3v3h-3zM1163 3668h3v3h-3zM1003 3317h3v3h-3zM884 3558h3v3h-3zM916 3290h3v3h-3zM995 3418h3v3h-3zM943 3441h3v3h-3zM1187 3562h3v3h-3zM935 3432h3v3h-3zM1281 3715h3v3h-3zM975 3356h3v3h-3zM898 3436h3v3h-3zM1256 3283h3v3h-3zM1076 3603h3v3h-3zM824 3580h3v3h-3zM845 3368h3v3h-3zM1026 3399h3v3h-3zM939 3309h3v3h-3zM997 3666h3v3h-3zM1233 3419h3v3h-3zM847 3554h3v3h-3zM1047 3609h3v3h-3zM1049 3390h3v3h-3zM833 3442h3v3h-3zM851 3314h3v3h-3zM938 3467h3v3h-3zM1006 3437h3v3h-3zM827 3306h3v3h-3zM842 3341h3v3h-3zM976 3461h3v3h-3zM1162 3232h3v3h-3zM917 3728h3v3h-3zM1107 3347h3v3h-3zM1254 3610h3v3h-3zM1104 3729h3v3h-3zM990 3485h3v3h-3zM916 3644h3v3h-3zM891 3536h3v3h-3zM1209 3726h3v3h-3zM1086 3406h3v3h-3zM918 3425h3v3h-3zM847 3707h3v3h-3zM869 3687h3v3h-3zM996 3274h3v3h-3zM1257 3715h3v3h-3zM847 3697h3v3h-3zM885 3505h3v3h-3zM995 3306h3v3h-3zM908 3657h3v3h-3zM1083 3478h3v3h-3zM882 3578h3v3h-3zM1045 3555h3v3h-3zM1144 3714h3v3h-3zM1126 3545h3v3h-3zM952 3307h3v3h-3zM1288 3384h3v3h-3zM1255 3607h3v3h-3zM846 3649h3v3h-3zM906 3420h3v3h-3zM884 3427h3v3h-3zM1174 3449h3v3h-3zM1196 3628h3v3h-3zM946 3598h3v3h-3zM1034 3716h3v3h-3zM1200 3285h3v3h-3zM1129 3266h3v3h-3zM1156 3265h3v3h-3zM877 3673h3v3h-3zM1074 3667h3v3h-3zM798 3489h3v3h-3zM820 3622h3v3h-3zM998 3369h3v3h-3zM1010 3277h3v3h-3zM1092 3589h3v3h-3zM1211 3541h3v3h-3zM974 3699h3v3h-3zM1282 3591h3v3h-3zM1246 3347h3v3h-3zM1201 3549h3v3h-3zM822 3436h3v3h-3zM1128 3725h3v3h-3zM1272 3729h3v3h-3zM1296 3342h3v3h-3zM1263 3491h3v3h-3zM1182 3508h3v3h-3zM1046 3334h3v3h-3zM1278 3663h3v3h-3zM991 3454h3v3h-3zM1233 3445h3v3h-3zM914 3320h3v3h-3zM898 3595h3v3h-3zM1115 3640h3v3h-3zM1053 3605h3v3h-3zM1017 3640h3v3h-3zM1136 3580h3v3h-3zM1255 3419h3v3h-3zM1289 3520h3v3h-3zM829 3693h3v3h-3zM804 3605h3v3h-3zM1227 3475h3v3h-3zM817 3238h3v3h-3zM1090 3552h3v3h-3zM1264 3698h3v3h-3zM1030 3660h3v3h-3zM1038 3416h3v3h-3zM1045 3301h3v3h-3zM1039 3550h3v3h-3zM871 3267h3v3h-3zM1102 3727h3v3h-3zM1275 3729h3v3h-3zM1142 3623h3v3h-3zM1189 3524h3v3h-3zM1074 3466h3v3h-3zM1183 3381h3v3h-3zM1229 3666h3v3h-3zM1184 3418h3v3h-3zM1089 3392h3v3h-3zM1054 3267h3v3h-3zM796 3365h3v3h-3zM901 3729h3v3h-3zM1023 3484h3v3h-3zM1254 3510h3v3h-3zM856 3343h3v3h-3zM845 3390h3v3h-3zM897 3376h3v3h-3zM930 3630h3v3h-3zM1204 3605h3v3h-3zM932 3288h3v3h-3zM1039 3340h3v3h-3zM1286 3585h3v3h-3zM1032 3688h3v3h-3zM867 3244h3v3h-3zM1067 3720h3v3h-3zM961 3478h3v3h-3zM895 3445h3v3h-3zM1099 3234h3v3h-3zM809 3698h3v3h-3zM1261 3360h3v3h-3zM1237 3477h3v3h-3zM824 3271h3v3h-3zM873 3527h3v3h-3zM847 3503h3v3h-3zM1081 3478h3v3h-3zM908 3319h3v3h-3zM960 3486h3v3h-3zM974 3666h3v3h-3zM1294 3346h3v3h-3zM1266 3557h3v3h-3zM1071 3411h3v3h-3zM1303 3602h3v3h-3zM1186 3482h3v3h-3zM1058 3391h3v3h-3zM993 3572h3v3h-3zM1188 3292h3v3h-3zM886 3294h3v3h-3zM1195 3613h3v3h-3zM1023 3312h3v3h-3zM1276 3501h3v3h-3zM1254 3394h3v3h-3zM1034 3590h3v3h-3zM1017 3261h3v3h-3zM1109 3252h3v3h-3zM1145 3481h3v3h-3zM1139 3332h3v3h-3zM904 3420h3v3h-3zM1300 3578h3v3h-3zM888 3369h3v3h-3zM1086 3711h3v3h-3zM1106 3371h3v3h-3zM1291 3323h3v3h-3zM895 3354h3v3h-3zM1174 3637h3v3h-3zM1009 3702h3v3h-3zM819 3648h3v3h-3zM1283 3310h3v3h-3zM923 3313h3v3h-3zM967 3302h3v3h-3zM903 3261h3v3h-3zM1194 3647h3v3h-3zM1093 3591h3v3h-3zM1092 3510h3v3h-3zM1246 3701h3v3h-3zM943 3499h3v3h-3zM1130 3640h3v3h-3zM1290 3329h3v3h-3zM965 3642h3v3h-3zM1054 3728h3v3h-3zM932 3415h3v3h-3zM902 3461h3v3h-3zM1098 3411h3v3h-3zM1308 3710h3v3h-3zM931 3375h3v3h-3zM826 3373h3v3h-3zM1233 3359h3v3h-3zM1156 3431h3v3h-3zM1153 3656h3v3h-3zM935 3718h3v3h-3zM875 3290h3v3h-3zM862 3674h3v3h-3zM1286 3724h3v3h-3zM1251 3513h3v3h-3zM1213 3394h3v3h-3zM1044 3622h3v3h-3zM1209 3455h3v3h-3zM1108 3542h3v3h-3zM988 3410h3v3h-3zM1024 3274h3v3h-3zM841 3723h3v3h-3zM889 3519h3v3h-3zM902 3317h3v3h-3zM1147 3616h3v3h-3zM1162 3378h3v3h-3zM834 3632h3v3h-3zM1016 3725h3v3h-3zM1288 3520h3v3h-3zM880 3716h3v3h-3zM1252 3333h3v3h-3zM883 3380h3v3h-3zM1224 3374h3v3h-3zM1281 3300h3v3h-3zM1204 3464h3v3h-3zM995 3399h3v3h-3zM1234 3582h3v3h-3zM797 3512h3v3h-3zM1262 3360h3v3h-3zM824 3662h3v3h-3zM1294 3612h3v3h-3zM1208 3272h3v3h-3zM1026 3616h3v3h-3zM1064 3680h3v3h-3zM891 3539h3v3h-3zM1153 3376h3v3h-3zM1279 3434h3v3h-3zM1188 3428h3v3h-3zM822 3654h3v3h-3zM832 3583h3v3h-3zM1291 3384h3v3h-3zM1233 3570h3v3h-3zM1248 3265h3v3h-3zM1005 3301h3v3h-3zM959 3354h3v3h-3zM1062 3659h3v3h-3zM1032 3347h3v3h-3zM1304 3653h3v3h-3zM1066 3662h3v3h-3zM1096 3432h3v3h-3zM1067 3288h3v3h-3zM1309 3400h3v3h-3zM1179 3530h3v3h-3zM1288 3555h3v3h-3zM831 3249h3v3h-3zM1005 3314h3v3h-3zM941 3647h3v3h-3zM1115 3370h3v3h-3zM1116 3385h3v3h-3zM1176 3364h3v3h-3zM1219 3618h3v3h-3zM994 3247h3v3h-3zM1095 3449h3v3h-3zM1153 3336h3v3h-3zM1056 3604h3v3h-3zM1093 3575h3v3h-3zM904 3717h3v3h-3zM937 3637h3v3h-3zM915 3374h3v3h-3zM1298 3503h3v3h-3zM936 3337h3v3h-3zM811 3299h3v3h-3zM928 3388h3v3h-3zM1112 3727h3v3h-3zM795 3381h3v3h-3zM1249 3253h3v3h-3zM1284 3259h3v3h-3zM885 3459h3v3h-3zM921 3607h3v3h-3zM1173 3263h3v3h-3zM1303 3677h3v3h-3zM925 3595h3v3h-3zM996 3372h3v3h-3zM1213 3709h3v3h-3zM989 3526h3v3h-3zM1237 3641h3v3h-3zM910 3554h3v3h-3zM951 3316h3v3h-3zM1019 3404h3v3h-3zM1091 3301h3v3h-3zM1304 3395h3v3h-3zM1207 3296h3v3h-3zM1056 3590h3v3h-3zM1011 3598h3v3h-3zM990 3360h3v3h-3zM1039 3472h3v3h-3zM1260 3315h3v3h-3zM1141 3722h3v3h-3zM1111 3474h3v3h-3zM1074 3383h3v3h-3zM938 3381h3v3h-3zM817 3678h3v3h-3zM1299 3647h3v3h-3zM1296 3625h3v3h-3zM915 3463h3v3h-3zM1081 3530h3v3h-3zM1088 3371h3v3h-3zM1013 3578h3v3h-3zM1072 3351h3v3h-3zM1309 3249h3v3h-3zM1250 3257h3v3h-3zM903 3338h3v3h-3zM1085 3520h3v3h-3zM1237 3697h3v3h-3zM1042 3482h3v3h-3zM887 3298h3v3h-3zM967 3721h3v3h-3zM1028 3284h3v3h-3zM1133 3337h3v3h-3zM1099 3484h3v3h-3zM1184 3335h3v3h-3zM1092 3610h3v3h-3zM1118 3332h3v3h-3zM928 3316h3v3h-3zM800 3520h3v3h-3zM991 3397h3v3h-3zM1050 3605h3v3h-3zM840 3654h3v3h-3zM1244 3389h3v3h-3zM1087 3434h3v3h-3zM1100 3310h3v3h-3zM917 3691h3v3h-3zM843 3290h3v3h-3zM836 3430h3v3h-3zM1206 3335h3v3h-3zM919 3485h3v3h-3zM1092 3424h3v3h-3zM1270 3342h3v3h-3zM1237 3553h3v3h-3zM1105 3410h3v3h-3zM1306 3676h3v3h-3zM904 3559h3v3h-3zM952 3531h3v3h-3zM1062 3332h3v3h-3zM1009 3364h3v3h-3zM1297 3572h3v3h-3zM994 3434h3v3h-3zM926 3569h3v3h-3zM891 3426h3v3h-3zM1012 3478h3v3h-3zM1194 3257h3v3h-3zM953 3427h3v3h-3zM1018 3527h3v3h-3zM834 3683h3v3h-3zM965 3605h3v3h-3zM1055 3476h3v3h-3zM842 3378h3v3h-3zM1197 3695h3v3h-3zM1283 3439h3v3h-3zM869 3411h3v3h-3zM866 3294h3v3h-3zM1278 3577h3v3h-3zM817 3672h3v3h-3zM997 3320h3v3h-3zM1134 3409h3v3h-3zM871 3647h3v3h-3zM887 3328h3v3h-3zM1028 3492h3v3h-3zM1002 3692h3v3h-3zM819 3691h3v3h-3zM1017 3427h3v3h-3zM1053 3299h3v3h-3zM1008 3408h3v3h-3zM1048 3423h3v3h-3zM818 3535h3v3h-3zM963 3378h3v3h-3zM808 3269h3v3h-3zM922 3415h3v3h-3zM912 3392h3v3h-3zM984 3511h3v3h-3zM1027 3583h3v3h-3zM1207 3686h3v3h-3zM1210 3705h3v3h-3zM972 3321h3v3h-3zM1184 3460h3v3h-3zM1245 3441h3v3h-3zM1165 3554h3v3h-3zM1164 3380h3v3h-3zM807 3649h3v3h-3zM973 3444h3v3h-3zM811 3627h3v3h-3zM997 3243h3v3h-3zM889 3520h3v3h-3zM868 3707h3v3h-3zM1022 3612h3v3h-3zM1139 3311h3v3h-3zM910 3309h3v3h-3zM1255 3496h3v3h-3zM1051 3615h3v3h-3zM824 3587h3v3h-3zM829 3514h3v3h-3zM1263 3235h3v3h-3zM921 3418h3v3h-3zM929 3462h3v3h-3zM1145 3273h3v3h-3zM930 3261h3v3h-3zM898 3683h3v3h-3zM813 3617h3v3h-3zM1140 3512h3v3h-3zM989 3681h3v3h-3zM1056 3480h3v3h-3zM1270 3577h3v3h-3zM1129 3651h3v3h-3zM1188 3406h3v3h-3zM1227 3487h3v3h-3zM994 3627h3v3h-3zM1117 3706h3v3h-3zM1262 3713h3v3h-3zM808 3465h3v3h-3zM993 3506h3v3h-3zM1132 3418h3v3h-3zM1179 3597h3v3h-3zM1191 3489h3v3h-3zM970 3293h3v3h-3zM1066 3590h3v3h-3zM899 3318h3v3h-3zM829 3473h3v3h-3zM1097 3628h3v3h-3zM1070 3664h3v3h-3zM811 3365h3v3h-3zM1200 3330h3v3h-3zM968 3357h3v3h-3zM1306 3672h3v3h-3zM864 3434h3v3h-3zM929 3346h3v3h-3zM1157 3278h3v3h-3zM1262 3354h3v3h-3zM877 3352h3v3h-3zM904 3616h3v3h-3zM1253 3547h3v3h-3zM989 3419h3v3h-3zM950 3611h3v3h-3zM1163 3702h3v3h-3zM849 3547h3v3h-3zM979 3240h3v3h-3zM1094 3574h3v3h-3zM1221 3619h3v3h-3zM865 3385h3v3h-3zM895 3371h3v3h-3zM805 3661h3v3h-3zM1134 3468h3v3h-3zM901 3585h3v3h-3zM1161 3705h3v3h-3zM1175 3643h3v3h-3zM1027 3455h3v3h-3zM843 3709h3v3h-3zM979 3571h3v3h-3zM1154 3498h3v3h-3zM838 3633h3v3h-3zM979 3512h3v3h-3zM1298 3560h3v3h-3zM1277 3575h3v3h-3zM1185 3391h3v3h-3zM1090 3339h3v3h-3zM883 3309h3v3h-3zM822 3652h3v3h-3zM1171 3674h3v3h-3zM1001 3332h3v3h-3zM1044 3414h3v3h-3zM1101 3272h3v3h-3zM864 3670h3v3h-3zM1210 3491h3v3h-3zM1104 3517h3v3h-3zM1019 3307h3v3h-3zM812 3348h3v3h-3zM810 3246h3v3h-3zM1070 3322h3v3h-3zM1278 3510h3v3h-3zM1126 3354h3v3h-3zM1286 3463h3v3h-3zM1048 3484h3v3h-3zM976 3441h3v3h-3zM1201 3427h3v3h-3zM920 3722h3v3h-3zM1302 3531h3v3h-3zM802 3538h3v3h-3zM995 3256h3v3h-3zM1124 3606h3v3h-3zM1087 3313h3v3h-3zM811 3440h3v3h-3zM1028 3623h3v3h-3z" fill="#6e6a80" opacity="0.7"/>
<path d="M831 3498L825 3527L812 3509ZM1277 3701L1283 3682L1299 3692ZM997 3635L997 3623L1014 3627L1011 3639ZM897 3586L893 3578L898 3569L902 3578ZM961 3738L956 3733L967 3725L970 3734ZM1161 3517L1153 3493L1181 3500ZM909 3652L927 3653L911 3670ZM1178 3636L1181 3649L1161 3652ZM1265 3621L1275 3612L1289 3612L1279 3621ZM871 3304L853 3305L844 3301L856 3299ZM1200 3621L1215 3645L1193 3644ZM1017 3648L1031 3668L1001 3665ZM1032 3442L1041 3437L1060 3440L1044 3445ZM1165 3587L1153 3568L1151 3555L1161 3567ZM994 3734L978 3729L989 3711ZM1113 3645L1101 3658L1101 3639ZM1032 3367L1025 3351L1043 3352ZM1187 3741L1173 3740L1155 3729L1174 3731ZM1241 3582L1231 3558L1255 3566ZM784 3658L792 3630L805 3650ZM923 3249L906 3236L925 3226ZM1074 3457L1068 3471L1053 3459L1063 3448ZM866 3278L860 3266L864 3252L870 3265ZM793 3503L793 3489L803 3470L801 3489ZM827 3269L847 3266L842 3287ZM1236 3404L1223 3392L1221 3380L1232 3388ZM1335 3627L1313 3627L1298 3620L1316 3620ZM823 3700L832 3717L817 3710ZM1029 3711L1029 3700L1037 3690L1036 3702ZM958 3236L965 3252L944 3250ZM1235 3475L1257 3475L1242 3489ZM869 3467L861 3482L854 3474ZM1327 3501L1315 3522L1301 3505ZM883 3473L876 3461L886 3457L892 3465ZM1000 3288L990 3288L972 3278L990 3281ZM1245 3456L1252 3471L1233 3465ZM1302 3622L1317 3615L1320 3636ZM1255 3720L1247 3738L1234 3723ZM1292 3599L1282 3604L1273 3597L1282 3587ZM1180 3718L1184 3695L1193 3685L1191 3700ZM1246 3385L1258 3363L1267 3386ZM919 3661L936 3652L952 3654L937 3662ZM1227 3490L1208 3495L1222 3478ZM1244 3703L1241 3718L1227 3710ZM1256 3534L1253 3547L1238 3543L1242 3532ZM801 3290L809 3282L817 3284L811 3291ZM1175 3738L1186 3717L1196 3707L1189 3722ZM1112 3626L1118 3614L1135 3605L1126 3620ZM861 3711L849 3706L843 3699L853 3702ZM1228 3713L1226 3704L1235 3694L1236 3706ZM1286 3698L1277 3712L1270 3698ZM939 3230L930 3222L939 3214L943 3223ZM916 3592L908 3601L898 3590L907 3584ZM1007 3612L1004 3594L1008 3582L1011 3595ZM991 3253L983 3241L982 3232L989 3240ZM1243 3461L1254 3458L1261 3470L1250 3474ZM992 3511L977 3510L977 3500L992 3499ZM1235 3696L1218 3686L1212 3675L1225 3681ZM1314 3444L1299 3463L1290 3443ZM1184 3582L1198 3590L1183 3603ZM1165 3595L1148 3595L1137 3590L1150 3590ZM955 3416L952 3400L972 3407ZM836 3706L857 3710L842 3723ZM841 3666L836 3650L838 3637L843 3650ZM1015 3468L1030 3487L1009 3485ZM1113 3446L1115 3465L1100 3464ZM795 3380L785 3372L785 3365L792 3369ZM1310 3735L1302 3707L1324 3722ZM863 3403L884 3413L870 3430ZM1260 3720L1267 3710L1273 3718L1269 3728ZM1219 3537L1216 3517L1237 3519ZM1008 3629L1012 3614L1022 3599L1017 3616ZM856 3520L865 3503L876 3493L868 3507ZM1249 3599L1248 3619L1233 3612ZM1075 3729L1059 3753L1051 3729ZM1263 3611L1264 3595L1277 3598L1279 3614ZM791 3465L785 3481L780 3465ZM1270 3463L1265 3452L1267 3434L1272 3450ZM907 3263L896 3268L878 3262L895 3258ZM914 3602L898 3613L902 3595ZM1243 3512L1249 3493L1257 3486L1254 3499ZM881 3540L871 3536L857 3523L873 3530ZM1003 3586L1013 3582L1020 3584L1013 3587ZM921 3562L931 3574L919 3584L910 3572ZM910 3397L915 3386L924 3382L920 3391ZM968 3470L983 3465L982 3480ZM1234 3444L1231 3457L1217 3456L1217 3441ZM1147 3635L1133 3634L1133 3619L1146 3619ZM856 3588L875 3582L889 3586L874 3591ZM1309 3741L1298 3733L1294 3718L1305 3727ZM1065 3513L1044 3505L1063 3489ZM1302 3518L1300 3497L1317 3500ZM916 3722L911 3703L930 3709ZM895 3690L882 3687L863 3675L882 3681Z" fill="#3c1e9e"/>
<path d="M804 3678L805 3661L817 3674ZM1133 3681L1144 3677L1162 3680L1145 3685ZM1279 3372L1264 3370L1272 3356L1282 3361ZM1247 3465L1257 3471L1249 3482L1240 3472ZM848 3650L842 3630L861 3637ZM1014 3641L997 3633L1013 3621ZM1318 3596L1305 3587L1302 3576L1313 3582ZM934 3718L916 3724L918 3703ZM803 3629L794 3627L788 3620L797 3621ZM1311 3577L1328 3594L1301 3597ZM1292 3449L1271 3448L1262 3443L1275 3441ZM799 3556L786 3568L778 3550ZM852 3645L845 3651L831 3646L843 3633ZM836 3469L831 3446L851 3453ZM1025 3557L1029 3549L1044 3545L1035 3556ZM892 3617L901 3607L904 3622ZM880 3574L888 3558L896 3550L892 3563ZM1250 3738L1252 3726L1266 3704L1261 3726ZM907 3737L924 3731L917 3749ZM1279 3648L1288 3624L1298 3615L1294 3631ZM797 3414L784 3417L775 3408L787 3396ZM978 3253L981 3244L993 3239L988 3250ZM1167 3430L1157 3418L1157 3406L1166 3415ZM1260 3575L1255 3588L1240 3575ZM981 3591L993 3587L1015 3591L996 3594ZM939 3460L930 3480L914 3463ZM1034 3593L1022 3596L1013 3582L1029 3575ZM900 3502L913 3494L923 3493L914 3500ZM898 3643L907 3656L889 3662ZM1173 3306L1190 3318L1172 3327ZM1296 3528L1312 3531L1302 3545ZM816 3499L806 3474L838 3481ZM904 3695L902 3685L911 3668L911 3685ZM837 3721L831 3738L826 3718ZM889 3686L882 3699L868 3694L873 3678ZM843 3622L827 3603L824 3589L835 3601ZM1305 3562L1284 3555L1296 3540ZM1131 3676L1138 3671L1151 3675L1139 3680ZM879 3237L900 3237L894 3260ZM1311 3446L1308 3467L1287 3449ZM863 3266L857 3243L858 3229L864 3245ZM909 3289L918 3271L927 3284ZM791 3484L808 3467L819 3486ZM872 3678L890 3670L884 3693ZM1242 3411L1232 3397L1245 3392ZM1134 3640L1119 3622L1144 3615ZM1232 3390L1252 3378L1264 3377L1253 3387ZM1078 3670L1095 3676L1085 3681ZM1265 3628L1272 3618L1279 3615L1275 3623ZM804 3358L808 3337L815 3324L814 3341ZM1274 3732L1275 3719L1287 3697L1283 3719ZM825 3607L825 3614L819 3617L815 3606ZM1241 3532L1246 3518L1255 3514L1252 3524ZM883 3663L886 3651L898 3632L892 3651ZM1011 3474L1021 3477L1016 3488L1007 3485ZM1257 3633L1247 3611L1274 3617ZM1314 3590L1314 3578L1322 3569L1322 3581ZM878 3463L891 3479L875 3477ZM1000 3654L989 3650L982 3640L993 3644ZM1314 3551L1302 3552L1283 3545L1301 3545ZM869 3546L860 3535L880 3534ZM1162 3604L1166 3592L1176 3605ZM1111 3573L1104 3562L1106 3548L1113 3560ZM957 3650L962 3629L985 3638ZM1174 3614L1165 3635L1150 3611ZM1290 3715L1280 3708L1277 3698L1286 3704ZM908 3428L886 3424L878 3415L892 3416ZM992 3407L987 3388L992 3371L996 3388ZM868 3583L859 3583L848 3571L862 3575ZM1233 3561L1218 3567L1223 3552ZM933 3238L921 3225L934 3222ZM881 3645L884 3624L893 3618L892 3631ZM790 3539L795 3532L811 3529L800 3538ZM1004 3569L1005 3552L1011 3538L1010 3553ZM1227 3474L1223 3461L1225 3446L1229 3461ZM1098 3703L1073 3697L1090 3681ZM1300 3548L1309 3543L1324 3547L1311 3553ZM1232 3520L1246 3522L1239 3538L1228 3539ZM851 3379L860 3399L838 3390ZM969 3607L952 3614L951 3600ZM1295 3625L1289 3613L1298 3611ZM889 3441L904 3442L897 3453ZM972 3430L960 3410L979 3413ZM919 3636L910 3627L904 3602L916 3621ZM986 3394L983 3402L972 3396L974 3387ZM797 3563L774 3566L791 3541ZM1226 3741L1210 3736L1199 3722L1216 3727ZM1167 3706L1182 3707L1176 3721L1164 3716ZM1308 3464L1294 3466L1273 3456L1294 3456ZM1158 3740L1155 3730L1162 3721L1164 3732ZM1280 3213L1285 3232L1266 3222ZM1082 3378L1097 3382L1094 3392L1078 3388ZM964 3601L960 3612L948 3610L951 3598ZM1096 3450L1090 3433L1093 3415L1099 3432ZM1123 3600L1115 3594L1113 3584L1121 3590ZM889 3342L896 3336L910 3337L899 3344ZM1238 3353L1234 3361L1224 3350ZM1116 3389L1098 3396L1105 3380ZM1153 3689L1165 3686L1172 3688L1164 3691ZM897 3275L909 3266L926 3260L913 3271ZM1305 3385L1296 3385L1287 3381L1297 3380ZM1215 3668L1203 3667L1182 3655L1203 3659ZM882 3309L893 3299L910 3297L898 3308ZM1105 3344L1127 3344L1108 3368ZM1267 3720L1273 3702L1281 3696L1279 3708ZM910 3654L925 3650L932 3667Z" fill="#4626a8"/>
<path d="M1112 3670L1108 3658L1114 3645L1118 3658ZM1042 3395L1034 3407L1026 3397ZM1271 3421L1277 3433L1256 3433ZM1288 3428L1280 3399L1302 3414ZM957 3643L976 3638L985 3643L973 3648ZM1292 3417L1284 3403L1302 3397L1306 3413ZM1031 3482L1017 3475L1028 3459ZM1031 3348L1046 3354L1036 3368L1022 3359ZM1223 3445L1211 3448L1208 3438L1221 3433ZM1204 3409L1199 3400L1211 3395L1215 3406ZM1216 3581L1195 3585L1195 3565ZM1194 3475L1175 3474L1185 3465ZM1003 3457L1011 3447L1020 3446L1015 3454ZM1203 3660L1213 3649L1230 3640L1218 3654ZM1303 3460L1293 3489L1280 3471ZM860 3295L858 3283L867 3262L867 3282ZM1079 3622L1087 3626L1086 3637L1074 3636ZM844 3705L839 3693L840 3677L845 3692ZM1125 3620L1120 3632L1107 3628L1114 3614ZM963 3607L964 3598L970 3589L969 3600ZM1246 3475L1235 3469L1245 3456L1254 3466ZM1239 3592L1226 3578L1222 3559L1235 3574ZM1273 3679L1293 3692L1269 3699ZM1264 3310L1259 3326L1246 3313ZM1287 3746L1278 3735L1285 3725L1298 3730ZM1008 3461L996 3469L993 3452ZM1250 3712L1260 3696L1268 3713ZM1167 3508L1184 3528L1160 3522ZM866 3362L861 3354L865 3344L870 3353ZM961 3610L952 3607L944 3599L954 3603ZM910 3737L923 3727L939 3723L926 3733ZM791 3662L773 3645L797 3633ZM827 3379L820 3367L836 3364ZM1226 3727L1218 3729L1208 3724L1218 3723ZM865 3535L858 3537L848 3532L858 3531ZM945 3575L925 3570L917 3563L930 3565ZM1108 3698L1122 3696L1112 3713ZM952 3544L947 3552L939 3546L942 3538ZM905 3641L913 3620L931 3639ZM1200 3644L1200 3634L1212 3622L1209 3637ZM949 3474L935 3475L927 3470L937 3468ZM1126 3396L1132 3386L1144 3385L1138 3395ZM1065 3436L1084 3431L1076 3451ZM1230 3591L1250 3600L1229 3609ZM922 3304L911 3307L898 3301L912 3297ZM970 3573L975 3563L985 3562L980 3571ZM948 3473L966 3461L961 3482ZM932 3383L938 3377L950 3377L942 3384ZM942 3643L963 3641L958 3655ZM1238 3309L1237 3296L1246 3282L1246 3297ZM992 3251L979 3257L977 3245ZM867 3460L888 3457L883 3471ZM1267 3504L1254 3507L1249 3499L1263 3494ZM868 3599L879 3586L897 3579L885 3594ZM964 3328L969 3341L950 3343L951 3326ZM967 3337L958 3353L947 3344L959 3331ZM955 3660L939 3651L957 3641ZM1291 3576L1304 3563L1317 3557L1307 3568ZM1092 3629L1081 3620L1081 3611L1090 3616ZM1018 3560L998 3558L984 3551L1001 3552ZM794 3619L813 3628L796 3641ZM1235 3485L1241 3473L1250 3472L1247 3482ZM821 3557L831 3570L820 3577L814 3569ZM880 3607L869 3629L863 3611ZM1297 3639L1279 3628L1273 3617L1286 3624ZM1018 3257L1009 3278L998 3260ZM944 3633L956 3620L968 3616L960 3627ZM1161 3545L1150 3560L1136 3543ZM878 3340L878 3330L886 3322L886 3333ZM1211 3539L1201 3532L1197 3522L1206 3528ZM1263 3332L1272 3321L1282 3318L1275 3327ZM1080 3512L1067 3505L1061 3491L1074 3498ZM1291 3575L1309 3574L1298 3593ZM1109 3466L1115 3487L1091 3479ZM862 3322L857 3343L841 3329ZM1331 3322L1309 3323L1317 3304ZM1109 3564L1121 3578L1102 3582ZM877 3612L865 3602L859 3581L873 3596ZM977 3511L987 3496L1005 3488L994 3504ZM1140 3501L1129 3497L1115 3483L1131 3491ZM924 3655L910 3647L927 3638ZM957 3575L950 3569L949 3559L956 3565ZM833 3610L826 3601L827 3593L833 3599ZM1166 3562L1166 3580L1148 3576L1153 3560ZM1215 3661L1212 3643L1240 3652ZM1158 3723L1146 3721L1142 3715L1150 3715ZM1008 3549L1029 3541L1024 3559ZM1295 3470L1303 3460L1322 3449L1308 3463ZM1301 3677L1307 3660L1318 3666Z" fill="#331895"/>
<path d="M996 3273L981 3274L959 3268L980 3268ZM874 3544L864 3536L859 3520L870 3531ZM1194 3684L1185 3681L1177 3662L1191 3672ZM892 3498L867 3496L855 3491L871 3491ZM1215 3504L1202 3494L1195 3474L1210 3487ZM885 3252L890 3233L905 3244ZM933 3486L953 3491L942 3500ZM1276 3666L1274 3655L1284 3651L1285 3660ZM854 3267L844 3260L829 3240L846 3254ZM1205 3643L1181 3659L1179 3634ZM851 3588L835 3568L832 3557L843 3568ZM831 3288L825 3278L834 3271L840 3281ZM1220 3477L1222 3486L1208 3487L1210 3478ZM1312 3543L1302 3544L1287 3535L1303 3536ZM856 3461L844 3473L832 3459L846 3454ZM789 3484L792 3476L800 3478L799 3487ZM1103 3480L1094 3491L1092 3476ZM887 3383L872 3373L863 3362L876 3370ZM1078 3432L1084 3423L1098 3418L1089 3429ZM836 3577L855 3593L831 3602ZM1034 3542L1044 3524L1051 3546ZM1308 3519L1294 3503L1309 3503ZM1195 3669L1193 3682L1183 3671ZM883 3487L867 3490L847 3482L867 3480ZM1216 3488L1226 3503L1204 3502ZM1132 3440L1141 3427L1153 3419L1145 3431ZM986 3438L996 3431L1020 3424L1001 3435ZM1134 3500L1128 3495L1128 3483L1135 3491ZM1226 3638L1206 3643L1217 3625ZM1200 3733L1193 3721L1212 3718ZM1160 3516L1151 3520L1140 3513L1151 3510ZM874 3733L880 3718L889 3715L886 3726ZM1195 3666L1177 3669L1180 3656ZM945 3605L952 3585L971 3607ZM1314 3457L1310 3446L1317 3433L1320 3447ZM925 3482L927 3472L942 3463L936 3477ZM1133 3371L1145 3382L1132 3390ZM1231 3517L1231 3501L1240 3486L1240 3503ZM864 3620L866 3592L882 3610ZM994 3386L1014 3380L1010 3396ZM795 3542L801 3526L810 3541ZM883 3645L874 3638L870 3625L880 3633ZM927 3613L917 3620L910 3612L919 3601ZM1281 3470L1302 3463L1289 3491ZM1168 3449L1162 3464L1150 3450ZM811 3418L792 3399L817 3388ZM1010 3307L1006 3282L1008 3270L1013 3285ZM1261 3273L1250 3265L1259 3259ZM804 3387L822 3378L824 3402ZM980 3426L973 3421L969 3411L977 3417ZM1203 3588L1192 3590L1170 3586L1189 3585ZM947 3591L948 3606L928 3604ZM1206 3545L1186 3543L1175 3535L1191 3536ZM1056 3402L1063 3389L1075 3398ZM1291 3624L1297 3607L1310 3596L1305 3613ZM864 3410L866 3395L870 3388L871 3398ZM1245 3715L1232 3712L1219 3697L1236 3703ZM883 3566L892 3548L897 3569ZM929 3464L924 3480L913 3467ZM955 3428L967 3442L946 3444ZM1122 3584L1115 3607L1101 3590ZM825 3379L815 3378L809 3370L819 3371ZM1296 3613L1316 3605L1329 3605L1315 3611ZM1319 3645L1308 3634L1308 3627L1316 3632ZM1256 3726L1271 3707L1281 3701L1273 3713ZM908 3587L931 3579L926 3600ZM1025 3308L1018 3288L1021 3275L1028 3289ZM912 3547L905 3536L907 3513L915 3532ZM823 3716L822 3704L839 3704L841 3715ZM1021 3463L1014 3455L1010 3441L1018 3452ZM1186 3589L1170 3579L1160 3562L1176 3572ZM1172 3615L1149 3613L1140 3605L1155 3605ZM946 3450L927 3452L911 3448L928 3447ZM933 3488L944 3489L941 3502L930 3497ZM1136 3716L1118 3715L1127 3690ZM1136 3551L1138 3542L1150 3542L1145 3555ZM1026 3529L1008 3533L999 3529L1010 3525ZM1225 3507L1230 3500L1245 3494L1235 3504ZM1057 3306L1044 3301L1035 3290L1048 3295ZM1022 3524L1040 3536L1024 3541ZM929 3569L924 3556L929 3548L933 3558ZM870 3329L869 3340L861 3341L860 3328ZM800 3382L790 3374L779 3357L793 3369ZM900 3663L914 3654L915 3669ZM1242 3535L1248 3529L1262 3530L1252 3537ZM961 3404L951 3402L942 3389L955 3394ZM1241 3416L1244 3402L1253 3410ZM1245 3687L1231 3700L1222 3687ZM858 3439L875 3447L867 3460ZM960 3221L971 3242L951 3244ZM923 3642L907 3640L921 3625ZM808 3582L825 3563L838 3559L829 3573ZM800 3588L817 3574L819 3597ZM910 3516L907 3503L912 3494L915 3505ZM908 3489L890 3482L883 3475L895 3478ZM1017 3538L1036 3524L1049 3522L1037 3532ZM883 3608L867 3614L866 3597ZM808 3316L826 3302L824 3324ZM904 3597L900 3586L904 3575L908 3586ZM1279 3386L1284 3376L1298 3377L1296 3392ZM1108 3539L1121 3551L1107 3557ZM808 3600L813 3589L818 3586L816 3593ZM920 3331L923 3324L935 3316L928 3326ZM814 3612L832 3587L836 3616ZM1237 3655L1245 3670L1223 3673ZM1150 3457L1130 3459L1134 3446ZM1073 3474L1083 3463L1096 3472L1088 3485ZM807 3308L786 3307L798 3290ZM896 3352L910 3366L889 3377ZM1331 3535L1303 3545L1307 3521ZM1271 3714L1268 3702L1274 3687L1277 3702ZM980 3601L961 3597L951 3587L966 3590ZM897 3526L888 3548L872 3530ZM1237 3443L1232 3434L1230 3422L1236 3432Z" fill="#5232ae"/>
<path d="M867 3569L891 3564L883 3585ZM1064 3430L1051 3430L1035 3421L1052 3422ZM1288 3730L1287 3720L1291 3711L1292 3721ZM940 3318L920 3313L939 3303ZM1239 3616L1244 3608L1255 3614L1249 3624ZM943 3672L926 3652L954 3652ZM888 3462L879 3455L872 3435L885 3448ZM1295 3331L1302 3318L1312 3328L1307 3340ZM1239 3463L1240 3453L1249 3441L1246 3454ZM852 3728L870 3717L871 3731ZM910 3403L913 3395L922 3391L919 3400ZM1297 3725L1305 3715L1328 3705L1312 3719ZM1089 3705L1085 3726L1063 3713ZM873 3685L892 3671L898 3699ZM1005 3607L1007 3598L1016 3586L1012 3599ZM882 3338L862 3322L890 3307ZM1176 3693L1167 3675L1188 3672ZM1119 3555L1112 3545L1108 3531L1116 3543ZM836 3676L856 3692L832 3700ZM928 3586L934 3578L947 3578L939 3587ZM863 3238L844 3237L856 3217ZM1172 3466L1161 3468L1152 3460L1164 3458ZM1052 3477L1039 3475L1047 3463ZM857 3297L840 3310L846 3292ZM1265 3457L1251 3457L1239 3452L1252 3452ZM905 3741L909 3725L923 3713L918 3730ZM866 3624L865 3642L852 3629ZM872 3632L862 3622L863 3614L871 3619ZM1013 3691L1027 3682L1044 3680L1029 3689ZM810 3629L789 3628L776 3623L792 3623ZM1131 3595L1126 3568L1146 3574ZM929 3614L940 3604L959 3600L945 3612ZM1103 3593L1091 3603L1085 3595L1093 3585ZM1180 3614L1177 3599L1181 3587L1184 3600ZM1238 3659L1232 3650L1235 3632L1242 3647ZM1313 3598L1302 3579L1326 3574ZM862 3571L864 3555L876 3555ZM1137 3576L1138 3561L1145 3548L1144 3563ZM944 3589L946 3582L957 3576L952 3586ZM810 3285L810 3277L815 3268L815 3278ZM1236 3717L1226 3737L1214 3724ZM1211 3506L1206 3502L1202 3489L1210 3498ZM941 3463L957 3481L933 3482ZM912 3639L898 3632L889 3620L903 3627ZM1241 3451L1261 3447L1251 3460ZM1077 3595L1082 3583L1091 3584L1093 3594ZM875 3708L873 3723L862 3716ZM1281 3616L1271 3608L1266 3591L1279 3602ZM780 3515L797 3498L806 3519ZM989 3556L983 3544L987 3529L992 3543ZM844 3335L857 3323L866 3334L855 3345ZM1120 3658L1102 3655L1113 3639ZM1297 3328L1295 3307L1301 3293L1304 3310ZM1306 3365L1302 3350L1323 3356ZM923 3254L925 3240L935 3223L931 3241ZM1122 3595L1126 3581L1132 3576L1130 3585ZM1084 3463L1073 3483L1065 3466ZM1257 3498L1266 3504L1257 3514L1250 3507ZM830 3591L813 3572L838 3569ZM1122 3608L1128 3599L1145 3594L1134 3606ZM881 3653L865 3650L879 3641ZM943 3386L949 3371L958 3363L954 3375ZM851 3509L869 3527L853 3529ZM1000 3672L987 3666L985 3659L994 3661ZM1287 3280L1277 3276L1271 3259L1284 3269ZM1086 3442L1104 3449L1086 3460ZM798 3491L801 3482L809 3486L804 3495ZM841 3284L858 3277L862 3292ZM1263 3640L1265 3656L1249 3644ZM1312 3496L1322 3478L1328 3499ZM1129 3728L1138 3712L1148 3705L1142 3717ZM833 3704L820 3681L844 3684ZM895 3371L877 3360L870 3347L885 3354ZM1194 3637L1206 3634L1232 3637L1210 3640ZM1317 3493L1316 3467L1323 3455L1325 3471ZM958 3439L982 3435L974 3460ZM998 3473L1004 3464L1015 3462L1009 3472ZM1266 3345L1282 3336L1302 3334L1285 3344ZM1180 3315L1192 3334L1176 3335ZM1239 3553L1218 3551L1203 3544L1221 3545ZM1039 3519L1050 3512L1068 3510L1053 3519ZM809 3330L826 3332L816 3345ZM864 3572L863 3563L868 3554L869 3564ZM793 3267L790 3277L775 3274L780 3262ZM840 3383L823 3381L813 3372L827 3373ZM1204 3639L1195 3620L1213 3622ZM1215 3476L1207 3463L1224 3462ZM885 3446L888 3475L868 3458ZM937 3540L923 3524L917 3509L929 3522ZM1237 3473L1226 3474L1211 3465L1227 3466ZM826 3676L814 3678L809 3672L817 3670ZM1311 3614L1297 3599L1291 3582L1305 3595ZM920 3623L911 3613L909 3594L919 3608ZM983 3586L1005 3593L986 3600ZM898 3717L904 3704L922 3689L912 3708ZM901 3692L898 3717L882 3708ZM1117 3646L1123 3622L1145 3641ZM839 3411L837 3395L853 3394L851 3410ZM822 3677L834 3671L835 3681L826 3687ZM1260 3472L1265 3460L1277 3448L1270 3462ZM827 3576L827 3594L805 3592Z" fill="#3f22a2"/>
<path d="M1260 3672L1267 3686L1248 3679ZM1316 3533L1303 3526L1295 3516L1307 3522ZM810 3737L795 3739L804 3727ZM1103 3234L1088 3250L1084 3226ZM1256 3746L1262 3728L1270 3722L1268 3734ZM811 3340L798 3329L791 3316L803 3325ZM884 3685L878 3699L869 3689ZM1318 3505L1310 3492L1319 3490L1327 3496ZM1242 3474L1238 3466L1243 3456L1247 3466ZM1067 3503L1060 3488L1077 3480L1079 3497ZM1248 3523L1248 3511L1258 3514L1256 3524ZM872 3300L880 3290L894 3282L884 3293ZM897 3258L907 3241L914 3260ZM902 3702L895 3695L894 3679L902 3691ZM1127 3586L1119 3574L1136 3569ZM1032 3538L1043 3529L1054 3527L1045 3535ZM909 3232L885 3237L893 3214ZM926 3597L932 3574L948 3598ZM1075 3525L1060 3535L1057 3514ZM1117 3520L1110 3541L1095 3523ZM1241 3468L1254 3473L1245 3486ZM856 3320L871 3333L849 3333ZM921 3465L928 3458L937 3456L931 3464ZM892 3541L885 3537L877 3524L888 3532ZM1298 3726L1305 3705L1324 3717ZM969 3317L983 3334L968 3333ZM1217 3517L1223 3503L1236 3508L1227 3520ZM803 3342L799 3333L799 3312L804 3329ZM1062 3452L1059 3443L1063 3431L1066 3443ZM1109 3537L1114 3520L1127 3532ZM1325 3472L1308 3474L1300 3471L1310 3469ZM958 3454L975 3458L965 3468ZM1263 3449L1252 3442L1249 3428L1260 3436ZM1173 3303L1195 3315L1178 3328ZM1010 3303L991 3302L992 3290L1004 3283ZM995 3725L997 3746L969 3733ZM1176 3676L1171 3697L1159 3684ZM1280 3719L1291 3713L1296 3723L1290 3731ZM1124 3363L1103 3365L1114 3349ZM1090 3717L1071 3733L1064 3711ZM863 3254L866 3243L876 3231L872 3245ZM1085 3568L1096 3562L1120 3560L1100 3568ZM1213 3649L1217 3670L1193 3664ZM798 3561L805 3551L828 3538L813 3555ZM1126 3679L1107 3670L1125 3660ZM1212 3496L1210 3485L1218 3473L1218 3486ZM1203 3574L1218 3577L1219 3589L1201 3587ZM1257 3679L1262 3667L1277 3654L1268 3670ZM862 3596L883 3584L877 3618ZM1279 3584L1273 3557L1298 3572ZM1235 3605L1248 3601L1262 3604L1248 3607ZM886 3656L893 3668L874 3668ZM1312 3315L1301 3305L1298 3292L1308 3301ZM1284 3483L1280 3495L1269 3485ZM1126 3576L1140 3586L1122 3600ZM957 3677L928 3673L949 3659ZM1177 3339L1180 3317L1197 3333ZM1153 3716L1161 3711L1166 3721L1155 3725ZM1040 3491L1033 3471L1056 3476ZM1238 3431L1250 3441L1236 3452ZM1118 3424L1127 3418L1136 3421L1128 3426ZM1296 3405L1293 3430L1276 3408ZM1000 3713L989 3723L983 3708ZM1090 3691L1107 3705L1086 3705ZM1170 3725L1152 3744L1138 3723ZM988 3424L999 3419L1008 3423L999 3429ZM1065 3527L1054 3534L1051 3516ZM1128 3709L1115 3708L1109 3700L1120 3700ZM900 3515L891 3502L886 3484L896 3499ZM1218 3360L1217 3342L1228 3353ZM826 3416L836 3404L845 3420ZM855 3728L858 3715L867 3709L865 3720ZM791 3701L791 3718L780 3714L780 3701ZM1001 3407L991 3395L987 3377L997 3391ZM1055 3612L1046 3603L1055 3597L1063 3607ZM1239 3696L1223 3690L1236 3678ZM904 3517L916 3536L895 3536ZM1180 3431L1174 3414L1177 3406L1183 3416ZM808 3246L816 3240L836 3239L820 3247ZM874 3260L867 3241L885 3243ZM923 3503L920 3487L926 3476L930 3489ZM958 3633L961 3623L972 3608L967 3623ZM1228 3657L1245 3666L1233 3677ZM852 3602L845 3592L847 3578L854 3590ZM1224 3659L1224 3649L1235 3633L1232 3650ZM820 3601L806 3587L803 3577L813 3585ZM1265 3305L1258 3294L1270 3288L1279 3300ZM1274 3724L1262 3714L1260 3704L1269 3711ZM915 3392L901 3396L907 3381ZM832 3665L812 3653L830 3643ZM1248 3388L1254 3378L1273 3367L1260 3382ZM1049 3509L1045 3489L1061 3494ZM842 3346L847 3324L855 3311L853 3328ZM1209 3513L1191 3494L1218 3494ZM1164 3443L1158 3439L1153 3426L1162 3434ZM828 3355L838 3343L850 3351L839 3366ZM1148 3392L1139 3376L1138 3366L1144 3376Z" fill="#5c42b4"/>
</g></g>
<line x1="1218.0" y1="3701.0" x2="1282.0" y2="3701.0" stroke="#000" stroke-width="5.5" />
<clipPath id="clip16"><rect x="1409" y="3232" width="517" height="498"/></clipPath>
<g clip-path="url(#clip16)"><g filter="url(#soft)">
<rect x="1409" y="3232" width="517" height="498" fill="#eae7d4"/>
<path d="M1596 3471h3v3h-3zM1625 3454h3v3h-3zM1621 3560h3v3h-3zM1543 3548h3v3h-3zM1414 3382h3v3h-3zM1582 3303h3v3h-3zM1793 3386h3v3h-3zM1817 3708h3v3h-3zM1540 3677h3v3h-3zM1827 3564h3v3h-3zM1423 3459h3v3h-3zM1733 3380h3v3h-3zM1525 3386h3v3h-3zM1543 3624h3v3h-3zM1589 3443h3v3h-3zM1741 3704h3v3h-3zM1560 3254h3v3h-3zM1912 3647h3v3h-3zM1818 3493h3v3h-3zM1530 3309h3v3h-3zM1566 3462h3v3h-3zM1443 3580h3v3h-3zM1785 3239h3v3h-3zM1845 3477h3v3h-3zM1884 3469h3v3h-3zM1820 3458h3v3h-3zM1726 3481h3v3h-3zM1421 3304h3v3h-3zM1529 3434h3v3h-3zM1600 3501h3v3h-3zM1750 3431h3v3h-3zM1574 3487h3v3h-3zM1902 3622h3v3h-3zM1748 3639h3v3h-3zM1527 3282h3v3h-3zM1457 3293h3v3h-3zM1414 3544h3v3h-3zM1884 3289h3v3h-3zM1764 3700h3v3h-3zM1805 3308h3v3h-3zM1739 3359h3v3h-3zM1501 3238h3v3h-3zM1681 3690h3v3h-3zM1463 3305h3v3h-3zM1610 3251h3v3h-3zM1649 3596h3v3h-3zM1647 3251h3v3h-3zM1425 3331h3v3h-3zM1754 3693h3v3h-3zM1669 3283h3v3h-3zM1521 3439h3v3h-3zM1465 3290h3v3h-3zM1633 3651h3v3h-3zM1532 3672h3v3h-3zM1862 3448h3v3h-3zM1525 3324h3v3h-3zM1754 3643h3v3h-3zM1854 3336h3v3h-3zM1630 3243h3v3h-3zM1567 3379h3v3h-3zM1473 3270h3v3h-3zM1923 3384h3v3h-3zM1667 3498h3v3h-3zM1653 3526h3v3h-3zM1669 3476h3v3h-3zM1450 3547h3v3h-3zM1755 3593h3v3h-3zM1571 3462h3v3h-3zM1826 3594h3v3h-3zM1436 3399h3v3h-3zM1498 3586h3v3h-3zM1617 3427h3v3h-3zM1524 3458h3v3h-3zM1780 3546h3v3h-3zM1524 3429h3v3h-3zM1731 3260h3v3h-3zM1876 3243h3v3h-3zM1732 3305h3v3h-3zM1903 3577h3v3h-3zM1524 3483h3v3h-3zM1846 3657h3v3h-3zM1752 3550h3v3h-3zM1793 3688h3v3h-3zM1675 3538h3v3h-3zM1822 3486h3v3h-3zM1522 3521h3v3h-3zM1590 3588h3v3h-3zM1796 3683h3v3h-3zM1465 3243h3v3h-3zM1890 3596h3v3h-3zM1925 3637h3v3h-3zM1902 3309h3v3h-3zM1505 3537h3v3h-3zM1801 3291h3v3h-3zM1899 3346h3v3h-3zM1514 3449h3v3h-3zM1503 3277h3v3h-3zM1450 3248h3v3h-3zM1487 3570h3v3h-3zM1812 3617h3v3h-3zM1625 3607h3v3h-3zM1469 3663h3v3h-3zM1621 3293h3v3h-3zM1607 3328h3v3h-3zM1793 3418h3v3h-3zM1418 3328h3v3h-3zM1450 3706h3v3h-3zM1622 3622h3v3h-3zM1716 3437h3v3h-3zM1788 3507h3v3h-3zM1431 3727h3v3h-3zM1589 3557h3v3h-3zM1625 3711h3v3h-3zM1495 3260h3v3h-3zM1431 3431h3v3h-3zM1848 3455h3v3h-3zM1890 3303h3v3h-3zM1908 3315h3v3h-3zM1866 3329h3v3h-3zM1710 3538h3v3h-3zM1911 3437h3v3h-3zM1844 3258h3v3h-3zM1874 3490h3v3h-3zM1687 3715h3v3h-3zM1571 3538h3v3h-3zM1712 3383h3v3h-3zM1485 3446h3v3h-3zM1555 3536h3v3h-3zM1620 3273h3v3h-3zM1766 3692h3v3h-3zM1728 3380h3v3h-3zM1566 3709h3v3h-3zM1639 3593h3v3h-3zM1448 3637h3v3h-3zM1871 3362h3v3h-3zM1568 3556h3v3h-3zM1902 3623h3v3h-3zM1420 3289h3v3h-3zM1868 3432h3v3h-3zM1902 3456h3v3h-3zM1841 3341h3v3h-3zM1908 3468h3v3h-3zM1411 3331h3v3h-3zM1452 3441h3v3h-3zM1904 3716h3v3h-3zM1889 3436h3v3h-3zM1807 3602h3v3h-3zM1839 3715h3v3h-3zM1840 3613h3v3h-3zM1573 3317h3v3h-3zM1625 3377h3v3h-3zM1798 3310h3v3h-3zM1514 3596h3v3h-3zM1429 3274h3v3h-3zM1409 3242h3v3h-3zM1460 3600h3v3h-3zM1548 3285h3v3h-3zM1666 3410h3v3h-3zM1411 3265h3v3h-3zM1540 3441h3v3h-3zM1470 3441h3v3h-3zM1659 3694h3v3h-3zM1724 3384h3v3h-3zM1524 3323h3v3h-3zM1609 3707h3v3h-3zM1910 3306h3v3h-3zM1742 3612h3v3h-3zM1888 3610h3v3h-3zM1736 3277h3v3h-3zM1546 3700h3v3h-3zM1880 3673h3v3h-3zM1583 3621h3v3h-3zM1816 3429h3v3h-3zM1582 3461h3v3h-3zM1687 3241h3v3h-3zM1420 3730h3v3h-3zM1619 3436h3v3h-3zM1714 3495h3v3h-3zM1770 3497h3v3h-3zM1419 3254h3v3h-3zM1545 3412h3v3h-3zM1919 3480h3v3h-3zM1477 3648h3v3h-3zM1572 3442h3v3h-3zM1736 3590h3v3h-3zM1535 3438h3v3h-3zM1414 3698h3v3h-3zM1862 3640h3v3h-3zM1515 3544h3v3h-3zM1632 3307h3v3h-3zM1519 3666h3v3h-3zM1723 3529h3v3h-3zM1479 3524h3v3h-3zM1871 3332h3v3h-3zM1530 3697h3v3h-3zM1551 3461h3v3h-3zM1883 3598h3v3h-3zM1571 3398h3v3h-3zM1537 3252h3v3h-3zM1680 3305h3v3h-3zM1542 3644h3v3h-3zM1471 3272h3v3h-3zM1436 3547h3v3h-3zM1536 3366h3v3h-3zM1678 3596h3v3h-3zM1911 3262h3v3h-3zM1589 3240h3v3h-3zM1591 3564h3v3h-3zM1584 3446h3v3h-3zM1567 3720h3v3h-3zM1828 3675h3v3h-3zM1726 3677h3v3h-3zM1742 3278h3v3h-3zM1477 3705h3v3h-3zM1695 3599h3v3h-3zM1698 3678h3v3h-3zM1512 3312h3v3h-3zM1522 3597h3v3h-3zM1718 3496h3v3h-3zM1515 3443h3v3h-3zM1558 3280h3v3h-3zM1902 3630h3v3h-3zM1819 3418h3v3h-3zM1842 3636h3v3h-3zM1530 3708h3v3h-3zM1826 3260h3v3h-3zM1463 3275h3v3h-3zM1756 3310h3v3h-3zM1485 3249h3v3h-3zM1635 3384h3v3h-3zM1700 3321h3v3h-3zM1771 3544h3v3h-3zM1613 3713h3v3h-3zM1715 3502h3v3h-3zM1532 3382h3v3h-3zM1780 3405h3v3h-3zM1465 3441h3v3h-3zM1663 3303h3v3h-3zM1535 3693h3v3h-3zM1828 3450h3v3h-3zM1801 3553h3v3h-3zM1510 3505h3v3h-3zM1443 3533h3v3h-3zM1686 3283h3v3h-3zM1676 3353h3v3h-3zM1750 3724h3v3h-3zM1826 3265h3v3h-3zM1717 3506h3v3h-3zM1883 3373h3v3h-3zM1458 3416h3v3h-3zM1585 3652h3v3h-3zM1867 3530h3v3h-3zM1802 3449h3v3h-3zM1550 3449h3v3h-3zM1761 3393h3v3h-3zM1837 3459h3v3h-3zM1534 3486h3v3h-3zM1857 3412h3v3h-3zM1572 3487h3v3h-3zM1901 3628h3v3h-3zM1781 3356h3v3h-3zM1726 3567h3v3h-3zM1564 3494h3v3h-3zM1491 3688h3v3h-3zM1755 3555h3v3h-3zM1832 3612h3v3h-3zM1586 3536h3v3h-3zM1474 3573h3v3h-3zM1601 3495h3v3h-3zM1838 3379h3v3h-3zM1507 3630h3v3h-3zM1559 3681h3v3h-3zM1891 3311h3v3h-3zM1699 3701h3v3h-3zM1746 3551h3v3h-3zM1481 3449h3v3h-3zM1827 3232h3v3h-3zM1777 3386h3v3h-3zM1556 3647h3v3h-3zM1600 3481h3v3h-3zM1925 3383h3v3h-3zM1906 3389h3v3h-3zM1714 3259h3v3h-3zM1915 3464h3v3h-3zM1665 3711h3v3h-3zM1625 3244h3v3h-3zM1583 3243h3v3h-3zM1429 3667h3v3h-3zM1815 3591h3v3h-3zM1740 3421h3v3h-3zM1704 3382h3v3h-3zM1734 3621h3v3h-3zM1606 3366h3v3h-3zM1581 3341h3v3h-3zM1885 3647h3v3h-3zM1568 3284h3v3h-3zM1668 3608h3v3h-3zM1559 3610h3v3h-3zM1603 3330h3v3h-3zM1827 3590h3v3h-3zM1610 3583h3v3h-3zM1569 3612h3v3h-3zM1748 3513h3v3h-3zM1567 3547h3v3h-3zM1535 3716h3v3h-3zM1699 3609h3v3h-3zM1439 3290h3v3h-3zM1581 3327h3v3h-3zM1605 3534h3v3h-3zM1808 3288h3v3h-3zM1754 3294h3v3h-3zM1800 3660h3v3h-3zM1773 3406h3v3h-3zM1589 3593h3v3h-3zM1850 3289h3v3h-3zM1545 3667h3v3h-3zM1810 3340h3v3h-3zM1489 3256h3v3h-3zM1556 3655h3v3h-3zM1703 3317h3v3h-3zM1490 3283h3v3h-3zM1609 3299h3v3h-3zM1464 3508h3v3h-3zM1489 3237h3v3h-3zM1428 3620h3v3h-3zM1753 3237h3v3h-3zM1903 3660h3v3h-3zM1414 3673h3v3h-3zM1410 3340h3v3h-3zM1473 3506h3v3h-3zM1750 3341h3v3h-3zM1714 3624h3v3h-3zM1442 3316h3v3h-3zM1812 3234h3v3h-3zM1563 3367h3v3h-3zM1714 3239h3v3h-3zM1410 3533h3v3h-3zM1781 3259h3v3h-3zM1727 3337h3v3h-3zM1830 3561h3v3h-3zM1733 3352h3v3h-3zM1647 3719h3v3h-3zM1673 3564h3v3h-3zM1804 3373h3v3h-3zM1567 3717h3v3h-3zM1773 3320h3v3h-3zM1684 3391h3v3h-3zM1756 3568h3v3h-3zM1851 3512h3v3h-3zM1478 3491h3v3h-3zM1465 3464h3v3h-3zM1625 3413h3v3h-3zM1537 3314h3v3h-3zM1547 3559h3v3h-3zM1496 3471h3v3h-3zM1904 3713h3v3h-3zM1799 3489h3v3h-3zM1709 3472h3v3h-3zM1865 3451h3v3h-3zM1436 3674h3v3h-3zM1524 3686h3v3h-3zM1869 3373h3v3h-3zM1540 3663h3v3h-3zM1870 3477h3v3h-3zM1461 3483h3v3h-3zM1889 3413h3v3h-3zM1743 3678h3v3h-3zM1687 3404h3v3h-3zM1713 3373h3v3h-3zM1837 3340h3v3h-3zM1805 3494h3v3h-3zM1526 3682h3v3h-3zM1897 3305h3v3h-3zM1584 3677h3v3h-3zM1478 3599h3v3h-3zM1563 3465h3v3h-3zM1568 3254h3v3h-3zM1666 3688h3v3h-3zM1517 3584h3v3h-3zM1467 3676h3v3h-3zM1419 3350h3v3h-3zM1537 3547h3v3h-3zM1676 3567h3v3h-3zM1705 3660h3v3h-3zM1509 3340h3v3h-3zM1700 3619h3v3h-3zM1636 3684h3v3h-3zM1537 3671h3v3h-3zM1671 3594h3v3h-3zM1915 3679h3v3h-3zM1821 3573h3v3h-3zM1590 3594h3v3h-3zM1724 3517h3v3h-3zM1474 3673h3v3h-3zM1827 3701h3v3h-3zM1652 3403h3v3h-3zM1713 3681h3v3h-3zM1603 3410h3v3h-3zM1747 3729h3v3h-3zM1730 3630h3v3h-3zM1641 3268h3v3h-3zM1869 3472h3v3h-3zM1749 3376h3v3h-3zM1833 3308h3v3h-3zM1690 3686h3v3h-3zM1793 3264h3v3h-3zM1852 3713h3v3h-3zM1895 3353h3v3h-3zM1411 3504h3v3h-3zM1745 3302h3v3h-3zM1660 3258h3v3h-3zM1459 3689h3v3h-3zM1726 3370h3v3h-3zM1706 3303h3v3h-3zM1594 3581h3v3h-3zM1568 3278h3v3h-3zM1899 3281h3v3h-3zM1725 3441h3v3h-3zM1687 3599h3v3h-3zM1546 3451h3v3h-3zM1577 3449h3v3h-3zM1735 3443h3v3h-3zM1814 3566h3v3h-3zM1763 3427h3v3h-3zM1561 3515h3v3h-3zM1739 3476h3v3h-3zM1922 3326h3v3h-3zM1683 3718h3v3h-3zM1550 3600h3v3h-3zM1776 3685h3v3h-3zM1608 3384h3v3h-3zM1790 3604h3v3h-3zM1725 3491h3v3h-3zM1453 3470h3v3h-3zM1588 3604h3v3h-3zM1916 3482h3v3h-3zM1835 3421h3v3h-3zM1626 3559h3v3h-3zM1504 3464h3v3h-3zM1437 3407h3v3h-3zM1863 3723h3v3h-3zM1537 3515h3v3h-3zM1677 3247h3v3h-3zM1490 3564h3v3h-3zM1474 3669h3v3h-3zM1883 3368h3v3h-3zM1422 3270h3v3h-3zM1453 3677h3v3h-3zM1736 3722h3v3h-3zM1743 3620h3v3h-3zM1636 3556h3v3h-3zM1894 3306h3v3h-3zM1451 3249h3v3h-3zM1605 3379h3v3h-3zM1564 3439h3v3h-3zM1680 3464h3v3h-3zM1567 3669h3v3h-3zM1503 3620h3v3h-3zM1772 3247h3v3h-3zM1611 3688h3v3h-3zM1669 3274h3v3h-3zM1814 3313h3v3h-3zM1683 3605h3v3h-3zM1411 3722h3v3h-3zM1448 3240h3v3h-3zM1547 3245h3v3h-3zM1746 3447h3v3h-3zM1675 3521h3v3h-3zM1456 3410h3v3h-3zM1900 3672h3v3h-3zM1694 3479h3v3h-3zM1833 3687h3v3h-3zM1426 3441h3v3h-3zM1926 3607h3v3h-3zM1747 3573h3v3h-3zM1439 3585h3v3h-3zM1681 3264h3v3h-3zM1478 3335h3v3h-3zM1593 3343h3v3h-3zM1744 3583h3v3h-3zM1828 3529h3v3h-3zM1718 3483h3v3h-3zM1768 3591h3v3h-3zM1448 3630h3v3h-3zM1923 3723h3v3h-3zM1563 3343h3v3h-3zM1896 3640h3v3h-3zM1454 3494h3v3h-3zM1727 3271h3v3h-3zM1907 3338h3v3h-3zM1862 3331h3v3h-3zM1423 3341h3v3h-3zM1439 3586h3v3h-3zM1710 3351h3v3h-3zM1821 3364h3v3h-3zM1602 3354h3v3h-3zM1691 3695h3v3h-3zM1819 3647h3v3h-3zM1853 3572h3v3h-3zM1539 3501h3v3h-3zM1629 3502h3v3h-3zM1597 3323h3v3h-3zM1857 3565h3v3h-3zM1708 3479h3v3h-3zM1476 3476h3v3h-3zM1429 3448h3v3h-3zM1593 3481h3v3h-3zM1737 3309h3v3h-3zM1467 3300h3v3h-3zM1553 3564h3v3h-3zM1491 3448h3v3h-3zM1430 3652h3v3h-3zM1867 3674h3v3h-3zM1841 3280h3v3h-3zM1639 3373h3v3h-3zM1598 3513h3v3h-3zM1866 3642h3v3h-3zM1479 3563h3v3h-3zM1885 3523h3v3h-3zM1532 3600h3v3h-3zM1444 3328h3v3h-3zM1418 3402h3v3h-3zM1641 3585h3v3h-3zM1535 3264h3v3h-3zM1693 3280h3v3h-3zM1795 3515h3v3h-3zM1615 3498h3v3h-3zM1442 3523h3v3h-3zM1677 3713h3v3h-3zM1909 3681h3v3h-3zM1431 3345h3v3h-3zM1920 3686h3v3h-3zM1908 3568h3v3h-3zM1495 3415h3v3h-3zM1604 3638h3v3h-3zM1506 3525h3v3h-3zM1705 3704h3v3h-3zM1816 3614h3v3h-3zM1800 3460h3v3h-3zM1606 3488h3v3h-3zM1516 3698h3v3h-3zM1424 3509h3v3h-3zM1891 3705h3v3h-3zM1535 3374h3v3h-3zM1529 3727h3v3h-3zM1825 3427h3v3h-3zM1916 3509h3v3h-3zM1559 3554h3v3h-3zM1717 3667h3v3h-3zM1556 3718h3v3h-3zM1806 3353h3v3h-3zM1543 3280h3v3h-3zM1864 3442h3v3h-3zM1859 3539h3v3h-3zM1429 3294h3v3h-3zM1757 3316h3v3h-3zM1454 3618h3v3h-3zM1924 3428h3v3h-3zM1921 3727h3v3h-3zM1668 3510h3v3h-3zM1545 3711h3v3h-3zM1886 3596h3v3h-3zM1592 3387h3v3h-3zM1419 3697h3v3h-3zM1720 3398h3v3h-3zM1451 3555h3v3h-3zM1917 3639h3v3h-3zM1469 3577h3v3h-3zM1421 3713h3v3h-3zM1786 3451h3v3h-3zM1726 3467h3v3h-3zM1672 3526h3v3h-3zM1874 3562h3v3h-3zM1915 3474h3v3h-3zM1832 3556h3v3h-3zM1794 3623h3v3h-3zM1649 3664h3v3h-3zM1601 3253h3v3h-3zM1409 3710h3v3h-3zM1596 3398h3v3h-3zM1916 3272h3v3h-3zM1544 3614h3v3h-3zM1654 3529h3v3h-3zM1437 3618h3v3h-3zM1488 3473h3v3h-3zM1666 3722h3v3h-3zM1580 3359h3v3h-3zM1619 3461h3v3h-3zM1766 3551h3v3h-3zM1905 3442h3v3h-3zM1886 3436h3v3h-3zM1509 3525h3v3h-3zM1608 3348h3v3h-3zM1767 3705h3v3h-3zM1583 3695h3v3h-3zM1778 3370h3v3h-3zM1417 3452h3v3h-3zM1875 3514h3v3h-3zM1640 3627h3v3h-3zM1733 3643h3v3h-3zM1678 3553h3v3h-3zM1593 3691h3v3h-3zM1857 3331h3v3h-3zM1614 3238h3v3h-3zM1418 3679h3v3h-3zM1835 3656h3v3h-3zM1575 3377h3v3h-3zM1435 3506h3v3h-3zM1571 3513h3v3h-3zM1681 3532h3v3h-3zM1691 3366h3v3h-3zM1623 3332h3v3h-3zM1784 3340h3v3h-3zM1519 3709h3v3h-3zM1899 3707h3v3h-3zM1633 3487h3v3h-3zM1730 3580h3v3h-3zM1817 3568h3v3h-3zM1505 3643h3v3h-3zM1614 3379h3v3h-3zM1565 3248h3v3h-3zM1817 3552h3v3h-3zM1796 3556h3v3h-3zM1458 3269h3v3h-3zM1783 3704h3v3h-3zM1738 3588h3v3h-3zM1913 3358h3v3h-3zM1464 3262h3v3h-3zM1420 3284h3v3h-3zM1522 3677h3v3h-3zM1860 3501h3v3h-3zM1442 3458h3v3h-3zM1882 3728h3v3h-3zM1431 3268h3v3h-3zM1574 3489h3v3h-3zM1423 3613h3v3h-3zM1588 3438h3v3h-3zM1510 3638h3v3h-3zM1599 3354h3v3h-3zM1588 3674h3v3h-3zM1876 3499h3v3h-3zM1828 3627h3v3h-3zM1571 3639h3v3h-3zM1788 3462h3v3h-3zM1584 3501h3v3h-3zM1708 3542h3v3h-3zM1520 3663h3v3h-3zM1464 3289h3v3h-3zM1916 3244h3v3h-3zM1710 3490h3v3h-3zM1741 3628h3v3h-3zM1776 3664h3v3h-3zM1447 3390h3v3h-3zM1750 3478h3v3h-3zM1455 3585h3v3h-3zM1817 3241h3v3h-3zM1436 3325h3v3h-3zM1888 3581h3v3h-3zM1431 3637h3v3h-3zM1827 3665h3v3h-3zM1645 3637h3v3h-3zM1826 3448h3v3h-3zM1799 3286h3v3h-3zM1850 3321h3v3h-3zM1840 3651h3v3h-3zM1609 3664h3v3h-3zM1876 3684h3v3h-3zM1882 3676h3v3h-3zM1921 3391h3v3h-3zM1483 3582h3v3h-3zM1610 3436h3v3h-3zM1865 3728h3v3h-3zM1532 3288h3v3h-3zM1879 3639h3v3h-3zM1602 3500h3v3h-3zM1887 3435h3v3h-3zM1451 3489h3v3h-3zM1762 3717h3v3h-3zM1528 3432h3v3h-3zM1691 3354h3v3h-3zM1434 3668h3v3h-3zM1747 3705h3v3h-3zM1513 3701h3v3h-3zM1856 3512h3v3h-3zM1616 3336h3v3h-3zM1549 3321h3v3h-3zM1880 3462h3v3h-3zM1813 3323h3v3h-3zM1606 3276h3v3h-3zM1897 3320h3v3h-3zM1814 3729h3v3h-3zM1902 3284h3v3h-3zM1527 3401h3v3h-3zM1420 3568h3v3h-3zM1546 3534h3v3h-3zM1864 3320h3v3h-3zM1564 3354h3v3h-3zM1550 3425h3v3h-3zM1769 3595h3v3h-3zM1792 3691h3v3h-3zM1432 3462h3v3h-3zM1512 3543h3v3h-3zM1808 3301h3v3h-3zM1756 3549h3v3h-3zM1721 3670h3v3h-3zM1414 3374h3v3h-3zM1608 3308h3v3h-3zM1753 3701h3v3h-3zM1504 3656h3v3h-3zM1877 3725h3v3h-3zM1888 3394h3v3h-3zM1428 3580h3v3h-3zM1852 3550h3v3h-3zM1571 3399h3v3h-3zM1687 3253h3v3h-3zM1924 3556h3v3h-3zM1873 3696h3v3h-3zM1811 3465h3v3h-3zM1829 3644h3v3h-3zM1710 3417h3v3h-3zM1866 3275h3v3h-3zM1683 3477h3v3h-3zM1789 3526h3v3h-3zM1853 3477h3v3h-3zM1486 3693h3v3h-3zM1737 3704h3v3h-3zM1577 3237h3v3h-3zM1648 3523h3v3h-3zM1844 3467h3v3h-3zM1451 3653h3v3h-3zM1850 3261h3v3h-3zM1904 3536h3v3h-3zM1462 3714h3v3h-3zM1485 3647h3v3h-3zM1717 3702h3v3h-3zM1720 3677h3v3h-3zM1856 3548h3v3h-3zM1880 3533h3v3h-3zM1613 3589h3v3h-3zM1415 3548h3v3h-3zM1612 3363h3v3h-3zM1523 3569h3v3h-3zM1717 3413h3v3h-3zM1427 3254h3v3h-3zM1873 3363h3v3h-3zM1789 3520h3v3h-3zM1675 3293h3v3h-3zM1706 3246h3v3h-3zM1610 3574h3v3h-3zM1655 3330h3v3h-3zM1453 3648h3v3h-3zM1867 3389h3v3h-3zM1725 3323h3v3h-3zM1652 3326h3v3h-3zM1474 3284h3v3h-3zM1651 3369h3v3h-3zM1865 3337h3v3h-3zM1694 3442h3v3h-3zM1515 3710h3v3h-3zM1485 3373h3v3h-3zM1733 3582h3v3h-3zM1632 3583h3v3h-3zM1719 3332h3v3h-3zM1828 3317h3v3h-3zM1848 3587h3v3h-3zM1774 3598h3v3h-3zM1821 3617h3v3h-3zM1877 3484h3v3h-3zM1914 3242h3v3h-3zM1462 3415h3v3h-3zM1524 3332h3v3h-3zM1442 3530h3v3h-3zM1924 3316h3v3h-3zM1454 3681h3v3h-3zM1892 3676h3v3h-3zM1411 3433h3v3h-3zM1786 3418h3v3h-3zM1508 3642h3v3h-3zM1817 3575h3v3h-3zM1525 3580h3v3h-3zM1644 3318h3v3h-3zM1681 3646h3v3h-3zM1517 3566h3v3h-3zM1572 3368h3v3h-3zM1642 3270h3v3h-3zM1585 3308h3v3h-3zM1520 3604h3v3h-3zM1787 3337h3v3h-3zM1812 3717h3v3h-3zM1471 3562h3v3h-3zM1516 3290h3v3h-3zM1439 3687h3v3h-3zM1599 3443h3v3h-3zM1816 3519h3v3h-3zM1574 3704h3v3h-3zM1834 3589h3v3h-3zM1884 3509h3v3h-3zM1654 3447h3v3h-3zM1460 3328h3v3h-3zM1694 3647h3v3h-3zM1809 3337h3v3h-3zM1663 3466h3v3h-3zM1851 3305h3v3h-3zM1450 3664h3v3h-3zM1837 3398h3v3h-3zM1812 3328h3v3h-3zM1434 3701h3v3h-3zM1918 3561h3v3h-3zM1795 3272h3v3h-3zM1439 3378h3v3h-3zM1730 3542h3v3h-3zM1563 3524h3v3h-3zM1736 3381h3v3h-3zM1837 3514h3v3h-3zM1740 3260h3v3h-3zM1749 3239h3v3h-3zM1430 3334h3v3h-3zM1854 3454h3v3h-3zM1832 3564h3v3h-3zM1426 3313h3v3h-3zM1858 3529h3v3h-3zM1432 3333h3v3h-3zM1637 3590h3v3h-3zM1639 3644h3v3h-3zM1418 3418h3v3h-3zM1462 3510h3v3h-3zM1858 3448h3v3h-3zM1616 3314h3v3h-3zM1497 3577h3v3h-3zM1765 3623h3v3h-3zM1922 3376h3v3h-3zM1451 3717h3v3h-3zM1510 3655h3v3h-3zM1502 3703h3v3h-3zM1416 3566h3v3h-3zM1866 3517h3v3h-3zM1597 3722h3v3h-3zM1799 3503h3v3h-3zM1683 3725h3v3h-3zM1538 3384h3v3h-3zM1681 3562h3v3h-3zM1712 3727h3v3h-3zM1635 3501h3v3h-3zM1861 3344h3v3h-3zM1773 3366h3v3h-3zM1414 3361h3v3h-3zM1830 3423h3v3h-3zM1810 3517h3v3h-3zM1641 3286h3v3h-3zM1422 3549h3v3h-3zM1542 3387h3v3h-3zM1620 3637h3v3h-3zM1810 3357h3v3h-3zM1879 3610h3v3h-3zM1435 3282h3v3h-3zM1473 3629h3v3h-3zM1674 3563h3v3h-3zM1670 3414h3v3h-3zM1904 3380h3v3h-3zM1874 3562h3v3h-3zM1669 3714h3v3h-3zM1766 3277h3v3h-3zM1648 3672h3v3h-3zM1504 3712h3v3h-3zM1532 3470h3v3h-3zM1464 3327h3v3h-3zM1615 3630h3v3h-3zM1473 3565h3v3h-3zM1752 3524h3v3h-3zM1731 3421h3v3h-3zM1544 3591h3v3h-3zM1917 3549h3v3h-3zM1522 3403h3v3h-3zM1543 3649h3v3h-3zM1755 3466h3v3h-3zM1777 3445h3v3h-3zM1905 3513h3v3h-3zM1707 3712h3v3h-3zM1740 3281h3v3h-3zM1551 3423h3v3h-3zM1629 3666h3v3h-3zM1736 3680h3v3h-3zM1540 3365h3v3h-3zM1834 3535h3v3h-3zM1576 3480h3v3h-3zM1555 3388h3v3h-3zM1563 3700h3v3h-3zM1701 3399h3v3h-3zM1531 3537h3v3h-3zM1488 3579h3v3h-3zM1443 3288h3v3h-3zM1719 3610h3v3h-3zM1424 3531h3v3h-3zM1705 3303h3v3h-3zM1697 3531h3v3h-3zM1473 3610h3v3h-3zM1455 3397h3v3h-3zM1472 3307h3v3h-3zM1552 3331h3v3h-3zM1857 3684h3v3h-3zM1583 3665h3v3h-3zM1470 3441h3v3h-3zM1654 3317h3v3h-3zM1493 3375h3v3h-3zM1600 3563h3v3h-3zM1743 3709h3v3h-3zM1538 3573h3v3h-3zM1453 3625h3v3h-3zM1853 3498h3v3h-3zM1911 3467h3v3h-3zM1490 3242h3v3h-3zM1534 3538h3v3h-3zM1900 3480h3v3h-3zM1696 3315h3v3h-3zM1687 3642h3v3h-3zM1608 3381h3v3h-3zM1478 3293h3v3h-3zM1838 3685h3v3h-3zM1560 3617h3v3h-3zM1726 3608h3v3h-3zM1723 3573h3v3h-3zM1748 3678h3v3h-3zM1802 3372h3v3h-3zM1699 3663h3v3h-3zM1693 3707h3v3h-3zM1853 3376h3v3h-3zM1889 3259h3v3h-3zM1690 3643h3v3h-3zM1607 3689h3v3h-3zM1913 3247h3v3h-3zM1735 3726h3v3h-3zM1634 3614h3v3h-3zM1700 3484h3v3h-3zM1429 3659h3v3h-3zM1572 3386h3v3h-3zM1715 3512h3v3h-3zM1508 3543h3v3h-3zM1561 3512h3v3h-3zM1761 3506h3v3h-3zM1597 3362h3v3h-3zM1636 3337h3v3h-3zM1865 3723h3v3h-3zM1495 3399h3v3h-3zM1918 3365h3v3h-3zM1661 3584h3v3h-3zM1440 3402h3v3h-3zM1739 3273h3v3h-3zM1440 3553h3v3h-3zM1904 3307h3v3h-3zM1717 3447h3v3h-3zM1658 3415h3v3h-3zM1834 3637h3v3h-3zM1874 3468h3v3h-3zM1620 3572h3v3h-3zM1628 3346h3v3h-3zM1863 3420h3v3h-3zM1676 3661h3v3h-3zM1759 3465h3v3h-3zM1666 3558h3v3h-3zM1684 3498h3v3h-3zM1699 3462h3v3h-3zM1665 3356h3v3h-3zM1915 3264h3v3h-3zM1870 3620h3v3h-3zM1727 3593h3v3h-3zM1810 3544h3v3h-3zM1789 3383h3v3h-3zM1803 3274h3v3h-3zM1523 3518h3v3h-3zM1498 3266h3v3h-3zM1546 3652h3v3h-3zM1604 3537h3v3h-3zM1806 3429h3v3h-3zM1482 3438h3v3h-3zM1694 3625h3v3h-3zM1873 3688h3v3h-3zM1901 3438h3v3h-3zM1846 3329h3v3h-3zM1857 3602h3v3h-3zM1452 3632h3v3h-3zM1886 3487h3v3h-3zM1467 3596h3v3h-3zM1476 3527h3v3h-3zM1537 3448h3v3h-3zM1623 3321h3v3h-3zM1580 3445h3v3h-3zM1853 3233h3v3h-3zM1519 3684h3v3h-3zM1699 3536h3v3h-3zM1516 3468h3v3h-3zM1780 3477h3v3h-3zM1570 3402h3v3h-3zM1713 3253h3v3h-3zM1823 3529h3v3h-3zM1819 3426h3v3h-3zM1506 3578h3v3h-3zM1895 3412h3v3h-3zM1787 3572h3v3h-3zM1518 3476h3v3h-3zM1422 3410h3v3h-3zM1637 3729h3v3h-3zM1435 3328h3v3h-3zM1538 3251h3v3h-3zM1834 3281h3v3h-3zM1883 3274h3v3h-3zM1796 3480h3v3h-3zM1796 3397h3v3h-3zM1515 3266h3v3h-3zM1559 3321h3v3h-3zM1756 3433h3v3h-3zM1447 3424h3v3h-3zM1679 3422h3v3h-3zM1716 3320h3v3h-3zM1901 3363h3v3h-3zM1467 3633h3v3h-3zM1763 3399h3v3h-3zM1474 3467h3v3h-3zM1778 3315h3v3h-3zM1786 3671h3v3h-3zM1712 3601h3v3h-3zM1848 3428h3v3h-3zM1434 3251h3v3h-3zM1529 3479h3v3h-3zM1786 3515h3v3h-3zM1481 3726h3v3h-3zM1580 3270h3v3h-3zM1501 3681h3v3h-3zM1641 3490h3v3h-3zM1720 3679h3v3h-3zM1787 3499h3v3h-3zM1458 3387h3v3h-3zM1760 3445h3v3h-3zM1792 3686h3v3h-3zM1428 3705h3v3h-3zM1919 3552h3v3h-3zM1724 3431h3v3h-3zM1507 3456h3v3h-3zM1843 3585h3v3h-3zM1904 3721h3v3h-3zM1848 3487h3v3h-3zM1611 3515h3v3h-3zM1824 3307h3v3h-3zM1655 3374h3v3h-3zM1858 3602h3v3h-3zM1908 3590h3v3h-3zM1574 3710h3v3h-3zM1469 3558h3v3h-3zM1639 3672h3v3h-3zM1671 3551h3v3h-3zM1527 3709h3v3h-3zM1717 3482h3v3h-3zM1922 3400h3v3h-3zM1850 3688h3v3h-3zM1643 3314h3v3h-3zM1659 3530h3v3h-3zM1590 3241h3v3h-3zM1498 3565h3v3h-3zM1524 3642h3v3h-3zM1918 3596h3v3h-3zM1596 3436h3v3h-3zM1518 3711h3v3h-3zM1689 3264h3v3h-3zM1707 3399h3v3h-3zM1688 3561h3v3h-3zM1690 3582h3v3h-3zM1884 3587h3v3h-3zM1456 3721h3v3h-3zM1807 3538h3v3h-3zM1705 3383h3v3h-3zM1919 3577h3v3h-3zM1923 3611h3v3h-3zM1535 3426h3v3h-3zM1718 3503h3v3h-3zM1654 3388h3v3h-3zM1876 3500h3v3h-3zM1460 3669h3v3h-3zM1417 3591h3v3h-3zM1440 3261h3v3h-3zM1668 3233h3v3h-3zM1452 3675h3v3h-3zM1885 3427h3v3h-3zM1659 3555h3v3h-3zM1891 3707h3v3h-3zM1562 3275h3v3h-3zM1794 3591h3v3h-3zM1585 3406h3v3h-3zM1665 3396h3v3h-3zM1831 3514h3v3h-3zM1560 3359h3v3h-3zM1511 3523h3v3h-3zM1776 3338h3v3h-3zM1517 3505h3v3h-3zM1858 3424h3v3h-3zM1559 3300h3v3h-3zM1483 3360h3v3h-3zM1487 3601h3v3h-3zM1673 3674h3v3h-3zM1607 3347h3v3h-3zM1494 3624h3v3h-3zM1902 3612h3v3h-3zM1915 3358h3v3h-3zM1634 3669h3v3h-3zM1474 3294h3v3h-3zM1495 3646h3v3h-3zM1791 3691h3v3h-3zM1855 3669h3v3h-3zM1692 3619h3v3h-3zM1924 3682h3v3h-3zM1701 3383h3v3h-3zM1826 3687h3v3h-3zM1793 3382h3v3h-3zM1764 3234h3v3h-3zM1515 3527h3v3h-3zM1538 3331h3v3h-3zM1645 3589h3v3h-3zM1469 3561h3v3h-3zM1798 3587h3v3h-3zM1854 3276h3v3h-3zM1487 3498h3v3h-3zM1857 3381h3v3h-3zM1870 3327h3v3h-3zM1784 3499h3v3h-3zM1507 3628h3v3h-3zM1729 3665h3v3h-3zM1483 3558h3v3h-3zM1619 3285h3v3h-3zM1595 3506h3v3h-3zM1620 3247h3v3h-3zM1697 3688h3v3h-3zM1707 3346h3v3h-3zM1787 3489h3v3h-3zM1451 3728h3v3h-3zM1525 3384h3v3h-3zM1871 3649h3v3h-3zM1625 3267h3v3h-3zM1543 3361h3v3h-3zM1787 3649h3v3h-3zM1623 3247h3v3h-3zM1468 3300h3v3h-3zM1537 3683h3v3h-3zM1870 3618h3v3h-3zM1807 3249h3v3h-3zM1633 3556h3v3h-3zM1481 3373h3v3h-3zM1745 3422h3v3h-3zM1476 3448h3v3h-3zM1795 3447h3v3h-3zM1594 3696h3v3h-3zM1607 3552h3v3h-3zM1414 3435h3v3h-3zM1742 3661h3v3h-3zM1536 3448h3v3h-3zM1677 3384h3v3h-3zM1680 3692h3v3h-3zM1448 3258h3v3h-3zM1627 3483h3v3h-3zM1538 3350h3v3h-3zM1798 3643h3v3h-3zM1800 3364h3v3h-3zM1644 3340h3v3h-3zM1413 3598h3v3h-3zM1785 3630h3v3h-3zM1453 3650h3v3h-3zM1689 3527h3v3h-3zM1868 3313h3v3h-3zM1645 3615h3v3h-3zM1503 3581h3v3h-3zM1458 3662h3v3h-3zM1714 3388h3v3h-3zM1651 3693h3v3h-3zM1643 3712h3v3h-3zM1781 3351h3v3h-3zM1451 3271h3v3h-3zM1885 3616h3v3h-3zM1693 3439h3v3h-3zM1751 3458h3v3h-3zM1631 3408h3v3h-3zM1853 3501h3v3h-3zM1707 3586h3v3h-3zM1667 3649h3v3h-3zM1448 3418h3v3h-3zM1893 3712h3v3h-3zM1656 3382h3v3h-3zM1837 3267h3v3h-3zM1684 3370h3v3h-3zM1780 3652h3v3h-3zM1468 3608h3v3h-3zM1467 3706h3v3h-3zM1777 3526h3v3h-3zM1518 3455h3v3h-3zM1783 3313h3v3h-3zM1639 3444h3v3h-3zM1792 3676h3v3h-3zM1613 3642h3v3h-3zM1856 3599h3v3h-3zM1433 3246h3v3h-3zM1481 3367h3v3h-3zM1547 3473h3v3h-3zM1492 3599h3v3h-3zM1680 3717h3v3h-3zM1796 3325h3v3h-3zM1771 3262h3v3h-3zM1441 3354h3v3h-3zM1922 3672h3v3h-3zM1450 3486h3v3h-3zM1737 3623h3v3h-3zM1643 3589h3v3h-3zM1567 3352h3v3h-3zM1459 3566h3v3h-3zM1450 3243h3v3h-3zM1488 3277h3v3h-3zM1492 3570h3v3h-3zM1579 3508h3v3h-3zM1461 3267h3v3h-3zM1672 3454h3v3h-3zM1469 3668h3v3h-3zM1505 3436h3v3h-3zM1522 3645h3v3h-3zM1479 3274h3v3h-3zM1480 3717h3v3h-3zM1793 3659h3v3h-3zM1554 3268h3v3h-3zM1525 3275h3v3h-3zM1908 3619h3v3h-3zM1565 3286h3v3h-3zM1772 3289h3v3h-3zM1870 3659h3v3h-3zM1764 3577h3v3h-3zM1606 3378h3v3h-3zM1737 3525h3v3h-3zM1651 3516h3v3h-3zM1443 3384h3v3h-3zM1812 3500h3v3h-3zM1587 3291h3v3h-3zM1838 3720h3v3h-3zM1833 3302h3v3h-3zM1744 3467h3v3h-3zM1913 3262h3v3h-3zM1601 3351h3v3h-3zM1628 3257h3v3h-3zM1699 3669h3v3h-3zM1553 3712h3v3h-3zM1574 3518h3v3h-3zM1628 3237h3v3h-3zM1601 3526h3v3h-3zM1854 3693h3v3h-3zM1767 3593h3v3h-3zM1567 3602h3v3h-3zM1844 3252h3v3h-3zM1648 3399h3v3h-3zM1538 3274h3v3h-3zM1425 3613h3v3h-3zM1643 3240h3v3h-3zM1547 3629h3v3h-3zM1867 3349h3v3h-3zM1674 3588h3v3h-3zM1493 3480h3v3h-3zM1792 3434h3v3h-3zM1623 3443h3v3h-3zM1798 3407h3v3h-3zM1912 3535h3v3h-3zM1691 3266h3v3h-3zM1446 3464h3v3h-3zM1758 3723h3v3h-3zM1693 3511h3v3h-3zM1539 3345h3v3h-3zM1682 3293h3v3h-3zM1638 3730h3v3h-3zM1621 3633h3v3h-3zM1640 3386h3v3h-3zM1822 3546h3v3h-3zM1782 3440h3v3h-3zM1669 3685h3v3h-3zM1424 3670h3v3h-3zM1811 3249h3v3h-3zM1895 3538h3v3h-3zM1794 3642h3v3h-3zM1585 3577h3v3h-3zM1751 3450h3v3h-3zM1606 3444h3v3h-3zM1628 3534h3v3h-3zM1846 3551h3v3h-3zM1895 3334h3v3h-3zM1679 3729h3v3h-3zM1637 3521h3v3h-3zM1761 3367h3v3h-3zM1723 3617h3v3h-3z" fill="#6e6a80" opacity="0.7"/>
<path d="M1883 3269L1891 3259L1904 3257L1896 3267ZM1426 3692L1431 3685L1447 3686L1436 3694ZM1866 3445L1887 3440L1906 3442L1887 3446ZM1595 3602L1576 3617L1567 3598ZM1775 3521L1765 3539L1745 3518ZM1816 3447L1825 3467L1798 3460ZM1478 3540L1484 3522L1497 3505L1490 3524ZM1485 3377L1468 3367L1458 3355L1473 3362ZM1452 3285L1469 3275L1478 3276L1469 3284ZM1396 3485L1408 3478L1427 3476L1412 3484ZM1757 3644L1736 3644L1754 3627ZM1527 3559L1519 3558L1505 3545L1521 3550ZM1681 3569L1667 3577L1665 3567L1672 3559ZM1792 3492L1775 3495L1768 3487L1782 3476ZM1427 3289L1425 3306L1414 3305L1408 3289ZM1538 3339L1519 3336L1531 3319ZM1546 3641L1560 3647L1550 3659L1539 3657ZM1515 3236L1518 3215L1530 3220ZM1876 3279L1858 3268L1886 3260ZM1398 3559L1400 3542L1414 3543L1416 3558ZM1690 3270L1689 3281L1676 3288L1675 3270ZM1744 3563L1748 3543L1759 3529L1757 3548ZM1832 3648L1824 3635L1826 3627L1832 3635ZM1452 3569L1453 3584L1438 3575ZM1656 3343L1675 3332L1693 3331L1677 3341ZM1433 3449L1443 3448L1448 3456L1436 3462ZM1797 3552L1809 3580L1787 3582ZM1806 3677L1824 3678L1817 3691ZM1618 3563L1643 3556L1638 3575ZM1642 3287L1631 3285L1627 3273L1638 3277ZM1831 3507L1841 3532L1819 3530ZM1594 3480L1618 3502L1600 3511Z" fill="#3c1e9e"/>
<path d="M1839 3307L1848 3297L1862 3292L1852 3302ZM1570 3693L1548 3691L1567 3669ZM1501 3303L1497 3279L1503 3265L1506 3282ZM1408 3520L1430 3525L1408 3547ZM1514 3611L1491 3602L1517 3587ZM1566 3715L1567 3699L1580 3711ZM1452 3745L1451 3734L1457 3724L1458 3735ZM1650 3377L1654 3360L1670 3364ZM1617 3305L1624 3283L1637 3295ZM1896 3557L1908 3535L1919 3527L1912 3542ZM1638 3668L1647 3658L1669 3649L1653 3663ZM1946 3733L1924 3725L1915 3717L1930 3721ZM1846 3609L1831 3625L1819 3607ZM1888 3730L1890 3739L1879 3745L1874 3731ZM1655 3701L1646 3708L1641 3700L1648 3693ZM1441 3298L1437 3280L1451 3278L1455 3290ZM1513 3485L1505 3498L1500 3479ZM1576 3446L1574 3437L1581 3424L1582 3437ZM1557 3550L1567 3543L1571 3554L1559 3560ZM1920 3422L1904 3426L1903 3413ZM1906 3506L1892 3489L1912 3478ZM1476 3361L1470 3373L1453 3366L1460 3352ZM1480 3417L1460 3409L1474 3392ZM1870 3459L1855 3456L1869 3445ZM1610 3703L1644 3712L1620 3728ZM1903 3599L1909 3620L1885 3617ZM1454 3525L1460 3518L1470 3521L1462 3532ZM1523 3260L1511 3247L1511 3237L1520 3245ZM1632 3492L1639 3480L1651 3489L1646 3496ZM1710 3624L1722 3618L1747 3615L1726 3623ZM1850 3613L1847 3637L1832 3620ZM1688 3430L1669 3408L1692 3406ZM1445 3529L1452 3520L1474 3508L1459 3523ZM1506 3591L1486 3598L1494 3574ZM1709 3592L1700 3608L1688 3592ZM1737 3380L1748 3404L1721 3399Z" fill="#4626a8"/>
<path d="M1467 3678L1456 3685L1447 3671L1460 3661ZM1663 3245L1660 3227L1676 3231ZM1882 3645L1888 3632L1903 3641L1890 3656ZM1519 3243L1518 3223L1523 3212L1524 3226ZM1535 3736L1545 3723L1552 3736ZM1485 3548L1463 3524L1491 3525ZM1546 3506L1541 3513L1533 3513L1539 3499ZM1528 3461L1550 3472L1534 3484ZM1686 3371L1702 3349L1710 3367ZM1416 3446L1401 3458L1391 3441ZM1813 3560L1797 3540L1794 3527L1805 3539ZM1916 3297L1909 3288L1904 3269L1913 3284ZM1468 3698L1454 3696L1453 3687L1466 3683ZM1795 3628L1810 3636L1793 3645ZM1555 3514L1563 3506L1576 3507L1567 3515ZM1851 3630L1837 3623L1825 3606L1841 3616ZM1407 3749L1423 3734L1440 3727L1426 3741ZM1915 3381L1910 3367L1913 3354L1918 3367ZM1470 3361L1460 3381L1440 3361ZM1397 3507L1410 3497L1420 3507L1407 3519ZM1490 3257L1486 3240L1508 3249ZM1706 3401L1698 3415L1688 3402ZM1517 3602L1514 3611L1503 3611L1504 3602ZM1691 3257L1707 3250L1705 3269ZM1877 3366L1869 3348L1871 3338L1877 3349ZM1522 3266L1531 3253L1545 3264ZM1808 3422L1808 3434L1791 3435L1796 3419ZM1851 3622L1856 3610L1870 3619ZM1577 3545L1584 3537L1599 3529L1588 3540ZM1888 3557L1897 3577L1875 3575ZM1537 3663L1542 3655L1552 3655L1550 3664ZM1784 3595L1780 3584L1780 3567L1785 3582ZM1633 3621L1619 3622L1612 3616L1622 3614ZM1470 3595L1475 3618L1453 3613ZM1800 3578L1823 3570L1819 3595ZM1651 3372L1634 3392L1627 3370Z" fill="#331895"/>
<path d="M1482 3604L1498 3597L1492 3612ZM1721 3543L1722 3533L1737 3522L1731 3537ZM1464 3338L1473 3332L1484 3331L1475 3338ZM1799 3243L1789 3244L1777 3236L1790 3236ZM1837 3384L1830 3383L1818 3373L1831 3376ZM1909 3313L1894 3315L1876 3307L1894 3306ZM1776 3681L1781 3673L1799 3667L1788 3679ZM1559 3649L1559 3641L1569 3639L1568 3648ZM1915 3737L1899 3734L1879 3722L1900 3727ZM1508 3601L1515 3583L1527 3601ZM1893 3521L1902 3537L1886 3532ZM1413 3689L1400 3672L1411 3662L1421 3674ZM1506 3685L1501 3671L1515 3671L1516 3685ZM1709 3585L1722 3577L1726 3597ZM1414 3567L1415 3550L1421 3542L1422 3554ZM1479 3269L1483 3258L1495 3270ZM1790 3561L1785 3550L1792 3542L1796 3551ZM1877 3685L1887 3664L1897 3651L1890 3668ZM1852 3369L1832 3367L1817 3357L1835 3359ZM1557 3558L1542 3550L1532 3540L1546 3546ZM1415 3317L1425 3309L1440 3309L1429 3317ZM1936 3353L1926 3355L1918 3348L1928 3345ZM1468 3474L1467 3485L1459 3485L1459 3475ZM1608 3610L1600 3594L1620 3598ZM1423 3490L1423 3482L1433 3465L1430 3481ZM1908 3623L1927 3628L1916 3641ZM1639 3699L1632 3682L1636 3666L1643 3682ZM1461 3675L1476 3669L1497 3671L1478 3678ZM1538 3224L1549 3238L1532 3241ZM1600 3257L1592 3243L1613 3240L1618 3250ZM1728 3596L1742 3598L1739 3614L1722 3610ZM1662 3358L1671 3348L1681 3349L1675 3357ZM1483 3330L1496 3325L1490 3339Z" fill="#5232ae"/>
<path d="M1730 3518L1729 3506L1737 3499L1739 3510ZM1498 3722L1505 3713L1517 3716L1506 3732ZM1854 3573L1843 3555L1842 3537L1852 3553ZM1533 3543L1526 3533L1527 3524L1532 3532ZM1897 3386L1907 3378L1918 3379L1909 3386ZM1600 3251L1613 3265L1595 3266ZM1694 3416L1700 3408L1719 3407L1706 3416ZM1826 3713L1807 3721L1804 3699ZM1870 3604L1871 3620L1855 3608ZM1563 3369L1561 3350L1566 3342L1569 3354ZM1462 3409L1444 3410L1435 3404L1448 3402ZM1867 3720L1860 3709L1862 3702L1868 3708ZM1683 3644L1673 3638L1660 3620L1676 3632ZM1628 3342L1610 3340L1591 3329L1612 3332ZM1735 3634L1732 3615L1735 3604L1738 3617ZM1819 3548L1822 3582L1794 3574ZM1469 3688L1474 3676L1490 3660L1480 3677ZM1512 3498L1495 3481L1524 3479ZM1756 3750L1746 3742L1737 3728L1750 3737ZM1745 3672L1743 3655L1747 3644L1749 3657ZM1568 3313L1563 3302L1564 3290L1570 3301ZM1857 3513L1859 3503L1870 3496L1867 3508ZM1687 3566L1667 3563L1650 3553L1670 3556ZM1849 3618L1861 3606L1870 3615L1858 3627ZM1391 3465L1401 3441L1410 3431L1405 3447ZM1886 3718L1876 3719L1868 3715L1877 3714ZM1879 3618L1862 3610L1854 3600L1867 3605ZM1920 3338L1923 3354L1906 3343ZM1449 3572L1429 3571L1444 3550ZM1877 3369L1851 3371L1853 3343ZM1668 3627L1692 3622L1684 3646ZM1417 3580L1415 3594L1402 3595L1402 3579ZM1763 3549L1756 3544L1757 3532L1765 3540ZM1435 3556L1431 3544L1437 3536L1441 3546ZM1837 3403L1829 3420L1810 3403ZM1511 3507L1516 3485L1525 3477L1523 3491ZM1821 3632L1802 3611L1827 3616Z" fill="#3f22a2"/>
<path d="M1532 3299L1526 3303L1513 3297L1525 3293ZM1472 3712L1470 3696L1483 3693L1484 3712ZM1453 3696L1451 3688L1462 3679L1461 3692ZM1871 3291L1869 3278L1879 3275L1879 3288ZM1532 3298L1550 3289L1563 3290L1550 3298ZM1895 3386L1915 3394L1899 3408ZM1494 3391L1480 3401L1471 3391L1478 3380ZM1414 3648L1412 3668L1394 3660ZM1774 3494L1772 3524L1758 3506ZM1617 3456L1605 3457L1586 3447L1605 3449ZM1704 3356L1690 3336L1686 3324L1696 3336ZM1711 3516L1698 3513L1700 3500ZM1626 3628L1608 3617L1604 3606L1617 3611ZM1414 3659L1404 3655L1394 3642L1408 3649ZM1433 3673L1426 3675L1412 3671L1424 3669ZM1636 3565L1627 3565L1619 3552L1632 3555ZM1621 3435L1588 3438L1603 3421ZM1696 3379L1698 3363L1704 3353L1703 3366ZM1780 3471L1767 3467L1748 3450L1769 3460ZM1756 3643L1760 3633L1778 3627L1768 3641ZM1724 3665L1721 3656L1730 3645L1731 3658ZM1913 3687L1923 3675L1944 3670L1930 3684ZM1613 3668L1617 3644L1626 3633L1625 3650ZM1616 3282L1623 3271L1645 3255L1630 3274ZM1842 3371L1861 3361L1872 3362L1861 3369ZM1695 3645L1704 3650L1702 3659L1693 3658ZM1742 3367L1757 3353L1774 3349L1761 3362ZM1721 3675L1734 3668L1753 3671L1737 3678ZM1885 3679L1893 3682L1889 3694L1877 3689ZM1874 3297L1854 3288L1877 3275ZM1784 3669L1768 3668L1776 3654Z" fill="#5c42b4"/>
</g></g>
<line x1="1845.0" y1="3700.0" x2="1911.0" y2="3700.0" stroke="#000" stroke-width="5.5" />
</svg>
</body></html>
